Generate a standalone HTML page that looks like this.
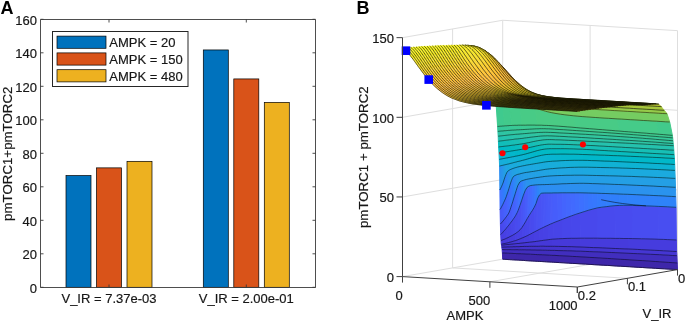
<!DOCTYPE html>
<html><head><meta charset="utf-8"><style>
html,body{margin:0;padding:0;background:#fff;}
body{width:685px;height:323px;overflow:hidden;}
svg{display:block;will-change:transform;}
.t{font-family:"Liberation Sans",sans-serif;font-size:13px;fill:#161616;stroke:#161616;stroke-width:0.18px;}
.al{font-family:"Liberation Sans",sans-serif;font-size:13.3px;fill:#161616;stroke:#161616;stroke-width:0.18px;}
.lab{font-family:"Liberation Sans",sans-serif;font-size:18px;font-weight:bold;fill:#000;}
.e{fill:none;stroke:#000;stroke-width:0.5;}
.es{fill:none;stroke:#000;stroke-width:0.6;}
</style></head><body>
<svg width="685" height="323" viewBox="0 0 685 323">
<rect width="685" height="323" fill="#fff"/>
<rect x="66.00" y="175.58" width="25" height="111.72" fill="#0072BD" stroke="#000" stroke-width="0.7"/>
<rect x="96.50" y="167.87" width="25" height="119.43" fill="#D95319" stroke="#000" stroke-width="0.7"/>
<rect x="127.00" y="161.34" width="25" height="125.96" fill="#EDB120" stroke="#000" stroke-width="0.7"/>
<rect x="203.30" y="49.95" width="25" height="237.35" fill="#0072BD" stroke="#000" stroke-width="0.7"/>
<rect x="233.80" y="78.93" width="25" height="208.37" fill="#D95319" stroke="#000" stroke-width="0.7"/>
<rect x="264.30" y="102.38" width="25" height="184.92" fill="#EDB120" stroke="#000" stroke-width="0.7"/>
<path d="M40.5,19.5H315.5V287.5H40.5Z" fill="none" stroke="#3a3a3a" stroke-width="0.9"/>
<path d="M40.5,287.30h3M315.5,287.30h-3" stroke="#3a3a3a" stroke-width="0.9"/>
<text x="37" y="292.80" class="t" text-anchor="end">0</text>
<path d="M40.5,253.80h3M315.5,253.80h-3" stroke="#3a3a3a" stroke-width="0.9"/>
<text x="37" y="259.30" class="t" text-anchor="end">20</text>
<path d="M40.5,220.30h3M315.5,220.30h-3" stroke="#3a3a3a" stroke-width="0.9"/>
<text x="37" y="225.80" class="t" text-anchor="end">40</text>
<path d="M40.5,186.80h3M315.5,186.80h-3" stroke="#3a3a3a" stroke-width="0.9"/>
<text x="37" y="192.30" class="t" text-anchor="end">60</text>
<path d="M40.5,153.30h3M315.5,153.30h-3" stroke="#3a3a3a" stroke-width="0.9"/>
<text x="37" y="158.80" class="t" text-anchor="end">80</text>
<path d="M40.5,119.80h3M315.5,119.80h-3" stroke="#3a3a3a" stroke-width="0.9"/>
<text x="37" y="125.30" class="t" text-anchor="end">100</text>
<path d="M40.5,86.30h3M315.5,86.30h-3" stroke="#3a3a3a" stroke-width="0.9"/>
<text x="37" y="91.80" class="t" text-anchor="end">120</text>
<path d="M40.5,52.80h3M315.5,52.80h-3" stroke="#3a3a3a" stroke-width="0.9"/>
<text x="37" y="58.30" class="t" text-anchor="end">140</text>
<path d="M40.5,19.30h3M315.5,19.30h-3" stroke="#3a3a3a" stroke-width="0.9"/>
<text x="37" y="24.80" class="t" text-anchor="end">160</text>
<path d="M109.00,287.5v-3M109.00,19.5v3" stroke="#3a3a3a" stroke-width="0.9"/>
<path d="M246.30,287.5v-3M246.30,19.5v3" stroke="#3a3a3a" stroke-width="0.9"/>
<text x="109" y="303" class="t" text-anchor="middle">V_IR = 7.37e-03</text>
<text x="246.3" y="303" class="t" text-anchor="middle">V_IR = 2.00e-01</text>
<text transform="translate(12.3,153.75) rotate(-90)" class="al" text-anchor="middle">pmTORC1+pmTORC2</text>
<rect x="52.5" y="31.5" width="135.5" height="55" fill="#fff" stroke="#262626" stroke-width="1"/>
<rect x="57" y="36.10" width="49" height="12.2" fill="#0072BD" stroke="#000" stroke-width="0.7"/>
<text x="109.3" y="46.90" class="t">AMPK = 20</text>
<rect x="57" y="52.90" width="49" height="12.2" fill="#D95319" stroke="#000" stroke-width="0.7"/>
<text x="109.3" y="63.70" class="t">AMPK = 150</text>
<rect x="57" y="69.70" width="49" height="12.2" fill="#EDB120" stroke="#000" stroke-width="0.7"/>
<text x="109.3" y="80.50" class="t">AMPK = 480</text>
<text x="0.5" y="14.3" class="lab">A</text>
<path d="M402.50,276.60L502.70,259.20" stroke="#dedede" stroke-width="1" fill="none"/>
<path d="M489.90,281.80L590.10,264.40" stroke="#dedede" stroke-width="1" fill="none"/>
<path d="M452.60,267.90L627.40,278.30" stroke="#dedede" stroke-width="1" fill="none"/>
<path d="M502.70,259.20L677.50,269.60" stroke="#dedede" stroke-width="1" fill="none"/>
<path d="M452.60,267.90L452.60,28.95" stroke="#dedede" stroke-width="1" fill="none"/>
<path d="M502.70,259.20L502.70,20.25" stroke="#dedede" stroke-width="1" fill="none"/>
<path d="M402.50,196.95L502.70,179.55" stroke="#dedede" stroke-width="1" fill="none"/>
<path d="M402.50,117.30L502.70,99.90" stroke="#dedede" stroke-width="1" fill="none"/>
<path d="M402.50,37.65L502.70,20.25" stroke="#dedede" stroke-width="1" fill="none"/>
<path d="M590.10,264.40L590.10,25.45" stroke="#dedede" stroke-width="1" fill="none"/>
<path d="M677.50,269.60L677.50,30.65" stroke="#dedede" stroke-width="1" fill="none"/>
<path d="M502.70,179.55L677.50,189.95" stroke="#dedede" stroke-width="1" fill="none"/>
<path d="M502.70,99.90L677.50,110.30" stroke="#dedede" stroke-width="1" fill="none"/>
<path d="M502.70,20.25L677.50,30.65" stroke="#dedede" stroke-width="1" fill="none"/>
<path d="M502.7,259.2 503.6,259.3 504.4,259.3 505.3,259.4 506.2,259.4 507.1,259.5 507.9,259.5 508.8,259.6 509.7,259.6 510.6,259.7 511.4,259.7 512.3,259.8 513.2,259.8 514.1,259.9 514.9,259.9 515.8,260 516.7,260 517.6,260.1 518.4,260.1 519.3,260.2 520.2,260.2 521.9,260.3 523.7,260.4 525.4,260.6 527.2,260.7 528.9,260.8 530.7,260.9 532.4,261 534.2,261.1 535.9,261.2 537.7,261.3 539.4,261.4 541.2,261.5 542.9,261.6 544.7,261.7 546.4,261.8 548.1,261.9 549.9,262 551.6,262.1 553.4,262.2 555.1,262.3 559.5,262.6 563.9,262.8 568.2,263.1 572.6,263.4 577,263.6 581.4,263.9 585.7,264.1 590.1,264.4 594.5,264.7 598.8,264.9 603.2,265.2 607.6,265.4 612,265.7 616.3,266 620.7,266.2 625.1,266.5 629.4,266.7 633.8,267 638.2,267.3 642.5,267.5 646.9,267.8 651.3,268 655.6,268.3 660,268.6 664.4,268.8 668.8,269.1 673.1,269.3 677.5,269.6 677.2,263 672.8,262.7 668.5,262.4 664.1,262.1 659.7,261.8 655.4,261.5 651,261.2 646.6,260.9 642.3,260.6 637.9,260.4 633.5,260.1 629.1,259.8 624.8,259.5 620.4,259.3 616,259 611.7,258.7 607.3,258.4 602.9,258.2 598.6,257.9 594.2,257.6 589.8,257.4 585.4,257.1 581.1,256.9 576.7,256.6 572.3,256.4 568,256.1 563.6,255.9 559.2,255.7 554.9,255.4 553.1,255.4 551.4,255.3 549.6,255.2 547.9,255.1 546.1,255 544.4,254.9 542.6,254.8 540.9,254.7 539.1,254.7 537.4,254.6 535.6,254.5 533.9,254.4 532.1,254.3 530.4,254.2 528.6,254.1 526.9,254.1 525.1,254 523.4,253.9 521.6,253.8 519.9,253.7 519,253.7 518.1,253.7 517.3,253.6 516.4,253.6 515.5,253.5 514.7,253.5 513.8,253.5 512.9,253.4 512,253.4 511.2,253.3 510.3,253.3 509.4,253.3 508.5,253.2 507.7,253.2 506.8,253.1 505.9,253.1 505,253.1 504.2,253 503.3,253 502.4,253Z" fill="#3e27aa" stroke="#3e27aa" stroke-width="1.0"/>
<path class="e" d="M502.7,259.2 503.6,259.3 504.4,259.3 505.3,259.4 506.2,259.4 507.1,259.5 507.9,259.5 508.8,259.6 509.7,259.6 510.6,259.7 511.4,259.7 512.3,259.8 513.2,259.8 514.1,259.9 514.9,259.9 515.8,260 516.7,260 517.6,260.1 518.4,260.1 519.3,260.2 520.2,260.2 521.9,260.3 523.7,260.4 525.4,260.6 527.2,260.7 528.9,260.8 530.7,260.9 532.4,261 534.2,261.1 535.9,261.2 537.7,261.3 539.4,261.4 541.2,261.5 542.9,261.6 544.7,261.7 546.4,261.8 548.1,261.9 549.9,262 551.6,262.1 553.4,262.2 555.1,262.3 559.5,262.6 563.9,262.8 568.2,263.1 572.6,263.4 577,263.6 581.4,263.9 585.7,264.1 590.1,264.4 594.5,264.7 598.8,264.9 603.2,265.2 607.6,265.4 612,265.7 616.3,266 620.7,266.2 625.1,266.5 629.4,266.7 633.8,267 638.2,267.3 642.5,267.5 646.9,267.8 651.3,268 655.6,268.3 660,268.6 664.4,268.8 668.8,269.1 673.1,269.3 677.5,269.6"/>
<path d="M502.4,253 503.3,253 504.2,253 505,253.1 505.9,253.1 506.8,253.1 507.7,253.2 508.5,253.2 509.4,253.3 510.3,253.3 511.2,253.3 512,253.4 512.9,253.4 513.8,253.5 514.7,253.5 515.5,253.5 516.4,253.6 517.3,253.6 518.1,253.7 519,253.7 519.9,253.7 521.6,253.8 523.4,253.9 525.1,254 526.9,254.1 528.6,254.1 530.4,254.2 532.1,254.3 533.9,254.4 535.6,254.5 537.4,254.6 539.1,254.7 540.9,254.7 542.6,254.8 544.4,254.9 546.1,255 547.9,255.1 549.6,255.2 551.4,255.3 553.1,255.4 554.9,255.4 559.2,255.7 563.6,255.9 568,256.1 572.3,256.4 576.7,256.6 581.1,256.9 585.4,257.1 589.8,257.4 594.2,257.6 598.6,257.9 602.9,258.2 607.3,258.4 611.7,258.7 616,259 620.4,259.3 624.8,259.5 629.1,259.8 633.5,260.1 637.9,260.4 642.3,260.6 646.6,260.9 651,261.2 655.4,261.5 659.7,261.8 664.1,262.1 668.5,262.4 672.8,262.7 677.2,263 676.9,255.7 672.6,255.5 668.2,255.2 663.8,255 659.5,254.7 655.1,254.5 650.7,254.3 646.3,254.1 642,253.9 637.6,253.7 633.2,253.5 628.9,253.3 624.5,253.1 620.1,252.9 615.8,252.7 611.4,252.5 607,252.3 602.6,252.1 598.3,251.9 593.9,251.8 589.5,251.6 585.2,251.4 580.8,251.2 576.4,251.1 572.1,250.9 567.7,250.8 563.3,250.7 558.9,250.6 554.6,250.4 552.8,250.4 551.1,250.4 549.3,250.3 547.6,250.3 545.8,250.2 544.1,250.2 542.3,250.2 540.6,250.1 538.8,250.1 537.1,250.1 535.3,250 533.6,250 531.8,250 530.1,249.9 528.4,249.9 526.6,249.9 524.9,249.8 523.1,249.8 521.4,249.8 519.6,249.8 518.7,249.8 517.9,249.7 517,249.7 516.1,249.7 515.2,249.7 514.4,249.7 513.5,249.7 512.6,249.7 511.7,249.7 510.9,249.7 510,249.6 509.1,249.6 508.3,249.6 507.4,249.6 506.5,249.6 505.6,249.6 504.8,249.6 503.9,249.6 503,249.6 502.1,249.5Z" fill="#412ebe" stroke="#412ebe" stroke-width="1.0"/>
<path class="e" d="M502.4,253 503.3,253 504.2,253 505,253.1 505.9,253.1 506.8,253.1 507.7,253.2 508.5,253.2 509.4,253.3 510.3,253.3 511.2,253.3 512,253.4 512.9,253.4 513.8,253.5 514.7,253.5 515.5,253.5 516.4,253.6 517.3,253.6 518.1,253.7 519,253.7 519.9,253.7 521.6,253.8 523.4,253.9 525.1,254 526.9,254.1 528.6,254.1 530.4,254.2 532.1,254.3 533.9,254.4 535.6,254.5 537.4,254.6 539.1,254.7 540.9,254.7 542.6,254.8 544.4,254.9 546.1,255 547.9,255.1 549.6,255.2 551.4,255.3 553.1,255.4 554.9,255.4 559.2,255.7 563.6,255.9 568,256.1 572.3,256.4 576.7,256.6 581.1,256.9 585.4,257.1 589.8,257.4 594.2,257.6 598.6,257.9 602.9,258.2 607.3,258.4 611.7,258.7 616,259 620.4,259.3 624.8,259.5 629.1,259.8 633.5,260.1 637.9,260.4 642.3,260.6 646.6,260.9 651,261.2 655.4,261.5 659.7,261.8 664.1,262.1 668.5,262.4 672.8,262.7 677.2,263"/>
<path d="M502.1,249.5 503,249.6 503.9,249.6 503.6,247.1 502.7,247.1 501.8,247.2Z" fill="#4331c6" stroke="#4331c6" stroke-width="1.0"/>
<path d="M503.9,249.6 504.8,249.6 505.6,249.6 506.5,249.6 507.4,249.6 508.3,249.6 509.1,249.6 510,249.6 510.9,249.7 511.7,249.7 512.6,249.7 513.5,249.7 514.4,249.7 515.2,249.7 516.1,249.7 517,249.7 517.9,249.7 518.7,249.8 519.6,249.8 521.4,249.8 523.1,249.8 522.8,246.5 521.1,246.5 519.3,246.6 518.5,246.6 517.6,246.6 516.7,246.6 515.8,246.7 515,246.7 514.1,246.7 513.2,246.7 512.3,246.8 511.5,246.8 510.6,246.8 509.7,246.9 508.8,246.9 508,246.9 507.1,246.9 506.2,247 505.3,247 504.5,247 503.6,247.1Z" fill="#4332c9" stroke="#4332c9" stroke-width="1.0"/>
<path d="M523.1,249.8 524.9,249.8 526.6,249.9 528.4,249.9 530.1,249.9 531.8,250 533.6,250 535.3,250 537.1,250.1 538.8,250.1 540.6,250.1 542.3,250.2 544.1,250.2 543.8,246.2 542.1,246.2 540.3,246.2 538.6,246.3 536.8,246.3 535.1,246.3 533.3,246.3 531.6,246.3 529.8,246.3 528.1,246.4 526.3,246.4 524.6,246.4 522.8,246.5Z" fill="#4433cc" stroke="#4433cc" stroke-width="1.0"/>
<path d="M544.1,250.2 545.8,250.2 547.6,250.3 549.3,250.3 551.1,250.4 552.8,250.4 554.6,250.4 558.9,250.6 563.3,250.7 567.7,250.8 572.1,250.9 571.8,246.7 567.4,246.6 563,246.5 558.7,246.4 554.3,246.3 552.5,246.3 550.8,246.3 549,246.3 547.3,246.3 545.5,246.3 543.8,246.2Z" fill="#4434ce" stroke="#4434ce" stroke-width="1.0"/>
<path d="M572.1,250.9 576.4,251.1 580.8,251.2 585.2,251.4 589.5,251.6 593.9,251.8 598.3,251.9 602.6,252.1 607,252.3 611.4,252.5 615.8,252.7 615.5,248.5 611.1,248.3 606.7,248.1 602.4,247.9 598,247.7 593.6,247.6 589.2,247.4 584.9,247.2 580.5,247 576.1,246.9 571.8,246.7Z" fill="#4435d1" stroke="#4435d1" stroke-width="1.0"/>
<path d="M615.8,252.7 620.1,252.9 624.5,253.1 628.9,253.3 633.2,253.5 637.6,253.7 642,253.9 646.3,254.1 650.7,254.3 655.1,254.5 659.5,254.7 663.8,255 668.2,255.2 672.6,255.5 676.9,255.7 676.6,251.5 672.3,251.3 667.9,251 663.5,250.8 659.2,250.5 654.8,250.3 650.4,250.1 646.1,249.9 641.7,249.7 637.3,249.4 632.9,249.2 628.6,249 624.2,248.9 619.8,248.7 615.5,248.5Z" fill="#4536d3" stroke="#4536d3" stroke-width="1.0"/>
<path class="e" d="M502.1,249.5 503,249.6 503.9,249.6 504.8,249.6 505.6,249.6 506.5,249.6 507.4,249.6 508.3,249.6 509.1,249.6 510,249.6 510.9,249.7 511.7,249.7 512.6,249.7 513.5,249.7 514.4,249.7 515.2,249.7 516.1,249.7 517,249.7 517.9,249.7 518.7,249.8 519.6,249.8 521.4,249.8 523.1,249.8 524.9,249.8 526.6,249.9 528.4,249.9 530.1,249.9 531.8,250 533.6,250 535.3,250 537.1,250.1 538.8,250.1 540.6,250.1 542.3,250.2 544.1,250.2 545.8,250.2 547.6,250.3 549.3,250.3 551.1,250.4 552.8,250.4 554.6,250.4 558.9,250.6 563.3,250.7 567.7,250.8 572.1,250.9 576.4,251.1 580.8,251.2 585.2,251.4 589.5,251.6 593.9,251.8 598.3,251.9 602.6,252.1 607,252.3 611.4,252.5 615.8,252.7 620.1,252.9 624.5,253.1 628.9,253.3 633.2,253.5 637.6,253.7 642,253.9 646.3,254.1 650.7,254.3 655.1,254.5 659.5,254.7 663.8,255 668.2,255.2 672.6,255.5 676.9,255.7"/>
<path d="M501.8,247.2 502.7,247.1 503.6,247.1 504.5,247 505.3,247 505.1,244.8 504.2,244.9 503.3,245 502.4,245.1 501.6,245.2Z" fill="#4434ce" stroke="#4434ce" stroke-width="1.0"/>
<path d="M505.3,247 506.2,247 507.1,246.9 508,246.9 508.8,246.9 509.7,246.9 510.6,246.8 511.5,246.8 512.3,246.8 513.2,246.7 514.1,246.7 513.8,243.9 512.9,244 512.1,244.1 511.2,244.2 510.3,244.3 509.4,244.4 508.6,244.5 507.7,244.5 506.8,244.6 505.9,244.7 505.1,244.8Z" fill="#4435d1" stroke="#4435d1" stroke-width="1.0"/>
<path d="M514.1,246.7 515,246.7 515.8,246.7 516.7,246.6 517.6,246.6 518.5,246.6 519.3,246.6 521.1,246.5 522.8,246.5 524.6,246.4 524.3,242.8 522.5,243 520.8,243.2 519,243.4 518.2,243.5 517.3,243.5 516.4,243.6 515.5,243.7 514.7,243.8 513.8,243.9Z" fill="#4536d3" stroke="#4536d3" stroke-width="1.0"/>
<path d="M524.6,246.4 526.3,246.4 528.1,246.4 529.8,246.3 531.6,246.3 533.3,246.3 535.1,246.3 536.8,246.3 536.5,241.3 534.8,241.6 533,241.8 531.3,242 529.5,242.2 527.8,242.4 526,242.6 524.3,242.8Z" fill="#4537d6" stroke="#4537d6" stroke-width="1.0"/>
<path d="M536.8,246.3 538.6,246.3 540.3,246.2 542.1,246.2 543.8,246.2 545.5,246.3 547.3,246.3 549,246.3 550.8,246.3 552.5,246.3 552.3,239.2 550.5,239.4 548.8,239.6 547,239.9 545.3,240.1 543.5,240.3 541.8,240.6 540,240.8 538.3,241.1 536.5,241.3Z" fill="#4538d8" stroke="#4538d8" stroke-width="1.0"/>
<path d="M552.5,246.3 554.3,246.3 558.7,246.4 563,246.5 567.4,246.6 571.8,246.7 576.1,246.9 580.5,247 580.2,238.2 575.9,238.3 571.5,238.3 567.1,238.4 562.7,238.6 558.4,238.8 554,239.1 552.3,239.2Z" fill="#4639da" stroke="#4639da" stroke-width="1.0"/>
<path d="M580.5,247 584.9,247.2 589.2,247.4 593.6,247.6 598,247.7 602.4,247.9 606.7,248.1 611.1,248.3 615.5,248.5 619.8,248.7 624.2,248.9 628.6,249 628.3,238.5 623.9,238.5 619.6,238.4 615.2,238.4 610.8,238.3 606.4,238.3 602.1,238.3 597.7,238.2 593.3,238.2 589,238.2 584.6,238.2 580.2,238.2Z" fill="#463bdc" stroke="#463bdc" stroke-width="1.0"/>
<path d="M628.6,249 632.9,249.2 637.3,249.4 641.7,249.7 646.1,249.9 650.4,250.1 654.8,250.3 659.2,250.5 663.5,250.8 667.9,251 672.3,251.3 676.6,251.5 676.4,240 672,239.8 667.6,239.6 663.3,239.4 658.9,239.3 654.5,239.1 650.1,239 645.8,238.9 641.4,238.8 637,238.7 632.7,238.6 628.3,238.5Z" fill="#463cde" stroke="#463cde" stroke-width="1.0"/>
<path class="e" d="M501.8,247.2 502.7,247.1 503.6,247.1 504.5,247 505.3,247 506.2,247 507.1,246.9 508,246.9 508.8,246.9 509.7,246.9 510.6,246.8 511.5,246.8 512.3,246.8 513.2,246.7 514.1,246.7 515,246.7 515.8,246.7 516.7,246.6 517.6,246.6 518.5,246.6 519.3,246.6 521.1,246.5 522.8,246.5 524.6,246.4 526.3,246.4 528.1,246.4 529.8,246.3 531.6,246.3 533.3,246.3 535.1,246.3 536.8,246.3 538.6,246.3 540.3,246.2 542.1,246.2 543.8,246.2 545.5,246.3 547.3,246.3 549,246.3 550.8,246.3 552.5,246.3 554.3,246.3 558.7,246.4 563,246.5 567.4,246.6 571.8,246.7 576.1,246.9 580.5,247 584.9,247.2 589.2,247.4 593.6,247.6 598,247.7 602.4,247.9 606.7,248.1 611.1,248.3 615.5,248.5 619.8,248.7 624.2,248.9 628.6,249 632.9,249.2 637.3,249.4 641.7,249.7 646.1,249.9 650.4,250.1 654.8,250.3 659.2,250.5 663.5,250.8 667.9,251 672.3,251.3 676.6,251.5"/>
<path d="M501.6,245.2 502.4,245.1 502.2,244 501.3,244.2Z" fill="#4536d3" stroke="#4536d3" stroke-width="1.0"/>
<path d="M502.4,245.1 503.3,245 504.2,244.9 505.1,244.8 505.9,244.7 506.8,244.6 507.7,244.5 507.4,242.9 506.5,243.1 505.7,243.3 504.8,243.5 503.9,243.7 503,243.8 502.2,244Z" fill="#4537d6" stroke="#4537d6" stroke-width="1.0"/>
<path d="M507.7,244.5 508.6,244.5 509.4,244.4 510.3,244.3 511.2,244.2 512.1,244.1 512.9,244 512.6,241.5 511.8,241.7 510.9,242 510,242.2 509.1,242.4 508.3,242.7 507.4,242.9Z" fill="#4538d8" stroke="#4538d8" stroke-width="1.0"/>
<path d="M512.9,244 513.8,243.9 514.7,243.8 515.5,243.7 516.4,243.6 517.3,243.5 518.2,243.5 517.9,239.7 517,240.1 516.1,240.4 515.3,240.7 514.4,240.9 513.5,241.2 512.6,241.5Z" fill="#4639da" stroke="#4639da" stroke-width="1.0"/>
<path d="M518.2,243.5 519,243.4 520.8,243.2 522.5,243 524.3,242.8 524,237.2 522.3,237.9 520.5,238.7 518.8,239.4 517.9,239.7Z" fill="#463bdc" stroke="#463bdc" stroke-width="1.0"/>
<path d="M524.3,242.8 526,242.6 527.8,242.4 529.5,242.2 529.2,234.7 527.5,235.6 525.8,236.4 524,237.2Z" fill="#463cde" stroke="#463cde" stroke-width="1.0"/>
<path d="M529.5,242.2 531.3,242 533,241.8 534.8,241.6 534.5,231.9 532.7,232.8 531,233.8 529.2,234.7Z" fill="#463de0" stroke="#463de0" stroke-width="1.0"/>
<path d="M534.8,241.6 536.5,241.3 538.3,241.1 540,240.8 539.7,229.2 538,230.1 536.2,231 534.5,231.9Z" fill="#473fe2" stroke="#473fe2" stroke-width="1.0"/>
<path d="M540,240.8 541.8,240.6 543.5,240.3 543.2,227.5 541.5,228.3 539.7,229.2Z" fill="#4740e4" stroke="#4740e4" stroke-width="1.0"/>
<path d="M543.5,240.3 545.3,240.1 547,239.9 548.8,239.6 548.5,225 546.7,225.8 545,226.6 543.2,227.5Z" fill="#4741e5" stroke="#4741e5" stroke-width="1.0"/>
<path d="M548.8,239.6 550.5,239.4 552.3,239.2 554,239.1 553.7,222.7 552,223.5 550.2,224.2 548.5,225Z" fill="#4743e7" stroke="#4743e7" stroke-width="1.0"/>
<path d="M554,239.1 558.4,238.8 562.7,238.6 562.5,219.3 558.1,221 553.7,222.7Z" fill="#4744e8" stroke="#4744e8" stroke-width="1.0"/>
<path d="M562.7,238.6 567.1,238.4 571.5,238.3 571.2,216 566.8,217.6 562.5,219.3Z" fill="#4746ea" stroke="#4746ea" stroke-width="1.0"/>
<path d="M571.5,238.3 575.9,238.3 580.2,238.2 579.9,213 575.6,214.4 571.2,216Z" fill="#4747eb" stroke="#4747eb" stroke-width="1.0"/>
<path d="M580.2,238.2 584.6,238.2 589,238.2 593.3,238.2 597.7,238.2 597.4,207.9 593.1,209 588.7,210.2 584.3,211.6 579.9,213Z" fill="#4848ec" stroke="#4848ec" stroke-width="1.0"/>
<path d="M597.7,238.2 602.1,238.3 606.4,238.3 610.8,238.3 615.2,238.4 614.9,205.7 610.5,206.1 606.2,206.7 601.8,207.2 597.4,207.9Z" fill="#484aee" stroke="#484aee" stroke-width="1.0"/>
<path d="M615.2,238.4 619.6,238.4 623.9,238.5 628.3,238.5 632.7,238.6 632.4,205.4 628,205.3 623.6,205.3 619.3,205.4 614.9,205.7Z" fill="#484bef" stroke="#484bef" stroke-width="1.0"/>
<path d="M632.7,238.6 637,238.7 641.4,238.8 645.8,238.9 650.1,239 654.5,239.1 658.9,239.3 658.6,206.4 654.2,206.2 649.9,206 645.5,205.9 641.1,205.7 636.8,205.6 632.4,205.4Z" fill="#484df0" stroke="#484df0" stroke-width="1.0"/>
<path d="M658.9,239.3 663.3,239.4 667.6,239.6 672,239.8 676.4,240 676.1,207.3 671.7,207.1 667.3,206.8 663,206.6 658.6,206.4Z" fill="#484ef1" stroke="#484ef1" stroke-width="1.0"/>
<path class="e" d="M501.6,245.2 502.4,245.1 503.3,245 504.2,244.9 505.1,244.8 505.9,244.7 506.8,244.6 507.7,244.5 508.6,244.5 509.4,244.4 510.3,244.3 511.2,244.2 512.1,244.1 512.9,244 513.8,243.9 514.7,243.8 515.5,243.7 516.4,243.6 517.3,243.5 518.2,243.5 519,243.4 520.8,243.2 522.5,243 524.3,242.8 526,242.6 527.8,242.4 529.5,242.2 531.3,242 533,241.8 534.8,241.6 536.5,241.3 538.3,241.1 540,240.8 541.8,240.6 543.5,240.3 545.3,240.1 547,239.9 548.8,239.6 550.5,239.4 552.3,239.2 554,239.1 558.4,238.8 562.7,238.6 567.1,238.4 571.5,238.3 575.9,238.3 580.2,238.2 584.6,238.2 589,238.2 593.3,238.2 597.7,238.2 602.1,238.3 606.4,238.3 610.8,238.3 615.2,238.4 619.6,238.4 623.9,238.5 628.3,238.5 632.7,238.6 637,238.7 641.4,238.8 645.8,238.9 650.1,239 654.5,239.1 658.9,239.3 663.3,239.4 667.6,239.6 672,239.8 676.4,240"/>
<path d="M501.3,244.2 502.2,244 503,243.8 503.9,243.7 504.8,243.5 504.5,239.2 503.6,239.5 502.7,239.9 501.9,240.2 501,240.5Z" fill="#4538d8" stroke="#4538d8" stroke-width="1.0"/>
<path d="M504.8,243.5 505.7,243.3 506.5,243.1 507.4,242.9 508.3,242.7 508,237.6 507.1,238 506.2,238.4 505.4,238.8 504.5,239.2Z" fill="#4639da" stroke="#4639da" stroke-width="1.0"/>
<path d="M508.3,242.7 509.1,242.4 510,242.2 510.9,242 510.6,236.3 509.7,236.7 508.9,237.2 508,237.6Z" fill="#463bdc" stroke="#463bdc" stroke-width="1.0"/>
<path d="M510.9,242 511.8,241.7 512.6,241.5 513.5,241.2 513.2,234.9 512.4,235.4 511.5,235.8 510.6,236.3Z" fill="#463cde" stroke="#463cde" stroke-width="1.0"/>
<path d="M513.5,241.2 514.4,240.9 515.3,240.7 515,233.8 514.1,234.4 513.2,234.9Z" fill="#463de0" stroke="#463de0" stroke-width="1.0"/>
<path d="M515.3,240.7 516.1,240.4 517,240.1 517.9,239.7 517.6,232 516.7,232.6 515.9,233.3 515,233.8Z" fill="#473fe2" stroke="#473fe2" stroke-width="1.0"/>
<path d="M517.9,239.7 518.8,239.4 520.5,238.7 520.2,229.7 518.5,231.3 517.6,232Z" fill="#4740e4" stroke="#4740e4" stroke-width="1.0"/>
<path d="M520.5,238.7 522.3,237.9 522,227.5 520.2,229.7Z" fill="#4741e5" stroke="#4741e5" stroke-width="1.0"/>
<path d="M522.3,237.9 524,237.2 523.7,224.8 522,227.5Z" fill="#4743e7" stroke="#4743e7" stroke-width="1.0"/>
<path d="M524,237.2 525.8,236.4 525.5,221.8 523.7,224.8Z" fill="#4744e8" stroke="#4744e8" stroke-width="1.0"/>
<path d="M525.8,236.4 527.5,235.6 527.2,218.7 525.5,221.8Z" fill="#4746ea" stroke="#4746ea" stroke-width="1.0"/>
<path d="M527.5,235.6 529.2,234.7 529,215.7 527.2,218.7Z" fill="#4747eb" stroke="#4747eb" stroke-width="1.0"/>
<path d="M529.2,234.7 531,233.8 530.7,213 529,215.7Z" fill="#4848ec" stroke="#4848ec" stroke-width="1.0"/>
<path d="M531,233.8 532.7,232.8 532.5,210.3 530.7,213Z" fill="#484aee" stroke="#484aee" stroke-width="1.0"/>
<path d="M532.7,232.8 534.5,231.9 534.2,207.4 532.5,210.3Z" fill="#484bef" stroke="#484bef" stroke-width="1.0"/>
<path d="M534.5,231.9 536.2,231 536,203.6 534.2,207.4Z" fill="#484ef1" stroke="#484ef1" stroke-width="1.0"/>
<path d="M536.2,231 538,230.1 537.7,198.3 536,203.6Z" fill="#484ff2" stroke="#484ff2" stroke-width="1.0"/>
<path d="M538,230.1 539.7,229.2 539.5,194.9 537.7,198.3Z" fill="#4851f3" stroke="#4851f3" stroke-width="1.0"/>
<path d="M539.7,229.2 541.5,228.3 541.2,193.3 539.5,194.9Z" fill="#4852f4" stroke="#4852f4" stroke-width="1.0"/>
<path d="M541.5,228.3 543.2,227.5 542.9,193.1 541.2,193.3Z" fill="#4854f5" stroke="#4854f5" stroke-width="1.0"/>
<path d="M543.2,227.5 545,226.6 544.7,193 542.9,193.1Z" fill="#4755f6" stroke="#4755f6" stroke-width="1.0"/>
<path d="M545,226.6 546.7,225.8 546.4,193 544.7,193Z" fill="#4756f7" stroke="#4756f7" stroke-width="1.0"/>
<path d="M546.7,225.8 548.5,225 548.2,193 546.4,193Z" fill="#4758f8" stroke="#4758f8" stroke-width="1.0"/>
<path d="M548.5,225 550.2,224.2 549.9,193 548.2,193Z" fill="#4759f8" stroke="#4759f8" stroke-width="1.0"/>
<path d="M550.2,224.2 552,223.5 551.7,193 549.9,193Z" fill="#475af9" stroke="#475af9" stroke-width="1.0"/>
<path d="M552,223.5 553.7,222.7 553.4,192.9 551.7,193Z" fill="#475cfa" stroke="#475cfa" stroke-width="1.0"/>
<path d="M553.7,222.7 558.1,221 557.8,192.9 553.4,192.9Z" fill="#465dfb" stroke="#465dfb" stroke-width="1.0"/>
<path d="M558.1,221 562.5,219.3 562.2,192.8 557.8,192.9Z" fill="#4660fc" stroke="#4660fc" stroke-width="1.0"/>
<path d="M562.5,219.3 566.8,217.6 566.5,192.8 562.2,192.8Z" fill="#4464fd" stroke="#4464fd" stroke-width="1.0"/>
<path d="M566.8,217.6 571.2,216 570.9,192.8 566.5,192.8Z" fill="#4367fd" stroke="#4367fd" stroke-width="1.0"/>
<path d="M571.2,216 575.6,214.4 575.3,192.8 570.9,192.8Z" fill="#426afe" stroke="#426afe" stroke-width="1.0"/>
<path d="M575.6,214.4 579.9,213 579.7,192.8 575.3,192.8Z" fill="#406dfe" stroke="#406dfe" stroke-width="1.0"/>
<path d="M579.9,213 584.3,211.6 584,192.9 579.7,192.8Z" fill="#3d70ff" stroke="#3d70ff" stroke-width="1.0"/>
<path d="M584.3,211.6 588.7,210.2 588.4,193 584,192.9Z" fill="#3a73fe" stroke="#3a73fe" stroke-width="1.0"/>
<path d="M588.7,210.2 593.1,209 592.8,193.1 588.4,193Z" fill="#3776fe" stroke="#3776fe" stroke-width="1.0"/>
<path d="M593.1,209 597.4,207.9 597.1,193.2 592.8,193.1Z" fill="#3678fe" stroke="#3678fe" stroke-width="1.0"/>
<path d="M597.4,207.9 601.8,207.2 601.5,193.4 597.1,193.2Z" fill="#337bfd" stroke="#337bfd" stroke-width="1.0"/>
<path d="M601.8,207.2 606.2,206.7 605.9,193.5 601.5,193.4Z" fill="#327cfc" stroke="#327cfc" stroke-width="1.0"/>
<path d="M606.2,206.7 610.5,206.1 610.2,193.7 605.9,193.5Z" fill="#317efb" stroke="#317efb" stroke-width="1.0"/>
<path d="M610.5,206.1 614.9,205.7 619.3,205.4 619,194 614.6,193.8 610.2,193.7Z" fill="#307ffb" stroke="#307ffb" stroke-width="1.0"/>
<path d="M619.3,205.4 623.6,205.3 628,205.3 627.7,194.3 623.4,194.2 619,194Z" fill="#2f81fa" stroke="#2f81fa" stroke-width="1.0"/>
<path d="M628,205.3 632.4,205.4 636.8,205.6 641.1,205.7 645.5,205.9 649.9,206 654.2,206.2 658.6,206.4 658.3,195.7 653.9,195.5 649.6,195.3 645.2,195.1 640.8,194.9 636.5,194.7 632.1,194.5 627.7,194.3Z" fill="#2f82fa" stroke="#2f82fa" stroke-width="1.0"/>
<path d="M658.6,206.4 663,206.6 667.3,206.8 671.7,207.1 676.1,207.3 675.8,196.7 671.4,196.4 667.1,196.2 662.7,195.9 658.3,195.7Z" fill="#2e83f9" stroke="#2e83f9" stroke-width="1.0"/>
<path class="e" d="M501.3,244.2 502.2,244 503,243.8 503.9,243.7 504.8,243.5 505.7,243.3 506.5,243.1 507.4,242.9 508.3,242.7 509.1,242.4 510,242.2 510.9,242 511.8,241.7 512.6,241.5 513.5,241.2 514.4,240.9 515.3,240.7 516.1,240.4 517,240.1 517.9,239.7 518.8,239.4 520.5,238.7 522.3,237.9 524,237.2 525.8,236.4 527.5,235.6 529.2,234.7 531,233.8 532.7,232.8 534.5,231.9 536.2,231 538,230.1 539.7,229.2 541.5,228.3 543.2,227.5 545,226.6 546.7,225.8 548.5,225 550.2,224.2 552,223.5 553.7,222.7 558.1,221 562.5,219.3 566.8,217.6 571.2,216 575.6,214.4 579.9,213 584.3,211.6 588.7,210.2 593.1,209 597.4,207.9 601.8,207.2 606.2,206.7 610.5,206.1 614.9,205.7 619.3,205.4 623.6,205.3 628,205.3 632.4,205.4 636.8,205.6 641.1,205.7 645.5,205.9 649.9,206 654.2,206.2 658.6,206.4 663,206.6 667.3,206.8 671.7,207.1 676.1,207.3"/>
<path d="M501,240.5 501.9,240.2 502.7,239.9 502.5,232.7 501.6,233.6 500.7,234.5Z" fill="#463de0" stroke="#463de0" stroke-width="1.0"/>
<path d="M502.7,239.9 503.6,239.5 504.5,239.2 504.2,230.7 503.3,231.7 502.5,232.7Z" fill="#473fe2" stroke="#473fe2" stroke-width="1.0"/>
<path d="M504.5,239.2 505.4,238.8 506.2,238.4 506,228.7 505.1,229.7 504.2,230.7Z" fill="#4740e4" stroke="#4740e4" stroke-width="1.0"/>
<path d="M506.2,238.4 507.1,238 508,237.6 507.7,226.5 506.8,227.6 506,228.7Z" fill="#4741e5" stroke="#4741e5" stroke-width="1.0"/>
<path d="M508,237.6 508.9,237.2 509.7,236.7 509.5,224.3 508.6,225.4 507.7,226.5Z" fill="#4743e7" stroke="#4743e7" stroke-width="1.0"/>
<path d="M509.7,236.7 510.6,236.3 511.5,235.8 511.2,222 510.3,223.2 509.5,224.3Z" fill="#4744e8" stroke="#4744e8" stroke-width="1.0"/>
<path d="M511.5,235.8 512.4,235.4 513.2,234.9 512.9,219.7 512.1,220.9 511.2,222Z" fill="#4746ea" stroke="#4746ea" stroke-width="1.0"/>
<path d="M513.2,234.9 514.1,234.4 513.8,218.4 512.9,219.7Z" fill="#4747eb" stroke="#4747eb" stroke-width="1.0"/>
<path d="M514.1,234.4 515,233.8 515.9,233.3 515.6,215.6 514.7,217.1 513.8,218.4Z" fill="#4848ec" stroke="#4848ec" stroke-width="1.0"/>
<path d="M515.9,233.3 516.7,232.6 516.4,214.1 515.6,215.6Z" fill="#484aee" stroke="#484aee" stroke-width="1.0"/>
<path d="M516.7,232.6 517.6,232 518.5,231.3 518.2,210.3 517.3,212.4 516.4,214.1Z" fill="#484bef" stroke="#484bef" stroke-width="1.0"/>
<path d="M518.5,231.3 520.2,229.7 519.9,205.6 518.2,210.3Z" fill="#484df0" stroke="#484df0" stroke-width="1.0"/>
<path d="M520.2,229.7 522,227.5 521.7,200.4 519.9,205.6Z" fill="#484ff2" stroke="#484ff2" stroke-width="1.0"/>
<path d="M522,227.5 523.7,224.8 523.4,195.2 521.7,200.4Z" fill="#4854f5" stroke="#4854f5" stroke-width="1.0"/>
<path d="M523.7,224.8 525.5,221.8 525.2,190.6 523.4,195.2Z" fill="#4758f8" stroke="#4758f8" stroke-width="1.0"/>
<path d="M525.5,221.8 527.2,218.7 526.9,187.6 525.2,190.6Z" fill="#475cfa" stroke="#475cfa" stroke-width="1.0"/>
<path d="M527.2,218.7 529,215.7 528.7,186.3 526.9,187.6Z" fill="#4561fc" stroke="#4561fc" stroke-width="1.0"/>
<path d="M529,215.7 530.7,213 530.4,185.6 528.7,186.3Z" fill="#4367fd" stroke="#4367fd" stroke-width="1.0"/>
<path d="M530.7,213 532.5,210.3 532.2,185.3 530.4,185.6Z" fill="#416cfe" stroke="#416cfe" stroke-width="1.0"/>
<path d="M532.5,210.3 534.2,207.4 533.9,185.1 532.2,185.3Z" fill="#3d70ff" stroke="#3d70ff" stroke-width="1.0"/>
<path d="M534.2,207.4 536,203.6 535.7,184.9 533.9,185.1Z" fill="#3975fe" stroke="#3975fe" stroke-width="1.0"/>
<path d="M536,203.6 537.7,198.3 537.4,184.8 535.7,184.9Z" fill="#327cfc" stroke="#327cfc" stroke-width="1.0"/>
<path d="M537.7,198.3 539.5,194.9 539.2,184.7 537.4,184.8Z" fill="#2e85f8" stroke="#2e85f8" stroke-width="1.0"/>
<path d="M539.5,194.9 541.2,193.3 540.9,184.7 539.2,184.7Z" fill="#2d8af4" stroke="#2d8af4" stroke-width="1.0"/>
<path d="M541.2,193.3 542.9,193.1 544.7,193 546.4,193 548.2,193 549.9,193 551.7,193 551.4,184.3 549.7,184.4 547.9,184.5 546.2,184.5 544.4,184.6 542.7,184.6 540.9,184.7Z" fill="#2d8df2" stroke="#2d8df2" stroke-width="1.0"/>
<path d="M551.7,193 553.4,192.9 557.8,192.9 562.2,192.8 566.5,192.8 566.3,183.7 561.9,183.8 557.5,184.1 553.2,184.3 551.4,184.3Z" fill="#2c8ef1" stroke="#2c8ef1" stroke-width="1.0"/>
<path d="M566.5,192.8 570.9,192.8 575.3,192.8 579.7,192.8 579.4,183.3 575,183.4 570.6,183.5 566.3,183.7Z" fill="#2c8ff0" stroke="#2c8ff0" stroke-width="1.0"/>
<path d="M579.7,192.8 584,192.9 588.4,193 592.8,193.1 597.1,193.2 601.5,193.4 605.9,193.5 605.6,184 601.2,183.9 596.9,183.7 592.5,183.6 588.1,183.4 583.7,183.3 579.4,183.3Z" fill="#2b90ef" stroke="#2b90ef" stroke-width="1.0"/>
<path d="M605.9,193.5 610.2,193.7 614.6,193.8 619,194 623.4,194.2 627.7,194.3 632.1,194.5 636.5,194.7 640.8,194.9 645.2,195.1 649.6,195.3 653.9,195.5 653.7,186.1 649.3,185.9 644.9,185.7 640.6,185.5 636.2,185.3 631.8,185.1 627.4,184.9 623.1,184.7 618.7,184.5 614.3,184.4 610,184.2 605.6,184Z" fill="#2b92ee" stroke="#2b92ee" stroke-width="1.0"/>
<path d="M653.9,195.5 658.3,195.7 662.7,195.9 667.1,196.2 671.4,196.4 675.8,196.7 675.5,187.3 671.1,187.1 666.8,186.8 662.4,186.6 658,186.4 653.7,186.1Z" fill="#2a93ee" stroke="#2a93ee" stroke-width="1.0"/>
<path class="e" d="M501,240.5 501.9,240.2 502.7,239.9 503.6,239.5 504.5,239.2 505.4,238.8 506.2,238.4 507.1,238 508,237.6 508.9,237.2 509.7,236.7 510.6,236.3 511.5,235.8 512.4,235.4 513.2,234.9 514.1,234.4 515,233.8 515.9,233.3 516.7,232.6 517.6,232 518.5,231.3 520.2,229.7 522,227.5 523.7,224.8 525.5,221.8 527.2,218.7 529,215.7 530.7,213 532.5,210.3 534.2,207.4 536,203.6 537.7,198.3 539.5,194.9 541.2,193.3 542.9,193.1 544.7,193 546.4,193 548.2,193 549.9,193 551.7,193 553.4,192.9 557.8,192.9 562.2,192.8 566.5,192.8 570.9,192.8 575.3,192.8 579.7,192.8 584,192.9 588.4,193 592.8,193.1 597.1,193.2 601.5,193.4 605.9,193.5 610.2,193.7 614.6,193.8 619,194 623.4,194.2 627.7,194.3 632.1,194.5 636.5,194.7 640.8,194.9 645.2,195.1 649.6,195.3 653.9,195.5 658.3,195.7 662.7,195.9 667.1,196.2 671.4,196.4 675.8,196.7"/>
<path d="M500.7,234.5 501.6,233.6 501.3,223 500.4,224Z" fill="#4747eb" stroke="#4747eb" stroke-width="1.0"/>
<path d="M501.6,233.6 502.5,232.7 502.2,222 501.3,223Z" fill="#4848ec" stroke="#4848ec" stroke-width="1.0"/>
<path d="M502.5,232.7 503.3,231.7 503.1,221 502.2,222Z" fill="#484aee" stroke="#484aee" stroke-width="1.0"/>
<path d="M503.3,231.7 504.2,230.7 503.9,219.9 503.1,221Z" fill="#484bef" stroke="#484bef" stroke-width="1.0"/>
<path d="M504.2,230.7 505.1,229.7 504.8,218.8 503.9,219.9Z" fill="#484df0" stroke="#484df0" stroke-width="1.0"/>
<path d="M505.1,229.7 506,228.7 505.7,217.6 504.8,218.8Z" fill="#484ef1" stroke="#484ef1" stroke-width="1.0"/>
<path d="M506,228.7 506.8,227.6 506.5,216.5 505.7,217.6Z" fill="#484ff2" stroke="#484ff2" stroke-width="1.0"/>
<path d="M506.8,227.6 507.7,226.5 507.4,215.3 506.5,216.5Z" fill="#4852f4" stroke="#4852f4" stroke-width="1.0"/>
<path d="M507.7,226.5 508.6,225.4 508.3,213.9 507.4,215.3Z" fill="#4854f5" stroke="#4854f5" stroke-width="1.0"/>
<path d="M508.6,225.4 509.5,224.3 509.2,212.2 508.3,213.9Z" fill="#4755f6" stroke="#4755f6" stroke-width="1.0"/>
<path d="M509.5,224.3 510.3,223.2 510,210 509.2,212.2Z" fill="#4758f8" stroke="#4758f8" stroke-width="1.0"/>
<path d="M510.3,223.2 511.2,222 510.9,207.3 510,210Z" fill="#4759f8" stroke="#4759f8" stroke-width="1.0"/>
<path d="M511.2,222 512.1,220.9 511.8,204.6 510.9,207.3Z" fill="#475af9" stroke="#475af9" stroke-width="1.0"/>
<path d="M512.1,220.9 512.9,219.7 512.7,201.9 511.8,204.6Z" fill="#465dfb" stroke="#465dfb" stroke-width="1.0"/>
<path d="M512.9,219.7 513.8,218.4 513.5,199.1 512.7,201.9Z" fill="#465ffb" stroke="#465ffb" stroke-width="1.0"/>
<path d="M513.8,218.4 514.7,217.1 514.4,196.3 513.5,199.1Z" fill="#4561fc" stroke="#4561fc" stroke-width="1.0"/>
<path d="M514.7,217.1 515.6,215.6 515.3,193.4 514.4,196.3Z" fill="#4563fc" stroke="#4563fc" stroke-width="1.0"/>
<path d="M515.6,215.6 516.4,214.1 516.2,190.5 515.3,193.4Z" fill="#4466fd" stroke="#4466fd" stroke-width="1.0"/>
<path d="M516.4,214.1 517.3,212.4 517,187.9 516.2,190.5Z" fill="#4369fe" stroke="#4369fe" stroke-width="1.0"/>
<path d="M517.3,212.4 518.2,210.3 517.9,185.4 517,187.9Z" fill="#416cfe" stroke="#416cfe" stroke-width="1.0"/>
<path d="M518.2,210.3 519.9,205.6 519.7,182.2 517.9,185.4Z" fill="#3f6fff" stroke="#3f6fff" stroke-width="1.0"/>
<path d="M519.9,205.6 521.7,200.4 521.4,181 519.7,182.2Z" fill="#3776fe" stroke="#3776fe" stroke-width="1.0"/>
<path d="M521.7,200.4 523.4,195.2 523.2,180.4 521.4,181Z" fill="#307ffb" stroke="#307ffb" stroke-width="1.0"/>
<path d="M523.4,195.2 525.2,190.6 524.9,179.8 523.2,180.4Z" fill="#2d87f7" stroke="#2d87f7" stroke-width="1.0"/>
<path d="M525.2,190.6 526.9,187.6 526.6,179.4 524.9,179.8Z" fill="#2c8ef1" stroke="#2c8ef1" stroke-width="1.0"/>
<path d="M526.9,187.6 528.7,186.3 528.4,179 526.6,179.4Z" fill="#2a93ee" stroke="#2a93ee" stroke-width="1.0"/>
<path d="M528.7,186.3 530.4,185.6 532.2,185.3 531.9,178.4 530.1,178.7 528.4,179Z" fill="#2895ec" stroke="#2895ec" stroke-width="1.0"/>
<path d="M532.2,185.3 533.9,185.1 535.7,184.9 535.4,177.8 533.6,178.1 531.9,178.4Z" fill="#2797eb" stroke="#2797eb" stroke-width="1.0"/>
<path d="M535.7,184.9 537.4,184.8 539.2,184.7 540.9,184.7 542.7,184.6 544.4,184.6 544.1,176.5 542.4,176.8 540.6,177 538.9,177.3 537.1,177.5 535.4,177.8Z" fill="#2798ea" stroke="#2798ea" stroke-width="1.0"/>
<path d="M544.4,184.6 546.2,184.5 547.9,184.5 549.7,184.4 551.4,184.3 553.2,184.3 557.5,184.1 557.2,175.6 552.9,175.8 551.1,175.9 549.4,176 547.6,176.2 545.9,176.3 544.1,176.5Z" fill="#2699e9" stroke="#2699e9" stroke-width="1.0"/>
<path d="M557.5,184.1 561.9,183.8 561.6,175.5 557.2,175.6Z" fill="#269ae8" stroke="#269ae8" stroke-width="1.0"/>
<path d="M561.9,183.8 566.3,183.7 570.6,183.5 570.3,175.3 566,175.3 561.6,175.5Z" fill="#259be7" stroke="#259be7" stroke-width="1.0"/>
<path d="M570.6,183.5 575,183.4 579.4,183.3 583.7,183.3 583.5,175.2 579.1,175.2 574.7,175.2 570.3,175.3Z" fill="#259de7" stroke="#259de7" stroke-width="1.0"/>
<path d="M583.7,183.3 588.1,183.4 592.5,183.6 596.9,183.7 601.2,183.9 605.6,184 610,184.2 614.3,184.4 618.7,184.5 618.4,176 614,175.9 609.7,175.8 605.3,175.7 600.9,175.6 596.6,175.5 592.2,175.4 587.8,175.3 583.5,175.2Z" fill="#249ee6" stroke="#249ee6" stroke-width="1.0"/>
<path d="M618.7,184.5 623.1,184.7 627.4,184.9 631.8,185.1 636.2,185.3 640.6,185.5 644.9,185.7 649.3,185.9 653.7,186.1 658,186.4 662.4,186.6 666.8,186.8 671.1,187.1 675.5,187.3 675.2,178.4 670.9,178.2 666.5,177.9 662.1,177.7 657.7,177.5 653.4,177.3 649,177.1 644.6,176.9 640.3,176.8 635.9,176.6 631.5,176.4 627.2,176.3 622.8,176.2 618.4,176Z" fill="#249fe5" stroke="#249fe5" stroke-width="1.0"/>
<path class="e" d="M500.7,234.5 501.6,233.6 502.5,232.7 503.3,231.7 504.2,230.7 505.1,229.7 506,228.7 506.8,227.6 507.7,226.5 508.6,225.4 509.5,224.3 510.3,223.2 511.2,222 512.1,220.9 512.9,219.7 513.8,218.4 514.7,217.1 515.6,215.6 516.4,214.1 517.3,212.4 518.2,210.3 519.9,205.6 521.7,200.4 523.4,195.2 525.2,190.6 526.9,187.6 528.7,186.3 530.4,185.6 532.2,185.3 533.9,185.1 535.7,184.9 537.4,184.8 539.2,184.7 540.9,184.7 542.7,184.6 544.4,184.6 546.2,184.5 547.9,184.5 549.7,184.4 551.4,184.3 553.2,184.3 557.5,184.1 561.9,183.8 566.3,183.7 570.6,183.5 575,183.4 579.4,183.3 583.7,183.3 588.1,183.4 592.5,183.6 596.9,183.7 601.2,183.9 605.6,184 610,184.2 614.3,184.4 618.7,184.5 623.1,184.7 627.4,184.9 631.8,185.1 636.2,185.3 640.6,185.5 644.9,185.7 649.3,185.9 653.7,186.1 658,186.4 662.4,186.6 666.8,186.8 671.1,187.1 675.5,187.3"/>
<path d="M500.4,224 501.3,223 501,207.9 500.1,209.5Z" fill="#4756f7" stroke="#4756f7" stroke-width="1.0"/>
<path d="M501.3,223 502.2,222 501.9,206.2 501,207.9Z" fill="#4759f8" stroke="#4759f8" stroke-width="1.0"/>
<path d="M502.2,222 503.1,221 502.8,204.5 501.9,206.2Z" fill="#475af9" stroke="#475af9" stroke-width="1.0"/>
<path d="M503.1,221 503.9,219.9 503.6,202.7 502.8,204.5Z" fill="#475cfa" stroke="#475cfa" stroke-width="1.0"/>
<path d="M503.9,219.9 504.8,218.8 504.5,200.8 503.6,202.7Z" fill="#465dfb" stroke="#465dfb" stroke-width="1.0"/>
<path d="M504.8,218.8 505.7,217.6 505.4,198.8 504.5,200.8Z" fill="#4660fc" stroke="#4660fc" stroke-width="1.0"/>
<path d="M505.7,217.6 506.5,216.5 506.3,196.6 505.4,198.8Z" fill="#4561fc" stroke="#4561fc" stroke-width="1.0"/>
<path d="M506.5,216.5 507.4,215.3 507.1,194.1 506.3,196.6Z" fill="#4563fc" stroke="#4563fc" stroke-width="1.0"/>
<path d="M507.4,215.3 508.3,213.9 508,191.5 507.1,194.1Z" fill="#4466fd" stroke="#4466fd" stroke-width="1.0"/>
<path d="M508.3,213.9 509.2,212.2 508.9,188.7 508,191.5Z" fill="#4367fd" stroke="#4367fd" stroke-width="1.0"/>
<path d="M509.2,212.2 510,210 509.8,185.7 508.9,188.7Z" fill="#426afe" stroke="#426afe" stroke-width="1.0"/>
<path d="M510,210 510.9,207.3 510.6,183 509.8,185.7Z" fill="#3f6fff" stroke="#3f6fff" stroke-width="1.0"/>
<path d="M510.9,207.3 511.8,204.6 511.5,180.5 510.6,183Z" fill="#3a73fe" stroke="#3a73fe" stroke-width="1.0"/>
<path d="M511.8,204.6 512.7,201.9 512.4,178.3 511.5,180.5Z" fill="#3678fe" stroke="#3678fe" stroke-width="1.0"/>
<path d="M512.7,201.9 513.5,199.1 513.3,176.7 512.4,178.3Z" fill="#327cfc" stroke="#327cfc" stroke-width="1.0"/>
<path d="M513.5,199.1 514.4,196.3 514.1,176 513.3,176.7Z" fill="#2f81fa" stroke="#2f81fa" stroke-width="1.0"/>
<path d="M514.4,196.3 515.3,193.4 515,175.5 514.1,176Z" fill="#2e85f8" stroke="#2e85f8" stroke-width="1.0"/>
<path d="M515.3,193.4 516.2,190.5 515.9,175.1 515,175.5Z" fill="#2d8af4" stroke="#2d8af4" stroke-width="1.0"/>
<path d="M516.2,190.5 517,187.9 516.8,174.7 515.9,175.1Z" fill="#2c8ef1" stroke="#2c8ef1" stroke-width="1.0"/>
<path d="M517,187.9 517.9,185.4 517.6,174.4 516.8,174.7Z" fill="#2b92ee" stroke="#2b92ee" stroke-width="1.0"/>
<path d="M517.9,185.4 519.7,182.2 519.4,174 517.6,174.4Z" fill="#2895ec" stroke="#2895ec" stroke-width="1.0"/>
<path d="M519.7,182.2 521.4,181 521.1,173.5 519.4,174Z" fill="#269ae8" stroke="#269ae8" stroke-width="1.0"/>
<path d="M521.4,181 523.2,180.4 522.9,173.1 521.1,173.5Z" fill="#259be7" stroke="#259be7" stroke-width="1.0"/>
<path d="M523.2,180.4 524.9,179.8 524.6,172.7 522.9,173.1Z" fill="#259de7" stroke="#259de7" stroke-width="1.0"/>
<path d="M524.9,179.8 526.6,179.4 528.4,179 528.1,172.2 526.4,172.4 524.6,172.7Z" fill="#249ee6" stroke="#249ee6" stroke-width="1.0"/>
<path d="M528.4,179 530.1,178.7 531.9,178.4 531.6,171.6 529.9,171.9 528.1,172.2Z" fill="#249fe5" stroke="#249fe5" stroke-width="1.0"/>
<path d="M531.9,178.4 533.6,178.1 535.4,177.8 535.1,171.1 533.4,171.4 531.6,171.6Z" fill="#23a0e5" stroke="#23a0e5" stroke-width="1.0"/>
<path d="M535.4,177.8 537.1,177.5 538.9,177.3 540.6,177 540.3,170.2 538.6,170.5 536.9,170.8 535.1,171.1Z" fill="#22a1e4" stroke="#22a1e4" stroke-width="1.0"/>
<path d="M540.6,177 542.4,176.8 544.1,176.5 543.8,169.6 542.1,169.9 540.3,170.2Z" fill="#22a2e4" stroke="#22a2e4" stroke-width="1.0"/>
<path d="M544.1,176.5 545.9,176.3 547.6,176.2 549.4,176 549.1,168.9 547.3,169.1 545.6,169.3 543.8,169.6Z" fill="#21a4e3" stroke="#21a4e3" stroke-width="1.0"/>
<path d="M549.4,176 551.1,175.9 552.9,175.8 557.2,175.6 557,168.2 552.6,168.6 550.8,168.7 549.1,168.9Z" fill="#20a5e3" stroke="#20a5e3" stroke-width="1.0"/>
<path d="M557.2,175.6 561.6,175.5 566,175.3 570.3,175.3 570.1,167.4 565.7,167.7 561.3,167.9 557,168.2Z" fill="#1fa6e2" stroke="#1fa6e2" stroke-width="1.0"/>
<path d="M570.3,175.3 574.7,175.2 579.1,175.2 583.5,175.2 583.2,167.2 578.8,167.2 574.4,167.3 570.1,167.4Z" fill="#1ea7e1" stroke="#1ea7e1" stroke-width="1.0"/>
<path d="M583.5,175.2 587.8,175.3 592.2,175.4 596.6,175.5 600.9,175.6 605.3,175.7 605,167.6 600.7,167.5 596.3,167.4 591.9,167.3 587.5,167.2 583.2,167.2Z" fill="#1da8e0" stroke="#1da8e0" stroke-width="1.0"/>
<path d="M605.3,175.7 609.7,175.8 614,175.9 618.4,176 622.8,176.2 627.2,176.3 631.5,176.4 631.2,168.4 626.9,168.2 622.5,168.1 618.1,167.9 613.8,167.8 609.4,167.7 605,167.6Z" fill="#1ca9e0" stroke="#1ca9e0" stroke-width="1.0"/>
<path d="M631.5,176.4 635.9,176.6 640.3,176.8 644.6,176.9 649,177.1 653.4,177.3 657.7,177.5 662.1,177.7 666.5,177.9 670.9,178.2 675.2,178.4 674.9,170.4 670.6,170.2 666.2,169.9 661.8,169.7 657.5,169.5 653.1,169.3 648.7,169.1 644.4,168.9 640,168.7 635.6,168.5 631.2,168.4Z" fill="#1baadf" stroke="#1baadf" stroke-width="1.0"/>
<path class="e" d="M500.4,224 501.3,223 502.2,222 503.1,221 503.9,219.9 504.8,218.8 505.7,217.6 506.5,216.5 507.4,215.3 508.3,213.9 509.2,212.2 510,210 510.9,207.3 511.8,204.6 512.7,201.9 513.5,199.1 514.4,196.3 515.3,193.4 516.2,190.5 517,187.9 517.9,185.4 519.7,182.2 521.4,181 523.2,180.4 524.9,179.8 526.6,179.4 528.4,179 530.1,178.7 531.9,178.4 533.6,178.1 535.4,177.8 537.1,177.5 538.9,177.3 540.6,177 542.4,176.8 544.1,176.5 545.9,176.3 547.6,176.2 549.4,176 551.1,175.9 552.9,175.8 557.2,175.6 561.6,175.5 566,175.3 570.3,175.3 574.7,175.2 579.1,175.2 583.5,175.2 587.8,175.3 592.2,175.4 596.6,175.5 600.9,175.6 605.3,175.7 609.7,175.8 614,175.9 618.4,176 622.8,176.2 627.2,176.3 631.5,176.4 635.9,176.6 640.3,176.8 644.6,176.9 649,177.1 653.4,177.3 657.7,177.5 662.1,177.7 666.5,177.9 670.9,178.2 675.2,178.4"/>
<path d="M500.1,209.5 501,207.9 500.7,188.3 499.9,190Z" fill="#3f6fff" stroke="#3f6fff" stroke-width="1.0"/>
<path d="M501,207.9 501.9,206.2 501.6,186.4 500.7,188.3Z" fill="#3c72ff" stroke="#3c72ff" stroke-width="1.0"/>
<path d="M501.9,206.2 502.8,204.5 502.5,184.3 501.6,186.4Z" fill="#3975fe" stroke="#3975fe" stroke-width="1.0"/>
<path d="M502.8,204.5 503.6,202.7 503.4,182 502.5,184.3Z" fill="#3678fe" stroke="#3678fe" stroke-width="1.0"/>
<path d="M503.6,202.7 504.5,200.8 504.2,179.3 503.4,182Z" fill="#337bfd" stroke="#337bfd" stroke-width="1.0"/>
<path d="M504.5,200.8 505.4,198.8 505.1,176.7 504.2,179.3Z" fill="#317efb" stroke="#317efb" stroke-width="1.0"/>
<path d="M505.4,198.8 506.3,196.6 506,174.4 505.1,176.7Z" fill="#2f81fa" stroke="#2f81fa" stroke-width="1.0"/>
<path d="M506.3,196.6 507.1,194.1 506.9,172.4 506,174.4Z" fill="#2e85f8" stroke="#2e85f8" stroke-width="1.0"/>
<path d="M507.1,194.1 508,191.5 507.7,171.3 506.9,172.4Z" fill="#2d87f7" stroke="#2d87f7" stroke-width="1.0"/>
<path d="M508,191.5 508.9,188.7 508.6,170.6 507.7,171.3Z" fill="#2d8bf3" stroke="#2d8bf3" stroke-width="1.0"/>
<path d="M508.9,188.7 509.8,185.7 509.5,170 508.6,170.6Z" fill="#2b90ef" stroke="#2b90ef" stroke-width="1.0"/>
<path d="M509.8,185.7 510.6,183 510.3,169.6 509.5,170Z" fill="#2994ed" stroke="#2994ed" stroke-width="1.0"/>
<path d="M510.6,183 511.5,180.5 511.2,169.2 510.3,169.6Z" fill="#2798ea" stroke="#2798ea" stroke-width="1.0"/>
<path d="M511.5,180.5 512.4,178.3 512.1,168.8 511.2,169.2Z" fill="#259be7" stroke="#259be7" stroke-width="1.0"/>
<path d="M512.4,178.3 513.3,176.7 513,168.5 512.1,168.8Z" fill="#249fe5" stroke="#249fe5" stroke-width="1.0"/>
<path d="M513.3,176.7 514.1,176 513.8,168.2 513,168.5Z" fill="#23a0e5" stroke="#23a0e5" stroke-width="1.0"/>
<path d="M514.1,176 515,175.5 514.7,167.9 513.8,168.2Z" fill="#22a1e4" stroke="#22a1e4" stroke-width="1.0"/>
<path d="M515,175.5 515.9,175.1 516.8,174.7 516.5,167.4 515.6,167.6 514.7,167.9Z" fill="#22a2e4" stroke="#22a2e4" stroke-width="1.0"/>
<path d="M516.8,174.7 517.6,174.4 519.4,174 519.1,166.7 517.3,167.1 516.5,167.4Z" fill="#21a4e3" stroke="#21a4e3" stroke-width="1.0"/>
<path d="M519.4,174 521.1,173.5 520.8,166.3 519.1,166.7Z" fill="#20a5e3" stroke="#20a5e3" stroke-width="1.0"/>
<path d="M521.1,173.5 522.9,173.1 524.6,172.7 524.3,165.6 522.6,165.9 520.8,166.3Z" fill="#1fa6e2" stroke="#1fa6e2" stroke-width="1.0"/>
<path d="M524.6,172.7 526.4,172.4 528.1,172.2 527.8,164.9 526.1,165.2 524.3,165.6Z" fill="#1ea7e1" stroke="#1ea7e1" stroke-width="1.0"/>
<path d="M528.1,172.2 529.9,171.9 531.6,171.6 533.4,171.4 533.1,164 531.3,164.3 529.6,164.6 527.8,164.9Z" fill="#1da8e0" stroke="#1da8e0" stroke-width="1.0"/>
<path d="M533.4,171.4 535.1,171.1 536.9,170.8 536.6,163.4 534.8,163.7 533.1,164Z" fill="#1ca9e0" stroke="#1ca9e0" stroke-width="1.0"/>
<path d="M536.9,170.8 538.6,170.5 540.3,170.2 540.1,162.8 538.3,163.1 536.6,163.4Z" fill="#1baadf" stroke="#1baadf" stroke-width="1.0"/>
<path d="M540.3,170.2 542.1,169.9 543.8,169.6 545.6,169.3 545.3,161.9 543.6,162.2 541.8,162.5 540.1,162.8Z" fill="#1aabdd" stroke="#1aabdd" stroke-width="1.0"/>
<path d="M545.6,169.3 547.3,169.1 549.1,168.9 548.8,161.5 547.1,161.7 545.3,161.9Z" fill="#19acdc" stroke="#19acdc" stroke-width="1.0"/>
<path d="M549.1,168.9 550.8,168.7 552.6,168.6 557,168.2 556.7,161 552.3,161.2 550.6,161.4 548.8,161.5Z" fill="#18addb" stroke="#18addb" stroke-width="1.0"/>
<path d="M557,168.2 561.3,167.9 561,160.7 556.7,161Z" fill="#17aeda" stroke="#17aeda" stroke-width="1.0"/>
<path d="M561.3,167.9 565.7,167.7 570.1,167.4 569.8,160.4 565.4,160.5 561,160.7Z" fill="#15afd9" stroke="#15afd9" stroke-width="1.0"/>
<path d="M570.1,167.4 574.4,167.3 578.8,167.2 578.5,160.3 574.2,160.3 569.8,160.4Z" fill="#14b0d8" stroke="#14b0d8" stroke-width="1.0"/>
<path d="M578.8,167.2 583.2,167.2 587.5,167.2 591.9,167.3 596.3,167.4 600.7,167.5 600.4,160.9 596,160.7 591.6,160.6 587.3,160.4 582.9,160.3 578.5,160.3Z" fill="#12b1d6" stroke="#12b1d6" stroke-width="1.0"/>
<path d="M600.7,167.5 605,167.6 609.4,167.7 613.8,167.8 618.1,167.9 622.5,168.1 626.9,168.2 626.6,162 622.2,161.8 617.9,161.6 613.5,161.4 609.1,161.2 604.7,161.1 600.4,160.9Z" fill="#10b2d5" stroke="#10b2d5" stroke-width="1.0"/>
<path d="M626.9,168.2 631.2,168.4 635.6,168.5 640,168.7 644.4,168.9 648.7,169.1 653.1,169.3 657.5,169.5 661.8,169.7 666.2,169.9 670.6,170.2 674.9,170.4 674.7,164.5 670.3,164.2 665.9,164 661.6,163.7 657.2,163.5 652.8,163.3 648.4,163 644.1,162.8 639.7,162.6 635.3,162.4 631,162.2 626.6,162Z" fill="#0db3d3" stroke="#0db3d3" stroke-width="1.0"/>
<path class="e" d="M500.1,209.5 501,207.9 501.9,206.2 502.8,204.5 503.6,202.7 504.5,200.8 505.4,198.8 506.3,196.6 507.1,194.1 508,191.5 508.9,188.7 509.8,185.7 510.6,183 511.5,180.5 512.4,178.3 513.3,176.7 514.1,176 515,175.5 515.9,175.1 516.8,174.7 517.6,174.4 519.4,174 521.1,173.5 522.9,173.1 524.6,172.7 526.4,172.4 528.1,172.2 529.9,171.9 531.6,171.6 533.4,171.4 535.1,171.1 536.9,170.8 538.6,170.5 540.3,170.2 542.1,169.9 543.8,169.6 545.6,169.3 547.3,169.1 549.1,168.9 550.8,168.7 552.6,168.6 557,168.2 561.3,167.9 565.7,167.7 570.1,167.4 574.4,167.3 578.8,167.2 583.2,167.2 587.5,167.2 591.9,167.3 596.3,167.4 600.7,167.5 605,167.6 609.4,167.7 613.8,167.8 618.1,167.9 622.5,168.1 626.9,168.2 631.2,168.4 635.6,168.5 640,168.7 644.4,168.9 648.7,169.1 653.1,169.3 657.5,169.5 661.8,169.7 666.2,169.9 670.6,170.2 674.9,170.4"/>
<path d="M499.9,190 500.7,188.3 500.5,165.8 499.6,166Z" fill="#2c8ef1" stroke="#2c8ef1" stroke-width="1.0"/>
<path d="M500.7,188.3 501.6,186.4 501.3,165.6 500.5,165.8Z" fill="#2b90ef" stroke="#2b90ef" stroke-width="1.0"/>
<path d="M501.6,186.4 502.5,184.3 502.2,165.4 501.3,165.6Z" fill="#2a93ee" stroke="#2a93ee" stroke-width="1.0"/>
<path d="M502.5,184.3 503.4,182 503.1,165.2 502.2,165.4Z" fill="#2895ec" stroke="#2895ec" stroke-width="1.0"/>
<path d="M503.4,182 504.2,179.3 503.9,165 503.1,165.2Z" fill="#2699e9" stroke="#2699e9" stroke-width="1.0"/>
<path d="M504.2,179.3 505.1,176.7 504.8,164.8 503.9,165Z" fill="#259de7" stroke="#259de7" stroke-width="1.0"/>
<path d="M505.1,176.7 506,174.4 505.7,164.6 504.8,164.8Z" fill="#23a0e5" stroke="#23a0e5" stroke-width="1.0"/>
<path d="M506,174.4 506.9,172.4 506.6,164.4 505.7,164.6Z" fill="#21a4e3" stroke="#21a4e3" stroke-width="1.0"/>
<path d="M506.9,172.4 507.7,171.3 507.4,164.2 506.6,164.4Z" fill="#1fa6e2" stroke="#1fa6e2" stroke-width="1.0"/>
<path d="M507.7,171.3 508.6,170.6 508.3,164 507.4,164.2Z" fill="#1ea7e1" stroke="#1ea7e1" stroke-width="1.0"/>
<path d="M508.6,170.6 509.5,170 509.2,163.8 508.3,164Z" fill="#1da8e0" stroke="#1da8e0" stroke-width="1.0"/>
<path d="M509.5,170 510.3,169.6 511.2,169.2 510.9,163.3 510.1,163.5 509.2,163.8Z" fill="#1ca9e0" stroke="#1ca9e0" stroke-width="1.0"/>
<path d="M511.2,169.2 512.1,168.8 513,168.5 512.7,162.9 511.8,163.1 510.9,163.3Z" fill="#1baadf" stroke="#1baadf" stroke-width="1.0"/>
<path d="M513,168.5 513.8,168.2 514.7,167.9 514.4,162.4 513.6,162.6 512.7,162.9Z" fill="#1aabdd" stroke="#1aabdd" stroke-width="1.0"/>
<path d="M514.7,167.9 515.6,167.6 516.5,167.4 517.3,167.1 517.1,161.7 516.2,162 515.3,162.2 514.4,162.4Z" fill="#19acdc" stroke="#19acdc" stroke-width="1.0"/>
<path d="M517.3,167.1 519.1,166.7 520.8,166.3 520.6,160.9 518.8,161.3 517.1,161.7Z" fill="#18addb" stroke="#18addb" stroke-width="1.0"/>
<path d="M520.8,166.3 522.6,165.9 524.3,165.6 524,160 522.3,160.4 520.6,160.9Z" fill="#17aeda" stroke="#17aeda" stroke-width="1.0"/>
<path d="M524.3,165.6 526.1,165.2 527.8,164.9 527.5,159 525.8,159.5 524,160Z" fill="#15afd9" stroke="#15afd9" stroke-width="1.0"/>
<path d="M527.8,164.9 529.6,164.6 531.3,164.3 531,158 529.3,158.5 527.5,159Z" fill="#14b0d8" stroke="#14b0d8" stroke-width="1.0"/>
<path d="M531.3,164.3 533.1,164 534.8,163.7 534.5,157 532.8,157.5 531,158Z" fill="#12b1d6" stroke="#12b1d6" stroke-width="1.0"/>
<path d="M534.8,163.7 536.6,163.4 538.3,163.1 540.1,162.8 539.8,155.7 538,156.1 536.3,156.5 534.5,157Z" fill="#10b2d5" stroke="#10b2d5" stroke-width="1.0"/>
<path d="M540.1,162.8 541.8,162.5 543.6,162.2 543.3,155 541.5,155.3 539.8,155.7Z" fill="#0db3d3" stroke="#0db3d3" stroke-width="1.0"/>
<path d="M543.6,162.2 545.3,161.9 547.1,161.7 546.8,154.5 545,154.7 543.3,155Z" fill="#0bb4d2" stroke="#0bb4d2" stroke-width="1.0"/>
<path d="M547.1,161.7 548.8,161.5 550.6,161.4 552.3,161.2 556.7,161 556.4,154.2 552,154.2 550.3,154.3 548.5,154.4 546.8,154.5Z" fill="#08b4d1" stroke="#08b4d1" stroke-width="1.0"/>
<path d="M556.7,161 561,160.7 560.8,154.1 556.4,154.2Z" fill="#06b5cf" stroke="#06b5cf" stroke-width="1.0"/>
<path d="M561,160.7 565.4,160.5 569.8,160.4 569.5,154.2 565.1,154.1 560.8,154.1Z" fill="#05b6cd" stroke="#05b6cd" stroke-width="1.0"/>
<path d="M569.8,160.4 574.2,160.3 578.5,160.3 582.9,160.3 582.6,154.5 578.2,154.3 573.9,154.2 569.5,154.2Z" fill="#03b7cc" stroke="#03b7cc" stroke-width="1.0"/>
<path d="M582.9,160.3 587.3,160.4 591.6,160.6 596,160.7 600.4,160.9 604.7,161.1 609.1,161.2 613.5,161.4 617.9,161.6 622.2,161.8 621.9,155.9 617.6,155.7 613.2,155.6 608.8,155.4 604.5,155.2 600.1,155.1 595.7,154.9 591.3,154.8 587,154.6 582.6,154.5Z" fill="#01b7ca" stroke="#01b7ca" stroke-width="1.0"/>
<path d="M622.2,161.8 626.6,162 631,162.2 635.3,162.4 639.7,162.6 644.1,162.8 648.4,163 652.8,163.3 657.2,163.5 661.6,163.7 665.9,164 670.3,164.2 674.7,164.5 674.4,158.5 670,158.2 665.6,158 661.3,157.7 656.9,157.5 652.5,157.3 648.2,157.1 643.8,156.9 639.4,156.7 635,156.5 630.7,156.3 626.3,156.1 621.9,155.9Z" fill="#01b8c9" stroke="#01b8c9" stroke-width="1.0"/>
<path class="e" d="M499.9,190 500.7,188.3 501.6,186.4 502.5,184.3 503.4,182 504.2,179.3 505.1,176.7 506,174.4 506.9,172.4 507.7,171.3 508.6,170.6 509.5,170 510.3,169.6 511.2,169.2 512.1,168.8 513,168.5 513.8,168.2 514.7,167.9 515.6,167.6 516.5,167.4 517.3,167.1 519.1,166.7 520.8,166.3 522.6,165.9 524.3,165.6 526.1,165.2 527.8,164.9 529.6,164.6 531.3,164.3 533.1,164 534.8,163.7 536.6,163.4 538.3,163.1 540.1,162.8 541.8,162.5 543.6,162.2 545.3,161.9 547.1,161.7 548.8,161.5 550.6,161.4 552.3,161.2 556.7,161 561,160.7 565.4,160.5 569.8,160.4 574.2,160.3 578.5,160.3 582.9,160.3 587.3,160.4 591.6,160.6 596,160.7 600.4,160.9 604.7,161.1 609.1,161.2 613.5,161.4 617.9,161.6 622.2,161.8 626.6,162 631,162.2 635.3,162.4 639.7,162.6 644.1,162.8 648.4,163 652.8,163.3 657.2,163.5 661.6,163.7 665.9,164 670.3,164.2 674.7,164.5"/>
<path d="M499.6,166 500.5,165.8 501.3,165.6 502.2,165.4 501.9,158.9 501,159 500.2,159.2 499.3,159.4Z" fill="#18addb" stroke="#18addb" stroke-width="1.0"/>
<path d="M502.2,165.4 503.1,165.2 503.9,165 504.8,164.8 505.7,164.6 505.4,158.2 504.5,158.4 503.7,158.5 502.8,158.7 501.9,158.9Z" fill="#17aeda" stroke="#17aeda" stroke-width="1.0"/>
<path d="M505.7,164.6 506.6,164.4 507.4,164.2 508.3,164 508,157.7 507.2,157.9 506.3,158 505.4,158.2Z" fill="#15afd9" stroke="#15afd9" stroke-width="1.0"/>
<path d="M508.3,164 509.2,163.8 510.1,163.5 510.9,163.3 511.8,163.1 511.5,157 510.7,157.2 509.8,157.4 508.9,157.5 508,157.7Z" fill="#14b0d8" stroke="#14b0d8" stroke-width="1.0"/>
<path d="M511.8,163.1 512.7,162.9 513.6,162.6 514.4,162.4 514.2,156.5 513.3,156.7 512.4,156.8 511.5,157Z" fill="#12b1d6" stroke="#12b1d6" stroke-width="1.0"/>
<path d="M514.4,162.4 515.3,162.2 516.2,162 517.1,161.7 516.8,156 515.9,156.1 515,156.3 514.2,156.5Z" fill="#10b2d5" stroke="#10b2d5" stroke-width="1.0"/>
<path d="M517.1,161.7 518.8,161.3 520.6,160.9 520.3,155.2 518.5,155.6 516.8,156Z" fill="#0db3d3" stroke="#0db3d3" stroke-width="1.0"/>
<path d="M520.6,160.9 522.3,160.4 524,160 523.8,154.4 522,154.9 520.3,155.2Z" fill="#0bb4d2" stroke="#0bb4d2" stroke-width="1.0"/>
<path d="M524,160 525.8,159.5 525.5,154 523.8,154.4Z" fill="#08b4d1" stroke="#08b4d1" stroke-width="1.0"/>
<path d="M525.8,159.5 527.5,159 529.3,158.5 529,153 527.3,153.5 525.5,154Z" fill="#06b5cf" stroke="#06b5cf" stroke-width="1.0"/>
<path d="M529.3,158.5 531,158 530.8,152.5 529,153Z" fill="#05b6cd" stroke="#05b6cd" stroke-width="1.0"/>
<path d="M531,158 532.8,157.5 534.5,157 534.3,151.5 532.5,152 530.8,152.5Z" fill="#03b7cc" stroke="#03b7cc" stroke-width="1.0"/>
<path d="M534.5,157 536.3,156.5 536,151 534.3,151.5Z" fill="#01b7ca" stroke="#01b7ca" stroke-width="1.0"/>
<path d="M536.3,156.5 538,156.1 539.8,155.7 539.5,150.1 537.7,150.5 536,151Z" fill="#01b8c9" stroke="#01b8c9" stroke-width="1.0"/>
<path d="M539.8,155.7 541.5,155.3 543.3,155 543,149.4 541.2,149.7 539.5,150.1Z" fill="#01b9c7" stroke="#01b9c7" stroke-width="1.0"/>
<path d="M543.3,155 545,154.7 546.8,154.5 546.5,148.9 544.7,149.1 543,149.4Z" fill="#01b9c6" stroke="#01b9c6" stroke-width="1.0"/>
<path d="M546.8,154.5 548.5,154.4 550.3,154.3 552,154.2 556.4,154.2 556.1,148.7 551.7,148.7 550,148.7 548.2,148.8 546.5,148.9Z" fill="#02bac4" stroke="#02bac4" stroke-width="1.0"/>
<path d="M556.4,154.2 560.8,154.1 565.1,154.1 569.5,154.2 569.2,148.8 564.8,148.7 560.5,148.7 556.1,148.7Z" fill="#03bbc2" stroke="#03bbc2" stroke-width="1.0"/>
<path d="M569.5,154.2 573.9,154.2 578.2,154.3 582.6,154.5 587,154.6 591.3,154.8 595.7,154.9 595.4,150 591.1,149.7 586.7,149.5 582.3,149.2 578,149.1 573.6,148.9 569.2,148.8Z" fill="#05bbc1" stroke="#05bbc1" stroke-width="1.0"/>
<path d="M595.7,154.9 600.1,155.1 604.5,155.2 608.8,155.4 613.2,155.6 617.6,155.7 621.9,155.9 626.3,156.1 630.7,156.3 635,156.5 639.4,156.7 639.1,152.6 634.8,152.3 630.4,152.1 626,151.8 621.7,151.6 617.3,151.3 612.9,151 608.5,150.8 604.2,150.5 599.8,150.3 595.4,150Z" fill="#08bcbf" stroke="#08bcbf" stroke-width="1.0"/>
<path d="M639.4,156.7 643.8,156.9 648.2,157.1 652.5,157.3 656.9,157.5 661.3,157.7 665.6,158 670,158.2 674.4,158.5 674.1,154.7 669.7,154.4 665.4,154.1 661,153.9 656.6,153.6 652.2,153.4 647.9,153.1 643.5,152.8 639.1,152.6Z" fill="#0abdbd" stroke="#0abdbd" stroke-width="1.0"/>
<path class="e" d="M499.6,166 500.5,165.8 501.3,165.6 502.2,165.4 503.1,165.2 503.9,165 504.8,164.8 505.7,164.6 506.6,164.4 507.4,164.2 508.3,164 509.2,163.8 510.1,163.5 510.9,163.3 511.8,163.1 512.7,162.9 513.6,162.6 514.4,162.4 515.3,162.2 516.2,162 517.1,161.7 518.8,161.3 520.6,160.9 522.3,160.4 524,160 525.8,159.5 527.5,159 529.3,158.5 531,158 532.8,157.5 534.5,157 536.3,156.5 538,156.1 539.8,155.7 541.5,155.3 543.3,155 545,154.7 546.8,154.5 548.5,154.4 550.3,154.3 552,154.2 556.4,154.2 560.8,154.1 565.1,154.1 569.5,154.2 573.9,154.2 578.2,154.3 582.6,154.5 587,154.6 591.3,154.8 595.7,154.9 600.1,155.1 604.5,155.2 608.8,155.4 613.2,155.6 617.6,155.7 621.9,155.9 626.3,156.1 630.7,156.3 635,156.5 639.4,156.7 643.8,156.9 648.2,157.1 652.5,157.3 656.9,157.5 661.3,157.7 665.6,158 670,158.2 674.4,158.5"/>
<path d="M499.3,159.4 500.2,159.2 501,159 500.8,152.7 499.9,152.8 499,153Z" fill="#0bb4d2" stroke="#0bb4d2" stroke-width="1.0"/>
<path d="M501,159 501.9,158.9 502.8,158.7 503.7,158.5 504.5,158.4 504.3,152.1 503.4,152.3 502.5,152.4 501.6,152.6 500.8,152.7Z" fill="#08b4d1" stroke="#08b4d1" stroke-width="1.0"/>
<path d="M504.5,158.4 505.4,158.2 506.3,158 507.2,157.9 508,157.7 507.7,151.6 506.9,151.7 506,151.9 505.1,152 504.3,152.1Z" fill="#06b5cf" stroke="#06b5cf" stroke-width="1.0"/>
<path d="M508,157.7 508.9,157.5 509.8,157.4 510.7,157.2 511.5,157 511.2,151 510.4,151.2 509.5,151.3 508.6,151.5 507.7,151.6Z" fill="#05b6cd" stroke="#05b6cd" stroke-width="1.0"/>
<path d="M511.5,157 512.4,156.8 513.3,156.7 514.2,156.5 515,156.3 514.7,150.5 513.9,150.6 513,150.8 512.1,150.9 511.2,151Z" fill="#03b7cc" stroke="#03b7cc" stroke-width="1.0"/>
<path d="M515,156.3 515.9,156.1 516.8,156 518.5,155.6 518.2,149.9 516.5,150.2 515.6,150.3 514.7,150.5Z" fill="#01b7ca" stroke="#01b7ca" stroke-width="1.0"/>
<path d="M518.5,155.6 520.3,155.2 522,154.9 521.7,149.3 520,149.6 518.2,149.9Z" fill="#01b8c9" stroke="#01b8c9" stroke-width="1.0"/>
<path d="M522,154.9 523.8,154.4 525.5,154 525.2,148.6 523.5,148.9 521.7,149.3Z" fill="#01b9c7" stroke="#01b9c7" stroke-width="1.0"/>
<path d="M525.5,154 527.3,153.5 527,148.2 525.2,148.6Z" fill="#01b9c6" stroke="#01b9c6" stroke-width="1.0"/>
<path d="M527.3,153.5 529,153 530.8,152.5 530.5,147.3 528.7,147.7 527,148.2Z" fill="#02bac4" stroke="#02bac4" stroke-width="1.0"/>
<path d="M530.8,152.5 532.5,152 532.2,146.9 530.5,147.3Z" fill="#03bbc2" stroke="#03bbc2" stroke-width="1.0"/>
<path d="M532.5,152 534.3,151.5 536,151 535.7,146.1 534,146.5 532.2,146.9Z" fill="#05bbc1" stroke="#05bbc1" stroke-width="1.0"/>
<path d="M536,151 537.7,150.5 537.5,145.7 535.7,146.1Z" fill="#08bcbf" stroke="#08bcbf" stroke-width="1.0"/>
<path d="M537.7,150.5 539.5,150.1 541.2,149.7 541,145 539.2,145.4 537.5,145.7Z" fill="#0abdbd" stroke="#0abdbd" stroke-width="1.0"/>
<path d="M541.2,149.7 543,149.4 544.7,149.1 544.5,144.5 542.7,144.8 541,145Z" fill="#0dbdbc" stroke="#0dbdbc" stroke-width="1.0"/>
<path d="M544.7,149.1 546.5,148.9 548.2,148.8 550,148.7 549.7,144.2 548,144.2 546.2,144.4 544.5,144.5Z" fill="#10beba" stroke="#10beba" stroke-width="1.0"/>
<path d="M550,148.7 551.7,148.7 556.1,148.7 560.5,148.7 564.8,148.7 564.6,144.4 560.2,144.3 555.8,144.3 551.4,144.2 549.7,144.2Z" fill="#13beb8" stroke="#13beb8" stroke-width="1.0"/>
<path d="M564.8,148.7 569.2,148.8 573.6,148.9 578,149.1 582.3,149.2 586.7,149.5 591.1,149.7 595.4,150 599.8,150.3 604.2,150.5 608.5,150.8 612.9,151 617.3,151.3 621.7,151.6 626,151.8 630.4,152.1 634.8,152.3 639.1,152.6 643.5,152.8 647.9,153.1 652.2,153.4 656.6,153.6 661,153.9 665.4,154.1 669.7,154.4 674.1,154.7 673.8,150.2 669.4,150 665.1,149.7 660.7,149.5 656.3,149.2 652,149 647.6,148.7 643.2,148.5 638.8,148.2 634.5,148 630.1,147.7 625.7,147.5 621.4,147.2 617,147 612.6,146.7 608.3,146.5 603.9,146.2 599.5,146 595.1,145.7 590.8,145.5 586.4,145.3 582,145 577.7,144.9 573.3,144.7 568.9,144.5 564.6,144.4Z" fill="#17bfb6" stroke="#17bfb6" stroke-width="1.0"/>
<path class="e" d="M499.3,159.4 500.2,159.2 501,159 501.9,158.9 502.8,158.7 503.7,158.5 504.5,158.4 505.4,158.2 506.3,158 507.2,157.9 508,157.7 508.9,157.5 509.8,157.4 510.7,157.2 511.5,157 512.4,156.8 513.3,156.7 514.2,156.5 515,156.3 515.9,156.1 516.8,156 518.5,155.6 520.3,155.2 522,154.9 523.8,154.4 525.5,154 527.3,153.5 529,153 530.8,152.5 532.5,152 534.3,151.5 536,151 537.7,150.5 539.5,150.1 541.2,149.7 543,149.4 544.7,149.1 546.5,148.9 548.2,148.8 550,148.7 551.7,148.7 556.1,148.7 560.5,148.7 564.8,148.7 569.2,148.8 573.6,148.9 578,149.1 582.3,149.2 586.7,149.5 591.1,149.7 595.4,150 599.8,150.3 604.2,150.5 608.5,150.8 612.9,151 617.3,151.3 621.7,151.6 626,151.8 630.4,152.1 634.8,152.3 639.1,152.6 643.5,152.8 647.9,153.1 652.2,153.4 656.6,153.6 661,153.9 665.4,154.1 669.7,154.4 674.1,154.7"/>
<path d="M499,153 499.9,152.8 499.6,146.8 498.7,147Z" fill="#01b9c7" stroke="#01b9c7" stroke-width="1.0"/>
<path d="M499.9,152.8 500.8,152.7 501.6,152.6 502.5,152.4 503.4,152.3 504.3,152.1 504,146.3 503.1,146.4 502.2,146.5 501.3,146.6 500.5,146.7 499.6,146.8Z" fill="#01b9c6" stroke="#01b9c6" stroke-width="1.0"/>
<path d="M504.3,152.1 505.1,152 506,151.9 506.9,151.7 507.7,151.6 507.5,145.9 506.6,146 505.7,146.1 504.8,146.2 504,146.3Z" fill="#02bac4" stroke="#02bac4" stroke-width="1.0"/>
<path d="M507.7,151.6 508.6,151.5 509.5,151.3 510.4,151.2 511.2,151 512.1,150.9 511.8,145.3 511,145.4 510.1,145.5 509.2,145.7 508.3,145.8 507.5,145.9Z" fill="#03bbc2" stroke="#03bbc2" stroke-width="1.0"/>
<path d="M512.1,150.9 513,150.8 513.9,150.6 514.7,150.5 515.6,150.3 515.3,144.8 514.5,145 513.6,145.1 512.7,145.2 511.8,145.3Z" fill="#05bbc1" stroke="#05bbc1" stroke-width="1.0"/>
<path d="M515.6,150.3 516.5,150.2 518.2,149.9 520,149.6 519.7,144.2 518,144.5 516.2,144.7 515.3,144.8Z" fill="#08bcbf" stroke="#08bcbf" stroke-width="1.0"/>
<path d="M520,149.6 521.7,149.3 523.5,148.9 523.2,143.7 521.4,144 519.7,144.2Z" fill="#0abdbd" stroke="#0abdbd" stroke-width="1.0"/>
<path d="M523.5,148.9 525.2,148.6 527,148.2 526.7,143 524.9,143.4 523.2,143.7Z" fill="#0dbdbc" stroke="#0dbdbc" stroke-width="1.0"/>
<path d="M527,148.2 528.7,147.7 530.5,147.3 530.2,142.3 528.4,142.7 526.7,143Z" fill="#10beba" stroke="#10beba" stroke-width="1.0"/>
<path d="M530.5,147.3 532.2,146.9 534,146.5 533.7,141.5 531.9,141.9 530.2,142.3Z" fill="#13beb8" stroke="#13beb8" stroke-width="1.0"/>
<path d="M534,146.5 535.7,146.1 535.4,141.2 533.7,141.5Z" fill="#17bfb6" stroke="#17bfb6" stroke-width="1.0"/>
<path d="M535.7,146.1 537.5,145.7 539.2,145.4 538.9,140.5 537.2,140.8 535.4,141.2Z" fill="#1abfb5" stroke="#1abfb5" stroke-width="1.0"/>
<path d="M539.2,145.4 541,145 542.7,144.8 542.4,140 540.7,140.3 538.9,140.5Z" fill="#1dc0b3" stroke="#1dc0b3" stroke-width="1.0"/>
<path d="M542.7,144.8 544.5,144.5 546.2,144.4 548,144.2 549.7,144.2 549.4,139.6 547.7,139.6 545.9,139.7 544.2,139.8 542.4,140Z" fill="#1fc1b1" stroke="#1fc1b1" stroke-width="1.0"/>
<path d="M549.7,144.2 551.4,144.2 555.8,144.3 560.2,144.3 564.6,144.4 568.9,144.5 568.6,140.3 564.3,140.1 559.9,139.9 555.5,139.8 551.2,139.6 549.4,139.6Z" fill="#22c1b0" stroke="#22c1b0" stroke-width="1.0"/>
<path d="M568.9,144.5 573.3,144.7 577.7,144.9 582,145 586.4,145.3 590.8,145.5 595.1,145.7 599.5,146 603.9,146.2 608.3,146.5 612.6,146.7 617,147 621.4,147.2 625.7,147.5 630.1,147.7 634.5,148 638.8,148.2 643.2,148.5 647.6,148.7 652,149 656.3,149.2 660.7,149.5 665.1,149.7 669.4,150 673.8,150.2 673.5,145.7 669.2,145.5 664.8,145.2 660.4,145 656,144.7 651.7,144.5 647.3,144.3 642.9,144 638.6,143.8 634.2,143.6 629.8,143.3 625.5,143.1 621.1,142.9 616.7,142.7 612.3,142.5 608,142.2 603.6,142 599.2,141.8 594.9,141.6 590.5,141.4 586.1,141.2 581.8,140.9 577.4,140.7 573,140.5 568.6,140.3Z" fill="#25c2ae" stroke="#25c2ae" stroke-width="1.0"/>
<path class="e" d="M499,153 499.9,152.8 500.8,152.7 501.6,152.6 502.5,152.4 503.4,152.3 504.3,152.1 505.1,152 506,151.9 506.9,151.7 507.7,151.6 508.6,151.5 509.5,151.3 510.4,151.2 511.2,151 512.1,150.9 513,150.8 513.9,150.6 514.7,150.5 515.6,150.3 516.5,150.2 518.2,149.9 520,149.6 521.7,149.3 523.5,148.9 525.2,148.6 527,148.2 528.7,147.7 530.5,147.3 532.2,146.9 534,146.5 535.7,146.1 537.5,145.7 539.2,145.4 541,145 542.7,144.8 544.5,144.5 546.2,144.4 548,144.2 549.7,144.2 551.4,144.2 555.8,144.3 560.2,144.3 564.6,144.4 568.9,144.5 573.3,144.7 577.7,144.9 582,145 586.4,145.3 590.8,145.5 595.1,145.7 599.5,146 603.9,146.2 608.3,146.5 612.6,146.7 617,147 621.4,147.2 625.7,147.5 630.1,147.7 634.5,148 638.8,148.2 643.2,148.5 647.6,148.7 652,149 656.3,149.2 660.7,149.5 665.1,149.7 669.4,150 673.8,150.2"/>
<path d="M498.7,147 499.6,146.8 500.5,146.7 500.2,141 499.3,141.1 498.4,141.3Z" fill="#0dbdbc" stroke="#0dbdbc" stroke-width="1.0"/>
<path d="M500.5,146.7 501.3,146.6 502.2,146.5 503.1,146.4 504,146.3 504.8,146.2 505.7,146.1 505.4,140.3 504.6,140.4 503.7,140.6 502.8,140.7 501.9,140.8 501.1,140.9 500.2,141Z" fill="#10beba" stroke="#10beba" stroke-width="1.0"/>
<path d="M505.7,146.1 506.6,146 507.5,145.9 508.3,145.8 509.2,145.7 510.1,145.5 509.8,139.8 508.9,139.9 508.1,140 507.2,140.1 506.3,140.2 505.4,140.3Z" fill="#13beb8" stroke="#13beb8" stroke-width="1.0"/>
<path d="M510.1,145.5 511,145.4 511.8,145.3 512.7,145.2 513.6,145.1 514.5,145 514.2,139.2 513.3,139.4 512.4,139.5 511.6,139.6 510.7,139.7 509.8,139.8Z" fill="#17bfb6" stroke="#17bfb6" stroke-width="1.0"/>
<path d="M514.5,145 515.3,144.8 516.2,144.7 518,144.5 519.7,144.2 519.4,138.7 517.7,138.9 515.9,139 515,139.1 514.2,139.2Z" fill="#1abfb5" stroke="#1abfb5" stroke-width="1.0"/>
<path d="M519.7,144.2 521.4,144 523.2,143.7 522.9,138.3 521.2,138.5 519.4,138.7Z" fill="#1dc0b3" stroke="#1dc0b3" stroke-width="1.0"/>
<path d="M523.2,143.7 524.9,143.4 526.7,143 526.4,137.8 524.7,138 522.9,138.3Z" fill="#1fc1b1" stroke="#1fc1b1" stroke-width="1.0"/>
<path d="M526.7,143 528.4,142.7 530.2,142.3 529.9,137.3 528.2,137.6 526.4,137.8Z" fill="#22c1b0" stroke="#22c1b0" stroke-width="1.0"/>
<path d="M530.2,142.3 531.9,141.9 533.7,141.5 533.4,136.9 531.7,137.1 529.9,137.3Z" fill="#25c2ae" stroke="#25c2ae" stroke-width="1.0"/>
<path d="M533.7,141.5 535.4,141.2 537.2,140.8 536.9,136.5 535.1,136.7 533.4,136.9Z" fill="#27c2ac" stroke="#27c2ac" stroke-width="1.0"/>
<path d="M537.2,140.8 538.9,140.5 540.7,140.3 540.4,136.1 538.6,136.3 536.9,136.5Z" fill="#29c3aa" stroke="#29c3aa" stroke-width="1.0"/>
<path d="M540.7,140.3 542.4,140 544.2,139.8 545.9,139.7 545.6,135.9 543.9,135.9 542.1,136 540.4,136.1Z" fill="#2bc3a8" stroke="#2bc3a8" stroke-width="1.0"/>
<path d="M545.9,139.7 547.7,139.6 549.4,139.6 551.2,139.6 555.5,139.8 559.9,139.9 564.3,140.1 568.6,140.3 573,140.5 577.4,140.7 581.8,140.9 581.5,137.5 577.1,137.2 572.7,137 568.4,136.8 564,136.5 559.6,136.3 555.3,136.1 550.9,135.9 549.1,135.9 547.4,135.8 545.6,135.9Z" fill="#2cc4a6" stroke="#2cc4a6" stroke-width="1.0"/>
<path d="M581.8,140.9 586.1,141.2 590.5,141.4 594.9,141.6 599.2,141.8 603.6,142 608,142.2 612.3,142.5 616.7,142.7 621.1,142.9 625.5,143.1 629.8,143.3 634.2,143.6 638.6,143.8 642.9,144 647.3,144.3 651.7,144.5 656,144.7 660.4,145 664.8,145.2 669.2,145.5 673.5,145.7 673.2,143.5 668.9,143.2 664.5,142.9 660.1,142.5 655.8,142.2 651.4,141.9 647,141.6 642.7,141.3 638.3,141 633.9,140.7 629.5,140.4 625.2,140.2 620.8,139.9 616.4,139.6 612.1,139.3 607.7,139.1 603.3,138.8 599,138.5 594.6,138.3 590.2,138 585.8,137.7 581.5,137.5Z" fill="#2ec4a5" stroke="#2ec4a5" stroke-width="1.0"/>
<path class="e" d="M498.7,147 499.6,146.8 500.5,146.7 501.3,146.6 502.2,146.5 503.1,146.4 504,146.3 504.8,146.2 505.7,146.1 506.6,146 507.5,145.9 508.3,145.8 509.2,145.7 510.1,145.5 511,145.4 511.8,145.3 512.7,145.2 513.6,145.1 514.5,145 515.3,144.8 516.2,144.7 518,144.5 519.7,144.2 521.4,144 523.2,143.7 524.9,143.4 526.7,143 528.4,142.7 530.2,142.3 531.9,141.9 533.7,141.5 535.4,141.2 537.2,140.8 538.9,140.5 540.7,140.3 542.4,140 544.2,139.8 545.9,139.7 547.7,139.6 549.4,139.6 551.2,139.6 555.5,139.8 559.9,139.9 564.3,140.1 568.6,140.3 573,140.5 577.4,140.7 581.8,140.9 586.1,141.2 590.5,141.4 594.9,141.6 599.2,141.8 603.6,142 608,142.2 612.3,142.5 616.7,142.7 621.1,142.9 625.5,143.1 629.8,143.3 634.2,143.6 638.6,143.8 642.9,144 647.3,144.3 651.7,144.5 656,144.7 660.4,145 664.8,145.2 669.2,145.5 673.5,145.7"/>
<path d="M498.4,141.3 499.3,141.1 500.2,141 501.1,140.9 501.9,140.8 502.8,140.7 502.5,135.7 501.7,135.8 500.8,135.9 499.9,136 499,136.1 498.2,136.2Z" fill="#22c1b0" stroke="#22c1b0" stroke-width="1.0"/>
<path d="M502.8,140.7 503.7,140.6 504.6,140.4 505.4,140.3 506.3,140.2 507.2,140.1 506.9,135.2 506,135.3 505.1,135.4 504.3,135.5 503.4,135.6 502.5,135.7Z" fill="#25c2ae" stroke="#25c2ae" stroke-width="1.0"/>
<path d="M507.2,140.1 508.1,140 508.9,139.9 509.8,139.8 510.7,139.7 511.6,139.6 512.4,139.5 512.1,134.7 511.3,134.7 510.4,134.8 509.5,134.9 508.6,135 507.8,135.1 506.9,135.2Z" fill="#27c2ac" stroke="#27c2ac" stroke-width="1.0"/>
<path d="M512.4,139.5 513.3,139.4 514.2,139.2 515,139.1 515.9,139 517.7,138.9 517.4,134.2 515.6,134.3 514.8,134.4 513.9,134.5 513,134.6 512.1,134.7Z" fill="#29c3aa" stroke="#29c3aa" stroke-width="1.0"/>
<path d="M517.7,138.9 519.4,138.7 521.2,138.5 522.9,138.3 522.6,133.8 520.9,133.9 519.1,134.1 517.4,134.2Z" fill="#2bc3a8" stroke="#2bc3a8" stroke-width="1.0"/>
<path d="M522.9,138.3 524.7,138 526.4,137.8 528.2,137.6 527.9,133.3 526.1,133.5 524.4,133.6 522.6,133.8Z" fill="#2cc4a6" stroke="#2cc4a6" stroke-width="1.0"/>
<path d="M528.2,137.6 529.9,137.3 531.7,137.1 531.4,133 529.6,133.2 527.9,133.3Z" fill="#2ec4a5" stroke="#2ec4a5" stroke-width="1.0"/>
<path d="M531.7,137.1 533.4,136.9 535.1,136.7 536.9,136.5 536.6,132.6 534.9,132.8 533.1,132.9 531.4,133Z" fill="#2fc5a3" stroke="#2fc5a3" stroke-width="1.0"/>
<path d="M536.9,136.5 538.6,136.3 540.4,136.1 542.1,136 543.9,135.9 543.6,132.3 541.9,132.4 540.1,132.4 538.4,132.5 536.6,132.6Z" fill="#30c5a1" stroke="#30c5a1" stroke-width="1.0"/>
<path d="M543.9,135.9 545.6,135.9 547.4,135.8 549.1,135.9 550.9,135.9 555.3,136.1 559.6,136.3 564,136.5 568.4,136.8 572.7,137 577.1,137.2 581.5,137.5 585.8,137.7 590.2,138 594.6,138.3 599,138.5 603.3,138.8 607.7,139.1 612.1,139.3 616.4,139.6 620.8,139.9 625.2,140.2 629.5,140.4 633.9,140.7 638.3,141 642.7,141.3 647,141.6 651.4,141.9 655.8,142.2 660.1,142.5 664.5,142.9 668.9,143.2 673.2,143.5 673,140.8 668.6,140.4 664.2,140 659.8,139.7 655.5,139.3 651.1,138.9 646.7,138.6 642.4,138.2 638,137.9 633.6,137.6 629.3,137.2 624.9,136.9 620.5,136.6 616.1,136.3 611.8,136 607.4,135.7 603,135.4 598.7,135.1 594.3,134.8 589.9,134.6 585.6,134.3 581.2,134.1 576.8,133.8 572.4,133.6 568.1,133.3 563.7,133.1 559.3,132.9 555,132.6 550.6,132.4 548.8,132.4 547.1,132.3 545.4,132.3 543.6,132.3Z" fill="#32c69f" stroke="#32c69f" stroke-width="1.0"/>
<path class="e" d="M498.4,141.3 499.3,141.1 500.2,141 501.1,140.9 501.9,140.8 502.8,140.7 503.7,140.6 504.6,140.4 505.4,140.3 506.3,140.2 507.2,140.1 508.1,140 508.9,139.9 509.8,139.8 510.7,139.7 511.6,139.6 512.4,139.5 513.3,139.4 514.2,139.2 515,139.1 515.9,139 517.7,138.9 519.4,138.7 521.2,138.5 522.9,138.3 524.7,138 526.4,137.8 528.2,137.6 529.9,137.3 531.7,137.1 533.4,136.9 535.1,136.7 536.9,136.5 538.6,136.3 540.4,136.1 542.1,136 543.9,135.9 545.6,135.9 547.4,135.8 549.1,135.9 550.9,135.9 555.3,136.1 559.6,136.3 564,136.5 568.4,136.8 572.7,137 577.1,137.2 581.5,137.5 585.8,137.7 590.2,138 594.6,138.3 599,138.5 603.3,138.8 607.7,139.1 612.1,139.3 616.4,139.6 620.8,139.9 625.2,140.2 629.5,140.4 633.9,140.7 638.3,141 642.7,141.3 647,141.6 651.4,141.9 655.8,142.2 660.1,142.5 664.5,142.9 668.9,143.2 673.2,143.5"/>
<path d="M498.2,136.2 499,136.1 498.7,131.3 497.9,131.4Z" fill="#2cc4a6" stroke="#2cc4a6" stroke-width="1.0"/>
<path d="M499,136.1 499.9,136 500.8,135.9 501.7,135.8 502.5,135.7 503.4,135.6 504.3,135.5 504,130.8 503.1,130.9 502.2,131 501.4,131 500.5,131.1 499.6,131.2 498.7,131.3Z" fill="#2ec4a5" stroke="#2ec4a5" stroke-width="1.0"/>
<path d="M504.3,135.5 505.1,135.4 506,135.3 506.9,135.2 507.8,135.1 508.6,135 509.5,134.9 509.2,130.4 508.4,130.4 507.5,130.5 506.6,130.6 505.7,130.7 504.9,130.7 504,130.8Z" fill="#2fc5a3" stroke="#2fc5a3" stroke-width="1.0"/>
<path d="M509.5,134.9 510.4,134.8 511.3,134.7 512.1,134.7 513,134.6 513.9,134.5 514.8,134.4 514.5,130 513.6,130.1 512.7,130.1 511.9,130.2 511,130.2 510.1,130.3 509.2,130.4Z" fill="#30c5a1" stroke="#30c5a1" stroke-width="1.0"/>
<path d="M514.8,134.4 515.6,134.3 517.4,134.2 519.1,134.1 520.9,133.9 522.6,133.8 522.3,129.6 520.6,129.7 518.8,129.8 517.1,129.8 515.4,130 514.5,130Z" fill="#32c69f" stroke="#32c69f" stroke-width="1.0"/>
<path d="M522.6,133.8 524.4,133.6 526.1,133.5 527.9,133.3 527.6,129.3 525.8,129.4 524.1,129.5 522.3,129.6Z" fill="#33c79d" stroke="#33c79d" stroke-width="1.0"/>
<path d="M527.9,133.3 529.6,133.2 531.4,133 533.1,132.9 534.9,132.8 534.6,128.9 532.8,129 531.1,129.1 529.3,129.2 527.6,129.3Z" fill="#35c79b" stroke="#35c79b" stroke-width="1.0"/>
<path d="M534.9,132.8 536.6,132.6 538.4,132.5 540.1,132.4 541.9,132.4 541.6,128.7 539.8,128.7 538.1,128.8 536.3,128.8 534.6,128.9Z" fill="#36c899" stroke="#36c899" stroke-width="1.0"/>
<path d="M541.9,132.4 543.6,132.3 545.4,132.3 547.1,132.3 548.8,132.4 550.6,132.4 555,132.6 559.3,132.9 563.7,133.1 568.1,133.3 572.4,133.6 576.8,133.8 581.2,134.1 585.6,134.3 589.9,134.6 594.3,134.8 598.7,135.1 603,135.4 607.4,135.7 611.8,136 616.1,136.3 620.5,136.6 624.9,136.9 629.3,137.2 633.6,137.6 638,137.9 642.4,138.2 646.7,138.6 651.1,138.9 655.5,139.3 655.2,136.4 650.8,136.1 646.5,135.7 642.1,135.4 637.7,135 633.3,134.7 629,134.3 624.6,134 620.2,133.7 615.9,133.3 611.5,133 607.1,132.7 602.8,132.4 598.4,132.1 594,131.8 589.6,131.5 585.3,131.2 580.9,130.9 576.5,130.6 572.2,130.3 567.8,130 563.4,129.7 559.1,129.5 554.7,129.2 550.3,128.9 548.6,128.8 546.8,128.8 545.1,128.7 543.3,128.7 541.6,128.7Z" fill="#38c897" stroke="#38c897" stroke-width="1.0"/>
<path d="M655.5,139.3 659.8,139.7 664.2,140 668.6,140.4 673,140.8 672.7,137.9 668.3,137.5 663.9,137.1 659.6,136.8 655.2,136.4Z" fill="#36c899" stroke="#36c899" stroke-width="1.0"/>
<path class="e" d="M498.2,136.2 499,136.1 499.9,136 500.8,135.9 501.7,135.8 502.5,135.7 503.4,135.6 504.3,135.5 505.1,135.4 506,135.3 506.9,135.2 507.8,135.1 508.6,135 509.5,134.9 510.4,134.8 511.3,134.7 512.1,134.7 513,134.6 513.9,134.5 514.8,134.4 515.6,134.3 517.4,134.2 519.1,134.1 520.9,133.9 522.6,133.8 524.4,133.6 526.1,133.5 527.9,133.3 529.6,133.2 531.4,133 533.1,132.9 534.9,132.8 536.6,132.6 538.4,132.5 540.1,132.4 541.9,132.4 543.6,132.3 545.4,132.3 547.1,132.3 548.8,132.4 550.6,132.4 555,132.6 559.3,132.9 563.7,133.1 568.1,133.3 572.4,133.6 576.8,133.8 581.2,134.1 585.6,134.3 589.9,134.6 594.3,134.8 598.7,135.1 603,135.4 607.4,135.7 611.8,136 616.1,136.3 620.5,136.6 624.9,136.9 629.3,137.2 633.6,137.6 638,137.9 642.4,138.2 646.7,138.6 651.1,138.9 655.5,139.3 659.8,139.7 664.2,140 668.6,140.4 673,140.8"/>
<path d="M497.9,131.4 498.7,131.3 499.6,131.2 500.5,131.1 501.4,131 501.1,126.2 500.2,126.2 499.3,126.3 498.5,126.4 497.6,126.5Z" fill="#35c79b" stroke="#35c79b" stroke-width="1.0"/>
<path d="M501.4,131 502.2,131 503.1,130.9 504,130.8 504.9,130.7 505.7,130.7 506.6,130.6 507.5,130.5 507.2,125.7 506.3,125.8 505.5,125.8 504.6,125.9 503.7,126 502.8,126 502,126.1 501.1,126.2Z" fill="#36c899" stroke="#36c899" stroke-width="1.0"/>
<path d="M507.5,130.5 508.4,130.4 509.2,130.4 510.1,130.3 511,130.2 511.9,130.2 512.7,130.1 513.6,130.1 514.5,130 514.2,125.3 513.3,125.4 512.4,125.4 511.6,125.5 510.7,125.5 509.8,125.5 509,125.6 508.1,125.7 507.2,125.7Z" fill="#38c897" stroke="#38c897" stroke-width="1.0"/>
<path d="M514.5,130 515.4,130 517.1,129.8 518.8,129.8 520.6,129.7 522.3,129.6 522.1,125.2 520.3,125.2 518.6,125.2 516.8,125.3 515.1,125.3 514.2,125.3Z" fill="#39c994" stroke="#39c994" stroke-width="1.0"/>
<path d="M522.3,129.6 524.1,129.5 525.8,129.4 527.6,129.3 529.3,129.2 531.1,129.1 530.8,125.1 529.1,125.1 527.3,125.1 525.6,125.2 523.8,125.2 522.1,125.2Z" fill="#3bc992" stroke="#3bc992" stroke-width="1.0"/>
<path d="M531.1,129.1 532.8,129 534.6,128.9 536.3,128.8 538.1,128.8 539.8,128.7 539.5,125.2 537.8,125.2 536,125.2 534.3,125.1 532.5,125.1 530.8,125.1Z" fill="#3dca90" stroke="#3dca90" stroke-width="1.0"/>
<path d="M539.8,128.7 541.6,128.7 543.3,128.7 545.1,128.7 546.8,128.8 548.6,128.8 550.3,128.9 554.7,129.2 559.1,129.5 563.4,129.7 567.8,130 572.2,130.3 576.5,130.6 580.9,130.9 585.3,131.2 589.6,131.5 594,131.8 598.4,132.1 602.8,132.4 607.1,132.7 611.5,133 615.9,133.3 620.2,133.7 619.9,131.1 615.6,130.8 611.2,130.4 606.8,130.1 602.5,129.7 598.1,129.4 593.7,129 589.4,128.7 585,128.3 580.6,128 576.2,127.6 571.9,127.2 567.5,126.9 563.1,126.5 558.8,126.2 554.4,125.9 550,125.6 548.3,125.5 546.5,125.4 544.8,125.4 543,125.3 541.3,125.2 539.5,125.2Z" fill="#3fca8e" stroke="#3fca8e" stroke-width="1.0"/>
<path d="M620.2,133.7 624.6,134 629,134.3 633.3,134.7 637.7,135 642.1,135.4 646.5,135.7 650.8,136.1 655.2,136.4 659.6,136.8 663.9,137.1 668.3,137.5 668,135 663.6,134.6 659.3,134.3 654.9,133.9 650.5,133.6 646.2,133.2 641.8,132.9 637.4,132.5 633.1,132.2 628.7,131.8 624.3,131.5 619.9,131.1Z" fill="#3dca90" stroke="#3dca90" stroke-width="1.0"/>
<path d="M668.3,137.5 672.7,137.9 672.4,135.4 668,135Z" fill="#3bc992" stroke="#3bc992" stroke-width="1.0"/>
<path class="e" d="M497.9,131.4 498.7,131.3 499.6,131.2 500.5,131.1 501.4,131 502.2,131 503.1,130.9 504,130.8 504.9,130.7 505.7,130.7 506.6,130.6 507.5,130.5 508.4,130.4 509.2,130.4 510.1,130.3 511,130.2 511.9,130.2 512.7,130.1 513.6,130.1 514.5,130 515.4,130 517.1,129.8 518.8,129.8 520.6,129.7 522.3,129.6 524.1,129.5 525.8,129.4 527.6,129.3 529.3,129.2 531.1,129.1 532.8,129 534.6,128.9 536.3,128.8 538.1,128.8 539.8,128.7 541.6,128.7 543.3,128.7 545.1,128.7 546.8,128.8 548.6,128.8 550.3,128.9 554.7,129.2 559.1,129.5 563.4,129.7 567.8,130 572.2,130.3 576.5,130.6 580.9,130.9 585.3,131.2 589.6,131.5 594,131.8 598.4,132.1 602.8,132.4 607.1,132.7 611.5,133 615.9,133.3 620.2,133.7 624.6,134 629,134.3 633.3,134.7 637.7,135 642.1,135.4 646.5,135.7 650.8,136.1 655.2,136.4 659.6,136.8 663.9,137.1 668.3,137.5 672.7,137.9"/>
<path d="M497.6,126.5 498.5,126.4 495.7,85.5 494.9,85.3Z" fill="#3dca90" stroke="#3dca90" stroke-width="1.0"/>
<path d="M498.5,126.4 499.3,126.3 500.2,126.2 501.1,126.2 502,126.1 502.8,126 503.7,126 504.6,125.9 501.9,88.4 501,87.9 500.1,87.4 499.2,86.9 498.4,86.5 497.5,86.1 496.6,85.8 495.7,85.5Z" fill="#3fca8e" stroke="#3fca8e" stroke-width="1.0"/>
<path d="M504.6,125.9 505.5,125.8 506.3,125.8 507.2,125.7 508.1,125.7 509,125.6 509.8,125.5 510.7,125.5 511.6,125.5 508.9,92.9 508,92.3 507.1,91.7 506.2,91.1 505.4,90.6 504.5,90 503.6,89.4 502.7,88.9 501.9,88.4Z" fill="#42ca8b" stroke="#42ca8b" stroke-width="1.0"/>
<path d="M511.6,125.5 512.4,125.4 513.3,125.4 514.2,125.3 515.1,125.3 516.8,125.3 518.6,125.2 520.3,125.2 522.1,125.2 519.3,99.8 517.6,98.7 515.8,97.6 514.1,96.5 512.4,95.3 511.5,94.7 510.6,94.1 509.7,93.5 508.9,92.9Z" fill="#45cb89" stroke="#45cb89" stroke-width="1.0"/>
<path d="M522.1,125.2 523.8,125.2 525.6,125.2 527.3,125.1 529.1,125.1 530.8,125.1 532.5,125.1 534.3,125.1 536,125.2 537.8,125.2 535.1,107.8 533.3,107.1 531.6,106.3 529.8,105.5 528.1,104.7 526.3,103.8 524.6,102.9 522.8,101.9 521.1,100.9 519.3,99.8Z" fill="#48cb86" stroke="#48cb86" stroke-width="1.0"/>
<path d="M537.8,125.2 539.5,125.2 541.3,125.2 543,125.3 544.8,125.4 546.5,125.4 548.3,125.5 550,125.6 554.4,125.9 558.8,126.2 563.1,126.5 567.5,126.9 571.9,127.2 576.2,127.6 573.5,115.8 569.2,115.3 564.8,114.8 560.4,114.2 556.1,113.5 551.7,112.7 547.3,111.7 545.6,111.2 543.8,110.7 542.1,110.2 540.3,109.7 538.6,109.1 536.8,108.5 535.1,107.8Z" fill="#4acb84" stroke="#4acb84" stroke-width="1.0"/>
<path d="M576.2,127.6 580.6,128 585,128.3 589.4,128.7 593.7,129 598.1,129.4 602.5,129.7 606.8,130.1 611.2,130.4 615.6,130.8 619.9,131.1 617.2,118.9 612.9,118.6 608.5,118.3 604.1,118.1 599.8,117.8 595.4,117.5 591,117.2 586.6,116.9 582.3,116.6 577.9,116.2 573.5,115.8Z" fill="#48cb86" stroke="#48cb86" stroke-width="1.0"/>
<path d="M619.9,131.1 624.3,131.5 628.7,131.8 633.1,132.2 637.4,132.5 641.8,132.9 646.2,133.2 650.5,133.6 654.9,133.9 659.3,134.3 656.6,121.2 652.2,121 647.8,120.7 643.5,120.5 639.1,120.2 634.7,119.9 630.3,119.7 626,119.4 621.6,119.1 617.2,118.9Z" fill="#45cb89" stroke="#45cb89" stroke-width="1.0"/>
<path d="M659.3,134.3 663.6,134.6 668,135 672.4,135.4 669.7,122 665.3,121.8 660.9,121.5 656.6,121.2Z" fill="#42ca8b" stroke="#42ca8b" stroke-width="1.0"/>
<path class="e" d="M497.6,126.5 498.5,126.4 499.3,126.3 500.2,126.2 501.1,126.2 502,126.1 502.8,126 503.7,126 504.6,125.9 505.5,125.8 506.3,125.8 507.2,125.7 508.1,125.7 509,125.6 509.8,125.5 510.7,125.5 511.6,125.5 512.4,125.4 513.3,125.4 514.2,125.3 515.1,125.3 516.8,125.3 518.6,125.2 520.3,125.2 522.1,125.2 523.8,125.2 525.6,125.2 527.3,125.1 529.1,125.1 530.8,125.1 532.5,125.1 534.3,125.1 536,125.2 537.8,125.2 539.5,125.2 541.3,125.2 543,125.3 544.8,125.4 546.5,125.4 548.3,125.5 550,125.6 554.4,125.9 558.8,126.2 563.1,126.5 567.5,126.9 571.9,127.2 576.2,127.6 580.6,128 585,128.3 589.4,128.7 593.7,129 598.1,129.4 602.5,129.7 606.8,130.1 611.2,130.4 615.6,130.8 619.9,131.1 624.3,131.5 628.7,131.8 633.1,132.2 637.4,132.5 641.8,132.9 646.2,133.2 650.5,133.6 654.9,133.9 659.3,134.3 663.6,134.6 668,135 672.4,135.4"/>
<path d="M494.9,85.3 495.7,85.5 496.6,85.8 497.5,86.1 494.8,69.6 493.9,69 493,68.6 492.2,68.3Z" fill="#d5be28" stroke="#d5be28" stroke-width="1.0"/>
<path d="M497.5,86.1 498.4,86.5 499.2,86.9 500.1,87.4 497.4,71.5 496.5,70.9 495.7,70.2 494.8,69.6Z" fill="#d2bf27" stroke="#d2bf27" stroke-width="1.0"/>
<path d="M500.1,87.4 501,87.9 501.9,88.4 499.1,73 498.3,72.3 497.4,71.5Z" fill="#d0c028" stroke="#d0c028" stroke-width="1.0"/>
<path d="M501.9,88.4 502.7,88.9 503.6,89.4 500.9,74.6 500,73.8 499.1,73Z" fill="#cdc028" stroke="#cdc028" stroke-width="1.0"/>
<path d="M503.6,89.4 504.5,90 505.4,90.6 502.6,76.2 501.8,75.4 500.9,74.6Z" fill="#cac129" stroke="#cac129" stroke-width="1.0"/>
<path d="M505.4,90.6 506.2,91.1 503.5,77 502.6,76.2Z" fill="#c7c12a" stroke="#c7c12a" stroke-width="1.0"/>
<path d="M506.2,91.1 507.1,91.7 508,92.3 505.3,78.6 504.4,77.8 503.5,77Z" fill="#c4c22b" stroke="#c4c22b" stroke-width="1.0"/>
<path d="M508,92.3 508.9,92.9 509.7,93.5 507,80.2 506.1,79.4 505.3,78.6Z" fill="#c1c32c" stroke="#c1c32c" stroke-width="1.0"/>
<path d="M509.7,93.5 510.6,94.1 507.9,81 507,80.2Z" fill="#bec32e" stroke="#bec32e" stroke-width="1.0"/>
<path d="M510.6,94.1 511.5,94.7 512.4,95.3 509.6,82.6 508.8,81.8 507.9,81Z" fill="#bac430" stroke="#bac430" stroke-width="1.0"/>
<path d="M512.4,95.3 514.1,96.5 511.4,84.1 509.6,82.6Z" fill="#b7c532" stroke="#b7c532" stroke-width="1.0"/>
<path d="M514.1,96.5 515.8,97.6 513.1,85.6 511.4,84.1Z" fill="#b4c534" stroke="#b4c534" stroke-width="1.0"/>
<path d="M515.8,97.6 517.6,98.7 514.9,87 513.1,85.6Z" fill="#b1c636" stroke="#b1c636" stroke-width="1.0"/>
<path d="M517.6,98.7 519.3,99.8 516.6,88.4 514.9,87Z" fill="#adc638" stroke="#adc638" stroke-width="1.0"/>
<path d="M519.3,99.8 521.1,100.9 518.4,89.7 516.6,88.4Z" fill="#aac73a" stroke="#aac73a" stroke-width="1.0"/>
<path d="M521.1,100.9 522.8,101.9 520.1,91 518.4,89.7Z" fill="#a3c83e" stroke="#a3c83e" stroke-width="1.0"/>
<path d="M522.8,101.9 524.6,102.9 521.9,92.2 520.1,91Z" fill="#a0c841" stroke="#a0c841" stroke-width="1.0"/>
<path d="M524.6,102.9 526.3,103.8 528.1,104.7 525.4,94.4 523.6,93.3 521.9,92.2Z" fill="#9cc943" stroke="#9cc943" stroke-width="1.0"/>
<path d="M528.1,104.7 529.8,105.5 527.1,95.4 525.4,94.4Z" fill="#99c946" stroke="#99c946" stroke-width="1.0"/>
<path d="M529.8,105.5 531.6,106.3 528.9,96.4 527.1,95.4Z" fill="#95ca49" stroke="#95ca49" stroke-width="1.0"/>
<path d="M531.6,106.3 533.3,107.1 530.6,97.3 528.9,96.4Z" fill="#92ca4c" stroke="#92ca4c" stroke-width="1.0"/>
<path d="M533.3,107.1 535.1,107.8 536.8,108.5 534.1,98.9 532.4,98.1 530.6,97.3Z" fill="#8ecb4e" stroke="#8ecb4e" stroke-width="1.0"/>
<path d="M536.8,108.5 538.6,109.1 535.9,99.6 534.1,98.9Z" fill="#8bcb51" stroke="#8bcb51" stroke-width="1.0"/>
<path d="M538.6,109.1 540.3,109.7 542.1,110.2 539.4,100.9 537.6,100.3 535.9,99.6Z" fill="#87cb54" stroke="#87cb54" stroke-width="1.0"/>
<path d="M542.1,110.2 543.8,110.7 545.6,111.2 542.8,102.1 541.1,101.5 539.4,100.9Z" fill="#84cc56" stroke="#84cc56" stroke-width="1.0"/>
<path d="M545.6,111.2 547.3,111.7 551.7,112.7 549,103.8 544.6,102.6 542.8,102.1Z" fill="#80cc59" stroke="#80cc59" stroke-width="1.0"/>
<path d="M551.7,112.7 556.1,113.5 560.4,114.2 557.7,105.5 553.3,104.7 549,103.8Z" fill="#7ccc5c" stroke="#7ccc5c" stroke-width="1.0"/>
<path d="M560.4,114.2 564.8,114.8 569.2,115.3 566.4,106.8 562.1,106.2 557.7,105.5Z" fill="#79cc5f" stroke="#79cc5f" stroke-width="1.0"/>
<path d="M569.2,115.3 573.5,115.8 577.9,116.2 582.3,116.6 586.6,116.9 591,117.2 595.4,117.5 599.8,117.8 604.1,118.1 608.5,118.3 612.9,118.6 617.2,118.9 621.6,119.1 626,119.4 630.3,119.7 634.7,119.9 639.1,120.2 643.5,120.5 647.8,120.7 652.2,121 656.6,121.2 660.9,121.5 665.3,121.8 669.7,122 667,113.7 662.6,113.5 658.2,113.2 653.8,112.9 649.5,112.7 645.1,112.4 640.7,112.2 636.4,111.9 632,111.6 627.6,111.4 623.3,111.1 618.9,110.8 614.5,110.6 610.1,110.3 605.8,110 601.4,109.8 597,109.5 592.7,109.2 588.3,108.8 583.9,108.5 579.6,108.1 575.2,107.7 570.8,107.3 566.4,106.8Z" fill="#75cc61" stroke="#75cc61" stroke-width="1.0"/>
<path class="e" d="M494.9,85.3 495.7,85.5 496.6,85.8 497.5,86.1 498.4,86.5 499.2,86.9 500.1,87.4 501,87.9 501.9,88.4 502.7,88.9 503.6,89.4 504.5,90 505.4,90.6 506.2,91.1 507.1,91.7 508,92.3 508.9,92.9 509.7,93.5 510.6,94.1 511.5,94.7 512.4,95.3 514.1,96.5 515.8,97.6 517.6,98.7 519.3,99.8 521.1,100.9 522.8,101.9 524.6,102.9 526.3,103.8 528.1,104.7 529.8,105.5 531.6,106.3 533.3,107.1 535.1,107.8 536.8,108.5 538.6,109.1 540.3,109.7 542.1,110.2 543.8,110.7 545.6,111.2 547.3,111.7 551.7,112.7 556.1,113.5 560.4,114.2 564.8,114.8 569.2,115.3 573.5,115.8 577.9,116.2 582.3,116.6 586.6,116.9 591,117.2 595.4,117.5 599.8,117.8 604.1,118.1 608.5,118.3 612.9,118.6 617.2,118.9 621.6,119.1 626,119.4 630.3,119.7 634.7,119.9 639.1,120.2 643.5,120.5 647.8,120.7 652.2,121 656.6,121.2 660.9,121.5 665.3,121.8 669.7,122"/>
<path d="M492.2,68.3 493,68.6 493.9,69 491.2,69.7 490.3,69.6 489.4,69.5Z" fill="#febf3b" stroke="#febf3b" stroke-width="1.0"/>
<path d="M493.9,69 494.8,69.6 495.7,70.2 492.9,70.1 492.1,69.9 491.2,69.7Z" fill="#febe3c" stroke="#febe3c" stroke-width="1.0"/>
<path d="M495.7,70.2 496.5,70.9 493.8,70.4 492.9,70.1Z" fill="#fdbd3d" stroke="#fdbd3d" stroke-width="1.0"/>
<path d="M496.5,70.9 497.4,71.5 494.7,70.7 493.8,70.4Z" fill="#fbbc3d" stroke="#fbbc3d" stroke-width="1.0"/>
<path d="M497.4,71.5 498.3,72.3 499.1,73 496.4,71.5 495.6,71.1 494.7,70.7Z" fill="#fabb3d" stroke="#fabb3d" stroke-width="1.0"/>
<path d="M499.1,73 500,73.8 497.3,71.9 496.4,71.5Z" fill="#f8ba3d" stroke="#f8ba3d" stroke-width="1.0"/>
<path d="M500,73.8 500.9,74.6 498.2,72.4 497.3,71.9Z" fill="#f6ba3c" stroke="#f6ba3c" stroke-width="1.0"/>
<path d="M500.9,74.6 501.8,75.4 499.1,72.9 498.2,72.4Z" fill="#f4ba3a" stroke="#f4ba3a" stroke-width="1.0"/>
<path d="M501.8,75.4 502.6,76.2 503.5,77 500.8,74 499.9,73.4 499.1,72.9Z" fill="#f2ba38" stroke="#f2ba38" stroke-width="1.0"/>
<path d="M503.5,77 504.4,77.8 501.7,74.6 500.8,74Z" fill="#f0ba36" stroke="#f0ba36" stroke-width="1.0"/>
<path d="M504.4,77.8 505.3,78.6 502.5,75.2 501.7,74.6Z" fill="#eeba34" stroke="#eeba34" stroke-width="1.0"/>
<path d="M505.3,78.6 506.1,79.4 503.4,75.9 502.5,75.2Z" fill="#ecba32" stroke="#ecba32" stroke-width="1.0"/>
<path d="M506.1,79.4 507,80.2 504.3,76.6 503.4,75.9Z" fill="#e9bb30" stroke="#e9bb30" stroke-width="1.0"/>
<path d="M507,80.2 507.9,81 508.8,81.8 506,77.9 505.2,77.2 504.3,76.6Z" fill="#e7bb2e" stroke="#e7bb2e" stroke-width="1.0"/>
<path d="M508.8,81.8 509.6,82.6 506.9,78.7 506,77.9Z" fill="#e5bb2c" stroke="#e5bb2c" stroke-width="1.0"/>
<path d="M509.6,82.6 511.4,84.1 508.7,80.1 506.9,78.7Z" fill="#e2bc2b" stroke="#e2bc2b" stroke-width="1.0"/>
<path d="M511.4,84.1 513.1,85.6 510.4,81.6 508.7,80.1Z" fill="#ddbd29" stroke="#ddbd29" stroke-width="1.0"/>
<path d="M513.1,85.6 514.9,87 512.2,83.1 510.4,81.6Z" fill="#dbbd28" stroke="#dbbd28" stroke-width="1.0"/>
<path d="M514.9,87 516.6,88.4 513.9,84.6 512.2,83.1Z" fill="#d5be28" stroke="#d5be28" stroke-width="1.0"/>
<path d="M516.6,88.4 518.4,89.7 515.7,86.1 513.9,84.6Z" fill="#d2bf27" stroke="#d2bf27" stroke-width="1.0"/>
<path d="M518.4,89.7 520.1,91 517.4,87.6 515.7,86.1Z" fill="#cdc028" stroke="#cdc028" stroke-width="1.0"/>
<path d="M520.1,91 521.9,92.2 519.2,89 517.4,87.6Z" fill="#cac129" stroke="#cac129" stroke-width="1.0"/>
<path d="M521.9,92.2 523.6,93.3 520.9,90.3 519.2,89Z" fill="#c7c12a" stroke="#c7c12a" stroke-width="1.0"/>
<path d="M523.6,93.3 525.4,94.4 522.7,91.6 520.9,90.3Z" fill="#c4c22b" stroke="#c4c22b" stroke-width="1.0"/>
<path d="M525.4,94.4 527.1,95.4 524.4,92.8 522.7,91.6Z" fill="#c1c32c" stroke="#c1c32c" stroke-width="1.0"/>
<path d="M527.1,95.4 528.9,96.4 526.1,93.9 524.4,92.8Z" fill="#bec32e" stroke="#bec32e" stroke-width="1.0"/>
<path d="M528.9,96.4 530.6,97.3 527.9,95 526.1,93.9Z" fill="#bac430" stroke="#bac430" stroke-width="1.0"/>
<path d="M530.6,97.3 532.4,98.1 529.6,96 527.9,95Z" fill="#b7c532" stroke="#b7c532" stroke-width="1.0"/>
<path d="M532.4,98.1 534.1,98.9 531.4,96.9 529.6,96Z" fill="#b4c534" stroke="#b4c534" stroke-width="1.0"/>
<path d="M534.1,98.9 535.9,99.6 537.6,100.3 534.9,98.5 533.1,97.7 531.4,96.9Z" fill="#b1c636" stroke="#b1c636" stroke-width="1.0"/>
<path d="M537.6,100.3 539.4,100.9 536.6,99.2 534.9,98.5Z" fill="#adc638" stroke="#adc638" stroke-width="1.0"/>
<path d="M539.4,100.9 541.1,101.5 542.8,102.1 540.1,100.4 538.4,99.8 536.6,99.2Z" fill="#aac73a" stroke="#aac73a" stroke-width="1.0"/>
<path d="M542.8,102.1 544.6,102.6 549,103.8 546.2,101.9 541.9,100.9 540.1,100.4Z" fill="#a7c73c" stroke="#a7c73c" stroke-width="1.0"/>
<path d="M549,103.8 553.3,104.7 550.6,102.7 546.2,101.9Z" fill="#a3c83e" stroke="#a3c83e" stroke-width="1.0"/>
<path d="M553.3,104.7 557.7,105.5 555,103.3 550.6,102.7Z" fill="#a0c841" stroke="#a0c841" stroke-width="1.0"/>
<path d="M557.7,105.5 562.1,106.2 566.4,106.8 570.8,107.3 568.1,104.5 563.7,104.2 559.4,103.8 555,103.3Z" fill="#9cc943" stroke="#9cc943" stroke-width="1.0"/>
<path d="M570.8,107.3 575.2,107.7 579.6,108.1 583.9,108.5 588.3,108.8 592.7,109.2 597,109.5 601.4,109.8 605.8,110 610.1,110.3 614.5,110.6 618.9,110.8 623.3,111.1 620.5,107.7 616.2,107.5 611.8,107.2 607.4,106.9 603.1,106.7 598.7,106.4 594.3,106.2 589.9,105.9 585.6,105.6 581.2,105.4 576.8,105.1 572.5,104.8 568.1,104.5Z" fill="#99c946" stroke="#99c946" stroke-width="1.0"/>
<path d="M623.3,111.1 627.6,111.4 632,111.6 636.4,111.9 640.7,112.2 645.1,112.4 649.5,112.7 653.8,112.9 658.2,113.2 662.6,113.5 667,113.7 664.2,110.3 659.9,110.1 655.5,109.8 651.1,109.5 646.8,109.3 642.4,109 638,108.8 633.6,108.5 629.3,108.2 624.9,108 620.5,107.7Z" fill="#95ca49" stroke="#95ca49" stroke-width="1.0"/>
<path class="e" d="M492.2,68.3 493,68.6 493.9,69 494.8,69.6 495.7,70.2 496.5,70.9 497.4,71.5 498.3,72.3 499.1,73 500,73.8 500.9,74.6 501.8,75.4 502.6,76.2 503.5,77 504.4,77.8 505.3,78.6 506.1,79.4 507,80.2 507.9,81 508.8,81.8 509.6,82.6 511.4,84.1 513.1,85.6 514.9,87 516.6,88.4 518.4,89.7 520.1,91 521.9,92.2 523.6,93.3 525.4,94.4 527.1,95.4 528.9,96.4 530.6,97.3 532.4,98.1 534.1,98.9 535.9,99.6 537.6,100.3 539.4,100.9 541.1,101.5 542.8,102.1 544.6,102.6 549,103.8 553.3,104.7 557.7,105.5 562.1,106.2 566.4,106.8 570.8,107.3 575.2,107.7 579.6,108.1 583.9,108.5 588.3,108.8 592.7,109.2 597,109.5 601.4,109.8 605.8,110 610.1,110.3 614.5,110.6 618.9,110.8 623.3,111.1 627.6,111.4 632,111.6 636.4,111.9 640.7,112.2 645.1,112.4 649.5,112.7 653.8,112.9 658.2,113.2 662.6,113.5 667,113.7"/>
<path d="M489.4,69.5 490.3,69.6 491.2,69.7 492.1,69.9 492.9,70.1 490.2,61.2 489.3,61 488.5,60.8 487.6,60.6 486.7,60.6Z" fill="#febe3c" stroke="#febe3c" stroke-width="0.35"/>
<path d="M492.9,70.1 493.8,70.4 494.7,70.7 495.6,71.1 496.4,71.5 493.7,62.8 492.8,62.3 492,61.9 491.1,61.6 490.2,61.2Z" fill="#fdbd3d" stroke="#fdbd3d" stroke-width="0.35"/>
<path d="M496.4,71.5 497.3,71.9 498.2,72.4 495.5,63.8 494.6,63.3 493.7,62.8Z" fill="#fbbc3d" stroke="#fbbc3d" stroke-width="0.35"/>
<path d="M498.2,72.4 499.1,72.9 499.9,73.4 497.2,65 496.3,64.4 495.5,63.8Z" fill="#fabb3d" stroke="#fabb3d" stroke-width="0.35"/>
<path d="M499.9,73.4 500.8,74 501.7,74.6 499,66.4 498.1,65.7 497.2,65Z" fill="#f8ba3d" stroke="#f8ba3d" stroke-width="0.35"/>
<path d="M501.7,74.6 502.5,75.2 499.8,67.1 499,66.4Z" fill="#f6ba3c" stroke="#f6ba3c" stroke-width="0.35"/>
<path d="M502.5,75.2 503.4,75.9 504.3,76.6 501.6,68.7 500.7,67.9 499.8,67.1Z" fill="#f4ba3a" stroke="#f4ba3a" stroke-width="0.35"/>
<path d="M504.3,76.6 505.2,77.2 502.5,69.4 501.6,68.7Z" fill="#f2ba38" stroke="#f2ba38" stroke-width="0.35"/>
<path d="M505.2,77.2 506,77.9 506.9,78.7 504.2,71.1 503.3,70.3 502.5,69.4Z" fill="#f0ba36" stroke="#f0ba36" stroke-width="0.35"/>
<path d="M506.9,78.7 508.7,80.1 506,72.8 504.2,71.1Z" fill="#eeba34" stroke="#eeba34" stroke-width="0.35"/>
<path d="M508.7,80.1 510.4,81.6 507.7,74.6 506,72.8Z" fill="#e9bb30" stroke="#e9bb30" stroke-width="0.35"/>
<path d="M510.4,81.6 512.2,83.1 509.4,76.3 507.7,74.6Z" fill="#e7bb2e" stroke="#e7bb2e" stroke-width="0.35"/>
<path d="M512.2,83.1 513.9,84.6 511.2,78 509.4,76.3Z" fill="#e2bc2b" stroke="#e2bc2b" stroke-width="0.35"/>
<path d="M513.9,84.6 515.7,86.1 512.9,79.8 511.2,78Z" fill="#e0bc2a" stroke="#e0bc2a" stroke-width="0.35"/>
<path d="M515.7,86.1 517.4,87.6 514.7,81.4 512.9,79.8Z" fill="#dbbd28" stroke="#dbbd28" stroke-width="0.35"/>
<path d="M517.4,87.6 519.2,89 516.4,83.1 514.7,81.4Z" fill="#d8be28" stroke="#d8be28" stroke-width="0.35"/>
<path d="M519.2,89 520.9,90.3 518.2,84.6 516.4,83.1Z" fill="#d2bf27" stroke="#d2bf27" stroke-width="0.35"/>
<path d="M520.9,90.3 522.7,91.6 519.9,86.1 518.2,84.6Z" fill="#d0c028" stroke="#d0c028" stroke-width="0.35"/>
<path d="M522.7,91.6 524.4,92.8 521.7,87.5 519.9,86.1Z" fill="#cac129" stroke="#cac129" stroke-width="0.35"/>
<path d="M524.4,92.8 526.1,93.9 523.4,88.8 521.7,87.5Z" fill="#c7c12a" stroke="#c7c12a" stroke-width="0.35"/>
<path d="M526.1,93.9 527.9,95 525.2,90.1 523.4,88.8Z" fill="#c4c22b" stroke="#c4c22b" stroke-width="0.35"/>
<path d="M527.9,95 529.6,96 526.9,91.2 525.2,90.1Z" fill="#c1c32c" stroke="#c1c32c" stroke-width="0.35"/>
<path d="M529.6,96 531.4,96.9 528.7,92.2 526.9,91.2Z" fill="#bec32e" stroke="#bec32e" stroke-width="0.35"/>
<path d="M531.4,96.9 533.1,97.7 530.4,93.2 528.7,92.2Z" fill="#bac430" stroke="#bac430" stroke-width="0.35"/>
<path d="M533.1,97.7 534.9,98.5 532.2,94.1 530.4,93.2Z" fill="#b7c532" stroke="#b7c532" stroke-width="0.35"/>
<path d="M534.9,98.5 536.6,99.2 538.4,99.8 535.7,95.6 533.9,94.9 532.2,94.1Z" fill="#b4c534" stroke="#b4c534" stroke-width="0.35"/>
<path d="M538.4,99.8 540.1,100.4 541.9,100.9 539.2,96.8 537.4,96.2 535.7,95.6Z" fill="#b1c636" stroke="#b1c636" stroke-width="0.35"/>
<path d="M541.9,100.9 546.2,101.9 543.5,98 539.2,96.8Z" fill="#adc638" stroke="#adc638" stroke-width="0.35"/>
<path d="M546.2,101.9 550.6,102.7 555,103.3 552.3,99.5 547.9,98.9 543.5,98Z" fill="#aac73a" stroke="#aac73a" stroke-width="0.35"/>
<path d="M555,103.3 559.4,103.8 563.7,104.2 568.1,104.5 572.5,104.8 576.8,105.1 581.2,105.4 585.6,105.6 589.9,105.9 594.3,106.2 598.7,106.4 603.1,106.7 607.4,106.9 611.8,107.2 616.2,107.5 620.5,107.7 624.9,108 629.3,108.2 633.6,108.5 638,108.8 642.4,109 646.8,109.3 651.1,109.5 655.5,109.8 659.9,110.1 664.2,110.3 661.5,106.6 657.2,106.4 652.8,106.1 648.4,105.9 644,105.6 639.7,105.3 635.3,105.1 630.9,104.8 626.6,104.6 622.2,104.3 617.8,104 613.5,103.8 609.1,103.5 604.7,103.3 600.3,103 596,102.7 591.6,102.5 587.2,102.2 582.9,101.9 578.5,101.7 574.1,101.4 569.8,101.1 565.4,100.8 561,100.5 556.6,100 552.3,99.5Z" fill="#a7c73c" stroke="#a7c73c" stroke-width="0.35"/>
<path class="es" d="M489.4,69.5 490.3,69.6 491.2,69.7 492.1,69.9 492.9,70.1 493.8,70.4 494.7,70.7 495.6,71.1 496.4,71.5 497.3,71.9 498.2,72.4 499.1,72.9 499.9,73.4 500.8,74 501.7,74.6 502.5,75.2 503.4,75.9 504.3,76.6 505.2,77.2 506,77.9 506.9,78.7 508.7,80.1 510.4,81.6 512.2,83.1 513.9,84.6 515.7,86.1 517.4,87.6 519.2,89 520.9,90.3 522.7,91.6 524.4,92.8 526.1,93.9 527.9,95 529.6,96 531.4,96.9 533.1,97.7 534.9,98.5 536.6,99.2 538.4,99.8 540.1,100.4 541.9,100.9 546.2,101.9 550.6,102.7 555,103.3 559.4,103.8 563.7,104.2 568.1,104.5 572.5,104.8 576.8,105.1 581.2,105.4 585.6,105.6 589.9,105.9 594.3,106.2 598.7,106.4 603.1,106.7 607.4,106.9 611.8,107.2 616.2,107.5 620.5,107.7 624.9,108 629.3,108.2 633.6,108.5 638,108.8 642.4,109 646.8,109.3 651.1,109.5 655.5,109.8 659.9,110.1 664.2,110.3"/>
<path d="M486.7,60.6 487.6,60.6 488.5,60.8 485.8,54 484.9,53.8 484,53.7Z" fill="#fdce31" stroke="#fdce31" stroke-width="0.35"/>
<path d="M488.5,60.8 489.3,61 490.2,61.2 491.1,61.6 492,61.9 489.2,55.2 488.4,54.8 487.5,54.5 486.6,54.2 485.8,54Z" fill="#fdcc32" stroke="#fdcc32" stroke-width="0.35"/>
<path d="M492,61.9 492.8,62.3 493.7,62.8 494.6,63.3 491.9,56.7 491,56.2 490.1,55.7 489.2,55.2Z" fill="#fdcb33" stroke="#fdcb33" stroke-width="0.35"/>
<path d="M494.6,63.3 495.5,63.8 492.7,57.3 491.9,56.7Z" fill="#fec934" stroke="#fec934" stroke-width="0.35"/>
<path d="M495.5,63.8 496.3,64.4 497.2,65 494.5,58.7 493.6,58 492.7,57.3Z" fill="#fec835" stroke="#fec835" stroke-width="0.35"/>
<path d="M497.2,65 498.1,65.7 499,66.4 496.2,60.2 495.4,59.4 494.5,58.7Z" fill="#fec636" stroke="#fec636" stroke-width="0.35"/>
<path d="M499,66.4 499.8,67.1 497.1,61 496.2,60.2Z" fill="#fec537" stroke="#fec537" stroke-width="0.35"/>
<path d="M499.8,67.1 500.7,67.9 498,61.8 497.1,61Z" fill="#fec338" stroke="#fec338" stroke-width="0.35"/>
<path d="M500.7,67.9 501.6,68.7 498.9,62.7 498,61.8Z" fill="#fec239" stroke="#fec239" stroke-width="0.35"/>
<path d="M501.6,68.7 502.5,69.4 503.3,70.3 500.6,64.5 499.7,63.6 498.9,62.7Z" fill="#fec13a" stroke="#fec13a" stroke-width="0.35"/>
<path d="M503.3,70.3 504.2,71.1 501.5,65.4 500.6,64.5Z" fill="#febf3b" stroke="#febf3b" stroke-width="0.35"/>
<path d="M504.2,71.1 506,72.8 503.2,67.3 501.5,65.4Z" fill="#febe3c" stroke="#febe3c" stroke-width="0.35"/>
<path d="M506,72.8 507.7,74.6 505,69.3 503.2,67.3Z" fill="#fbbc3d" stroke="#fbbc3d" stroke-width="0.35"/>
<path d="M507.7,74.6 509.4,76.3 506.7,71.2 505,69.3Z" fill="#f8ba3d" stroke="#f8ba3d" stroke-width="0.35"/>
<path d="M509.4,76.3 511.2,78 508.5,73.2 506.7,71.2Z" fill="#f4ba3a" stroke="#f4ba3a" stroke-width="0.35"/>
<path d="M511.2,78 512.9,79.8 510.2,75.1 508.5,73.2Z" fill="#f2ba38" stroke="#f2ba38" stroke-width="0.35"/>
<path d="M512.9,79.8 514.7,81.4 512,76.9 510.2,75.1Z" fill="#eeba34" stroke="#eeba34" stroke-width="0.35"/>
<path d="M514.7,81.4 516.4,83.1 513.7,78.8 512,76.9Z" fill="#e9bb30" stroke="#e9bb30" stroke-width="0.35"/>
<path d="M516.4,83.1 518.2,84.6 515.5,80.5 513.7,78.8Z" fill="#e5bb2c" stroke="#e5bb2c" stroke-width="0.35"/>
<path d="M518.2,84.6 519.9,86.1 517.2,82.1 515.5,80.5Z" fill="#e2bc2b" stroke="#e2bc2b" stroke-width="0.35"/>
<path d="M519.9,86.1 521.7,87.5 519,83.7 517.2,82.1Z" fill="#ddbd29" stroke="#ddbd29" stroke-width="0.35"/>
<path d="M521.7,87.5 523.4,88.8 520.7,85.2 519,83.7Z" fill="#dbbd28" stroke="#dbbd28" stroke-width="0.35"/>
<path d="M523.4,88.8 525.2,90.1 522.5,86.5 520.7,85.2Z" fill="#d5be28" stroke="#d5be28" stroke-width="0.35"/>
<path d="M525.2,90.1 526.9,91.2 524.2,87.8 522.5,86.5Z" fill="#d2bf27" stroke="#d2bf27" stroke-width="0.35"/>
<path d="M526.9,91.2 528.7,92.2 526,89 524.2,87.8Z" fill="#d0c028" stroke="#d0c028" stroke-width="0.35"/>
<path d="M528.7,92.2 530.4,93.2 527.7,90 526,89Z" fill="#cdc028" stroke="#cdc028" stroke-width="0.35"/>
<path d="M530.4,93.2 532.2,94.1 529.5,91 527.7,90Z" fill="#cac129" stroke="#cac129" stroke-width="0.35"/>
<path d="M532.2,94.1 533.9,94.9 531.2,91.9 529.5,91Z" fill="#c7c12a" stroke="#c7c12a" stroke-width="0.35"/>
<path d="M533.9,94.9 535.7,95.6 537.4,96.2 534.7,93.3 532.9,92.6 531.2,91.9Z" fill="#c4c22b" stroke="#c4c22b" stroke-width="0.35"/>
<path d="M537.4,96.2 539.2,96.8 536.4,94 534.7,93.3Z" fill="#c1c32c" stroke="#c1c32c" stroke-width="0.35"/>
<path d="M539.2,96.8 543.5,98 540.8,95.3 536.4,94Z" fill="#bec32e" stroke="#bec32e" stroke-width="0.35"/>
<path d="M543.5,98 547.9,98.9 552.3,99.5 549.6,96.9 545.2,96.2 540.8,95.3Z" fill="#bac430" stroke="#bac430" stroke-width="0.35"/>
<path d="M552.3,99.5 556.6,100 561,100.5 565.4,100.8 569.8,101.1 574.1,101.4 578.5,101.7 582.9,101.9 587.2,102.2 591.6,102.5 596,102.7 600.3,103 604.7,103.3 609.1,103.5 613.5,103.8 617.8,104 622.2,104.3 626.6,104.6 630.9,104.8 635.3,105.1 639.7,105.3 644,105.6 648.4,105.9 652.8,106.1 657.2,106.4 661.5,106.6 658.8,104.1 654.4,103.9 650.1,103.6 645.7,103.3 641.3,103.1 637,102.8 632.6,102.6 628.2,102.3 623.8,102 619.5,101.8 615.1,101.5 610.7,101.3 606.4,101 602,100.7 597.6,100.5 593.3,100.2 588.9,100 584.5,99.7 580.1,99.4 575.8,99.2 571.4,98.9 567,98.6 562.7,98.3 558.3,97.9 553.9,97.5 549.6,96.9Z" fill="#b7c532" stroke="#b7c532" stroke-width="0.35"/>
<path class="es" d="M486.7,60.6 487.6,60.6 488.5,60.8 489.3,61 490.2,61.2 491.1,61.6 492,61.9 492.8,62.3 493.7,62.8 494.6,63.3 495.5,63.8 496.3,64.4 497.2,65 498.1,65.7 499,66.4 499.8,67.1 500.7,67.9 501.6,68.7 502.5,69.4 503.3,70.3 504.2,71.1 506,72.8 507.7,74.6 509.4,76.3 511.2,78 512.9,79.8 514.7,81.4 516.4,83.1 518.2,84.6 519.9,86.1 521.7,87.5 523.4,88.8 525.2,90.1 526.9,91.2 528.7,92.2 530.4,93.2 532.2,94.1 533.9,94.9 535.7,95.6 537.4,96.2 539.2,96.8 543.5,98 547.9,98.9 552.3,99.5 556.6,100 561,100.5 565.4,100.8 569.8,101.1 574.1,101.4 578.5,101.7 582.9,101.9 587.2,102.2 591.6,102.5 596,102.7 600.3,103 604.7,103.3 609.1,103.5 613.5,103.8 617.8,104 622.2,104.3 626.6,104.6 630.9,104.8 635.3,105.1 639.7,105.3 644,105.6 648.4,105.9 652.8,106.1 657.2,106.4 661.5,106.6"/>
<path d="M484,53.7 484.9,53.8 485.8,54 486.6,54.2 483.9,50.8 483,50.6 482.2,50.4 481.3,50.4Z" fill="#f8da2b" stroke="#f8da2b" stroke-width="0.35"/>
<path d="M486.6,54.2 487.5,54.5 488.4,54.8 489.2,55.2 486.5,51.9 485.7,51.5 484.8,51.1 483.9,50.8Z" fill="#f8d92c" stroke="#f8d92c" stroke-width="0.35"/>
<path d="M489.2,55.2 490.1,55.7 491,56.2 488.3,53 487.4,52.4 486.5,51.9Z" fill="#f9d72c" stroke="#f9d72c" stroke-width="0.35"/>
<path d="M491,56.2 491.9,56.7 492.7,57.3 490,54.2 489.2,53.5 488.3,53Z" fill="#fad62d" stroke="#fad62d" stroke-width="0.35"/>
<path d="M492.7,57.3 493.6,58 490.9,54.9 490,54.2Z" fill="#c9aa25" stroke="#c9aa25" stroke-width="0.35"/>
<path d="M493.6,58 494.5,58.7 491.8,55.6 490.9,54.9Z" fill="#a88f1f" stroke="#a88f1f" stroke-width="0.35"/>
<path d="M494.5,58.7 495.4,59.4 492.7,56.4 491.8,55.6Z" fill="#786516" stroke="#786516" stroke-width="0.35"/>
<path d="M495.4,59.4 496.2,60.2 493.5,57.3 492.7,56.4Z" fill="#584910" stroke="#584910" stroke-width="0.35"/>
<path d="M496.2,60.2 497.1,61 494.4,58.1 493.5,57.3Z" fill="#584810" stroke="#584810" stroke-width="0.35"/>
<path d="M497.1,61 498,61.8 498.9,62.7 496.1,59.9 495.3,59 494.4,58.1Z" fill="#584811" stroke="#584811" stroke-width="0.35"/>
<path d="M498.9,62.7 499.7,63.6 500.6,64.5 497.9,61.9 497,60.9 496.1,59.9Z" fill="#584711" stroke="#584711" stroke-width="0.35"/>
<path d="M500.6,64.5 501.5,65.4 503.2,67.3 500.5,64.9 498.8,62.9 497.9,61.9Z" fill="#584612" stroke="#584612" stroke-width="0.35"/>
<path d="M503.2,67.3 505,69.3 502.3,67 500.5,64.9Z" fill="#584413" stroke="#584413" stroke-width="0.35"/>
<path d="M505,69.3 506.7,71.2 504,69.1 502.3,67Z" fill="#695017" stroke="#695017" stroke-width="0.35"/>
<path d="M506.7,71.2 508.5,73.2 505.8,71.2 504,69.1Z" fill="#795b1c" stroke="#795b1c" stroke-width="0.35"/>
<path d="M508.5,73.2 510.2,75.1 507.5,73.2 505.8,71.2Z" fill="#9a7325" stroke="#9a7325" stroke-width="0.35"/>
<path d="M510.2,75.1 512,76.9 509.3,75.2 507.5,73.2Z" fill="#987225" stroke="#987225" stroke-width="0.35"/>
<path d="M512,76.9 513.7,78.8 511,77.2 509.3,75.2Z" fill="#a67d28" stroke="#a67d28" stroke-width="0.35"/>
<path d="M513.7,78.8 515.5,80.5 512.8,79 511,77.2Z" fill="#b38929" stroke="#b38929" stroke-width="0.35"/>
<path d="M515.5,80.5 517.2,82.1 514.5,80.8 512.8,79Z" fill="#b08926" stroke="#b08926" stroke-width="0.35"/>
<path d="M517.2,82.1 519,83.7 516.2,82.5 514.5,80.8Z" fill="#ac8a23" stroke="#ac8a23" stroke-width="0.35"/>
<path d="M519,83.7 520.7,85.2 518,84 516.2,82.5Z" fill="#a98a20" stroke="#a98a20" stroke-width="0.35"/>
<path d="M520.7,85.2 522.5,86.5 519.7,85.5 518,84Z" fill="#987e1d" stroke="#987e1d" stroke-width="0.35"/>
<path d="M522.5,86.5 524.2,87.8 521.5,86.9 519.7,85.5Z" fill="#957f1b" stroke="#957f1b" stroke-width="0.35"/>
<path d="M524.2,87.8 526,89 523.2,88.1 521.5,86.9Z" fill="#857318" stroke="#857318" stroke-width="0.35"/>
<path d="M526,89 527.7,90 525,89.2 523.2,88.1Z" fill="#837318" stroke="#837318" stroke-width="0.35"/>
<path d="M527.7,90 529.5,91 526.7,90.3 525,89.2Z" fill="#746715" stroke="#746715" stroke-width="0.35"/>
<path d="M529.5,91 531.2,91.9 528.5,91.2 526.7,90.3Z" fill="#645b12" stroke="#645b12" stroke-width="0.35"/>
<path d="M531.2,91.9 532.9,92.6 530.2,92 528.5,91.2Z" fill="#564f10" stroke="#564f10" stroke-width="0.35"/>
<path d="M532.9,92.6 534.7,93.3 536.4,94 533.7,93.4 532,92.8 530.2,92Z" fill="#47430e" stroke="#47430e" stroke-width="0.35"/>
<path d="M536.4,94 540.8,95.3 538.1,94.8 533.7,93.4Z" fill="#46430e" stroke="#46430e" stroke-width="0.35"/>
<path d="M540.8,95.3 545.2,96.2 542.5,95.8 538.1,94.8Z" fill="#45430e" stroke="#45430e" stroke-width="0.35"/>
<path d="M545.2,96.2 549.6,96.9 553.9,97.5 551.2,97.1 546.8,96.6 542.5,95.8Z" fill="#44430f" stroke="#44430f" stroke-width="0.35"/>
<path d="M553.9,97.5 558.3,97.9 562.7,98.3 567,98.6 571.4,98.9 575.8,99.2 580.1,99.4 584.5,99.7 588.9,100 593.3,100.2 597.6,100.5 602,100.7 606.4,101 610.7,101.3 615.1,101.5 619.5,101.8 623.8,102 628.2,102.3 632.6,102.6 637,102.8 641.3,103.1 645.7,103.3 650.1,103.6 654.4,103.9 658.8,104.1 656.1,103.8 651.7,103.6 647.3,103.3 643,103 638.6,102.8 634.2,102.5 629.9,102.3 625.5,102 621.1,101.7 616.8,101.5 612.4,101.2 608,101 603.6,100.7 599.3,100.4 594.9,100.2 590.5,99.9 586.2,99.7 581.8,99.4 577.4,99.1 573.1,98.9 568.7,98.6 564.3,98.3 559.9,98 555.6,97.6 551.2,97.1Z" fill="#43440f" stroke="#43440f" stroke-width="0.35"/>
<path class="es" d="M484,53.7 484.9,53.8 485.8,54 486.6,54.2 487.5,54.5 488.4,54.8 489.2,55.2 490.1,55.7 491,56.2 491.9,56.7 492.7,57.3 493.6,58 494.5,58.7 495.4,59.4 496.2,60.2 497.1,61 498,61.8 498.9,62.7 499.7,63.6 500.6,64.5 501.5,65.4 503.2,67.3 505,69.3 506.7,71.2 508.5,73.2 510.2,75.1 512,76.9 513.7,78.8 515.5,80.5 517.2,82.1 519,83.7 520.7,85.2 522.5,86.5 524.2,87.8 526,89 527.7,90 529.5,91 531.2,91.9 532.9,92.6 534.7,93.3 536.4,94 540.8,95.3 545.2,96.2 549.6,96.9 553.9,97.5 558.3,97.9 562.7,98.3 567,98.6 571.4,98.9 575.8,99.2 580.1,99.4 584.5,99.7 588.9,100 593.3,100.2 597.6,100.5 602,100.7 606.4,101 610.7,101.3 615.1,101.5 619.5,101.8 623.8,102 628.2,102.3 632.6,102.6 637,102.8 641.3,103.1 645.7,103.3 650.1,103.6 654.4,103.9 658.8,104.1"/>
<path d="M481.3,50.4 482.2,50.4 483,50.6 483.9,50.8 484.8,51.1 482.1,49 481.2,48.7 480.3,48.5 479.4,48.3 478.6,48.2Z" fill="#f6e128" stroke="#f6e128" stroke-width="0.35"/>
<path d="M484.8,51.1 485.7,51.5 482.9,49.4 482.1,49Z" fill="#c6b321" stroke="#c6b321" stroke-width="0.35"/>
<path d="M485.7,51.5 486.5,51.9 483.8,49.9 482.9,49.4Z" fill="#968819" stroke="#968819" stroke-width="0.35"/>
<path d="M486.5,51.9 487.4,52.4 484.7,50.4 483.8,49.9Z" fill="#564e0e" stroke="#564e0e" stroke-width="0.35"/>
<path d="M487.4,52.4 488.3,53 489.2,53.5 490,54.2 487.3,52.3 486.4,51.6 485.6,50.9 484.7,50.4Z" fill="#564d0e" stroke="#564d0e" stroke-width="0.35"/>
<path d="M490,54.2 490.9,54.9 491.8,55.6 489.1,53.8 488.2,53 487.3,52.3Z" fill="#564c0f" stroke="#564c0f" stroke-width="0.35"/>
<path d="M491.8,55.6 492.7,56.4 489.9,54.6 489.1,53.8Z" fill="#564b0f" stroke="#564b0f" stroke-width="0.35"/>
<path d="M492.7,56.4 493.5,57.3 490.8,55.5 489.9,54.6Z" fill="#776715" stroke="#776715" stroke-width="0.35"/>
<path d="M493.5,57.3 494.4,58.1 491.7,56.4 490.8,55.5Z" fill="#887418" stroke="#887418" stroke-width="0.35"/>
<path d="M494.4,58.1 495.3,59 492.6,57.3 491.7,56.4Z" fill="#a88f1f" stroke="#a88f1f" stroke-width="0.35"/>
<path d="M495.3,59 496.1,59.9 493.4,58.3 492.6,57.3Z" fill="#b99c22" stroke="#b99c22" stroke-width="0.35"/>
<path d="M496.1,59.9 497,60.9 494.3,59.3 493.4,58.3Z" fill="#caa825" stroke="#caa825" stroke-width="0.35"/>
<path d="M497,60.9 497.9,61.9 495.2,60.3 494.3,59.3Z" fill="#ebc12c" stroke="#ebc12c" stroke-width="0.35"/>
<path d="M497.9,61.9 498.8,62.9 496.1,61.4 495.2,60.3Z" fill="#fdce31" stroke="#fdce31" stroke-width="0.35"/>
<path d="M498.8,62.9 500.5,64.9 497.8,63.5 496.1,61.4Z" fill="#fdcc32" stroke="#fdcc32" stroke-width="0.35"/>
<path d="M500.5,64.9 502.3,67 499.5,65.7 497.8,63.5Z" fill="#fec934" stroke="#fec934" stroke-width="0.35"/>
<path d="M502.3,67 504,69.1 501.3,67.9 499.5,65.7Z" fill="#fec636" stroke="#fec636" stroke-width="0.35"/>
<path d="M504,69.1 505.8,71.2 503,70.1 501.3,67.9Z" fill="#fec338" stroke="#fec338" stroke-width="0.35"/>
<path d="M505.8,71.2 507.5,73.2 504.8,72.3 503,70.1Z" fill="#febf3b" stroke="#febf3b" stroke-width="0.35"/>
<path d="M507.5,73.2 509.3,75.2 506.5,74.4 504.8,72.3Z" fill="#fdbd3d" stroke="#fdbd3d" stroke-width="0.35"/>
<path d="M509.3,75.2 511,77.2 508.3,76.4 506.5,74.4Z" fill="#fabb3d" stroke="#fabb3d" stroke-width="0.35"/>
<path d="M511,77.2 512.8,79 510,78.4 508.3,76.4Z" fill="#f6ba3c" stroke="#f6ba3c" stroke-width="0.35"/>
<path d="M512.8,79 514.5,80.8 511.8,80.2 510,78.4Z" fill="#f2ba38" stroke="#f2ba38" stroke-width="0.35"/>
<path d="M514.5,80.8 516.2,82.5 513.5,82 511.8,80.2Z" fill="#eeba34" stroke="#eeba34" stroke-width="0.35"/>
<path d="M516.2,82.5 518,84 515.3,83.6 513.5,82Z" fill="#e9bb30" stroke="#e9bb30" stroke-width="0.35"/>
<path d="M518,84 519.7,85.5 517,85.2 515.3,83.6Z" fill="#e7bb2e" stroke="#e7bb2e" stroke-width="0.35"/>
<path d="M519.7,85.5 521.5,86.9 518.8,86.6 517,85.2Z" fill="#e2bc2b" stroke="#e2bc2b" stroke-width="0.35"/>
<path d="M521.5,86.9 523.2,88.1 520.5,87.9 518.8,86.6Z" fill="#e0bc2a" stroke="#e0bc2a" stroke-width="0.35"/>
<path d="M523.2,88.1 525,89.2 522.3,89.1 520.5,87.9Z" fill="#dbbd28" stroke="#dbbd28" stroke-width="0.35"/>
<path d="M525,89.2 526.7,90.3 524,90.2 522.3,89.1Z" fill="#d8be28" stroke="#d8be28" stroke-width="0.35"/>
<path d="M526.7,90.3 528.5,91.2 525.8,91.1 524,90.2Z" fill="#d5be28" stroke="#d5be28" stroke-width="0.35"/>
<path d="M528.5,91.2 530.2,92 532,92.8 529.3,92.8 527.5,92 525.8,91.1Z" fill="#d2bf27" stroke="#d2bf27" stroke-width="0.35"/>
<path d="M532,92.8 533.7,93.4 531,93.5 529.3,92.8Z" fill="#c2b325" stroke="#c2b325" stroke-width="0.35"/>
<path d="M533.7,93.4 538.1,94.8 535.4,94.9 531,93.5Z" fill="#a59a20" stroke="#a59a20" stroke-width="0.35"/>
<path d="M538.1,94.8 542.5,95.8 539.8,96 535.4,94.9Z" fill="#88821b" stroke="#88821b" stroke-width="0.35"/>
<path d="M542.5,95.8 546.8,96.6 544.1,96.8 539.8,96Z" fill="#6c6916" stroke="#6c6916" stroke-width="0.35"/>
<path d="M546.8,96.6 551.2,97.1 548.5,97.4 544.1,96.8Z" fill="#5f5c14" stroke="#5f5c14" stroke-width="0.35"/>
<path d="M551.2,97.1 555.6,97.6 552.9,97.8 548.5,97.4Z" fill="#515011" stroke="#515011" stroke-width="0.35"/>
<path d="M555.6,97.6 559.9,98 564.3,98.3 568.7,98.6 573.1,98.9 577.4,99.1 581.8,99.4 586.2,99.7 590.5,99.9 594.9,100.2 599.3,100.4 603.6,100.7 608,101 612.4,101.2 616.8,101.5 621.1,101.7 625.5,102 629.9,102.3 634.2,102.5 638.6,102.8 643,103 647.3,103.3 651.7,103.6 656.1,103.8 653.4,104 649,103.8 644.6,103.5 640.3,103.3 635.9,103 631.5,102.7 627.2,102.5 622.8,102.2 618.4,102 614,101.7 609.7,101.4 605.3,101.2 600.9,100.9 596.6,100.7 592.2,100.4 587.8,100.1 583.5,99.9 579.1,99.6 574.7,99.4 570.3,99.1 566,98.8 561.6,98.5 557.2,98.2 552.9,97.8Z" fill="#44430f" stroke="#44430f" stroke-width="0.35"/>
<path class="es" d="M481.3,50.4 482.2,50.4 483,50.6 483.9,50.8 484.8,51.1 485.7,51.5 486.5,51.9 487.4,52.4 488.3,53 489.2,53.5 490,54.2 490.9,54.9 491.8,55.6 492.7,56.4 493.5,57.3 494.4,58.1 495.3,59 496.1,59.9 497,60.9 497.9,61.9 498.8,62.9 500.5,64.9 502.3,67 504,69.1 505.8,71.2 507.5,73.2 509.3,75.2 511,77.2 512.8,79 514.5,80.8 516.2,82.5 518,84 519.7,85.5 521.5,86.9 523.2,88.1 525,89.2 526.7,90.3 528.5,91.2 530.2,92 532,92.8 533.7,93.4 538.1,94.8 542.5,95.8 546.8,96.6 551.2,97.1 555.6,97.6 559.9,98 564.3,98.3 568.7,98.6 573.1,98.9 577.4,99.1 581.8,99.4 586.2,99.7 590.5,99.9 594.9,100.2 599.3,100.4 603.6,100.7 608,101 612.4,101.2 616.8,101.5 621.1,101.7 625.5,102 629.9,102.3 634.2,102.5 638.6,102.8 643,103 647.3,103.3 651.7,103.6 656.1,103.8"/>
<path d="M478.6,48.2 479.4,48.3 476.7,46.9 475.9,46.8Z" fill="#f5e526" stroke="#f5e526" stroke-width="0.35"/>
<path d="M479.4,48.3 480.3,48.5 477.6,47.1 476.7,46.9Z" fill="#c5b81e" stroke="#c5b81e" stroke-width="0.35"/>
<path d="M480.3,48.5 481.2,48.7 478.5,47.3 477.6,47.1Z" fill="#857c14" stroke="#857c14" stroke-width="0.35"/>
<path d="M481.2,48.7 482.1,49 479.4,47.6 478.5,47.3Z" fill="#55500d" stroke="#55500d" stroke-width="0.35"/>
<path d="M482.1,49 482.9,49.4 483.8,49.9 484.7,50.4 485.6,50.9 482.8,49.6 482,49 481.1,48.5 480.2,48 479.4,47.6Z" fill="#554f0d" stroke="#554f0d" stroke-width="0.35"/>
<path d="M485.6,50.9 486.4,51.6 483.7,50.2 482.8,49.6Z" fill="#665d10" stroke="#665d10" stroke-width="0.35"/>
<path d="M486.4,51.6 487.3,52.3 484.6,51 483.7,50.2Z" fill="#867a15" stroke="#867a15" stroke-width="0.35"/>
<path d="M487.3,52.3 488.2,53 485.5,51.7 484.6,51Z" fill="#a6961b" stroke="#a6961b" stroke-width="0.35"/>
<path d="M488.2,53 489.1,53.8 486.3,52.5 485.5,51.7Z" fill="#c6b221" stroke="#c6b221" stroke-width="0.35"/>
<path d="M489.1,53.8 489.9,54.6 487.2,53.4 486.3,52.5Z" fill="#e6cd27" stroke="#e6cd27" stroke-width="0.35"/>
<path d="M489.9,54.6 490.8,55.5 488.1,54.3 487.2,53.4Z" fill="#f7dc2a" stroke="#f7dc2a" stroke-width="0.35"/>
<path d="M490.8,55.5 491.7,56.4 489,55.2 488.1,54.3Z" fill="#f8da2b" stroke="#f8da2b" stroke-width="0.35"/>
<path d="M491.7,56.4 492.6,57.3 489.8,56.2 489,55.2Z" fill="#f8d92c" stroke="#f8d92c" stroke-width="0.35"/>
<path d="M492.6,57.3 493.4,58.3 490.7,57.2 489.8,56.2Z" fill="#f9d72c" stroke="#f9d72c" stroke-width="0.35"/>
<path d="M493.4,58.3 494.3,59.3 491.6,58.3 490.7,57.2Z" fill="#fad62d" stroke="#fad62d" stroke-width="0.35"/>
<path d="M494.3,59.3 495.2,60.3 492.5,59.3 491.6,58.3Z" fill="#fad42e" stroke="#fad42e" stroke-width="0.35"/>
<path d="M495.2,60.3 496.1,61.4 493.3,60.4 492.5,59.3Z" fill="#fcd12f" stroke="#fcd12f" stroke-width="0.35"/>
<path d="M496.1,61.4 497.8,63.5 495.1,62.6 493.3,60.4Z" fill="#fccf30" stroke="#fccf30" stroke-width="0.35"/>
<path d="M497.8,63.5 499.5,65.7 496.8,64.9 495.1,62.6Z" fill="#fdcc32" stroke="#fdcc32" stroke-width="0.35"/>
<path d="M499.5,65.7 501.3,67.9 498.6,67.2 496.8,64.9Z" fill="#fec934" stroke="#fec934" stroke-width="0.35"/>
<path d="M501.3,67.9 503,70.1 500.3,69.5 498.6,67.2Z" fill="#fec537" stroke="#fec537" stroke-width="0.35"/>
<path d="M503,70.1 504.8,72.3 502.1,71.7 500.3,69.5Z" fill="#fec239" stroke="#fec239" stroke-width="0.35"/>
<path d="M504.8,72.3 506.5,74.4 503.8,73.9 502.1,71.7Z" fill="#febf3b" stroke="#febf3b" stroke-width="0.35"/>
<path d="M506.5,74.4 508.3,76.4 505.6,76 503.8,73.9Z" fill="#fbbc3d" stroke="#fbbc3d" stroke-width="0.35"/>
<path d="M508.3,76.4 510,78.4 507.3,78 505.6,76Z" fill="#f8ba3d" stroke="#f8ba3d" stroke-width="0.35"/>
<path d="M510,78.4 511.8,80.2 509.1,80 507.3,78Z" fill="#f4ba3a" stroke="#f4ba3a" stroke-width="0.35"/>
<path d="M511.8,80.2 513.5,82 510.8,81.8 509.1,80Z" fill="#f0ba36" stroke="#f0ba36" stroke-width="0.35"/>
<path d="M513.5,82 515.3,83.6 512.6,83.5 510.8,81.8Z" fill="#ecba32" stroke="#ecba32" stroke-width="0.35"/>
<path d="M515.3,83.6 517,85.2 514.3,85.1 512.6,83.5Z" fill="#e9bb30" stroke="#e9bb30" stroke-width="0.35"/>
<path d="M517,85.2 518.8,86.6 516.1,86.5 514.3,85.1Z" fill="#e5bb2c" stroke="#e5bb2c" stroke-width="0.35"/>
<path d="M518.8,86.6 520.5,87.9 517.8,87.9 516.1,86.5Z" fill="#e2bc2b" stroke="#e2bc2b" stroke-width="0.35"/>
<path d="M520.5,87.9 522.3,89.1 519.6,89.1 517.8,87.9Z" fill="#ddbd29" stroke="#ddbd29" stroke-width="0.35"/>
<path d="M522.3,89.1 524,90.2 521.3,90.3 519.6,89.1Z" fill="#dbbd28" stroke="#dbbd28" stroke-width="0.35"/>
<path d="M524,90.2 525.8,91.1 523.1,91.3 521.3,90.3Z" fill="#d8be28" stroke="#d8be28" stroke-width="0.35"/>
<path d="M525.8,91.1 527.5,92 524.8,92.2 523.1,91.3Z" fill="#d5be28" stroke="#d5be28" stroke-width="0.35"/>
<path d="M527.5,92 529.3,92.8 526.5,93 524.8,92.2Z" fill="#d2bf27" stroke="#d2bf27" stroke-width="0.35"/>
<path d="M529.3,92.8 531,93.5 535.4,94.9 532.7,95.2 528.3,93.7 526.5,93Z" fill="#d0c028" stroke="#d0c028" stroke-width="0.35"/>
<path d="M535.4,94.9 539.8,96 537,96.3 532.7,95.2Z" fill="#a29b21" stroke="#a29b21" stroke-width="0.35"/>
<path d="M539.8,96 544.1,96.8 541.4,97.1 537,96.3Z" fill="#86821c" stroke="#86821c" stroke-width="0.35"/>
<path d="M544.1,96.8 548.5,97.4 545.8,97.7 541.4,97.1Z" fill="#6c6916" stroke="#6c6916" stroke-width="0.35"/>
<path d="M548.5,97.4 552.9,97.8 557.2,98.2 554.5,98.5 550.1,98.1 545.8,97.7Z" fill="#5e5d14" stroke="#5e5d14" stroke-width="0.35"/>
<path d="M557.2,98.2 561.6,98.5 566,98.8 570.3,99.1 574.7,99.4 579.1,99.6 583.5,99.9 587.8,100.1 592.2,100.4 596.6,100.7 600.9,100.9 605.3,101.2 609.7,101.4 614,101.7 618.4,102 622.8,102.2 627.2,102.5 631.5,102.7 635.9,103 640.3,103.3 644.6,103.5 649,103.8 653.4,104 650.7,104.4 646.3,104.1 641.9,103.8 637.5,103.6 633.2,103.3 628.8,103.1 624.4,102.8 620.1,102.5 615.7,102.3 611.3,102 607,101.8 602.6,101.5 598.2,101.2 593.8,101 589.5,100.7 585.1,100.5 580.7,100.2 576.4,99.9 572,99.7 567.6,99.4 563.3,99.1 558.9,98.8 554.5,98.5Z" fill="#515011" stroke="#515011" stroke-width="0.35"/>
<path class="es" d="M478.6,48.2 479.4,48.3 480.3,48.5 481.2,48.7 482.1,49 482.9,49.4 483.8,49.9 484.7,50.4 485.6,50.9 486.4,51.6 487.3,52.3 488.2,53 489.1,53.8 489.9,54.6 490.8,55.5 491.7,56.4 492.6,57.3 493.4,58.3 494.3,59.3 495.2,60.3 496.1,61.4 497.8,63.5 499.5,65.7 501.3,67.9 503,70.1 504.8,72.3 506.5,74.4 508.3,76.4 510,78.4 511.8,80.2 513.5,82 515.3,83.6 517,85.2 518.8,86.6 520.5,87.9 522.3,89.1 524,90.2 525.8,91.1 527.5,92 529.3,92.8 531,93.5 535.4,94.9 539.8,96 544.1,96.8 548.5,97.4 552.9,97.8 557.2,98.2 561.6,98.5 566,98.8 570.3,99.1 574.7,99.4 579.1,99.6 583.5,99.9 587.8,100.1 592.2,100.4 596.6,100.7 600.9,100.9 605.3,101.2 609.7,101.4 614,101.7 618.4,102 622.8,102.2 627.2,102.5 631.5,102.7 635.9,103 640.3,103.3 644.6,103.5 649,103.8 653.4,104"/>
<path d="M475.9,46.8 476.7,46.9 474,46.1 473.1,46Z" fill="#756f11" stroke="#756f11" stroke-width="0.35"/>
<path d="M476.7,46.9 477.6,47.1 478.5,47.3 479.4,47.6 476.6,46.8 475.8,46.5 474.9,46.2 474,46.1Z" fill="#55510c" stroke="#55510c" stroke-width="0.35"/>
<path d="M479.4,47.6 480.2,48 477.5,47.2 476.6,46.8Z" fill="#55500c" stroke="#55500c" stroke-width="0.35"/>
<path d="M480.2,48 481.1,48.5 478.4,47.7 477.5,47.2Z" fill="#756e11" stroke="#756e11" stroke-width="0.35"/>
<path d="M481.1,48.5 482,49 479.3,48.2 478.4,47.7Z" fill="#958c16" stroke="#958c16" stroke-width="0.35"/>
<path d="M482,49 482.8,49.6 480.1,48.8 479.3,48.2Z" fill="#c5b81e" stroke="#c5b81e" stroke-width="0.35"/>
<path d="M482.8,49.6 483.7,50.2 481,49.5 480.1,48.8Z" fill="#e5d524" stroke="#e5d524" stroke-width="0.35"/>
<path d="M483.7,50.2 484.6,51 481.9,50.2 481,49.5Z" fill="#f5e427" stroke="#f5e427" stroke-width="0.35"/>
<path d="M484.6,51 485.5,51.7 482.8,51 481.9,50.2Z" fill="#f5e227" stroke="#f5e227" stroke-width="0.35"/>
<path d="M485.5,51.7 486.3,52.5 483.6,51.8 482.8,51Z" fill="#f6e128" stroke="#f6e128" stroke-width="0.35"/>
<path d="M486.3,52.5 487.2,53.4 484.5,52.7 483.6,51.8Z" fill="#f6df29" stroke="#f6df29" stroke-width="0.35"/>
<path d="M487.2,53.4 488.1,54.3 489,55.2 486.2,54.6 485.4,53.6 484.5,52.7Z" fill="#f6de29" stroke="#f6de29" stroke-width="0.35"/>
<path d="M489,55.2 489.8,56.2 487.1,55.6 486.2,54.6Z" fill="#f7dc2a" stroke="#f7dc2a" stroke-width="0.35"/>
<path d="M489.8,56.2 490.7,57.2 488,56.6 487.1,55.6Z" fill="#f8d92c" stroke="#f8d92c" stroke-width="0.35"/>
<path d="M490.7,57.2 491.6,58.3 488.9,57.7 488,56.6Z" fill="#f9d72c" stroke="#f9d72c" stroke-width="0.35"/>
<path d="M491.6,58.3 492.5,59.3 489.7,58.8 488.9,57.7Z" fill="#fad62d" stroke="#fad62d" stroke-width="0.35"/>
<path d="M492.5,59.3 493.3,60.4 490.6,59.9 489.7,58.8Z" fill="#fad42e" stroke="#fad42e" stroke-width="0.35"/>
<path d="M493.3,60.4 495.1,62.6 492.4,62.1 490.6,59.9Z" fill="#fbd32f" stroke="#fbd32f" stroke-width="0.35"/>
<path d="M495.1,62.6 496.8,64.9 494.1,64.5 492.4,62.1Z" fill="#fccf30" stroke="#fccf30" stroke-width="0.35"/>
<path d="M496.8,64.9 498.6,67.2 495.9,66.8 494.1,64.5Z" fill="#fdcb33" stroke="#fdcb33" stroke-width="0.35"/>
<path d="M498.6,67.2 500.3,69.5 497.6,69.1 495.9,66.8Z" fill="#fec835" stroke="#fec835" stroke-width="0.35"/>
<path d="M500.3,69.5 502.1,71.7 499.4,71.4 497.6,69.1Z" fill="#fec338" stroke="#fec338" stroke-width="0.35"/>
<path d="M502.1,71.7 503.8,73.9 501.1,73.6 499.4,71.4Z" fill="#fec13a" stroke="#fec13a" stroke-width="0.35"/>
<path d="M503.8,73.9 505.6,76 502.9,75.8 501.1,73.6Z" fill="#febe3c" stroke="#febe3c" stroke-width="0.35"/>
<path d="M505.6,76 507.3,78 504.6,77.9 502.9,75.8Z" fill="#fabb3d" stroke="#fabb3d" stroke-width="0.35"/>
<path d="M507.3,78 509.1,80 506.4,79.9 504.6,77.9Z" fill="#f6ba3c" stroke="#f6ba3c" stroke-width="0.35"/>
<path d="M509.1,80 510.8,81.8 508.1,81.7 506.4,79.9Z" fill="#f2ba38" stroke="#f2ba38" stroke-width="0.35"/>
<path d="M510.8,81.8 512.6,83.5 509.8,83.5 508.1,81.7Z" fill="#eeba34" stroke="#eeba34" stroke-width="0.35"/>
<path d="M512.6,83.5 514.3,85.1 511.6,85.1 509.8,83.5Z" fill="#e9bb30" stroke="#e9bb30" stroke-width="0.35"/>
<path d="M514.3,85.1 516.1,86.5 513.3,86.6 511.6,85.1Z" fill="#e7bb2e" stroke="#e7bb2e" stroke-width="0.35"/>
<path d="M516.1,86.5 517.8,87.9 515.1,88 513.3,86.6Z" fill="#e2bc2b" stroke="#e2bc2b" stroke-width="0.35"/>
<path d="M517.8,87.9 519.6,89.1 516.8,89.2 515.1,88Z" fill="#e0bc2a" stroke="#e0bc2a" stroke-width="0.35"/>
<path d="M519.6,89.1 521.3,90.3 518.6,90.4 516.8,89.2Z" fill="#ddbd29" stroke="#ddbd29" stroke-width="0.35"/>
<path d="M521.3,90.3 523.1,91.3 520.3,91.4 518.6,90.4Z" fill="#d8be28" stroke="#d8be28" stroke-width="0.35"/>
<path d="M523.1,91.3 524.8,92.2 522.1,92.3 520.3,91.4Z" fill="#d5be28" stroke="#d5be28" stroke-width="0.35"/>
<path d="M524.8,92.2 526.5,93 528.3,93.7 525.6,93.9 523.8,93.2 522.1,92.3Z" fill="#d2bf27" stroke="#d2bf27" stroke-width="0.35"/>
<path d="M528.3,93.7 532.7,95.2 529.9,95.4 525.6,93.9Z" fill="#d0c028" stroke="#d0c028" stroke-width="0.35"/>
<path d="M532.7,95.2 537,96.3 534.3,96.5 529.9,95.4Z" fill="#a59a20" stroke="#a59a20" stroke-width="0.35"/>
<path d="M537,96.3 541.4,97.1 538.7,97.3 534.3,96.5Z" fill="#88821b" stroke="#88821b" stroke-width="0.35"/>
<path d="M541.4,97.1 545.8,97.7 543.1,97.9 538.7,97.3Z" fill="#6c6916" stroke="#6c6916" stroke-width="0.35"/>
<path d="M545.8,97.7 550.1,98.1 547.4,98.4 543.1,97.9Z" fill="#5f5c14" stroke="#5f5c14" stroke-width="0.35"/>
<path d="M550.1,98.1 554.5,98.5 551.8,98.8 547.4,98.4Z" fill="#515011" stroke="#515011" stroke-width="0.35"/>
<path d="M554.5,98.5 558.9,98.8 563.3,99.1 567.6,99.4 572,99.7 576.4,99.9 580.7,100.2 585.1,100.5 589.5,100.7 593.8,101 598.2,101.2 602.6,101.5 607,101.8 611.3,102 615.7,102.3 620.1,102.5 624.4,102.8 628.8,103.1 633.2,103.3 637.5,103.6 641.9,103.8 646.3,104.1 650.7,104.4 647.9,104.7 643.6,104.4 639.2,104.1 634.8,103.9 630.5,103.6 626.1,103.4 621.7,103.1 617.3,102.8 613,102.6 608.6,102.3 604.2,102.1 599.9,101.8 595.5,101.5 591.1,101.3 586.8,101 582.4,100.7 578,100.5 573.6,100.2 569.3,100 564.9,99.7 560.5,99.4 556.2,99.1 551.8,98.8Z" fill="#44430f" stroke="#44430f" stroke-width="0.35"/>
<path class="es" d="M475.9,46.8 476.7,46.9 477.6,47.1 478.5,47.3 479.4,47.6 480.2,48 481.1,48.5 482,49 482.8,49.6 483.7,50.2 484.6,51 485.5,51.7 486.3,52.5 487.2,53.4 488.1,54.3 489,55.2 489.8,56.2 490.7,57.2 491.6,58.3 492.5,59.3 493.3,60.4 495.1,62.6 496.8,64.9 498.6,67.2 500.3,69.5 502.1,71.7 503.8,73.9 505.6,76 507.3,78 509.1,80 510.8,81.8 512.6,83.5 514.3,85.1 516.1,86.5 517.8,87.9 519.6,89.1 521.3,90.3 523.1,91.3 524.8,92.2 526.5,93 528.3,93.7 532.7,95.2 537,96.3 541.4,97.1 545.8,97.7 550.1,98.1 554.5,98.5 558.9,98.8 563.3,99.1 567.6,99.4 572,99.7 576.4,99.9 580.7,100.2 585.1,100.5 589.5,100.7 593.8,101 598.2,101.2 602.6,101.5 607,101.8 611.3,102 615.7,102.3 620.1,102.5 624.4,102.8 628.8,103.1 633.2,103.3 637.5,103.6 641.9,103.8 646.3,104.1 650.7,104.4"/>
<path d="M473.1,46 474,46.1 474.9,46.2 472.2,45.8 471.3,45.6 470.4,45.5Z" fill="#55520c" stroke="#55520c" stroke-width="0.35"/>
<path d="M474.9,46.2 475.8,46.5 473,46.1 472.2,45.8Z" fill="#55510c" stroke="#55510c" stroke-width="0.35"/>
<path d="M475.8,46.5 476.6,46.8 473.9,46.4 473,46.1Z" fill="#757011" stroke="#757011" stroke-width="0.35"/>
<path d="M476.6,46.8 477.5,47.2 474.8,46.9 473.9,46.4Z" fill="#b5ad1a" stroke="#b5ad1a" stroke-width="0.35"/>
<path d="M477.5,47.2 478.4,47.7 475.7,47.3 474.8,46.9Z" fill="#e5d822" stroke="#e5d822" stroke-width="0.35"/>
<path d="M478.4,47.7 479.3,48.2 476.5,47.9 475.7,47.3Z" fill="#f5e825" stroke="#f5e825" stroke-width="0.35"/>
<path d="M479.3,48.2 480.1,48.8 481,49.5 478.3,49.2 477.4,48.5 476.5,47.9Z" fill="#f5e725" stroke="#f5e725" stroke-width="0.35"/>
<path d="M481,49.5 481.9,50.2 479.2,50 478.3,49.2Z" fill="#f5e526" stroke="#f5e526" stroke-width="0.35"/>
<path d="M481.9,50.2 482.8,51 483.6,51.8 480.9,51.6 480,50.8 479.2,50Z" fill="#f5e427" stroke="#f5e427" stroke-width="0.35"/>
<path d="M483.6,51.8 484.5,52.7 481.8,52.6 480.9,51.6Z" fill="#f5e227" stroke="#f5e227" stroke-width="0.35"/>
<path d="M484.5,52.7 485.4,53.6 482.7,53.5 481.8,52.6Z" fill="#f6e128" stroke="#f6e128" stroke-width="0.35"/>
<path d="M485.4,53.6 486.2,54.6 483.5,54.5 482.7,53.5Z" fill="#f6df29" stroke="#f6df29" stroke-width="0.35"/>
<path d="M486.2,54.6 487.1,55.6 484.4,55.5 483.5,54.5Z" fill="#f6de29" stroke="#f6de29" stroke-width="0.35"/>
<path d="M487.1,55.6 488,56.6 485.3,56.6 484.4,55.5Z" fill="#f7dc2a" stroke="#f7dc2a" stroke-width="0.35"/>
<path d="M488,56.6 488.9,57.7 486.2,57.7 485.3,56.6Z" fill="#f8da2b" stroke="#f8da2b" stroke-width="0.35"/>
<path d="M488.9,57.7 489.7,58.8 487,58.8 486.2,57.7Z" fill="#f9d72c" stroke="#f9d72c" stroke-width="0.35"/>
<path d="M489.7,58.8 490.6,59.9 487.9,59.9 487,58.8Z" fill="#fad62d" stroke="#fad62d" stroke-width="0.35"/>
<path d="M490.6,59.9 492.4,62.1 489.6,62.2 487.9,59.9Z" fill="#fad42e" stroke="#fad42e" stroke-width="0.35"/>
<path d="M492.4,62.1 494.1,64.5 491.4,64.6 489.6,62.2Z" fill="#fcd12f" stroke="#fcd12f" stroke-width="0.35"/>
<path d="M494.1,64.5 495.9,66.8 493.1,66.9 491.4,64.6Z" fill="#fdcc32" stroke="#fdcc32" stroke-width="0.35"/>
<path d="M495.9,66.8 497.6,69.1 494.9,69.3 493.1,66.9Z" fill="#fec934" stroke="#fec934" stroke-width="0.35"/>
<path d="M497.6,69.1 499.4,71.4 496.6,71.6 494.9,69.3Z" fill="#fec537" stroke="#fec537" stroke-width="0.35"/>
<path d="M499.4,71.4 501.1,73.6 498.4,73.8 496.6,71.6Z" fill="#fec239" stroke="#fec239" stroke-width="0.35"/>
<path d="M501.1,73.6 502.9,75.8 500.1,76 498.4,73.8Z" fill="#febe3c" stroke="#febe3c" stroke-width="0.35"/>
<path d="M502.9,75.8 504.6,77.9 501.9,78.1 500.1,76Z" fill="#fbbc3d" stroke="#fbbc3d" stroke-width="0.35"/>
<path d="M504.6,77.9 506.4,79.9 503.6,80.1 501.9,78.1Z" fill="#f8ba3d" stroke="#f8ba3d" stroke-width="0.35"/>
<path d="M506.4,79.9 508.1,81.7 505.4,81.9 503.6,80.1Z" fill="#f4ba3a" stroke="#f4ba3a" stroke-width="0.35"/>
<path d="M508.1,81.7 509.8,83.5 507.1,83.7 505.4,81.9Z" fill="#f0ba36" stroke="#f0ba36" stroke-width="0.35"/>
<path d="M509.8,83.5 511.6,85.1 508.9,85.3 507.1,83.7Z" fill="#ecba32" stroke="#ecba32" stroke-width="0.35"/>
<path d="M511.6,85.1 513.3,86.6 510.6,86.8 508.9,85.3Z" fill="#e7bb2e" stroke="#e7bb2e" stroke-width="0.35"/>
<path d="M513.3,86.6 515.1,88 512.4,88.2 510.6,86.8Z" fill="#e5bb2c" stroke="#e5bb2c" stroke-width="0.35"/>
<path d="M515.1,88 516.8,89.2 514.1,89.4 512.4,88.2Z" fill="#e0bc2a" stroke="#e0bc2a" stroke-width="0.35"/>
<path d="M516.8,89.2 518.6,90.4 515.9,90.5 514.1,89.4Z" fill="#ddbd29" stroke="#ddbd29" stroke-width="0.35"/>
<path d="M518.6,90.4 520.3,91.4 517.6,91.6 515.9,90.5Z" fill="#dbbd28" stroke="#dbbd28" stroke-width="0.35"/>
<path d="M520.3,91.4 522.1,92.3 519.4,92.5 517.6,91.6Z" fill="#d8be28" stroke="#d8be28" stroke-width="0.35"/>
<path d="M522.1,92.3 523.8,93.2 521.1,93.3 519.4,92.5Z" fill="#d5be28" stroke="#d5be28" stroke-width="0.35"/>
<path d="M523.8,93.2 525.6,93.9 522.9,94 521.1,93.3Z" fill="#d2bf27" stroke="#d2bf27" stroke-width="0.35"/>
<path d="M525.6,93.9 529.9,95.4 527.2,95.5 522.9,94Z" fill="#c2b325" stroke="#c2b325" stroke-width="0.35"/>
<path d="M529.9,95.4 534.3,96.5 531.6,96.6 527.2,95.5Z" fill="#978e1d" stroke="#978e1d" stroke-width="0.35"/>
<path d="M534.3,96.5 538.7,97.3 536,97.5 531.6,96.6Z" fill="#6e6916" stroke="#6e6916" stroke-width="0.35"/>
<path d="M538.7,97.3 543.1,97.9 540.3,98.1 536,97.5Z" fill="#525011" stroke="#525011" stroke-width="0.35"/>
<path d="M543.1,97.9 547.4,98.4 551.8,98.8 556.2,99.1 553.5,99.3 549.1,98.9 544.7,98.5 540.3,98.1Z" fill="#45430e" stroke="#45430e" stroke-width="0.35"/>
<path d="M556.2,99.1 560.5,99.4 564.9,99.7 569.3,100 573.6,100.2 578,100.5 582.4,100.7 586.8,101 591.1,101.3 595.5,101.5 599.9,101.8 604.2,102.1 608.6,102.3 613,102.6 617.3,102.8 621.7,103.1 626.1,103.4 630.5,103.6 634.8,103.9 639.2,104.1 643.6,104.4 647.9,104.7 645.2,104.8 640.9,104.5 636.5,104.3 632.1,104 627.7,103.8 623.4,103.5 619,103.2 614.6,103 610.3,102.7 605.9,102.5 601.5,102.2 597.2,101.9 592.8,101.7 588.4,101.4 584,101.2 579.7,100.9 575.3,100.6 570.9,100.4 566.6,100.1 562.2,99.8 557.8,99.6 553.5,99.3Z" fill="#44430f" stroke="#44430f" stroke-width="0.35"/>
<path class="es" d="M473.1,46 474,46.1 474.9,46.2 475.8,46.5 476.6,46.8 477.5,47.2 478.4,47.7 479.3,48.2 480.1,48.8 481,49.5 481.9,50.2 482.8,51 483.6,51.8 484.5,52.7 485.4,53.6 486.2,54.6 487.1,55.6 488,56.6 488.9,57.7 489.7,58.8 490.6,59.9 492.4,62.1 494.1,64.5 495.9,66.8 497.6,69.1 499.4,71.4 501.1,73.6 502.9,75.8 504.6,77.9 506.4,79.9 508.1,81.7 509.8,83.5 511.6,85.1 513.3,86.6 515.1,88 516.8,89.2 518.6,90.4 520.3,91.4 522.1,92.3 523.8,93.2 525.6,93.9 529.9,95.4 534.3,96.5 538.7,97.3 543.1,97.9 547.4,98.4 551.8,98.8 556.2,99.1 560.5,99.4 564.9,99.7 569.3,100 573.6,100.2 578,100.5 582.4,100.7 586.8,101 591.1,101.3 595.5,101.5 599.9,101.8 604.2,102.1 608.6,102.3 613,102.6 617.3,102.8 621.7,103.1 626.1,103.4 630.5,103.6 634.8,103.9 639.2,104.1 643.6,104.4 647.9,104.7"/>
<path d="M470.4,45.5 471.3,45.6 472.2,45.8 469.5,45.6 468.6,45.4 467.7,45.2Z" fill="#55520b" stroke="#55520b" stroke-width="0.35"/>
<path d="M472.2,45.8 473,46.1 470.3,45.9 469.5,45.6Z" fill="#757010" stroke="#757010" stroke-width="0.35"/>
<path d="M473,46.1 473.9,46.4 471.2,46.3 470.3,45.9Z" fill="#c5bd1c" stroke="#c5bd1c" stroke-width="0.35"/>
<path d="M473.9,46.4 474.8,46.9 472.1,46.8 471.2,46.3Z" fill="#f5eb23" stroke="#f5eb23" stroke-width="0.35"/>
<path d="M474.8,46.9 475.7,47.3 476.5,47.9 473.8,48 472.9,47.4 472.1,46.8Z" fill="#f5ea24" stroke="#f5ea24" stroke-width="0.35"/>
<path d="M476.5,47.9 477.4,48.5 478.3,49.2 475.6,49.5 474.7,48.8 473.8,48Z" fill="#f5e825" stroke="#f5e825" stroke-width="0.35"/>
<path d="M478.3,49.2 479.2,50 476.4,50.4 475.6,49.5Z" fill="#f5e725" stroke="#f5e725" stroke-width="0.35"/>
<path d="M479.2,50 480,50.8 477.3,51.2 476.4,50.4Z" fill="#f5e526" stroke="#f5e526" stroke-width="0.35"/>
<path d="M480,50.8 480.9,51.6 478.2,52.2 477.3,51.2Z" fill="#f5e427" stroke="#f5e427" stroke-width="0.35"/>
<path d="M480.9,51.6 481.8,52.6 479.1,53.2 478.2,52.2Z" fill="#f5e227" stroke="#f5e227" stroke-width="0.35"/>
<path d="M481.8,52.6 482.7,53.5 479.9,54.2 479.1,53.2Z" fill="#f6e128" stroke="#f6e128" stroke-width="0.35"/>
<path d="M482.7,53.5 483.5,54.5 480.8,55.2 479.9,54.2Z" fill="#f6df29" stroke="#f6df29" stroke-width="0.35"/>
<path d="M483.5,54.5 484.4,55.5 481.7,56.3 480.8,55.2Z" fill="#f6de29" stroke="#f6de29" stroke-width="0.35"/>
<path d="M484.4,55.5 485.3,56.6 482.6,57.4 481.7,56.3Z" fill="#f7dc2a" stroke="#f7dc2a" stroke-width="0.35"/>
<path d="M485.3,56.6 486.2,57.7 483.4,58.6 482.6,57.4Z" fill="#f8da2b" stroke="#f8da2b" stroke-width="0.35"/>
<path d="M486.2,57.7 487,58.8 484.3,59.7 483.4,58.6Z" fill="#f8d92c" stroke="#f8d92c" stroke-width="0.35"/>
<path d="M487,58.8 487.9,59.9 485.2,60.9 484.3,59.7Z" fill="#f9d72c" stroke="#f9d72c" stroke-width="0.35"/>
<path d="M487.9,59.9 489.6,62.2 486.9,63.3 485.2,60.9Z" fill="#fad62d" stroke="#fad62d" stroke-width="0.35"/>
<path d="M489.6,62.2 491.4,64.6 488.7,65.6 486.9,63.3Z" fill="#fcd12f" stroke="#fcd12f" stroke-width="0.35"/>
<path d="M491.4,64.6 493.1,66.9 490.4,68 488.7,65.6Z" fill="#fdce31" stroke="#fdce31" stroke-width="0.35"/>
<path d="M493.1,66.9 494.9,69.3 492.2,70.4 490.4,68Z" fill="#fec934" stroke="#fec934" stroke-width="0.35"/>
<path d="M494.9,69.3 496.6,71.6 493.9,72.6 492.2,70.4Z" fill="#fec636" stroke="#fec636" stroke-width="0.35"/>
<path d="M496.6,71.6 498.4,73.8 495.7,74.8 493.9,72.6Z" fill="#fec239" stroke="#fec239" stroke-width="0.35"/>
<path d="M498.4,73.8 500.1,76 497.4,76.9 495.7,74.8Z" fill="#febf3b" stroke="#febf3b" stroke-width="0.35"/>
<path d="M500.1,76 501.9,78.1 499.2,79 497.4,76.9Z" fill="#fbbc3d" stroke="#fbbc3d" stroke-width="0.35"/>
<path d="M501.9,78.1 503.6,80.1 500.9,80.9 499.2,79Z" fill="#f8ba3d" stroke="#f8ba3d" stroke-width="0.35"/>
<path d="M503.6,80.1 505.4,81.9 502.7,82.6 500.9,80.9Z" fill="#f4ba3a" stroke="#f4ba3a" stroke-width="0.35"/>
<path d="M505.4,81.9 507.1,83.7 504.4,84.3 502.7,82.6Z" fill="#f0ba36" stroke="#f0ba36" stroke-width="0.35"/>
<path d="M507.1,83.7 508.9,85.3 506.2,85.8 504.4,84.3Z" fill="#ecba32" stroke="#ecba32" stroke-width="0.35"/>
<path d="M508.9,85.3 510.6,86.8 507.9,87.3 506.2,85.8Z" fill="#e9bb30" stroke="#e9bb30" stroke-width="0.35"/>
<path d="M510.6,86.8 512.4,88.2 509.7,88.6 507.9,87.3Z" fill="#e5bb2c" stroke="#e5bb2c" stroke-width="0.35"/>
<path d="M512.4,88.2 514.1,89.4 511.4,89.7 509.7,88.6Z" fill="#e2bc2b" stroke="#e2bc2b" stroke-width="0.35"/>
<path d="M514.1,89.4 515.9,90.5 513.2,90.8 511.4,89.7Z" fill="#ddbd29" stroke="#ddbd29" stroke-width="0.35"/>
<path d="M515.9,90.5 517.6,91.6 514.9,91.8 513.2,90.8Z" fill="#dbbd28" stroke="#dbbd28" stroke-width="0.35"/>
<path d="M517.6,91.6 519.4,92.5 516.6,92.7 514.9,91.8Z" fill="#d8be28" stroke="#d8be28" stroke-width="0.35"/>
<path d="M519.4,92.5 521.1,93.3 518.4,93.5 516.6,92.7Z" fill="#d5be28" stroke="#d5be28" stroke-width="0.35"/>
<path d="M521.1,93.3 522.9,94 520.1,94.2 518.4,93.5Z" fill="#d2bf27" stroke="#d2bf27" stroke-width="0.35"/>
<path d="M522.9,94 527.2,95.5 524.5,95.6 520.1,94.2Z" fill="#c4b224" stroke="#c4b224" stroke-width="0.35"/>
<path d="M527.2,95.5 531.6,96.6 528.9,96.7 524.5,95.6Z" fill="#7d7518" stroke="#7d7518" stroke-width="0.35"/>
<path d="M531.6,96.6 536,97.5 533.3,97.5 528.9,96.7Z" fill="#535011" stroke="#535011" stroke-width="0.35"/>
<path d="M536,97.5 540.3,98.1 537.6,98.1 533.3,97.5Z" fill="#46430e" stroke="#46430e" stroke-width="0.35"/>
<path d="M540.3,98.1 544.7,98.5 549.1,98.9 553.5,99.3 557.8,99.6 562.2,99.8 566.6,100.1 570.9,100.4 575.3,100.6 579.7,100.9 584,101.2 588.4,101.4 592.8,101.7 597.2,101.9 601.5,102.2 605.9,102.5 610.3,102.7 614.6,103 619,103.2 623.4,103.5 627.7,103.8 632.1,104 636.5,104.3 640.9,104.5 645.2,104.8 642.5,104.8 638.1,104.6 633.8,104.3 629.4,104.1 625,103.8 620.7,103.5 616.3,103.3 611.9,103 607.5,102.8 603.2,102.5 598.8,102.2 594.4,102 590.1,101.7 585.7,101.5 581.3,101.2 577,100.9 572.6,100.7 568.2,100.4 563.8,100.1 559.5,99.9 555.1,99.6 550.7,99.3 546.4,98.9 542,98.6 537.6,98.1Z" fill="#45430e" stroke="#45430e" stroke-width="0.35"/>
<path class="es" d="M470.4,45.5 471.3,45.6 472.2,45.8 473,46.1 473.9,46.4 474.8,46.9 475.7,47.3 476.5,47.9 477.4,48.5 478.3,49.2 479.2,50 480,50.8 480.9,51.6 481.8,52.6 482.7,53.5 483.5,54.5 484.4,55.5 485.3,56.6 486.2,57.7 487,58.8 487.9,59.9 489.6,62.2 491.4,64.6 493.1,66.9 494.9,69.3 496.6,71.6 498.4,73.8 500.1,76 501.9,78.1 503.6,80.1 505.4,81.9 507.1,83.7 508.9,85.3 510.6,86.8 512.4,88.2 514.1,89.4 515.9,90.5 517.6,91.6 519.4,92.5 521.1,93.3 522.9,94 527.2,95.5 531.6,96.6 536,97.5 540.3,98.1 544.7,98.5 549.1,98.9 553.5,99.3 557.8,99.6 562.2,99.8 566.6,100.1 570.9,100.4 575.3,100.6 579.7,100.9 584,101.2 588.4,101.4 592.8,101.7 597.2,101.9 601.5,102.2 605.9,102.5 610.3,102.7 614.6,103 619,103.2 623.4,103.5 627.7,103.8 632.1,104 636.5,104.3 640.9,104.5 645.2,104.8"/>
<path d="M467.7,45.2 468.6,45.4 465.9,45.3 465,45.1Z" fill="#55520b" stroke="#55520b" stroke-width="0.35"/>
<path d="M468.6,45.4 469.5,45.6 466.7,45.6 465.9,45.3Z" fill="#757110" stroke="#757110" stroke-width="0.35"/>
<path d="M469.5,45.6 470.3,45.9 467.6,46 466.7,45.6Z" fill="#d5ce1d" stroke="#d5ce1d" stroke-width="0.35"/>
<path d="M470.3,45.9 471.2,46.3 468.5,46.5 467.6,46Z" fill="#f5ed22" stroke="#f5ed22" stroke-width="0.35"/>
<path d="M471.2,46.3 472.1,46.8 472.9,47.4 470.2,47.8 469.4,47.1 468.5,46.5Z" fill="#f5eb23" stroke="#f5eb23" stroke-width="0.35"/>
<path d="M472.9,47.4 473.8,48 474.7,48.8 472,49.5 471.1,48.6 470.2,47.8Z" fill="#f5ea24" stroke="#f5ea24" stroke-width="0.35"/>
<path d="M474.7,48.8 475.6,49.5 472.9,50.3 472,49.5Z" fill="#f5e825" stroke="#f5e825" stroke-width="0.35"/>
<path d="M475.6,49.5 476.4,50.4 473.7,51.3 472.9,50.3Z" fill="#f5e725" stroke="#f5e725" stroke-width="0.35"/>
<path d="M476.4,50.4 477.3,51.2 474.6,52.3 473.7,51.3Z" fill="#f5e526" stroke="#f5e526" stroke-width="0.35"/>
<path d="M477.3,51.2 478.2,52.2 475.5,53.3 474.6,52.3Z" fill="#f5e427" stroke="#f5e427" stroke-width="0.35"/>
<path d="M478.2,52.2 479.1,53.2 476.3,54.4 475.5,53.3Z" fill="#f5e227" stroke="#f5e227" stroke-width="0.35"/>
<path d="M479.1,53.2 479.9,54.2 477.2,55.5 476.3,54.4Z" fill="#f6e128" stroke="#f6e128" stroke-width="0.35"/>
<path d="M479.9,54.2 480.8,55.2 478.1,56.7 477.2,55.5Z" fill="#f6df29" stroke="#f6df29" stroke-width="0.35"/>
<path d="M480.8,55.2 481.7,56.3 479,57.8 478.1,56.7Z" fill="#f6de29" stroke="#f6de29" stroke-width="0.35"/>
<path d="M481.7,56.3 482.6,57.4 479.8,59 479,57.8Z" fill="#f7dc2a" stroke="#f7dc2a" stroke-width="0.35"/>
<path d="M482.6,57.4 483.4,58.6 480.7,60.2 479.8,59Z" fill="#f8da2b" stroke="#f8da2b" stroke-width="0.35"/>
<path d="M483.4,58.6 484.3,59.7 481.6,61.4 480.7,60.2Z" fill="#f8d92c" stroke="#f8d92c" stroke-width="0.35"/>
<path d="M484.3,59.7 485.2,60.9 482.5,62.6 481.6,61.4Z" fill="#fad62d" stroke="#fad62d" stroke-width="0.35"/>
<path d="M485.2,60.9 486.9,63.3 484.2,65 482.5,62.6Z" fill="#fad42e" stroke="#fad42e" stroke-width="0.35"/>
<path d="M486.9,63.3 488.7,65.6 486,67.4 484.2,65Z" fill="#fccf30" stroke="#fccf30" stroke-width="0.35"/>
<path d="M488.7,65.6 490.4,68 487.7,69.7 486,67.4Z" fill="#fdcc32" stroke="#fdcc32" stroke-width="0.35"/>
<path d="M490.4,68 492.2,70.4 489.5,72 487.7,69.7Z" fill="#fec835" stroke="#fec835" stroke-width="0.35"/>
<path d="M492.2,70.4 493.9,72.6 491.2,74.2 489.5,72Z" fill="#fec537" stroke="#fec537" stroke-width="0.35"/>
<path d="M493.9,72.6 495.7,74.8 493,76.3 491.2,74.2Z" fill="#fec13a" stroke="#fec13a" stroke-width="0.35"/>
<path d="M495.7,74.8 497.4,76.9 494.7,78.3 493,76.3Z" fill="#febe3c" stroke="#febe3c" stroke-width="0.35"/>
<path d="M497.4,76.9 499.2,79 496.5,80.2 494.7,78.3Z" fill="#fbbc3d" stroke="#fbbc3d" stroke-width="0.35"/>
<path d="M499.2,79 500.9,80.9 498.2,81.9 496.5,80.2Z" fill="#f8ba3d" stroke="#f8ba3d" stroke-width="0.35"/>
<path d="M500.9,80.9 502.7,82.6 499.9,83.6 498.2,81.9Z" fill="#f4ba3a" stroke="#f4ba3a" stroke-width="0.35"/>
<path d="M502.7,82.6 504.4,84.3 501.7,85.1 499.9,83.6Z" fill="#f0ba36" stroke="#f0ba36" stroke-width="0.35"/>
<path d="M504.4,84.3 506.2,85.8 503.4,86.5 501.7,85.1Z" fill="#ecba32" stroke="#ecba32" stroke-width="0.35"/>
<path d="M506.2,85.8 507.9,87.3 505.2,87.8 503.4,86.5Z" fill="#e7bb2e" stroke="#e7bb2e" stroke-width="0.35"/>
<path d="M507.9,87.3 509.7,88.6 506.9,89 505.2,87.8Z" fill="#e5bb2c" stroke="#e5bb2c" stroke-width="0.35"/>
<path d="M509.7,88.6 511.4,89.7 508.7,90.1 506.9,89Z" fill="#e2bc2b" stroke="#e2bc2b" stroke-width="0.35"/>
<path d="M511.4,89.7 513.2,90.8 510.4,91.1 508.7,90.1Z" fill="#ddbd29" stroke="#ddbd29" stroke-width="0.35"/>
<path d="M513.2,90.8 514.9,91.8 512.2,92 510.4,91.1Z" fill="#dbbd28" stroke="#dbbd28" stroke-width="0.35"/>
<path d="M514.9,91.8 516.6,92.7 513.9,92.8 512.2,92Z" fill="#d8be28" stroke="#d8be28" stroke-width="0.35"/>
<path d="M516.6,92.7 518.4,93.5 520.1,94.2 517.4,94.2 515.7,93.6 513.9,92.8Z" fill="#d5be28" stroke="#d5be28" stroke-width="0.35"/>
<path d="M520.1,94.2 524.5,95.6 521.8,95.6 517.4,94.2Z" fill="#a9991f" stroke="#a9991f" stroke-width="0.35"/>
<path d="M524.5,95.6 528.9,96.7 526.2,96.6 521.8,95.6Z" fill="#716815" stroke="#716815" stroke-width="0.35"/>
<path d="M528.9,96.7 533.3,97.5 530.5,97.4 526.2,96.6Z" fill="#47430e" stroke="#47430e" stroke-width="0.35"/>
<path d="M533.3,97.5 537.6,98.1 542,98.6 546.4,98.9 543.6,98.9 539.3,98.5 534.9,98 530.5,97.4Z" fill="#46430e" stroke="#46430e" stroke-width="0.35"/>
<path d="M546.4,98.9 550.7,99.3 555.1,99.6 559.5,99.9 563.8,100.1 568.2,100.4 572.6,100.7 577,100.9 581.3,101.2 585.7,101.5 590.1,101.7 594.4,102 598.8,102.2 603.2,102.5 607.5,102.8 611.9,103 616.3,103.3 620.7,103.5 625,103.8 629.4,104.1 633.8,104.3 638.1,104.6 642.5,104.8 639.8,104.8 635.4,104.5 631,104.3 626.7,104 622.3,103.8 617.9,103.5 613.6,103.2 609.2,103 604.8,102.7 600.5,102.5 596.1,102.2 591.7,101.9 587.3,101.7 583,101.4 578.6,101.2 574.2,100.9 569.9,100.6 565.5,100.4 561.1,100.1 556.8,99.8 552.4,99.5 548,99.2 543.6,98.9Z" fill="#45430e" stroke="#45430e" stroke-width="0.35"/>
<path class="es" d="M467.7,45.2 468.6,45.4 469.5,45.6 470.3,45.9 471.2,46.3 472.1,46.8 472.9,47.4 473.8,48 474.7,48.8 475.6,49.5 476.4,50.4 477.3,51.2 478.2,52.2 479.1,53.2 479.9,54.2 480.8,55.2 481.7,56.3 482.6,57.4 483.4,58.6 484.3,59.7 485.2,60.9 486.9,63.3 488.7,65.6 490.4,68 492.2,70.4 493.9,72.6 495.7,74.8 497.4,76.9 499.2,79 500.9,80.9 502.7,82.6 504.4,84.3 506.2,85.8 507.9,87.3 509.7,88.6 511.4,89.7 513.2,90.8 514.9,91.8 516.6,92.7 518.4,93.5 520.1,94.2 524.5,95.6 528.9,96.7 533.3,97.5 537.6,98.1 542,98.6 546.4,98.9 550.7,99.3 555.1,99.6 559.5,99.9 563.8,100.1 568.2,100.4 572.6,100.7 577,100.9 581.3,101.2 585.7,101.5 590.1,101.7 594.4,102 598.8,102.2 603.2,102.5 607.5,102.8 611.9,103 616.3,103.3 620.7,103.5 625,103.8 629.4,104.1 633.8,104.3 638.1,104.6 642.5,104.8"/>
<path d="M465,45.1 465.9,45.3 463.1,45.3 462.3,45Z" fill="#55530b" stroke="#55530b" stroke-width="0.35"/>
<path d="M465.9,45.3 466.7,45.6 464,45.7 463.1,45.3Z" fill="#d5cf1c" stroke="#d5cf1c" stroke-width="0.35"/>
<path d="M466.7,45.6 467.6,46 464.9,46.3 464,45.7Z" fill="#f5ee21" stroke="#f5ee21" stroke-width="0.35"/>
<path d="M467.6,46 468.5,46.5 469.4,47.1 466.6,47.8 465.8,47 464.9,46.3Z" fill="#f5ed22" stroke="#f5ed22" stroke-width="0.35"/>
<path d="M469.4,47.1 470.2,47.8 467.5,48.7 466.6,47.8Z" fill="#f5eb23" stroke="#f5eb23" stroke-width="0.35"/>
<path d="M470.2,47.8 471.1,48.6 472,49.5 469.3,50.6 468.4,49.6 467.5,48.7Z" fill="#f5ea24" stroke="#f5ea24" stroke-width="0.35"/>
<path d="M472,49.5 472.9,50.3 470.1,51.6 469.3,50.6Z" fill="#f5e825" stroke="#f5e825" stroke-width="0.35"/>
<path d="M472.9,50.3 473.7,51.3 471,52.7 470.1,51.6Z" fill="#f5e725" stroke="#f5e725" stroke-width="0.35"/>
<path d="M473.7,51.3 474.6,52.3 471.9,53.8 471,52.7Z" fill="#f5e526" stroke="#f5e526" stroke-width="0.35"/>
<path d="M474.6,52.3 475.5,53.3 472.8,55 471.9,53.8Z" fill="#f5e427" stroke="#f5e427" stroke-width="0.35"/>
<path d="M475.5,53.3 476.3,54.4 473.6,56.2 472.8,55Z" fill="#f5e227" stroke="#f5e227" stroke-width="0.35"/>
<path d="M476.3,54.4 477.2,55.5 474.5,57.4 473.6,56.2Z" fill="#f6df29" stroke="#f6df29" stroke-width="0.35"/>
<path d="M477.2,55.5 478.1,56.7 475.4,58.6 474.5,57.4Z" fill="#f6de29" stroke="#f6de29" stroke-width="0.35"/>
<path d="M478.1,56.7 479,57.8 476.3,59.8 475.4,58.6Z" fill="#f7dc2a" stroke="#f7dc2a" stroke-width="0.35"/>
<path d="M479,57.8 479.8,59 477.1,61 476.3,59.8Z" fill="#f8da2b" stroke="#f8da2b" stroke-width="0.35"/>
<path d="M479.8,59 480.7,60.2 478,62.2 477.1,61Z" fill="#f8d92c" stroke="#f8d92c" stroke-width="0.35"/>
<path d="M480.7,60.2 481.6,61.4 478.9,63.4 478,62.2Z" fill="#fad62d" stroke="#fad62d" stroke-width="0.35"/>
<path d="M481.6,61.4 482.5,62.6 479.8,64.6 478.9,63.4Z" fill="#fad42e" stroke="#fad42e" stroke-width="0.35"/>
<path d="M482.5,62.6 484.2,65 481.5,67 479.8,64.6Z" fill="#fbd32f" stroke="#fbd32f" stroke-width="0.35"/>
<path d="M484.2,65 486,67.4 483.2,69.4 481.5,67Z" fill="#fdce31" stroke="#fdce31" stroke-width="0.35"/>
<path d="M486,67.4 487.7,69.7 485,71.6 483.2,69.4Z" fill="#fdcb33" stroke="#fdcb33" stroke-width="0.35"/>
<path d="M487.7,69.7 489.5,72 486.7,73.8 485,71.6Z" fill="#fec636" stroke="#fec636" stroke-width="0.35"/>
<path d="M489.5,72 491.2,74.2 488.5,75.9 486.7,73.8Z" fill="#fec338" stroke="#fec338" stroke-width="0.35"/>
<path d="M491.2,74.2 493,76.3 490.2,77.8 488.5,75.9Z" fill="#febf3b" stroke="#febf3b" stroke-width="0.35"/>
<path d="M493,76.3 494.7,78.3 492,79.7 490.2,77.8Z" fill="#fdbd3d" stroke="#fdbd3d" stroke-width="0.35"/>
<path d="M494.7,78.3 496.5,80.2 493.7,81.4 492,79.7Z" fill="#fabb3d" stroke="#fabb3d" stroke-width="0.35"/>
<path d="M496.5,80.2 498.2,81.9 495.5,83 493.7,81.4Z" fill="#f6ba3c" stroke="#f6ba3c" stroke-width="0.35"/>
<path d="M498.2,81.9 499.9,83.6 497.2,84.5 495.5,83Z" fill="#f2ba38" stroke="#f2ba38" stroke-width="0.35"/>
<path d="M499.9,83.6 501.7,85.1 499,85.9 497.2,84.5Z" fill="#eeba34" stroke="#eeba34" stroke-width="0.35"/>
<path d="M501.7,85.1 503.4,86.5 500.7,87.2 499,85.9Z" fill="#ecba32" stroke="#ecba32" stroke-width="0.35"/>
<path d="M503.4,86.5 505.2,87.8 502.5,88.4 500.7,87.2Z" fill="#e7bb2e" stroke="#e7bb2e" stroke-width="0.35"/>
<path d="M505.2,87.8 506.9,89 504.2,89.5 502.5,88.4Z" fill="#e5bb2c" stroke="#e5bb2c" stroke-width="0.35"/>
<path d="M506.9,89 508.7,90.1 506,90.4 504.2,89.5Z" fill="#e2bc2b" stroke="#e2bc2b" stroke-width="0.35"/>
<path d="M508.7,90.1 510.4,91.1 512.2,92 509.5,92.2 507.7,91.3 506,90.4Z" fill="#ddbd29" stroke="#ddbd29" stroke-width="0.35"/>
<path d="M512.2,92 513.9,92.8 511.2,92.9 509.5,92.2Z" fill="#dbbd28" stroke="#dbbd28" stroke-width="0.35"/>
<path d="M513.9,92.8 515.7,93.6 513,93.6 511.2,92.9Z" fill="#d8be28" stroke="#d8be28" stroke-width="0.35"/>
<path d="M515.7,93.6 517.4,94.2 514.7,94.2 513,93.6Z" fill="#c7b125" stroke="#c7b125" stroke-width="0.35"/>
<path d="M517.4,94.2 521.8,95.6 519.1,95.5 514.7,94.2Z" fill="#8f801b" stroke="#8f801b" stroke-width="0.35"/>
<path d="M521.8,95.6 526.2,96.6 523.5,96.4 519.1,95.5Z" fill="#564f10" stroke="#564f10" stroke-width="0.35"/>
<path d="M526.2,96.6 530.5,97.4 534.9,98 532.2,97.8 527.8,97.2 523.5,96.4Z" fill="#47430e" stroke="#47430e" stroke-width="0.35"/>
<path d="M534.9,98 539.3,98.5 543.6,98.9 548,99.2 552.4,99.5 556.8,99.8 561.1,100.1 565.5,100.4 569.9,100.6 574.2,100.9 578.6,101.2 583,101.4 587.3,101.7 591.7,101.9 596.1,102.2 600.5,102.5 604.8,102.7 609.2,103 613.6,103.2 617.9,103.5 622.3,103.8 626.7,104 631,104.3 635.4,104.5 639.8,104.8 637.1,104.8 632.7,104.5 628.3,104.2 624,104 619.6,103.7 615.2,103.5 610.9,103.2 606.5,102.9 602.1,102.7 597.7,102.4 593.4,102.2 589,101.9 584.6,101.6 580.3,101.4 575.9,101.1 571.5,100.8 567.2,100.6 562.8,100.3 558.4,100 554,99.7 549.7,99.4 545.3,99.1 540.9,98.8 536.6,98.3 532.2,97.8Z" fill="#46430e" stroke="#46430e" stroke-width="0.35"/>
<path class="es" d="M465,45.1 465.9,45.3 466.7,45.6 467.6,46 468.5,46.5 469.4,47.1 470.2,47.8 471.1,48.6 472,49.5 472.9,50.3 473.7,51.3 474.6,52.3 475.5,53.3 476.3,54.4 477.2,55.5 478.1,56.7 479,57.8 479.8,59 480.7,60.2 481.6,61.4 482.5,62.6 484.2,65 486,67.4 487.7,69.7 489.5,72 491.2,74.2 493,76.3 494.7,78.3 496.5,80.2 498.2,81.9 499.9,83.6 501.7,85.1 503.4,86.5 505.2,87.8 506.9,89 508.7,90.1 510.4,91.1 512.2,92 513.9,92.8 515.7,93.6 517.4,94.2 521.8,95.6 526.2,96.6 530.5,97.4 534.9,98 539.3,98.5 543.6,98.9 548,99.2 552.4,99.5 556.8,99.8 561.1,100.1 565.5,100.4 569.9,100.6 574.2,100.9 578.6,101.2 583,101.4 587.3,101.7 591.7,101.9 596.1,102.2 600.5,102.5 604.8,102.7 609.2,103 613.6,103.2 617.9,103.5 622.3,103.8 626.7,104 631,104.3 635.4,104.5 639.8,104.8"/>
<path d="M462.3,45 463.1,45.3 460.4,45.4 459.6,45Z" fill="#a6a214" stroke="#a6a214" stroke-width="0.35"/>
<path d="M463.1,45.3 464,45.7 461.3,46.1 460.4,45.4Z" fill="#f6f01f" stroke="#f6f01f" stroke-width="0.35"/>
<path d="M464,45.7 464.9,46.3 462.2,46.8 461.3,46.1Z" fill="#f5ee21" stroke="#f5ee21" stroke-width="0.35"/>
<path d="M464.9,46.3 465.8,47 466.6,47.8 463.9,48.7 463,47.7 462.2,46.8Z" fill="#f5ed22" stroke="#f5ed22" stroke-width="0.35"/>
<path d="M466.6,47.8 467.5,48.7 464.8,49.8 463.9,48.7Z" fill="#f5eb23" stroke="#f5eb23" stroke-width="0.35"/>
<path d="M467.5,48.7 468.4,49.6 465.7,50.9 464.8,49.8Z" fill="#f5ea24" stroke="#f5ea24" stroke-width="0.35"/>
<path d="M468.4,49.6 469.3,50.6 466.5,52 465.7,50.9Z" fill="#f5e825" stroke="#f5e825" stroke-width="0.35"/>
<path d="M469.3,50.6 470.1,51.6 467.4,53.2 466.5,52Z" fill="#f5e725" stroke="#f5e725" stroke-width="0.35"/>
<path d="M470.1,51.6 471,52.7 468.3,54.4 467.4,53.2Z" fill="#f5e526" stroke="#f5e526" stroke-width="0.35"/>
<path d="M471,52.7 471.9,53.8 469.2,55.6 468.3,54.4Z" fill="#f5e427" stroke="#f5e427" stroke-width="0.35"/>
<path d="M471.9,53.8 472.8,55 470,56.9 469.2,55.6Z" fill="#f6e128" stroke="#f6e128" stroke-width="0.35"/>
<path d="M472.8,55 473.6,56.2 470.9,58.1 470,56.9Z" fill="#f6df29" stroke="#f6df29" stroke-width="0.35"/>
<path d="M473.6,56.2 474.5,57.4 471.8,59.4 470.9,58.1Z" fill="#f6de29" stroke="#f6de29" stroke-width="0.35"/>
<path d="M474.5,57.4 475.4,58.6 472.7,60.6 471.8,59.4Z" fill="#f7dc2a" stroke="#f7dc2a" stroke-width="0.35"/>
<path d="M475.4,58.6 476.3,59.8 473.5,61.9 472.7,60.6Z" fill="#f8d92c" stroke="#f8d92c" stroke-width="0.35"/>
<path d="M476.3,59.8 477.1,61 474.4,63.1 473.5,61.9Z" fill="#f9d72c" stroke="#f9d72c" stroke-width="0.35"/>
<path d="M477.1,61 478,62.2 475.3,64.3 474.4,63.1Z" fill="#fad62d" stroke="#fad62d" stroke-width="0.35"/>
<path d="M478,62.2 478.9,63.4 476.2,65.5 475.3,64.3Z" fill="#fbd32f" stroke="#fbd32f" stroke-width="0.35"/>
<path d="M478.9,63.4 479.8,64.6 477,66.7 476.2,65.5Z" fill="#fcd12f" stroke="#fcd12f" stroke-width="0.35"/>
<path d="M479.8,64.6 481.5,67 478.8,69.1 477,66.7Z" fill="#fccf30" stroke="#fccf30" stroke-width="0.35"/>
<path d="M481.5,67 483.2,69.4 480.5,71.3 478.8,69.1Z" fill="#fdcb33" stroke="#fdcb33" stroke-width="0.35"/>
<path d="M483.2,69.4 485,71.6 482.3,73.4 480.5,71.3Z" fill="#fec835" stroke="#fec835" stroke-width="0.35"/>
<path d="M485,71.6 486.7,73.8 484,75.5 482.3,73.4Z" fill="#fec338" stroke="#fec338" stroke-width="0.35"/>
<path d="M486.7,73.8 488.5,75.9 485.8,77.4 484,75.5Z" fill="#fec13a" stroke="#fec13a" stroke-width="0.35"/>
<path d="M488.5,75.9 490.2,77.8 487.5,79.2 485.8,77.4Z" fill="#febe3c" stroke="#febe3c" stroke-width="0.35"/>
<path d="M490.2,77.8 492,79.7 489.3,80.9 487.5,79.2Z" fill="#fbbc3d" stroke="#fbbc3d" stroke-width="0.35"/>
<path d="M492,79.7 493.7,81.4 491,82.5 489.3,80.9Z" fill="#f8ba3d" stroke="#f8ba3d" stroke-width="0.35"/>
<path d="M493.7,81.4 495.5,83 492.8,83.9 491,82.5Z" fill="#f4ba3a" stroke="#f4ba3a" stroke-width="0.35"/>
<path d="M495.5,83 497.2,84.5 494.5,85.3 492.8,83.9Z" fill="#f0ba36" stroke="#f0ba36" stroke-width="0.35"/>
<path d="M497.2,84.5 499,85.9 496.3,86.5 494.5,85.3Z" fill="#eeba34" stroke="#eeba34" stroke-width="0.35"/>
<path d="M499,85.9 500.7,87.2 498,87.7 496.3,86.5Z" fill="#e9bb30" stroke="#e9bb30" stroke-width="0.35"/>
<path d="M500.7,87.2 502.5,88.4 499.8,88.8 498,87.7Z" fill="#e7bb2e" stroke="#e7bb2e" stroke-width="0.35"/>
<path d="M502.5,88.4 504.2,89.5 501.5,89.7 499.8,88.8Z" fill="#e5bb2c" stroke="#e5bb2c" stroke-width="0.35"/>
<path d="M504.2,89.5 506,90.4 503.3,90.6 501.5,89.7Z" fill="#e2bc2b" stroke="#e2bc2b" stroke-width="0.35"/>
<path d="M506,90.4 507.7,91.3 505,91.5 503.3,90.6Z" fill="#e0bc2a" stroke="#e0bc2a" stroke-width="0.35"/>
<path d="M507.7,91.3 509.5,92.2 506.7,92.2 505,91.5Z" fill="#ddbd29" stroke="#ddbd29" stroke-width="0.35"/>
<path d="M509.5,92.2 511.2,92.9 508.5,92.9 506.7,92.2Z" fill="#dbbd28" stroke="#dbbd28" stroke-width="0.35"/>
<path d="M511.2,92.9 513,93.6 510.2,93.5 508.5,92.9Z" fill="#c9b125" stroke="#c9b125" stroke-width="0.35"/>
<path d="M513,93.6 514.7,94.2 512,94.1 510.2,93.5Z" fill="#9f8c1d" stroke="#9f8c1d" stroke-width="0.35"/>
<path d="M514.7,94.2 519.1,95.5 516.4,95.3 512,94.1Z" fill="#817318" stroke="#817318" stroke-width="0.35"/>
<path d="M519.1,95.5 523.5,96.4 520.7,96.2 516.4,95.3Z" fill="#49420d" stroke="#49420d" stroke-width="0.35"/>
<path d="M523.5,96.4 527.8,97.2 532.2,97.8 529.5,97.6 525.1,97 520.7,96.2Z" fill="#48430e" stroke="#48430e" stroke-width="0.35"/>
<path d="M532.2,97.8 536.6,98.3 540.9,98.8 545.3,99.1 549.7,99.4 547,99.3 542.6,99 538.2,98.6 533.8,98.2 529.5,97.6Z" fill="#47430e" stroke="#47430e" stroke-width="0.35"/>
<path d="M549.7,99.4 554,99.7 558.4,100 562.8,100.3 567.2,100.6 571.5,100.8 575.9,101.1 580.3,101.4 584.6,101.6 589,101.9 593.4,102.2 597.7,102.4 602.1,102.7 606.5,102.9 610.9,103.2 615.2,103.5 619.6,103.7 624,104 628.3,104.2 632.7,104.5 637.1,104.8 634.4,104.7 630,104.5 625.6,104.2 621.2,103.9 616.9,103.7 612.5,103.4 608.1,103.2 603.8,102.9 599.4,102.6 595,102.4 590.7,102.1 586.3,101.9 581.9,101.6 577.5,101.3 573.2,101.1 568.8,100.8 564.4,100.5 560.1,100.2 555.7,100 551.3,99.7 547,99.3Z" fill="#46430e" stroke="#46430e" stroke-width="0.35"/>
<path class="es" d="M462.3,45 463.1,45.3 464,45.7 464.9,46.3 465.8,47 466.6,47.8 467.5,48.7 468.4,49.6 469.3,50.6 470.1,51.6 471,52.7 471.9,53.8 472.8,55 473.6,56.2 474.5,57.4 475.4,58.6 476.3,59.8 477.1,61 478,62.2 478.9,63.4 479.8,64.6 481.5,67 483.2,69.4 485,71.6 486.7,73.8 488.5,75.9 490.2,77.8 492,79.7 493.7,81.4 495.5,83 497.2,84.5 499,85.9 500.7,87.2 502.5,88.4 504.2,89.5 506,90.4 507.7,91.3 509.5,92.2 511.2,92.9 513,93.6 514.7,94.2 519.1,95.5 523.5,96.4 527.8,97.2 532.2,97.8 536.6,98.3 540.9,98.8 545.3,99.1 549.7,99.4 554,99.7 558.4,100 562.8,100.3 567.2,100.6 571.5,100.8 575.9,101.1 580.3,101.4 584.6,101.6 589,101.9 593.4,102.2 597.7,102.4 602.1,102.7 606.5,102.9 610.9,103.2 615.2,103.5 619.6,103.7 624,104 628.3,104.2 632.7,104.5 637.1,104.8"/>
<path d="M459.6,45 460.4,45.4 461.3,46.1 458.6,46.5 457.7,45.7 456.8,45.1Z" fill="#f6f01f" stroke="#f6f01f" stroke-width="0.35"/>
<path d="M461.3,46.1 462.2,46.8 459.5,47.5 458.6,46.5Z" fill="#f5ee21" stroke="#f5ee21" stroke-width="0.35"/>
<path d="M462.2,46.8 463,47.7 460.3,48.6 459.5,47.5Z" fill="#f5ed22" stroke="#f5ed22" stroke-width="0.35"/>
<path d="M463,47.7 463.9,48.7 461.2,49.8 460.3,48.6Z" fill="#f5eb23" stroke="#f5eb23" stroke-width="0.35"/>
<path d="M463.9,48.7 464.8,49.8 462.1,51 461.2,49.8Z" fill="#f5ea24" stroke="#f5ea24" stroke-width="0.35"/>
<path d="M464.8,49.8 465.7,50.9 463,52.2 462.1,51Z" fill="#f5e825" stroke="#f5e825" stroke-width="0.35"/>
<path d="M465.7,50.9 466.5,52 463.8,53.5 463,52.2Z" fill="#f5e725" stroke="#f5e725" stroke-width="0.35"/>
<path d="M466.5,52 467.4,53.2 464.7,54.8 463.8,53.5Z" fill="#f5e526" stroke="#f5e526" stroke-width="0.35"/>
<path d="M467.4,53.2 468.3,54.4 465.6,56.1 464.7,54.8Z" fill="#f5e427" stroke="#f5e427" stroke-width="0.35"/>
<path d="M468.3,54.4 469.2,55.6 466.5,57.4 465.6,56.1Z" fill="#f6e128" stroke="#f6e128" stroke-width="0.35"/>
<path d="M469.2,55.6 470,56.9 467.3,58.7 466.5,57.4Z" fill="#f6df29" stroke="#f6df29" stroke-width="0.35"/>
<path d="M470,56.9 470.9,58.1 468.2,59.9 467.3,58.7Z" fill="#f6de29" stroke="#f6de29" stroke-width="0.35"/>
<path d="M470.9,58.1 471.8,59.4 469.1,61.2 468.2,59.9Z" fill="#f8da2b" stroke="#f8da2b" stroke-width="0.35"/>
<path d="M471.8,59.4 472.7,60.6 469.9,62.5 469.1,61.2Z" fill="#f8d92c" stroke="#f8d92c" stroke-width="0.35"/>
<path d="M472.7,60.6 473.5,61.9 470.8,63.7 469.9,62.5Z" fill="#f9d72c" stroke="#f9d72c" stroke-width="0.35"/>
<path d="M473.5,61.9 474.4,63.1 471.7,65 470.8,63.7Z" fill="#fad42e" stroke="#fad42e" stroke-width="0.35"/>
<path d="M474.4,63.1 475.3,64.3 472.6,66.2 471.7,65Z" fill="#fbd32f" stroke="#fbd32f" stroke-width="0.35"/>
<path d="M475.3,64.3 476.2,65.5 473.4,67.3 472.6,66.2Z" fill="#fcd12f" stroke="#fcd12f" stroke-width="0.35"/>
<path d="M476.2,65.5 477,66.7 474.3,68.5 473.4,67.3Z" fill="#fdce31" stroke="#fdce31" stroke-width="0.35"/>
<path d="M477,66.7 478.8,69.1 476.1,70.7 474.3,68.5Z" fill="#fdcc32" stroke="#fdcc32" stroke-width="0.35"/>
<path d="M478.8,69.1 480.5,71.3 477.8,72.9 476.1,70.7Z" fill="#fec934" stroke="#fec934" stroke-width="0.35"/>
<path d="M480.5,71.3 482.3,73.4 479.6,74.9 477.8,72.9Z" fill="#fec537" stroke="#fec537" stroke-width="0.35"/>
<path d="M482.3,73.4 484,75.5 481.3,76.8 479.6,74.9Z" fill="#fec239" stroke="#fec239" stroke-width="0.35"/>
<path d="M484,75.5 485.8,77.4 483.1,78.6 481.3,76.8Z" fill="#febf3b" stroke="#febf3b" stroke-width="0.35"/>
<path d="M485.8,77.4 487.5,79.2 484.8,80.2 483.1,78.6Z" fill="#fdbd3d" stroke="#fdbd3d" stroke-width="0.35"/>
<path d="M487.5,79.2 489.3,80.9 486.6,81.8 484.8,80.2Z" fill="#fabb3d" stroke="#fabb3d" stroke-width="0.35"/>
<path d="M489.3,80.9 491,82.5 488.3,83.2 486.6,81.8Z" fill="#f6ba3c" stroke="#f6ba3c" stroke-width="0.35"/>
<path d="M491,82.5 492.8,83.9 490,84.6 488.3,83.2Z" fill="#f2ba38" stroke="#f2ba38" stroke-width="0.35"/>
<path d="M492.8,83.9 494.5,85.3 491.8,85.8 490,84.6Z" fill="#f0ba36" stroke="#f0ba36" stroke-width="0.35"/>
<path d="M494.5,85.3 496.3,86.5 493.5,87 491.8,85.8Z" fill="#ecba32" stroke="#ecba32" stroke-width="0.35"/>
<path d="M496.3,86.5 498,87.7 495.3,88 493.5,87Z" fill="#e9bb30" stroke="#e9bb30" stroke-width="0.35"/>
<path d="M498,87.7 499.8,88.8 497,89 495.3,88Z" fill="#e7bb2e" stroke="#e7bb2e" stroke-width="0.35"/>
<path d="M499.8,88.8 501.5,89.7 498.8,89.9 497,89Z" fill="#e5bb2c" stroke="#e5bb2c" stroke-width="0.35"/>
<path d="M501.5,89.7 503.3,90.6 500.5,90.7 498.8,89.9Z" fill="#e2bc2b" stroke="#e2bc2b" stroke-width="0.35"/>
<path d="M503.3,90.6 505,91.5 502.3,91.5 500.5,90.7Z" fill="#e0bc2a" stroke="#e0bc2a" stroke-width="0.35"/>
<path d="M505,91.5 506.7,92.2 504,92.2 502.3,91.5Z" fill="#ddbd29" stroke="#ddbd29" stroke-width="0.35"/>
<path d="M506.7,92.2 508.5,92.9 505.8,92.8 504,92.2Z" fill="#ccb025" stroke="#ccb025" stroke-width="0.35"/>
<path d="M508.5,92.9 510.2,93.5 507.5,93.4 505.8,92.8Z" fill="#b09820" stroke="#b09820" stroke-width="0.35"/>
<path d="M510.2,93.5 512,94.1 509.3,94 507.5,93.4Z" fill="#91801b" stroke="#91801b" stroke-width="0.35"/>
<path d="M512,94.1 516.4,95.3 513.6,95.1 509.3,94Z" fill="#756715" stroke="#756715" stroke-width="0.35"/>
<path d="M516.4,95.3 520.7,96.2 518,96.1 513.6,95.1Z" fill="#4a420e" stroke="#4a420e" stroke-width="0.35"/>
<path d="M520.7,96.2 525.1,97 522.4,96.9 518,96.1Z" fill="#49420d" stroke="#49420d" stroke-width="0.35"/>
<path d="M525.1,97 529.5,97.6 533.8,98.2 538.2,98.6 535.5,98.5 531.1,98 526.8,97.5 522.4,96.9Z" fill="#48430e" stroke="#48430e" stroke-width="0.35"/>
<path d="M538.2,98.6 542.6,99 547,99.3 551.3,99.7 555.7,100 560.1,100.2 564.4,100.5 568.8,100.8 573.2,101.1 577.5,101.3 581.9,101.6 586.3,101.9 590.7,102.1 595,102.4 599.4,102.6 603.8,102.9 608.1,103.2 612.5,103.4 616.9,103.7 621.2,103.9 625.6,104.2 630,104.5 634.4,104.7 631.6,104.7 627.3,104.5 622.9,104.2 618.5,104 614.2,103.7 609.8,103.4 605.4,103.2 601,102.9 596.7,102.7 592.3,102.4 587.9,102.1 583.6,101.9 579.2,101.6 574.8,101.3 570.5,101.1 566.1,100.8 561.7,100.5 557.3,100.2 553,99.9 548.6,99.6 544.2,99.3 539.9,98.9 535.5,98.5Z" fill="#47430e" stroke="#47430e" stroke-width="0.35"/>
<path class="es" d="M459.6,45 460.4,45.4 461.3,46.1 462.2,46.8 463,47.7 463.9,48.7 464.8,49.8 465.7,50.9 466.5,52 467.4,53.2 468.3,54.4 469.2,55.6 470,56.9 470.9,58.1 471.8,59.4 472.7,60.6 473.5,61.9 474.4,63.1 475.3,64.3 476.2,65.5 477,66.7 478.8,69.1 480.5,71.3 482.3,73.4 484,75.5 485.8,77.4 487.5,79.2 489.3,80.9 491,82.5 492.8,83.9 494.5,85.3 496.3,86.5 498,87.7 499.8,88.8 501.5,89.7 503.3,90.6 505,91.5 506.7,92.2 508.5,92.9 510.2,93.5 512,94.1 516.4,95.3 520.7,96.2 525.1,97 529.5,97.6 533.8,98.2 538.2,98.6 542.6,99 547,99.3 551.3,99.7 555.7,100 560.1,100.2 564.4,100.5 568.8,100.8 573.2,101.1 577.5,101.3 581.9,101.6 586.3,101.9 590.7,102.1 595,102.4 599.4,102.6 603.8,102.9 608.1,103.2 612.5,103.4 616.9,103.7 621.2,103.9 625.6,104.2 630,104.5 634.4,104.7"/>
<path d="M456.8,45.1 457.7,45.7 455,45.9 454.1,45.1Z" fill="#f6f11e" stroke="#f6f11e" stroke-width="0.35"/>
<path d="M457.7,45.7 458.6,46.5 455.9,46.9 455,45.9Z" fill="#f6f01f" stroke="#f6f01f" stroke-width="0.35"/>
<path d="M458.6,46.5 459.5,47.5 456.7,48.1 455.9,46.9Z" fill="#f5ee21" stroke="#f5ee21" stroke-width="0.35"/>
<path d="M459.5,47.5 460.3,48.6 457.6,49.3 456.7,48.1Z" fill="#f5ed22" stroke="#f5ed22" stroke-width="0.35"/>
<path d="M460.3,48.6 461.2,49.8 458.5,50.5 457.6,49.3Z" fill="#f5eb23" stroke="#f5eb23" stroke-width="0.35"/>
<path d="M461.2,49.8 462.1,51 459.4,51.9 458.5,50.5Z" fill="#f5ea24" stroke="#f5ea24" stroke-width="0.35"/>
<path d="M462.1,51 463,52.2 460.2,53.2 459.4,51.9Z" fill="#f5e725" stroke="#f5e725" stroke-width="0.35"/>
<path d="M463,52.2 463.8,53.5 461.1,54.5 460.2,53.2Z" fill="#f5e526" stroke="#f5e526" stroke-width="0.35"/>
<path d="M463.8,53.5 464.7,54.8 462,55.9 461.1,54.5Z" fill="#f5e427" stroke="#f5e427" stroke-width="0.35"/>
<path d="M464.7,54.8 465.6,56.1 462.9,57.2 462,55.9Z" fill="#f6e128" stroke="#f6e128" stroke-width="0.35"/>
<path d="M465.6,56.1 466.5,57.4 463.7,58.5 462.9,57.2Z" fill="#f6df29" stroke="#f6df29" stroke-width="0.35"/>
<path d="M466.5,57.4 467.3,58.7 464.6,59.8 463.7,58.5Z" fill="#f6de29" stroke="#f6de29" stroke-width="0.35"/>
<path d="M467.3,58.7 468.2,59.9 465.5,61.2 464.6,59.8Z" fill="#f8da2b" stroke="#f8da2b" stroke-width="0.35"/>
<path d="M468.2,59.9 469.1,61.2 466.4,62.4 465.5,61.2Z" fill="#f8d92c" stroke="#f8d92c" stroke-width="0.35"/>
<path d="M469.1,61.2 469.9,62.5 467.2,63.7 466.4,62.4Z" fill="#fad62d" stroke="#fad62d" stroke-width="0.35"/>
<path d="M469.9,62.5 470.8,63.7 468.1,64.9 467.2,63.7Z" fill="#fad42e" stroke="#fad42e" stroke-width="0.35"/>
<path d="M470.8,63.7 471.7,65 469,66.1 468.1,64.9Z" fill="#fbd32f" stroke="#fbd32f" stroke-width="0.35"/>
<path d="M471.7,65 472.6,66.2 469.9,67.3 469,66.1Z" fill="#fccf30" stroke="#fccf30" stroke-width="0.35"/>
<path d="M472.6,66.2 473.4,67.3 470.7,68.5 469.9,67.3Z" fill="#fdce31" stroke="#fdce31" stroke-width="0.35"/>
<path d="M473.4,67.3 474.3,68.5 471.6,69.6 470.7,68.5Z" fill="#fdcc32" stroke="#fdcc32" stroke-width="0.35"/>
<path d="M474.3,68.5 476.1,70.7 473.3,71.8 471.6,69.6Z" fill="#fdcb33" stroke="#fdcb33" stroke-width="0.35"/>
<path d="M476.1,70.7 477.8,72.9 475.1,73.8 473.3,71.8Z" fill="#fec636" stroke="#fec636" stroke-width="0.35"/>
<path d="M477.8,72.9 479.6,74.9 476.8,75.8 475.1,73.8Z" fill="#fec338" stroke="#fec338" stroke-width="0.35"/>
<path d="M479.6,74.9 481.3,76.8 478.6,77.6 476.8,75.8Z" fill="#fec13a" stroke="#fec13a" stroke-width="0.35"/>
<path d="M481.3,76.8 483.1,78.6 480.3,79.3 478.6,77.6Z" fill="#febe3c" stroke="#febe3c" stroke-width="0.35"/>
<path d="M483.1,78.6 484.8,80.2 482.1,80.9 480.3,79.3Z" fill="#fbbc3d" stroke="#fbbc3d" stroke-width="0.35"/>
<path d="M484.8,80.2 486.6,81.8 483.8,82.4 482.1,80.9Z" fill="#f8ba3d" stroke="#f8ba3d" stroke-width="0.35"/>
<path d="M486.6,81.8 488.3,83.2 485.6,83.7 483.8,82.4Z" fill="#f6ba3c" stroke="#f6ba3c" stroke-width="0.35"/>
<path d="M488.3,83.2 490,84.6 487.3,85 485.6,83.7Z" fill="#f2ba38" stroke="#f2ba38" stroke-width="0.35"/>
<path d="M490,84.6 491.8,85.8 489.1,86.2 487.3,85Z" fill="#f0ba36" stroke="#f0ba36" stroke-width="0.35"/>
<path d="M491.8,85.8 493.5,87 490.8,87.3 489.1,86.2Z" fill="#ecba32" stroke="#ecba32" stroke-width="0.35"/>
<path d="M493.5,87 495.3,88 492.6,88.3 490.8,87.3Z" fill="#e9bb30" stroke="#e9bb30" stroke-width="0.35"/>
<path d="M495.3,88 497,89 494.3,89.2 492.6,88.3Z" fill="#e7bb2e" stroke="#e7bb2e" stroke-width="0.35"/>
<path d="M497,89 498.8,89.9 496.1,90.1 494.3,89.2Z" fill="#e5bb2c" stroke="#e5bb2c" stroke-width="0.35"/>
<path d="M498.8,89.9 500.5,90.7 497.8,90.9 496.1,90.1Z" fill="#e2bc2b" stroke="#e2bc2b" stroke-width="0.35"/>
<path d="M500.5,90.7 502.3,91.5 504,92.2 501.3,92.3 499.6,91.6 497.8,90.9Z" fill="#e0bc2a" stroke="#e0bc2a" stroke-width="0.35"/>
<path d="M504,92.2 505.8,92.8 503.1,92.9 501.3,92.3Z" fill="#ceb026" stroke="#ceb026" stroke-width="0.35"/>
<path d="M505.8,92.8 507.5,93.4 504.8,93.5 503.1,92.9Z" fill="#bea422" stroke="#bea422" stroke-width="0.35"/>
<path d="M507.5,93.4 509.3,94 506.6,94 504.8,93.5Z" fill="#a28b1d" stroke="#a28b1d" stroke-width="0.35"/>
<path d="M509.3,94 513.6,95.1 510.9,95.1 506.6,94Z" fill="#837318" stroke="#837318" stroke-width="0.35"/>
<path d="M513.6,95.1 518,96.1 515.3,96.1 510.9,95.1Z" fill="#665b13" stroke="#665b13" stroke-width="0.35"/>
<path d="M518,96.1 522.4,96.9 519.7,96.8 515.3,96.1Z" fill="#4a420e" stroke="#4a420e" stroke-width="0.35"/>
<path d="M522.4,96.9 526.8,97.5 531.1,98 528.4,98 524,97.5 519.7,96.8Z" fill="#49420d" stroke="#49420d" stroke-width="0.35"/>
<path d="M531.1,98 535.5,98.5 539.9,98.9 544.2,99.3 548.6,99.6 553,99.9 557.3,100.2 561.7,100.5 566.1,100.8 563.4,100.9 559,100.6 554.6,100.3 550.3,100 545.9,99.7 541.5,99.3 537.2,98.9 532.8,98.5 528.4,98Z" fill="#48430e" stroke="#48430e" stroke-width="0.35"/>
<path d="M566.1,100.8 570.5,101.1 574.8,101.3 579.2,101.6 583.6,101.9 587.9,102.1 592.3,102.4 596.7,102.7 601,102.9 605.4,103.2 609.8,103.4 614.2,103.7 618.5,104 622.9,104.2 627.3,104.5 631.6,104.7 628.9,104.9 624.6,104.6 620.2,104.3 615.8,104.1 611.4,103.8 607.1,103.6 602.7,103.3 598.3,103 594,102.8 589.6,102.5 585.2,102.2 580.9,102 576.5,101.7 572.1,101.4 567.7,101.2 563.4,100.9Z" fill="#47430e" stroke="#47430e" stroke-width="0.35"/>
<path class="es" d="M456.8,45.1 457.7,45.7 458.6,46.5 459.5,47.5 460.3,48.6 461.2,49.8 462.1,51 463,52.2 463.8,53.5 464.7,54.8 465.6,56.1 466.5,57.4 467.3,58.7 468.2,59.9 469.1,61.2 469.9,62.5 470.8,63.7 471.7,65 472.6,66.2 473.4,67.3 474.3,68.5 476.1,70.7 477.8,72.9 479.6,74.9 481.3,76.8 483.1,78.6 484.8,80.2 486.6,81.8 488.3,83.2 490,84.6 491.8,85.8 493.5,87 495.3,88 497,89 498.8,89.9 500.5,90.7 502.3,91.5 504,92.2 505.8,92.8 507.5,93.4 509.3,94 513.6,95.1 518,96.1 522.4,96.9 526.8,97.5 531.1,98 535.5,98.5 539.9,98.9 544.2,99.3 548.6,99.6 553,99.9 557.3,100.2 561.7,100.5 566.1,100.8 570.5,101.1 574.8,101.3 579.2,101.6 583.6,101.9 587.9,102.1 592.3,102.4 596.7,102.7 601,102.9 605.4,103.2 609.8,103.4 614.2,103.7 618.5,104 622.9,104.2 627.3,104.5 631.6,104.7"/>
<path d="M454.1,45.1 455,45.9 452.3,46 451.4,45.2Z" fill="#f6f11e" stroke="#f6f11e" stroke-width="0.35"/>
<path d="M455,45.9 455.9,46.9 453.2,47 452.3,46Z" fill="#f6f01f" stroke="#f6f01f" stroke-width="0.35"/>
<path d="M455.9,46.9 456.7,48.1 454,48.2 453.2,47Z" fill="#f5ee21" stroke="#f5ee21" stroke-width="0.35"/>
<path d="M456.7,48.1 457.6,49.3 454.9,49.5 454,48.2Z" fill="#f5ed22" stroke="#f5ed22" stroke-width="0.35"/>
<path d="M457.6,49.3 458.5,50.5 455.8,50.8 454.9,49.5Z" fill="#f5eb23" stroke="#f5eb23" stroke-width="0.35"/>
<path d="M458.5,50.5 459.4,51.9 456.6,52.1 455.8,50.8Z" fill="#f5e825" stroke="#f5e825" stroke-width="0.35"/>
<path d="M459.4,51.9 460.2,53.2 457.5,53.4 456.6,52.1Z" fill="#f5e725" stroke="#f5e725" stroke-width="0.35"/>
<path d="M460.2,53.2 461.1,54.5 458.4,54.8 457.5,53.4Z" fill="#f5e526" stroke="#f5e526" stroke-width="0.35"/>
<path d="M461.1,54.5 462,55.9 459.3,56.1 458.4,54.8Z" fill="#f5e227" stroke="#f5e227" stroke-width="0.35"/>
<path d="M462,55.9 462.9,57.2 460.1,57.5 459.3,56.1Z" fill="#f6e128" stroke="#f6e128" stroke-width="0.35"/>
<path d="M462.9,57.2 463.7,58.5 461,58.8 460.1,57.5Z" fill="#f6de29" stroke="#f6de29" stroke-width="0.35"/>
<path d="M463.7,58.5 464.6,59.8 461.9,60.2 461,58.8Z" fill="#f7dc2a" stroke="#f7dc2a" stroke-width="0.35"/>
<path d="M464.6,59.8 465.5,61.2 462.8,61.5 461.9,60.2Z" fill="#f8d92c" stroke="#f8d92c" stroke-width="0.35"/>
<path d="M465.5,61.2 466.4,62.4 463.6,62.8 462.8,61.5Z" fill="#f9d72c" stroke="#f9d72c" stroke-width="0.35"/>
<path d="M466.4,62.4 467.2,63.7 464.5,64 463.6,62.8Z" fill="#fad62d" stroke="#fad62d" stroke-width="0.35"/>
<path d="M467.2,63.7 468.1,64.9 465.4,65.3 464.5,64Z" fill="#fbd32f" stroke="#fbd32f" stroke-width="0.35"/>
<path d="M468.1,64.9 469,66.1 466.3,66.5 465.4,65.3Z" fill="#fcd12f" stroke="#fcd12f" stroke-width="0.35"/>
<path d="M469,66.1 469.9,67.3 467.1,67.7 466.3,66.5Z" fill="#fccf30" stroke="#fccf30" stroke-width="0.35"/>
<path d="M469.9,67.3 470.7,68.5 468,68.8 467.1,67.7Z" fill="#fdcc32" stroke="#fdcc32" stroke-width="0.35"/>
<path d="M470.7,68.5 471.6,69.6 468.9,69.9 468,68.8Z" fill="#fdcb33" stroke="#fdcb33" stroke-width="0.35"/>
<path d="M471.6,69.6 473.3,71.8 470.6,72.1 468.9,69.9Z" fill="#fec934" stroke="#fec934" stroke-width="0.35"/>
<path d="M473.3,71.8 475.1,73.8 472.4,74.2 470.6,72.1Z" fill="#fec636" stroke="#fec636" stroke-width="0.35"/>
<path d="M475.1,73.8 476.8,75.8 474.1,76.1 472.4,74.2Z" fill="#fec239" stroke="#fec239" stroke-width="0.35"/>
<path d="M476.8,75.8 478.6,77.6 475.9,77.9 474.1,76.1Z" fill="#febf3b" stroke="#febf3b" stroke-width="0.35"/>
<path d="M478.6,77.6 480.3,79.3 477.6,79.6 475.9,77.9Z" fill="#fdbd3d" stroke="#fdbd3d" stroke-width="0.35"/>
<path d="M480.3,79.3 482.1,80.9 479.4,81.2 477.6,79.6Z" fill="#fbbc3d" stroke="#fbbc3d" stroke-width="0.35"/>
<path d="M482.1,80.9 483.8,82.4 481.1,82.6 479.4,81.2Z" fill="#f8ba3d" stroke="#f8ba3d" stroke-width="0.35"/>
<path d="M483.8,82.4 485.6,83.7 482.9,84 481.1,82.6Z" fill="#f4ba3a" stroke="#f4ba3a" stroke-width="0.35"/>
<path d="M485.6,83.7 487.3,85 484.6,85.3 482.9,84Z" fill="#f2ba38" stroke="#f2ba38" stroke-width="0.35"/>
<path d="M487.3,85 489.1,86.2 486.4,86.4 484.6,85.3Z" fill="#f0ba36" stroke="#f0ba36" stroke-width="0.35"/>
<path d="M489.1,86.2 490.8,87.3 488.1,87.5 486.4,86.4Z" fill="#ecba32" stroke="#ecba32" stroke-width="0.35"/>
<path d="M490.8,87.3 492.6,88.3 489.9,88.5 488.1,87.5Z" fill="#e9bb30" stroke="#e9bb30" stroke-width="0.35"/>
<path d="M492.6,88.3 494.3,89.2 491.6,89.4 489.9,88.5Z" fill="#e7bb2e" stroke="#e7bb2e" stroke-width="0.35"/>
<path d="M494.3,89.2 496.1,90.1 497.8,90.9 495.1,91.1 493.4,90.3 491.6,89.4Z" fill="#e5bb2c" stroke="#e5bb2c" stroke-width="0.35"/>
<path d="M497.8,90.9 499.6,91.6 496.9,91.8 495.1,91.1Z" fill="#e2bc2b" stroke="#e2bc2b" stroke-width="0.35"/>
<path d="M499.6,91.6 501.3,92.3 498.6,92.5 496.9,91.8Z" fill="#e0bc2a" stroke="#e0bc2a" stroke-width="0.35"/>
<path d="M501.3,92.3 503.1,92.9 504.8,93.5 502.1,93.7 500.3,93.1 498.6,92.5Z" fill="#ddbd29" stroke="#ddbd29" stroke-width="0.35"/>
<path d="M504.8,93.5 506.6,94 503.8,94.2 502.1,93.7Z" fill="#ccb025" stroke="#ccb025" stroke-width="0.35"/>
<path d="M506.6,94 510.9,95.1 508.2,95.3 503.8,94.2Z" fill="#b09820" stroke="#b09820" stroke-width="0.35"/>
<path d="M510.9,95.1 515.3,96.1 512.6,96.3 508.2,95.3Z" fill="#91801b" stroke="#91801b" stroke-width="0.35"/>
<path d="M515.3,96.1 519.7,96.8 517,97 512.6,96.3Z" fill="#817318" stroke="#817318" stroke-width="0.35"/>
<path d="M519.7,96.8 524,97.5 521.3,97.7 517,97Z" fill="#746715" stroke="#746715" stroke-width="0.35"/>
<path d="M524,97.5 528.4,98 525.7,98.3 521.3,97.7Z" fill="#645b12" stroke="#645b12" stroke-width="0.35"/>
<path d="M528.4,98 532.8,98.5 537.2,98.9 534.4,99.2 530.1,98.7 525.7,98.3Z" fill="#574f10" stroke="#574f10" stroke-width="0.35"/>
<path d="M537.2,98.9 541.5,99.3 545.9,99.7 550.3,100 554.6,100.3 559,100.6 563.4,100.9 567.7,101.2 572.1,101.4 576.5,101.7 580.9,102 585.2,102.2 589.6,102.5 594,102.8 598.3,103 602.7,103.3 607.1,103.6 611.4,103.8 615.8,104.1 620.2,104.3 624.6,104.6 628.9,104.9 626.2,105.1 621.8,104.8 617.5,104.6 613.1,104.3 608.7,104.1 604.4,103.8 600,103.5 595.6,103.3 591.2,103 586.9,102.8 582.5,102.5 578.1,102.2 573.8,102 569.4,101.7 565,101.4 560.7,101.1 556.3,100.8 551.9,100.5 547.5,100.2 543.2,99.9 538.8,99.6 534.4,99.2Z" fill="#48430e" stroke="#48430e" stroke-width="0.35"/>
<path class="es" d="M454.1,45.1 455,45.9 455.9,46.9 456.7,48.1 457.6,49.3 458.5,50.5 459.4,51.9 460.2,53.2 461.1,54.5 462,55.9 462.9,57.2 463.7,58.5 464.6,59.8 465.5,61.2 466.4,62.4 467.2,63.7 468.1,64.9 469,66.1 469.9,67.3 470.7,68.5 471.6,69.6 473.3,71.8 475.1,73.8 476.8,75.8 478.6,77.6 480.3,79.3 482.1,80.9 483.8,82.4 485.6,83.7 487.3,85 489.1,86.2 490.8,87.3 492.6,88.3 494.3,89.2 496.1,90.1 497.8,90.9 499.6,91.6 501.3,92.3 503.1,92.9 504.8,93.5 506.6,94 510.9,95.1 515.3,96.1 519.7,96.8 524,97.5 528.4,98 532.8,98.5 537.2,98.9 541.5,99.3 545.9,99.7 550.3,100 554.6,100.3 559,100.6 563.4,100.9 567.7,101.2 572.1,101.4 576.5,101.7 580.9,102 585.2,102.2 589.6,102.5 594,102.8 598.3,103 602.7,103.3 607.1,103.6 611.4,103.8 615.8,104.1 620.2,104.3 624.6,104.6 628.9,104.9"/>
<path d="M451.4,45.2 452.3,46 449.6,46.1 448.7,45.3Z" fill="#f7f31d" stroke="#f7f31d" stroke-width="0.35"/>
<path d="M452.3,46 453.2,47 450.4,47.1 449.6,46.1Z" fill="#f6f11e" stroke="#f6f11e" stroke-width="0.35"/>
<path d="M453.2,47 454,48.2 451.3,48.3 450.4,47.1Z" fill="#f6f01f" stroke="#f6f01f" stroke-width="0.35"/>
<path d="M454,48.2 454.9,49.5 452.2,49.6 451.3,48.3Z" fill="#f5ed22" stroke="#f5ed22" stroke-width="0.35"/>
<path d="M454.9,49.5 455.8,50.8 453.1,50.9 452.2,49.6Z" fill="#f5eb23" stroke="#f5eb23" stroke-width="0.35"/>
<path d="M455.8,50.8 456.6,52.1 453.9,52.2 453.1,50.9Z" fill="#f5ea24" stroke="#f5ea24" stroke-width="0.35"/>
<path d="M456.6,52.1 457.5,53.4 454.8,53.5 453.9,52.2Z" fill="#f5e725" stroke="#f5e725" stroke-width="0.35"/>
<path d="M457.5,53.4 458.4,54.8 455.7,54.9 454.8,53.5Z" fill="#f5e526" stroke="#f5e526" stroke-width="0.35"/>
<path d="M458.4,54.8 459.3,56.1 456.6,56.3 455.7,54.9Z" fill="#f5e227" stroke="#f5e227" stroke-width="0.35"/>
<path d="M459.3,56.1 460.1,57.5 457.4,57.6 456.6,56.3Z" fill="#f6e128" stroke="#f6e128" stroke-width="0.35"/>
<path d="M460.1,57.5 461,58.8 458.3,59 457.4,57.6Z" fill="#f6de29" stroke="#f6de29" stroke-width="0.35"/>
<path d="M461,58.8 461.9,60.2 459.2,60.3 458.3,59Z" fill="#f7dc2a" stroke="#f7dc2a" stroke-width="0.35"/>
<path d="M461.9,60.2 462.8,61.5 460,61.6 459.2,60.3Z" fill="#f8da2b" stroke="#f8da2b" stroke-width="0.35"/>
<path d="M462.8,61.5 463.6,62.8 460.9,62.9 460,61.6Z" fill="#f9d72c" stroke="#f9d72c" stroke-width="0.35"/>
<path d="M463.6,62.8 464.5,64 461.8,64.2 460.9,62.9Z" fill="#fad62d" stroke="#fad62d" stroke-width="0.35"/>
<path d="M464.5,64 465.4,65.3 462.7,65.4 461.8,64.2Z" fill="#fbd32f" stroke="#fbd32f" stroke-width="0.35"/>
<path d="M465.4,65.3 466.3,66.5 463.5,66.6 462.7,65.4Z" fill="#fcd12f" stroke="#fcd12f" stroke-width="0.35"/>
<path d="M466.3,66.5 467.1,67.7 464.4,67.8 463.5,66.6Z" fill="#fccf30" stroke="#fccf30" stroke-width="0.35"/>
<path d="M467.1,67.7 468,68.8 465.3,69 464.4,67.8Z" fill="#fdce31" stroke="#fdce31" stroke-width="0.35"/>
<path d="M468,68.8 468.9,69.9 466.2,70.1 465.3,69Z" fill="#fdcb33" stroke="#fdcb33" stroke-width="0.35"/>
<path d="M468.9,69.9 470.6,72.1 467.9,72.3 466.2,70.1Z" fill="#fec934" stroke="#fec934" stroke-width="0.35"/>
<path d="M470.6,72.1 472.4,74.2 469.7,74.3 467.9,72.3Z" fill="#fec636" stroke="#fec636" stroke-width="0.35"/>
<path d="M472.4,74.2 474.1,76.1 471.4,76.3 469.7,74.3Z" fill="#fec338" stroke="#fec338" stroke-width="0.35"/>
<path d="M474.1,76.1 475.9,77.9 473.2,78.1 471.4,76.3Z" fill="#fec13a" stroke="#fec13a" stroke-width="0.35"/>
<path d="M475.9,77.9 477.6,79.6 474.9,79.8 473.2,78.1Z" fill="#febe3c" stroke="#febe3c" stroke-width="0.35"/>
<path d="M477.6,79.6 479.4,81.2 476.7,81.4 474.9,79.8Z" fill="#fbbc3d" stroke="#fbbc3d" stroke-width="0.35"/>
<path d="M479.4,81.2 481.1,82.6 478.4,82.8 476.7,81.4Z" fill="#f8ba3d" stroke="#f8ba3d" stroke-width="0.35"/>
<path d="M481.1,82.6 482.9,84 480.2,84.2 478.4,82.8Z" fill="#f6ba3c" stroke="#f6ba3c" stroke-width="0.35"/>
<path d="M482.9,84 484.6,85.3 481.9,85.5 480.2,84.2Z" fill="#f2ba38" stroke="#f2ba38" stroke-width="0.35"/>
<path d="M484.6,85.3 486.4,86.4 483.6,86.7 481.9,85.5Z" fill="#f0ba36" stroke="#f0ba36" stroke-width="0.35"/>
<path d="M486.4,86.4 488.1,87.5 485.4,87.7 483.6,86.7Z" fill="#eeba34" stroke="#eeba34" stroke-width="0.35"/>
<path d="M488.1,87.5 489.9,88.5 487.1,88.7 485.4,87.7Z" fill="#ecba32" stroke="#ecba32" stroke-width="0.35"/>
<path d="M489.9,88.5 491.6,89.4 488.9,89.7 487.1,88.7Z" fill="#e9bb30" stroke="#e9bb30" stroke-width="0.35"/>
<path d="M491.6,89.4 493.4,90.3 490.6,90.5 488.9,89.7Z" fill="#e7bb2e" stroke="#e7bb2e" stroke-width="0.35"/>
<path d="M493.4,90.3 495.1,91.1 492.4,91.3 490.6,90.5Z" fill="#e5bb2c" stroke="#e5bb2c" stroke-width="0.35"/>
<path d="M495.1,91.1 496.9,91.8 494.1,92.1 492.4,91.3Z" fill="#e2bc2b" stroke="#e2bc2b" stroke-width="0.35"/>
<path d="M496.9,91.8 498.6,92.5 500.3,93.1 497.6,93.3 495.9,92.7 494.1,92.1Z" fill="#e0bc2a" stroke="#e0bc2a" stroke-width="0.35"/>
<path d="M500.3,93.1 502.1,93.7 503.8,94.2 501.1,94.4 499.4,93.9 497.6,93.3Z" fill="#ddbd29" stroke="#ddbd29" stroke-width="0.35"/>
<path d="M503.8,94.2 508.2,95.3 505.5,95.6 501.1,94.4Z" fill="#bea422" stroke="#bea422" stroke-width="0.35"/>
<path d="M508.2,95.3 512.6,96.3 509.9,96.5 505.5,95.6Z" fill="#9f8c1d" stroke="#9f8c1d" stroke-width="0.35"/>
<path d="M512.6,96.3 517,97 514.2,97.3 509.9,96.5Z" fill="#8f801b" stroke="#8f801b" stroke-width="0.35"/>
<path d="M517,97 521.3,97.7 518.6,98 514.2,97.3Z" fill="#817318" stroke="#817318" stroke-width="0.35"/>
<path d="M521.3,97.7 525.7,98.3 523,98.5 518.6,98Z" fill="#726815" stroke="#726815" stroke-width="0.35"/>
<path d="M525.7,98.3 530.1,98.7 527.3,99 523,98.5Z" fill="#645b12" stroke="#645b12" stroke-width="0.35"/>
<path d="M530.1,98.7 534.4,99.2 538.8,99.6 536.1,99.8 531.7,99.4 527.3,99Z" fill="#574f10" stroke="#574f10" stroke-width="0.35"/>
<path d="M538.8,99.6 543.2,99.9 540.5,100.2 536.1,99.8Z" fill="#564f10" stroke="#564f10" stroke-width="0.35"/>
<path d="M543.2,99.9 547.5,100.2 551.9,100.5 556.3,100.8 560.7,101.1 565,101.4 569.4,101.7 573.8,102 578.1,102.2 582.5,102.5 586.9,102.8 591.2,103 595.6,103.3 600,103.5 604.4,103.8 608.7,104.1 613.1,104.3 617.5,104.6 621.8,104.8 626.2,105.1 623.5,105.4 619.1,105.1 614.7,104.9 610.4,104.6 606,104.3 601.6,104.1 597.3,103.8 592.9,103.5 588.5,103.3 584.2,103 579.8,102.8 575.4,102.5 571,102.2 566.7,102 562.3,101.7 557.9,101.4 553.6,101.1 549.2,100.8 544.8,100.5 540.5,100.2Z" fill="#48430e" stroke="#48430e" stroke-width="0.35"/>
<path class="es" d="M451.4,45.2 452.3,46 453.2,47 454,48.2 454.9,49.5 455.8,50.8 456.6,52.1 457.5,53.4 458.4,54.8 459.3,56.1 460.1,57.5 461,58.8 461.9,60.2 462.8,61.5 463.6,62.8 464.5,64 465.4,65.3 466.3,66.5 467.1,67.7 468,68.8 468.9,69.9 470.6,72.1 472.4,74.2 474.1,76.1 475.9,77.9 477.6,79.6 479.4,81.2 481.1,82.6 482.9,84 484.6,85.3 486.4,86.4 488.1,87.5 489.9,88.5 491.6,89.4 493.4,90.3 495.1,91.1 496.9,91.8 498.6,92.5 500.3,93.1 502.1,93.7 503.8,94.2 508.2,95.3 512.6,96.3 517,97 521.3,97.7 525.7,98.3 530.1,98.7 534.4,99.2 538.8,99.6 543.2,99.9 547.5,100.2 551.9,100.5 556.3,100.8 560.7,101.1 565,101.4 569.4,101.7 573.8,102 578.1,102.2 582.5,102.5 586.9,102.8 591.2,103 595.6,103.3 600,103.5 604.4,103.8 608.7,104.1 613.1,104.3 617.5,104.6 621.8,104.8 626.2,105.1"/>
<path d="M448.7,45.3 449.6,46.1 446.8,46.1 446,45.4Z" fill="#f7f31d" stroke="#f7f31d" stroke-width="0.35"/>
<path d="M449.6,46.1 450.4,47.1 447.7,47.2 446.8,46.1Z" fill="#f6f11e" stroke="#f6f11e" stroke-width="0.35"/>
<path d="M450.4,47.1 451.3,48.3 448.6,48.4 447.7,47.2Z" fill="#f6f01f" stroke="#f6f01f" stroke-width="0.35"/>
<path d="M451.3,48.3 452.2,49.6 449.5,49.6 448.6,48.4Z" fill="#f5ee21" stroke="#f5ee21" stroke-width="0.35"/>
<path d="M452.2,49.6 453.1,50.9 450.3,50.9 449.5,49.6Z" fill="#f5ed22" stroke="#f5ed22" stroke-width="0.35"/>
<path d="M453.1,50.9 453.9,52.2 451.2,52.3 450.3,50.9Z" fill="#f5ea24" stroke="#f5ea24" stroke-width="0.35"/>
<path d="M453.9,52.2 454.8,53.5 452.1,53.6 451.2,52.3Z" fill="#f5e825" stroke="#f5e825" stroke-width="0.35"/>
<path d="M454.8,53.5 455.7,54.9 453,55 452.1,53.6Z" fill="#f5e526" stroke="#f5e526" stroke-width="0.35"/>
<path d="M455.7,54.9 456.6,56.3 453.8,56.4 453,55Z" fill="#f5e427" stroke="#f5e427" stroke-width="0.35"/>
<path d="M456.6,56.3 457.4,57.6 454.7,57.7 453.8,56.4Z" fill="#f6e128" stroke="#f6e128" stroke-width="0.35"/>
<path d="M457.4,57.6 458.3,59 455.6,59.1 454.7,57.7Z" fill="#f6df29" stroke="#f6df29" stroke-width="0.35"/>
<path d="M458.3,59 459.2,60.3 456.5,60.4 455.6,59.1Z" fill="#f7dc2a" stroke="#f7dc2a" stroke-width="0.35"/>
<path d="M459.2,60.3 460,61.6 457.3,61.7 456.5,60.4Z" fill="#f8da2b" stroke="#f8da2b" stroke-width="0.35"/>
<path d="M460,61.6 460.9,62.9 458.2,63 457.3,61.7Z" fill="#f8d92c" stroke="#f8d92c" stroke-width="0.35"/>
<path d="M460.9,62.9 461.8,64.2 459.1,64.3 458.2,63Z" fill="#fad62d" stroke="#fad62d" stroke-width="0.35"/>
<path d="M461.8,64.2 462.7,65.4 460,65.5 459.1,64.3Z" fill="#fad42e" stroke="#fad42e" stroke-width="0.35"/>
<path d="M462.7,65.4 463.5,66.6 460.8,66.8 460,65.5Z" fill="#fcd12f" stroke="#fcd12f" stroke-width="0.35"/>
<path d="M463.5,66.6 464.4,67.8 461.7,68 460.8,66.8Z" fill="#fccf30" stroke="#fccf30" stroke-width="0.35"/>
<path d="M464.4,67.8 465.3,69 462.6,69.1 461.7,68Z" fill="#fdce31" stroke="#fdce31" stroke-width="0.35"/>
<path d="M465.3,69 466.2,70.1 463.4,70.3 462.6,69.1Z" fill="#fdcc32" stroke="#fdcc32" stroke-width="0.35"/>
<path d="M466.2,70.1 467.9,72.3 465.2,72.5 463.4,70.3Z" fill="#fec934" stroke="#fec934" stroke-width="0.35"/>
<path d="M467.9,72.3 469.7,74.3 466.9,74.5 465.2,72.5Z" fill="#fec636" stroke="#fec636" stroke-width="0.35"/>
<path d="M469.7,74.3 471.4,76.3 468.7,76.5 466.9,74.5Z" fill="#fec338" stroke="#fec338" stroke-width="0.35"/>
<path d="M471.4,76.3 473.2,78.1 470.4,78.3 468.7,76.5Z" fill="#fec13a" stroke="#fec13a" stroke-width="0.35"/>
<path d="M473.2,78.1 474.9,79.8 472.2,80 470.4,78.3Z" fill="#febe3c" stroke="#febe3c" stroke-width="0.35"/>
<path d="M474.9,79.8 476.7,81.4 473.9,81.6 472.2,80Z" fill="#fbbc3d" stroke="#fbbc3d" stroke-width="0.35"/>
<path d="M476.7,81.4 478.4,82.8 475.7,83.1 473.9,81.6Z" fill="#f8ba3d" stroke="#f8ba3d" stroke-width="0.35"/>
<path d="M478.4,82.8 480.2,84.2 477.4,84.4 475.7,83.1Z" fill="#f6ba3c" stroke="#f6ba3c" stroke-width="0.35"/>
<path d="M480.2,84.2 481.9,85.5 479.2,85.7 477.4,84.4Z" fill="#f4ba3a" stroke="#f4ba3a" stroke-width="0.35"/>
<path d="M481.9,85.5 483.6,86.7 480.9,86.9 479.2,85.7Z" fill="#f0ba36" stroke="#f0ba36" stroke-width="0.35"/>
<path d="M483.6,86.7 485.4,87.7 482.7,88 480.9,86.9Z" fill="#eeba34" stroke="#eeba34" stroke-width="0.35"/>
<path d="M485.4,87.7 487.1,88.7 484.4,89 482.7,88Z" fill="#ecba32" stroke="#ecba32" stroke-width="0.35"/>
<path d="M487.1,88.7 488.9,89.7 486.2,89.9 484.4,89Z" fill="#e9bb30" stroke="#e9bb30" stroke-width="0.35"/>
<path d="M488.9,89.7 490.6,90.5 487.9,90.8 486.2,89.9Z" fill="#e7bb2e" stroke="#e7bb2e" stroke-width="0.35"/>
<path d="M490.6,90.5 492.4,91.3 489.7,91.6 487.9,90.8Z" fill="#e5bb2c" stroke="#e5bb2c" stroke-width="0.35"/>
<path d="M492.4,91.3 494.1,92.1 495.9,92.7 493.2,93 491.4,92.3 489.7,91.6Z" fill="#e2bc2b" stroke="#e2bc2b" stroke-width="0.35"/>
<path d="M495.9,92.7 497.6,93.3 494.9,93.6 493.2,93Z" fill="#e0bc2a" stroke="#e0bc2a" stroke-width="0.35"/>
<path d="M497.6,93.3 499.4,93.9 501.1,94.4 498.4,94.7 496.7,94.2 494.9,93.6Z" fill="#ddbd29" stroke="#ddbd29" stroke-width="0.35"/>
<path d="M501.1,94.4 505.5,95.6 502.8,95.9 498.4,94.7Z" fill="#bea422" stroke="#bea422" stroke-width="0.35"/>
<path d="M505.5,95.6 509.9,96.5 507.1,96.8 502.8,95.9Z" fill="#9f8c1d" stroke="#9f8c1d" stroke-width="0.35"/>
<path d="M509.9,96.5 514.2,97.3 511.5,97.6 507.1,96.8Z" fill="#91801b" stroke="#91801b" stroke-width="0.35"/>
<path d="M514.2,97.3 518.6,98 515.9,98.2 511.5,97.6Z" fill="#817318" stroke="#817318" stroke-width="0.35"/>
<path d="M518.6,98 523,98.5 520.3,98.8 515.9,98.2Z" fill="#746715" stroke="#746715" stroke-width="0.35"/>
<path d="M523,98.5 527.3,99 524.6,99.3 520.3,98.8Z" fill="#645b12" stroke="#645b12" stroke-width="0.35"/>
<path d="M527.3,99 531.7,99.4 536.1,99.8 540.5,100.2 537.7,100.5 533.4,100.1 529,99.7 524.6,99.3Z" fill="#574f10" stroke="#574f10" stroke-width="0.35"/>
<path d="M540.5,100.2 544.8,100.5 549.2,100.8 546.5,101.1 542.1,100.8 537.7,100.5Z" fill="#49420d" stroke="#49420d" stroke-width="0.35"/>
<path d="M549.2,100.8 553.6,101.1 557.9,101.4 562.3,101.7 566.7,102 571,102.2 575.4,102.5 579.8,102.8 584.2,103 588.5,103.3 592.9,103.5 597.3,103.8 601.6,104.1 606,104.3 610.4,104.6 614.7,104.9 619.1,105.1 623.5,105.4 620.8,105.6 616.4,105.4 612,105.1 607.7,104.9 603.3,104.6 598.9,104.3 594.5,104.1 590.2,103.8 585.8,103.6 581.4,103.3 577.1,103 572.7,102.8 568.3,102.5 564,102.2 559.6,102 555.2,101.7 550.8,101.4 546.5,101.1Z" fill="#48430e" stroke="#48430e" stroke-width="0.35"/>
<path class="es" d="M448.7,45.3 449.6,46.1 450.4,47.1 451.3,48.3 452.2,49.6 453.1,50.9 453.9,52.2 454.8,53.5 455.7,54.9 456.6,56.3 457.4,57.6 458.3,59 459.2,60.3 460,61.6 460.9,62.9 461.8,64.2 462.7,65.4 463.5,66.6 464.4,67.8 465.3,69 466.2,70.1 467.9,72.3 469.7,74.3 471.4,76.3 473.2,78.1 474.9,79.8 476.7,81.4 478.4,82.8 480.2,84.2 481.9,85.5 483.6,86.7 485.4,87.7 487.1,88.7 488.9,89.7 490.6,90.5 492.4,91.3 494.1,92.1 495.9,92.7 497.6,93.3 499.4,93.9 501.1,94.4 505.5,95.6 509.9,96.5 514.2,97.3 518.6,98 523,98.5 527.3,99 531.7,99.4 536.1,99.8 540.5,100.2 544.8,100.5 549.2,100.8 553.6,101.1 557.9,101.4 562.3,101.7 566.7,102 571,102.2 575.4,102.5 579.8,102.8 584.2,103 588.5,103.3 592.9,103.5 597.3,103.8 601.6,104.1 606,104.3 610.4,104.6 614.7,104.9 619.1,105.1 623.5,105.4"/>
<path d="M446,45.4 446.8,46.1 444.1,46.2 443.3,45.4Z" fill="#f7f41c" stroke="#f7f41c" stroke-width="0.35"/>
<path d="M446.8,46.1 447.7,47.2 445,47.3 444.1,46.2Z" fill="#f7f31d" stroke="#f7f31d" stroke-width="0.35"/>
<path d="M447.7,47.2 448.6,48.4 445.9,48.5 445,47.3Z" fill="#f6f11e" stroke="#f6f11e" stroke-width="0.35"/>
<path d="M448.6,48.4 449.5,49.6 446.7,49.7 445.9,48.5Z" fill="#f5ee21" stroke="#f5ee21" stroke-width="0.35"/>
<path d="M449.5,49.6 450.3,50.9 447.6,51 446.7,49.7Z" fill="#f5ed22" stroke="#f5ed22" stroke-width="0.35"/>
<path d="M450.3,50.9 451.2,52.3 448.5,52.4 447.6,51Z" fill="#f5eb23" stroke="#f5eb23" stroke-width="0.35"/>
<path d="M451.2,52.3 452.1,53.6 449.4,53.7 448.5,52.4Z" fill="#f5e825" stroke="#f5e825" stroke-width="0.35"/>
<path d="M452.1,53.6 453,55 450.2,55.1 449.4,53.7Z" fill="#f5e725" stroke="#f5e725" stroke-width="0.35"/>
<path d="M453,55 453.8,56.4 451.1,56.5 450.2,55.1Z" fill="#f5e427" stroke="#f5e427" stroke-width="0.35"/>
<path d="M453.8,56.4 454.7,57.7 452,57.8 451.1,56.5Z" fill="#f5e227" stroke="#f5e227" stroke-width="0.35"/>
<path d="M454.7,57.7 455.6,59.1 452.9,59.2 452,57.8Z" fill="#f6df29" stroke="#f6df29" stroke-width="0.35"/>
<path d="M455.6,59.1 456.5,60.4 453.7,60.5 452.9,59.2Z" fill="#f6de29" stroke="#f6de29" stroke-width="0.35"/>
<path d="M456.5,60.4 457.3,61.7 454.6,61.9 453.7,60.5Z" fill="#f8da2b" stroke="#f8da2b" stroke-width="0.35"/>
<path d="M457.3,61.7 458.2,63 455.5,63.2 454.6,61.9Z" fill="#f8d92c" stroke="#f8d92c" stroke-width="0.35"/>
<path d="M458.2,63 459.1,64.3 456.4,64.4 455.5,63.2Z" fill="#f9d72c" stroke="#f9d72c" stroke-width="0.35"/>
<path d="M459.1,64.3 460,65.5 457.2,65.7 456.4,64.4Z" fill="#fad42e" stroke="#fad42e" stroke-width="0.35"/>
<path d="M460,65.5 460.8,66.8 458.1,66.9 457.2,65.7Z" fill="#fbd32f" stroke="#fbd32f" stroke-width="0.35"/>
<path d="M460.8,66.8 461.7,68 459,68.1 458.1,66.9Z" fill="#fccf30" stroke="#fccf30" stroke-width="0.35"/>
<path d="M461.7,68 462.6,69.1 459.9,69.3 459,68.1Z" fill="#fdce31" stroke="#fdce31" stroke-width="0.35"/>
<path d="M462.6,69.1 463.4,70.3 460.7,70.4 459.9,69.3Z" fill="#fdcc32" stroke="#fdcc32" stroke-width="0.35"/>
<path d="M463.4,70.3 465.2,72.5 462.5,72.6 460.7,70.4Z" fill="#fdcb33" stroke="#fdcb33" stroke-width="0.35"/>
<path d="M465.2,72.5 466.9,74.5 464.2,74.7 462.5,72.6Z" fill="#fec636" stroke="#fec636" stroke-width="0.35"/>
<path d="M466.9,74.5 468.7,76.5 466,76.6 464.2,74.7Z" fill="#fec338" stroke="#fec338" stroke-width="0.35"/>
<path d="M468.7,76.5 470.4,78.3 467.7,78.5 466,76.6Z" fill="#fec13a" stroke="#fec13a" stroke-width="0.35"/>
<path d="M470.4,78.3 472.2,80 469.5,80.2 467.7,78.5Z" fill="#febe3c" stroke="#febe3c" stroke-width="0.35"/>
<path d="M472.2,80 473.9,81.6 471.2,81.8 469.5,80.2Z" fill="#fbbc3d" stroke="#fbbc3d" stroke-width="0.35"/>
<path d="M473.9,81.6 475.7,83.1 473,83.3 471.2,81.8Z" fill="#fabb3d" stroke="#fabb3d" stroke-width="0.35"/>
<path d="M475.7,83.1 477.4,84.4 474.7,84.6 473,83.3Z" fill="#f6ba3c" stroke="#f6ba3c" stroke-width="0.35"/>
<path d="M477.4,84.4 479.2,85.7 476.5,85.9 474.7,84.6Z" fill="#f4ba3a" stroke="#f4ba3a" stroke-width="0.35"/>
<path d="M479.2,85.7 480.9,86.9 478.2,87.1 476.5,85.9Z" fill="#f0ba36" stroke="#f0ba36" stroke-width="0.35"/>
<path d="M480.9,86.9 482.7,88 480,88.2 478.2,87.1Z" fill="#eeba34" stroke="#eeba34" stroke-width="0.35"/>
<path d="M482.7,88 484.4,89 481.7,89.2 480,88.2Z" fill="#ecba32" stroke="#ecba32" stroke-width="0.35"/>
<path d="M484.4,89 486.2,89.9 483.5,90.2 481.7,89.2Z" fill="#e9bb30" stroke="#e9bb30" stroke-width="0.35"/>
<path d="M486.2,89.9 487.9,90.8 485.2,91 483.5,90.2Z" fill="#e7bb2e" stroke="#e7bb2e" stroke-width="0.35"/>
<path d="M487.9,90.8 489.7,91.6 491.4,92.3 488.7,92.6 487,91.8 485.2,91Z" fill="#e5bb2c" stroke="#e5bb2c" stroke-width="0.35"/>
<path d="M491.4,92.3 493.2,93 490.4,93.2 488.7,92.6Z" fill="#e2bc2b" stroke="#e2bc2b" stroke-width="0.35"/>
<path d="M493.2,93 494.9,93.6 496.7,94.2 493.9,94.4 492.2,93.9 490.4,93.2Z" fill="#e0bc2a" stroke="#e0bc2a" stroke-width="0.35"/>
<path d="M496.7,94.2 498.4,94.7 495.7,95 493.9,94.4Z" fill="#ddbd29" stroke="#ddbd29" stroke-width="0.35"/>
<path d="M498.4,94.7 502.8,95.9 500.1,96.1 495.7,95Z" fill="#c0a423" stroke="#c0a423" stroke-width="0.35"/>
<path d="M502.8,95.9 507.1,96.8 504.4,97.1 500.1,96.1Z" fill="#b09820" stroke="#b09820" stroke-width="0.35"/>
<path d="M507.1,96.8 511.5,97.6 508.8,97.9 504.4,97.1Z" fill="#91801b" stroke="#91801b" stroke-width="0.35"/>
<path d="M511.5,97.6 515.9,98.2 513.2,98.5 508.8,97.9Z" fill="#817318" stroke="#817318" stroke-width="0.35"/>
<path d="M515.9,98.2 520.3,98.8 517.5,99.1 513.2,98.5Z" fill="#746715" stroke="#746715" stroke-width="0.35"/>
<path d="M520.3,98.8 524.6,99.3 521.9,99.6 517.5,99.1Z" fill="#665b13" stroke="#665b13" stroke-width="0.35"/>
<path d="M524.6,99.3 529,99.7 526.3,100 521.9,99.6Z" fill="#645b12" stroke="#645b12" stroke-width="0.35"/>
<path d="M529,99.7 533.4,100.1 537.7,100.5 542.1,100.8 539.4,101.1 535,100.7 530.7,100.4 526.3,100Z" fill="#574f10" stroke="#574f10" stroke-width="0.35"/>
<path d="M542.1,100.8 546.5,101.1 550.8,101.4 555.2,101.7 559.6,102 564,102.2 568.3,102.5 572.7,102.8 577.1,103 581.4,103.3 585.8,103.6 590.2,103.8 594.5,104.1 598.9,104.3 603.3,104.6 607.7,104.9 612,105.1 616.4,105.4 620.8,105.6 618.1,105.9 613.7,105.7 609.3,105.4 604.9,105.2 600.6,104.9 596.2,104.6 591.8,104.4 587.5,104.1 583.1,103.8 578.7,103.6 574.4,103.3 570,103.1 565.6,102.8 561.2,102.5 556.9,102.2 552.5,102 548.1,101.7 543.8,101.4 539.4,101.1Z" fill="#49420d" stroke="#49420d" stroke-width="0.35"/>
<path class="es" d="M446,45.4 446.8,46.1 447.7,47.2 448.6,48.4 449.5,49.6 450.3,50.9 451.2,52.3 452.1,53.6 453,55 453.8,56.4 454.7,57.7 455.6,59.1 456.5,60.4 457.3,61.7 458.2,63 459.1,64.3 460,65.5 460.8,66.8 461.7,68 462.6,69.1 463.4,70.3 465.2,72.5 466.9,74.5 468.7,76.5 470.4,78.3 472.2,80 473.9,81.6 475.7,83.1 477.4,84.4 479.2,85.7 480.9,86.9 482.7,88 484.4,89 486.2,89.9 487.9,90.8 489.7,91.6 491.4,92.3 493.2,93 494.9,93.6 496.7,94.2 498.4,94.7 502.8,95.9 507.1,96.8 511.5,97.6 515.9,98.2 520.3,98.8 524.6,99.3 529,99.7 533.4,100.1 537.7,100.5 542.1,100.8 546.5,101.1 550.8,101.4 555.2,101.7 559.6,102 564,102.2 568.3,102.5 572.7,102.8 577.1,103 581.4,103.3 585.8,103.6 590.2,103.8 594.5,104.1 598.9,104.3 603.3,104.6 607.7,104.9 612,105.1 616.4,105.4 620.8,105.6"/>
<path d="M443.3,45.4 444.1,46.2 441.4,46.3 440.5,45.5Z" fill="#f7f41c" stroke="#f7f41c" stroke-width="0.35"/>
<path d="M444.1,46.2 445,47.3 442.3,47.4 441.4,46.3Z" fill="#f7f31d" stroke="#f7f31d" stroke-width="0.35"/>
<path d="M445,47.3 445.9,48.5 443.2,48.6 442.3,47.4Z" fill="#f6f11e" stroke="#f6f11e" stroke-width="0.35"/>
<path d="M445.9,48.5 446.7,49.7 444,49.8 443.2,48.6Z" fill="#f6f01f" stroke="#f6f01f" stroke-width="0.35"/>
<path d="M446.7,49.7 447.6,51 444.9,51.1 444,49.8Z" fill="#f5ed22" stroke="#f5ed22" stroke-width="0.35"/>
<path d="M447.6,51 448.5,52.4 445.8,52.5 444.9,51.1Z" fill="#f5eb23" stroke="#f5eb23" stroke-width="0.35"/>
<path d="M448.5,52.4 449.4,53.7 446.7,53.8 445.8,52.5Z" fill="#f5ea24" stroke="#f5ea24" stroke-width="0.35"/>
<path d="M449.4,53.7 450.2,55.1 447.5,55.2 446.7,53.8Z" fill="#f5e725" stroke="#f5e725" stroke-width="0.35"/>
<path d="M450.2,55.1 451.1,56.5 448.4,56.6 447.5,55.2Z" fill="#f5e526" stroke="#f5e526" stroke-width="0.35"/>
<path d="M451.1,56.5 452,57.8 449.3,57.9 448.4,56.6Z" fill="#f5e227" stroke="#f5e227" stroke-width="0.35"/>
<path d="M452,57.8 452.9,59.2 450.1,59.3 449.3,57.9Z" fill="#f6e128" stroke="#f6e128" stroke-width="0.35"/>
<path d="M452.9,59.2 453.7,60.5 451,60.6 450.1,59.3Z" fill="#f6de29" stroke="#f6de29" stroke-width="0.35"/>
<path d="M453.7,60.5 454.6,61.9 451.9,62 451,60.6Z" fill="#f7dc2a" stroke="#f7dc2a" stroke-width="0.35"/>
<path d="M454.6,61.9 455.5,63.2 452.8,63.3 451.9,62Z" fill="#f8d92c" stroke="#f8d92c" stroke-width="0.35"/>
<path d="M455.5,63.2 456.4,64.4 453.6,64.6 452.8,63.3Z" fill="#f9d72c" stroke="#f9d72c" stroke-width="0.35"/>
<path d="M456.4,64.4 457.2,65.7 454.5,65.8 453.6,64.6Z" fill="#fad62d" stroke="#fad62d" stroke-width="0.35"/>
<path d="M457.2,65.7 458.1,66.9 455.4,67 454.5,65.8Z" fill="#fbd32f" stroke="#fbd32f" stroke-width="0.35"/>
<path d="M458.1,66.9 459,68.1 456.3,68.2 455.4,67Z" fill="#fcd12f" stroke="#fcd12f" stroke-width="0.35"/>
<path d="M459,68.1 459.9,69.3 457.1,69.4 456.3,68.2Z" fill="#fccf30" stroke="#fccf30" stroke-width="0.35"/>
<path d="M459.9,69.3 460.7,70.4 458,70.6 457.1,69.4Z" fill="#fdcc32" stroke="#fdcc32" stroke-width="0.35"/>
<path d="M460.7,70.4 462.5,72.6 459.8,72.8 458,70.6Z" fill="#fdcb33" stroke="#fdcb33" stroke-width="0.35"/>
<path d="M462.5,72.6 464.2,74.7 461.5,74.9 459.8,72.8Z" fill="#fec835" stroke="#fec835" stroke-width="0.35"/>
<path d="M464.2,74.7 466,76.6 463.3,76.8 461.5,74.9Z" fill="#fec537" stroke="#fec537" stroke-width="0.35"/>
<path d="M466,76.6 467.7,78.5 465,78.7 463.3,76.8Z" fill="#fec13a" stroke="#fec13a" stroke-width="0.35"/>
<path d="M467.7,78.5 469.5,80.2 466.8,80.4 465,78.7Z" fill="#febf3b" stroke="#febf3b" stroke-width="0.35"/>
<path d="M469.5,80.2 471.2,81.8 468.5,82 466.8,80.4Z" fill="#fdbd3d" stroke="#fdbd3d" stroke-width="0.35"/>
<path d="M471.2,81.8 473,83.3 470.3,83.5 468.5,82Z" fill="#fabb3d" stroke="#fabb3d" stroke-width="0.35"/>
<path d="M473,83.3 474.7,84.6 472,84.9 470.3,83.5Z" fill="#f8ba3d" stroke="#f8ba3d" stroke-width="0.35"/>
<path d="M474.7,84.6 476.5,85.9 473.7,86.2 472,84.9Z" fill="#f4ba3a" stroke="#f4ba3a" stroke-width="0.35"/>
<path d="M476.5,85.9 478.2,87.1 475.5,87.3 473.7,86.2Z" fill="#f2ba38" stroke="#f2ba38" stroke-width="0.35"/>
<path d="M478.2,87.1 480,88.2 477.2,88.4 475.5,87.3Z" fill="#f0ba36" stroke="#f0ba36" stroke-width="0.35"/>
<path d="M480,88.2 481.7,89.2 479,89.5 477.2,88.4Z" fill="#ecba32" stroke="#ecba32" stroke-width="0.35"/>
<path d="M481.7,89.2 483.5,90.2 480.7,90.4 479,89.5Z" fill="#e9bb30" stroke="#e9bb30" stroke-width="0.35"/>
<path d="M483.5,90.2 485.2,91 487,91.8 484.2,92.1 482.5,91.3 480.7,90.4Z" fill="#e7bb2e" stroke="#e7bb2e" stroke-width="0.35"/>
<path d="M487,91.8 488.7,92.6 486,92.8 484.2,92.1Z" fill="#e5bb2c" stroke="#e5bb2c" stroke-width="0.35"/>
<path d="M488.7,92.6 490.4,93.2 487.7,93.5 486,92.8Z" fill="#e2bc2b" stroke="#e2bc2b" stroke-width="0.35"/>
<path d="M490.4,93.2 492.2,93.9 493.9,94.4 491.2,94.7 489.5,94.1 487.7,93.5Z" fill="#e0bc2a" stroke="#e0bc2a" stroke-width="0.35"/>
<path d="M493.9,94.4 495.7,95 493,95.2 491.2,94.7Z" fill="#ddbd29" stroke="#ddbd29" stroke-width="0.35"/>
<path d="M495.7,95 500.1,96.1 497.3,96.4 493,95.2Z" fill="#c0a423" stroke="#c0a423" stroke-width="0.35"/>
<path d="M500.1,96.1 504.4,97.1 501.7,97.4 497.3,96.4Z" fill="#b09820" stroke="#b09820" stroke-width="0.35"/>
<path d="M504.4,97.1 508.8,97.9 506.1,98.1 501.7,97.4Z" fill="#91801b" stroke="#91801b" stroke-width="0.35"/>
<path d="M508.8,97.9 513.2,98.5 510.5,98.8 506.1,98.1Z" fill="#837318" stroke="#837318" stroke-width="0.35"/>
<path d="M513.2,98.5 517.5,99.1 514.8,99.4 510.5,98.8Z" fill="#746715" stroke="#746715" stroke-width="0.35"/>
<path d="M517.5,99.1 521.9,99.6 519.2,99.9 514.8,99.4Z" fill="#665b13" stroke="#665b13" stroke-width="0.35"/>
<path d="M521.9,99.6 526.3,100 523.6,100.3 519.2,99.9Z" fill="#645b12" stroke="#645b12" stroke-width="0.35"/>
<path d="M526.3,100 530.7,100.4 535,100.7 539.4,101.1 543.8,101.4 541,101.7 536.7,101.4 532.3,101 527.9,100.7 523.6,100.3Z" fill="#574f10" stroke="#574f10" stroke-width="0.35"/>
<path d="M543.8,101.4 548.1,101.7 552.5,102 556.9,102.2 561.2,102.5 565.6,102.8 570,103.1 574.4,103.3 578.7,103.6 583.1,103.8 587.5,104.1 591.8,104.4 596.2,104.6 600.6,104.9 604.9,105.2 609.3,105.4 613.7,105.7 618.1,105.9 615.3,106.2 611,106 606.6,105.7 602.2,105.4 597.9,105.2 593.5,104.9 589.1,104.7 584.7,104.4 580.4,104.1 576,103.9 571.6,103.6 567.3,103.3 562.9,103.1 558.5,102.8 554.2,102.5 549.8,102.3 545.4,102 541,101.7Z" fill="#49420d" stroke="#49420d" stroke-width="0.35"/>
<path class="es" d="M443.3,45.4 444.1,46.2 445,47.3 445.9,48.5 446.7,49.7 447.6,51 448.5,52.4 449.4,53.7 450.2,55.1 451.1,56.5 452,57.8 452.9,59.2 453.7,60.5 454.6,61.9 455.5,63.2 456.4,64.4 457.2,65.7 458.1,66.9 459,68.1 459.9,69.3 460.7,70.4 462.5,72.6 464.2,74.7 466,76.6 467.7,78.5 469.5,80.2 471.2,81.8 473,83.3 474.7,84.6 476.5,85.9 478.2,87.1 480,88.2 481.7,89.2 483.5,90.2 485.2,91 487,91.8 488.7,92.6 490.4,93.2 492.2,93.9 493.9,94.4 495.7,95 500.1,96.1 504.4,97.1 508.8,97.9 513.2,98.5 517.5,99.1 521.9,99.6 526.3,100 530.7,100.4 535,100.7 539.4,101.1 543.8,101.4 548.1,101.7 552.5,102 556.9,102.2 561.2,102.5 565.6,102.8 570,103.1 574.4,103.3 578.7,103.6 583.1,103.8 587.5,104.1 591.8,104.4 596.2,104.6 600.6,104.9 604.9,105.2 609.3,105.4 613.7,105.7 618.1,105.9"/>
<path d="M440.5,45.5 441.4,46.3 442.3,47.4 439.6,47.5 438.7,46.4 437.8,45.6Z" fill="#f7f41c" stroke="#f7f41c" stroke-width="0.35"/>
<path d="M442.3,47.4 443.2,48.6 440.4,48.6 439.6,47.5Z" fill="#f6f11e" stroke="#f6f11e" stroke-width="0.35"/>
<path d="M443.2,48.6 444,49.8 441.3,49.9 440.4,48.6Z" fill="#f6f01f" stroke="#f6f01f" stroke-width="0.35"/>
<path d="M444,49.8 444.9,51.1 442.2,51.2 441.3,49.9Z" fill="#f5ee21" stroke="#f5ee21" stroke-width="0.35"/>
<path d="M444.9,51.1 445.8,52.5 443.1,52.5 442.2,51.2Z" fill="#f5eb23" stroke="#f5eb23" stroke-width="0.35"/>
<path d="M445.8,52.5 446.7,53.8 443.9,53.9 443.1,52.5Z" fill="#f5ea24" stroke="#f5ea24" stroke-width="0.35"/>
<path d="M446.7,53.8 447.5,55.2 444.8,55.3 443.9,53.9Z" fill="#f5e725" stroke="#f5e725" stroke-width="0.35"/>
<path d="M447.5,55.2 448.4,56.6 445.7,56.7 444.8,55.3Z" fill="#f5e526" stroke="#f5e526" stroke-width="0.35"/>
<path d="M448.4,56.6 449.3,57.9 446.6,58 445.7,56.7Z" fill="#f5e427" stroke="#f5e427" stroke-width="0.35"/>
<path d="M449.3,57.9 450.1,59.3 447.4,59.4 446.6,58Z" fill="#f6e128" stroke="#f6e128" stroke-width="0.35"/>
<path d="M450.1,59.3 451,60.6 448.3,60.7 447.4,59.4Z" fill="#f6df29" stroke="#f6df29" stroke-width="0.35"/>
<path d="M451,60.6 451.9,62 449.2,62.1 448.3,60.7Z" fill="#f7dc2a" stroke="#f7dc2a" stroke-width="0.35"/>
<path d="M451.9,62 452.8,63.3 450.1,63.4 449.2,62.1Z" fill="#f8da2b" stroke="#f8da2b" stroke-width="0.35"/>
<path d="M452.8,63.3 453.6,64.6 450.9,64.7 450.1,63.4Z" fill="#f9d72c" stroke="#f9d72c" stroke-width="0.35"/>
<path d="M453.6,64.6 454.5,65.8 451.8,65.9 450.9,64.7Z" fill="#fad62d" stroke="#fad62d" stroke-width="0.35"/>
<path d="M454.5,65.8 455.4,67 452.7,67.2 451.8,65.9Z" fill="#fad42e" stroke="#fad42e" stroke-width="0.35"/>
<path d="M455.4,67 456.3,68.2 453.6,68.4 452.7,67.2Z" fill="#fcd12f" stroke="#fcd12f" stroke-width="0.35"/>
<path d="M456.3,68.2 457.1,69.4 454.4,69.6 453.6,68.4Z" fill="#fccf30" stroke="#fccf30" stroke-width="0.35"/>
<path d="M457.1,69.4 458,70.6 455.3,70.7 454.4,69.6Z" fill="#fdce31" stroke="#fdce31" stroke-width="0.35"/>
<path d="M458,70.6 459.8,72.8 457,72.9 455.3,70.7Z" fill="#fdcb33" stroke="#fdcb33" stroke-width="0.35"/>
<path d="M459.8,72.8 461.5,74.9 458.8,75 457,72.9Z" fill="#fec835" stroke="#fec835" stroke-width="0.35"/>
<path d="M461.5,74.9 463.3,76.8 460.5,77 458.8,75Z" fill="#fec537" stroke="#fec537" stroke-width="0.35"/>
<path d="M463.3,76.8 465,78.7 462.3,78.8 460.5,77Z" fill="#fec239" stroke="#fec239" stroke-width="0.35"/>
<path d="M465,78.7 466.8,80.4 464,80.6 462.3,78.8Z" fill="#febf3b" stroke="#febf3b" stroke-width="0.35"/>
<path d="M466.8,80.4 468.5,82 465.8,82.2 464,80.6Z" fill="#fdbd3d" stroke="#fdbd3d" stroke-width="0.35"/>
<path d="M468.5,82 470.3,83.5 467.5,83.7 465.8,82.2Z" fill="#fabb3d" stroke="#fabb3d" stroke-width="0.35"/>
<path d="M470.3,83.5 472,84.9 469.3,85.1 467.5,83.7Z" fill="#f8ba3d" stroke="#f8ba3d" stroke-width="0.35"/>
<path d="M472,84.9 473.7,86.2 471,86.4 469.3,85.1Z" fill="#f4ba3a" stroke="#f4ba3a" stroke-width="0.35"/>
<path d="M473.7,86.2 475.5,87.3 472.8,87.6 471,86.4Z" fill="#f2ba38" stroke="#f2ba38" stroke-width="0.35"/>
<path d="M475.5,87.3 477.2,88.4 474.5,88.7 472.8,87.6Z" fill="#f0ba36" stroke="#f0ba36" stroke-width="0.35"/>
<path d="M477.2,88.4 479,89.5 476.3,89.7 474.5,88.7Z" fill="#eeba34" stroke="#eeba34" stroke-width="0.35"/>
<path d="M479,89.5 480.7,90.4 478,90.7 476.3,89.7Z" fill="#ecba32" stroke="#ecba32" stroke-width="0.35"/>
<path d="M480.7,90.4 482.5,91.3 479.8,91.5 478,90.7Z" fill="#e9bb30" stroke="#e9bb30" stroke-width="0.35"/>
<path d="M482.5,91.3 484.2,92.1 481.5,92.3 479.8,91.5Z" fill="#e7bb2e" stroke="#e7bb2e" stroke-width="0.35"/>
<path d="M484.2,92.1 486,92.8 483.3,93.1 481.5,92.3Z" fill="#e5bb2c" stroke="#e5bb2c" stroke-width="0.35"/>
<path d="M486,92.8 487.7,93.5 489.5,94.1 486.8,94.4 485,93.8 483.3,93.1Z" fill="#e2bc2b" stroke="#e2bc2b" stroke-width="0.35"/>
<path d="M489.5,94.1 491.2,94.7 493,95.2 490.3,95.5 488.5,95 486.8,94.4Z" fill="#e0bc2a" stroke="#e0bc2a" stroke-width="0.35"/>
<path d="M493,95.2 497.3,96.4 494.6,96.7 490.3,95.5Z" fill="#ceb026" stroke="#ceb026" stroke-width="0.35"/>
<path d="M497.3,96.4 501.7,97.4 499,97.6 494.6,96.7Z" fill="#b09820" stroke="#b09820" stroke-width="0.35"/>
<path d="M501.7,97.4 506.1,98.1 503.4,98.4 499,97.6Z" fill="#91801b" stroke="#91801b" stroke-width="0.35"/>
<path d="M506.1,98.1 510.5,98.8 507.7,99.1 503.4,98.4Z" fill="#837318" stroke="#837318" stroke-width="0.35"/>
<path d="M510.5,98.8 514.8,99.4 512.1,99.7 507.7,99.1Z" fill="#746715" stroke="#746715" stroke-width="0.35"/>
<path d="M514.8,99.4 519.2,99.9 523.6,100.3 520.8,100.6 516.5,100.2 512.1,99.7Z" fill="#665b13" stroke="#665b13" stroke-width="0.35"/>
<path d="M523.6,100.3 527.9,100.7 532.3,101 536.7,101.4 541,101.7 545.4,102 542.7,102.3 538.3,102 534,101.7 529.6,101.3 525.2,101 520.8,100.6Z" fill="#574f10" stroke="#574f10" stroke-width="0.35"/>
<path d="M545.4,102 549.8,102.3 554.2,102.5 558.5,102.8 562.9,103.1 567.3,103.3 571.6,103.6 576,103.9 580.4,104.1 584.7,104.4 589.1,104.7 593.5,104.9 597.9,105.2 602.2,105.4 606.6,105.7 611,106 615.3,106.2 612.6,106.5 608.2,106.3 603.9,106 599.5,105.7 595.1,105.5 590.8,105.2 586.4,105 582,104.7 577.7,104.4 573.3,104.2 568.9,103.9 564.5,103.6 560.2,103.4 555.8,103.1 551.4,102.8 547.1,102.6 542.7,102.3Z" fill="#49420d" stroke="#49420d" stroke-width="0.35"/>
<path class="es" d="M440.5,45.5 441.4,46.3 442.3,47.4 443.2,48.6 444,49.8 444.9,51.1 445.8,52.5 446.7,53.8 447.5,55.2 448.4,56.6 449.3,57.9 450.1,59.3 451,60.6 451.9,62 452.8,63.3 453.6,64.6 454.5,65.8 455.4,67 456.3,68.2 457.1,69.4 458,70.6 459.8,72.8 461.5,74.9 463.3,76.8 465,78.7 466.8,80.4 468.5,82 470.3,83.5 472,84.9 473.7,86.2 475.5,87.3 477.2,88.4 479,89.5 480.7,90.4 482.5,91.3 484.2,92.1 486,92.8 487.7,93.5 489.5,94.1 491.2,94.7 493,95.2 497.3,96.4 501.7,97.4 506.1,98.1 510.5,98.8 514.8,99.4 519.2,99.9 523.6,100.3 527.9,100.7 532.3,101 536.7,101.4 541,101.7 545.4,102 549.8,102.3 554.2,102.5 558.5,102.8 562.9,103.1 567.3,103.3 571.6,103.6 576,103.9 580.4,104.1 584.7,104.4 589.1,104.7 593.5,104.9 597.9,105.2 602.2,105.4 606.6,105.7 611,106 615.3,106.2"/>
<path d="M437.8,45.6 438.7,46.4 436,46.5 435.1,45.8Z" fill="#f7f61a" stroke="#f7f61a" stroke-width="0.35"/>
<path d="M438.7,46.4 439.6,47.5 436.9,47.6 436,46.5Z" fill="#f7f41c" stroke="#f7f41c" stroke-width="0.35"/>
<path d="M439.6,47.5 440.4,48.6 437.7,48.7 436.9,47.6Z" fill="#f7f31d" stroke="#f7f31d" stroke-width="0.35"/>
<path d="M440.4,48.6 441.3,49.9 438.6,50 437.7,48.7Z" fill="#f6f11e" stroke="#f6f11e" stroke-width="0.35"/>
<path d="M441.3,49.9 442.2,51.2 439.5,51.3 438.6,50Z" fill="#f5ee21" stroke="#f5ee21" stroke-width="0.35"/>
<path d="M442.2,51.2 443.1,52.5 440.3,52.6 439.5,51.3Z" fill="#f5ed22" stroke="#f5ed22" stroke-width="0.35"/>
<path d="M443.1,52.5 443.9,53.9 441.2,54 440.3,52.6Z" fill="#f5ea24" stroke="#f5ea24" stroke-width="0.35"/>
<path d="M443.9,53.9 444.8,55.3 442.1,55.4 441.2,54Z" fill="#f5e825" stroke="#f5e825" stroke-width="0.35"/>
<path d="M444.8,55.3 445.7,56.7 443,56.7 442.1,55.4Z" fill="#f5e526" stroke="#f5e526" stroke-width="0.35"/>
<path d="M445.7,56.7 446.6,58 443.8,58.1 443,56.7Z" fill="#f5e427" stroke="#f5e427" stroke-width="0.35"/>
<path d="M446.6,58 447.4,59.4 444.7,59.5 443.8,58.1Z" fill="#f6e128" stroke="#f6e128" stroke-width="0.35"/>
<path d="M447.4,59.4 448.3,60.7 445.6,60.8 444.7,59.5Z" fill="#f6df29" stroke="#f6df29" stroke-width="0.35"/>
<path d="M448.3,60.7 449.2,62.1 446.5,62.1 445.6,60.8Z" fill="#f6de29" stroke="#f6de29" stroke-width="0.35"/>
<path d="M449.2,62.1 450.1,63.4 447.3,63.5 446.5,62.1Z" fill="#f8da2b" stroke="#f8da2b" stroke-width="0.35"/>
<path d="M450.1,63.4 450.9,64.7 448.2,64.7 447.3,63.5Z" fill="#f8d92c" stroke="#f8d92c" stroke-width="0.35"/>
<path d="M450.9,64.7 451.8,65.9 449.1,66 448.2,64.7Z" fill="#fad62d" stroke="#fad62d" stroke-width="0.35"/>
<path d="M451.8,65.9 452.7,67.2 450,67.3 449.1,66Z" fill="#fad42e" stroke="#fad42e" stroke-width="0.35"/>
<path d="M452.7,67.2 453.6,68.4 450.8,68.5 450,67.3Z" fill="#fbd32f" stroke="#fbd32f" stroke-width="0.35"/>
<path d="M453.6,68.4 454.4,69.6 451.7,69.7 450.8,68.5Z" fill="#fccf30" stroke="#fccf30" stroke-width="0.35"/>
<path d="M454.4,69.6 455.3,70.7 452.6,70.8 451.7,69.7Z" fill="#fdce31" stroke="#fdce31" stroke-width="0.35"/>
<path d="M455.3,70.7 457,72.9 454.3,73 452.6,70.8Z" fill="#fdcc32" stroke="#fdcc32" stroke-width="0.35"/>
<path d="M457,72.9 458.8,75 456.1,75.1 454.3,73Z" fill="#fec835" stroke="#fec835" stroke-width="0.35"/>
<path d="M458.8,75 460.5,77 457.8,77.1 456.1,75.1Z" fill="#fec537" stroke="#fec537" stroke-width="0.35"/>
<path d="M460.5,77 462.3,78.8 459.6,79 457.8,77.1Z" fill="#fec239" stroke="#fec239" stroke-width="0.35"/>
<path d="M462.3,78.8 464,80.6 461.3,80.7 459.6,79Z" fill="#febf3b" stroke="#febf3b" stroke-width="0.35"/>
<path d="M464,80.6 465.8,82.2 463.1,82.4 461.3,80.7Z" fill="#fdbd3d" stroke="#fdbd3d" stroke-width="0.35"/>
<path d="M465.8,82.2 467.5,83.7 464.8,83.9 463.1,82.4Z" fill="#fbbc3d" stroke="#fbbc3d" stroke-width="0.35"/>
<path d="M467.5,83.7 469.3,85.1 466.6,85.3 464.8,83.9Z" fill="#f8ba3d" stroke="#f8ba3d" stroke-width="0.35"/>
<path d="M469.3,85.1 471,86.4 468.3,86.6 466.6,85.3Z" fill="#f6ba3c" stroke="#f6ba3c" stroke-width="0.35"/>
<path d="M471,86.4 472.8,87.6 470.1,87.8 468.3,86.6Z" fill="#f2ba38" stroke="#f2ba38" stroke-width="0.35"/>
<path d="M472.8,87.6 474.5,88.7 471.8,88.9 470.1,87.8Z" fill="#f0ba36" stroke="#f0ba36" stroke-width="0.35"/>
<path d="M474.5,88.7 476.3,89.7 473.6,89.9 471.8,88.9Z" fill="#eeba34" stroke="#eeba34" stroke-width="0.35"/>
<path d="M476.3,89.7 478,90.7 475.3,90.9 473.6,89.9Z" fill="#ecba32" stroke="#ecba32" stroke-width="0.35"/>
<path d="M478,90.7 479.8,91.5 477.1,91.8 475.3,90.9Z" fill="#e9bb30" stroke="#e9bb30" stroke-width="0.35"/>
<path d="M479.8,91.5 481.5,92.3 478.8,92.6 477.1,91.8Z" fill="#e7bb2e" stroke="#e7bb2e" stroke-width="0.35"/>
<path d="M481.5,92.3 483.3,93.1 485,93.8 482.3,94 480.6,93.3 478.8,92.6Z" fill="#e5bb2c" stroke="#e5bb2c" stroke-width="0.35"/>
<path d="M485,93.8 486.8,94.4 484,94.7 482.3,94Z" fill="#e2bc2b" stroke="#e2bc2b" stroke-width="0.35"/>
<path d="M486.8,94.4 488.5,95 490.3,95.5 487.5,95.8 485.8,95.3 484,94.7Z" fill="#e0bc2a" stroke="#e0bc2a" stroke-width="0.35"/>
<path d="M490.3,95.5 494.6,96.7 491.9,97 487.5,95.8Z" fill="#ceb026" stroke="#ceb026" stroke-width="0.35"/>
<path d="M494.6,96.7 499,97.6 496.3,97.9 491.9,97Z" fill="#b09820" stroke="#b09820" stroke-width="0.35"/>
<path d="M499,97.6 503.4,98.4 500.7,98.7 496.3,97.9Z" fill="#937f1b" stroke="#937f1b" stroke-width="0.35"/>
<path d="M503.4,98.4 507.7,99.1 505,99.4 500.7,98.7Z" fill="#837318" stroke="#837318" stroke-width="0.35"/>
<path d="M507.7,99.1 512.1,99.7 516.5,100.2 513.8,100.5 509.4,100 505,99.4Z" fill="#746715" stroke="#746715" stroke-width="0.35"/>
<path d="M516.5,100.2 520.8,100.6 525.2,101 522.5,101.3 518.1,100.9 513.8,100.5Z" fill="#665b13" stroke="#665b13" stroke-width="0.35"/>
<path d="M525.2,101 529.6,101.3 526.9,101.6 522.5,101.3Z" fill="#584e10" stroke="#584e10" stroke-width="0.35"/>
<path d="M529.6,101.3 534,101.7 538.3,102 542.7,102.3 547.1,102.6 551.4,102.8 548.7,103.1 544.4,102.9 540,102.6 535.6,102.3 531.2,102 526.9,101.6Z" fill="#574f10" stroke="#574f10" stroke-width="0.35"/>
<path d="M551.4,102.8 555.8,103.1 560.2,103.4 564.5,103.6 568.9,103.9 573.3,104.2 577.7,104.4 582,104.7 586.4,105 590.8,105.2 595.1,105.5 599.5,105.7 603.9,106 608.2,106.3 612.6,106.5 609.9,106.8 605.5,106.6 601.2,106.3 596.8,106.1 592.4,105.8 588.1,105.5 583.7,105.3 579.3,105 574.9,104.7 570.6,104.5 566.2,104.2 561.8,104 557.5,103.7 553.1,103.4 548.7,103.1Z" fill="#49420d" stroke="#49420d" stroke-width="0.35"/>
<path class="es" d="M437.8,45.6 438.7,46.4 439.6,47.5 440.4,48.6 441.3,49.9 442.2,51.2 443.1,52.5 443.9,53.9 444.8,55.3 445.7,56.7 446.6,58 447.4,59.4 448.3,60.7 449.2,62.1 450.1,63.4 450.9,64.7 451.8,65.9 452.7,67.2 453.6,68.4 454.4,69.6 455.3,70.7 457,72.9 458.8,75 460.5,77 462.3,78.8 464,80.6 465.8,82.2 467.5,83.7 469.3,85.1 471,86.4 472.8,87.6 474.5,88.7 476.3,89.7 478,90.7 479.8,91.5 481.5,92.3 483.3,93.1 485,93.8 486.8,94.4 488.5,95 490.3,95.5 494.6,96.7 499,97.6 503.4,98.4 507.7,99.1 512.1,99.7 516.5,100.2 520.8,100.6 525.2,101 529.6,101.3 534,101.7 538.3,102 542.7,102.3 547.1,102.6 551.4,102.8 555.8,103.1 560.2,103.4 564.5,103.6 568.9,103.9 573.3,104.2 577.7,104.4 582,104.7 586.4,105 590.8,105.2 595.1,105.5 599.5,105.7 603.9,106 608.2,106.3 612.6,106.5"/>
<path d="M435.1,45.8 436,46.5 433.3,46.6 432.4,45.9Z" fill="#f7f61a" stroke="#f7f61a" stroke-width="0.35"/>
<path d="M436,46.5 436.9,47.6 434.1,47.7 433.3,46.6Z" fill="#f7f41c" stroke="#f7f41c" stroke-width="0.35"/>
<path d="M436.9,47.6 437.7,48.7 435,48.8 434.1,47.7Z" fill="#f7f31d" stroke="#f7f31d" stroke-width="0.35"/>
<path d="M437.7,48.7 438.6,50 435.9,50.1 435,48.8Z" fill="#f6f11e" stroke="#f6f11e" stroke-width="0.35"/>
<path d="M438.6,50 439.5,51.3 436.8,51.4 435.9,50.1Z" fill="#f6f01f" stroke="#f6f01f" stroke-width="0.35"/>
<path d="M439.5,51.3 440.3,52.6 437.6,52.7 436.8,51.4Z" fill="#f5ed22" stroke="#f5ed22" stroke-width="0.35"/>
<path d="M440.3,52.6 441.2,54 438.5,54 437.6,52.7Z" fill="#f5eb23" stroke="#f5eb23" stroke-width="0.35"/>
<path d="M441.2,54 442.1,55.4 439.4,55.4 438.5,54Z" fill="#f5e825" stroke="#f5e825" stroke-width="0.35"/>
<path d="M442.1,55.4 443,56.7 440.3,56.8 439.4,55.4Z" fill="#f5e725" stroke="#f5e725" stroke-width="0.35"/>
<path d="M443,56.7 443.8,58.1 441.1,58.1 440.3,56.8Z" fill="#f5e427" stroke="#f5e427" stroke-width="0.35"/>
<path d="M443.8,58.1 444.7,59.5 442,59.5 441.1,58.1Z" fill="#f5e227" stroke="#f5e227" stroke-width="0.35"/>
<path d="M444.7,59.5 445.6,60.8 442.9,60.9 442,59.5Z" fill="#f6df29" stroke="#f6df29" stroke-width="0.35"/>
<path d="M445.6,60.8 446.5,62.1 443.7,62.2 442.9,60.9Z" fill="#f6de29" stroke="#f6de29" stroke-width="0.35"/>
<path d="M446.5,62.1 447.3,63.5 444.6,63.5 443.7,62.2Z" fill="#f7dc2a" stroke="#f7dc2a" stroke-width="0.35"/>
<path d="M447.3,63.5 448.2,64.7 445.5,64.8 444.6,63.5Z" fill="#f8d92c" stroke="#f8d92c" stroke-width="0.35"/>
<path d="M448.2,64.7 449.1,66 446.4,66.1 445.5,64.8Z" fill="#f9d72c" stroke="#f9d72c" stroke-width="0.35"/>
<path d="M449.1,66 450,67.3 447.2,67.3 446.4,66.1Z" fill="#fad42e" stroke="#fad42e" stroke-width="0.35"/>
<path d="M450,67.3 450.8,68.5 448.1,68.5 447.2,67.3Z" fill="#fbd32f" stroke="#fbd32f" stroke-width="0.35"/>
<path d="M450.8,68.5 451.7,69.7 449,69.7 448.1,68.5Z" fill="#fcd12f" stroke="#fcd12f" stroke-width="0.35"/>
<path d="M451.7,69.7 452.6,70.8 449.9,70.9 449,69.7Z" fill="#fdce31" stroke="#fdce31" stroke-width="0.35"/>
<path d="M452.6,70.8 454.3,73 451.6,73.1 449.9,70.9Z" fill="#fdcc32" stroke="#fdcc32" stroke-width="0.35"/>
<path d="M454.3,73 456.1,75.1 453.4,75.3 451.6,73.1Z" fill="#fec934" stroke="#fec934" stroke-width="0.35"/>
<path d="M456.1,75.1 457.8,77.1 455.1,77.2 453.4,75.3Z" fill="#fec636" stroke="#fec636" stroke-width="0.35"/>
<path d="M457.8,77.1 459.6,79 456.9,79.1 455.1,77.2Z" fill="#fec338" stroke="#fec338" stroke-width="0.35"/>
<path d="M459.6,79 461.3,80.7 458.6,80.9 456.9,79.1Z" fill="#fec13a" stroke="#fec13a" stroke-width="0.35"/>
<path d="M461.3,80.7 463.1,82.4 460.4,82.5 458.6,80.9Z" fill="#febe3c" stroke="#febe3c" stroke-width="0.35"/>
<path d="M463.1,82.4 464.8,83.9 462.1,84 460.4,82.5Z" fill="#fbbc3d" stroke="#fbbc3d" stroke-width="0.35"/>
<path d="M464.8,83.9 466.6,85.3 463.8,85.5 462.1,84Z" fill="#f8ba3d" stroke="#f8ba3d" stroke-width="0.35"/>
<path d="M466.6,85.3 468.3,86.6 465.6,86.8 463.8,85.5Z" fill="#f6ba3c" stroke="#f6ba3c" stroke-width="0.35"/>
<path d="M468.3,86.6 470.1,87.8 467.3,88 465.6,86.8Z" fill="#f4ba3a" stroke="#f4ba3a" stroke-width="0.35"/>
<path d="M470.1,87.8 471.8,88.9 469.1,89.1 467.3,88Z" fill="#f0ba36" stroke="#f0ba36" stroke-width="0.35"/>
<path d="M471.8,88.9 473.6,89.9 470.8,90.2 469.1,89.1Z" fill="#eeba34" stroke="#eeba34" stroke-width="0.35"/>
<path d="M473.6,89.9 475.3,90.9 472.6,91.1 470.8,90.2Z" fill="#ecba32" stroke="#ecba32" stroke-width="0.35"/>
<path d="M475.3,90.9 477.1,91.8 474.3,92 472.6,91.1Z" fill="#e9bb30" stroke="#e9bb30" stroke-width="0.35"/>
<path d="M477.1,91.8 478.8,92.6 480.6,93.3 477.8,93.6 476.1,92.9 474.3,92Z" fill="#e7bb2e" stroke="#e7bb2e" stroke-width="0.35"/>
<path d="M480.6,93.3 482.3,94 479.6,94.3 477.8,93.6Z" fill="#e5bb2c" stroke="#e5bb2c" stroke-width="0.35"/>
<path d="M482.3,94 484,94.7 485.8,95.3 483.1,95.5 481.3,95 479.6,94.3Z" fill="#e2bc2b" stroke="#e2bc2b" stroke-width="0.35"/>
<path d="M485.8,95.3 487.5,95.8 484.8,96.1 483.1,95.5Z" fill="#e0bc2a" stroke="#e0bc2a" stroke-width="0.35"/>
<path d="M487.5,95.8 491.9,97 489.2,97.3 484.8,96.1Z" fill="#d1af27" stroke="#d1af27" stroke-width="0.35"/>
<path d="M491.9,97 496.3,97.9 493.6,98.2 489.2,97.3Z" fill="#b19821" stroke="#b19821" stroke-width="0.35"/>
<path d="M496.3,97.9 500.7,98.7 497.9,99 493.6,98.2Z" fill="#a28b1d" stroke="#a28b1d" stroke-width="0.35"/>
<path d="M500.7,98.7 505,99.4 509.4,100 506.7,100.3 502.3,99.7 497.9,99Z" fill="#837318" stroke="#837318" stroke-width="0.35"/>
<path d="M509.4,100 513.8,100.5 511,100.8 506.7,100.3Z" fill="#746715" stroke="#746715" stroke-width="0.35"/>
<path d="M513.8,100.5 518.1,100.9 522.5,101.3 519.8,101.6 515.4,101.2 511,100.8Z" fill="#665b13" stroke="#665b13" stroke-width="0.35"/>
<path d="M522.5,101.3 526.9,101.6 531.2,102 535.6,102.3 532.9,102.6 528.5,102.3 524.2,102 519.8,101.6Z" fill="#584e10" stroke="#584e10" stroke-width="0.35"/>
<path d="M535.6,102.3 540,102.6 544.4,102.9 548.7,103.1 553.1,103.4 557.5,103.7 561.8,104 566.2,104.2 570.6,104.5 574.9,104.7 579.3,105 576.6,105.3 572.2,105.1 567.9,104.8 563.5,104.5 559.1,104.3 554.7,104 550.4,103.7 546,103.5 541.6,103.2 537.3,102.9 532.9,102.6Z" fill="#574f10" stroke="#574f10" stroke-width="0.35"/>
<path d="M579.3,105 583.7,105.3 588.1,105.5 592.4,105.8 596.8,106.1 601.2,106.3 605.5,106.6 609.9,106.8 607.2,107.2 602.8,106.9 598.4,106.6 594.1,106.4 589.7,106.1 585.3,105.8 581,105.6 576.6,105.3Z" fill="#49420d" stroke="#49420d" stroke-width="0.35"/>
<path class="es" d="M435.1,45.8 436,46.5 436.9,47.6 437.7,48.7 438.6,50 439.5,51.3 440.3,52.6 441.2,54 442.1,55.4 443,56.7 443.8,58.1 444.7,59.5 445.6,60.8 446.5,62.1 447.3,63.5 448.2,64.7 449.1,66 450,67.3 450.8,68.5 451.7,69.7 452.6,70.8 454.3,73 456.1,75.1 457.8,77.1 459.6,79 461.3,80.7 463.1,82.4 464.8,83.9 466.6,85.3 468.3,86.6 470.1,87.8 471.8,88.9 473.6,89.9 475.3,90.9 477.1,91.8 478.8,92.6 480.6,93.3 482.3,94 484,94.7 485.8,95.3 487.5,95.8 491.9,97 496.3,97.9 500.7,98.7 505,99.4 509.4,100 513.8,100.5 518.1,100.9 522.5,101.3 526.9,101.6 531.2,102 535.6,102.3 540,102.6 544.4,102.9 548.7,103.1 553.1,103.4 557.5,103.7 561.8,104 566.2,104.2 570.6,104.5 574.9,104.7 579.3,105 583.7,105.3 588.1,105.5 592.4,105.8 596.8,106.1 601.2,106.3 605.5,106.6 609.9,106.8"/>
<path d="M432.4,45.9 433.3,46.6 430.5,46.7 429.7,46Z" fill="#f8f719" stroke="#f8f719" stroke-width="0.35"/>
<path d="M433.3,46.6 434.1,47.7 431.4,47.8 430.5,46.7Z" fill="#f7f61a" stroke="#f7f61a" stroke-width="0.35"/>
<path d="M434.1,47.7 435,48.8 432.3,48.9 431.4,47.8Z" fill="#f7f41c" stroke="#f7f41c" stroke-width="0.35"/>
<path d="M435,48.8 435.9,50.1 433.2,50.1 432.3,48.9Z" fill="#f6f11e" stroke="#f6f11e" stroke-width="0.35"/>
<path d="M435.9,50.1 436.8,51.4 434,51.4 433.2,50.1Z" fill="#f6f01f" stroke="#f6f01f" stroke-width="0.35"/>
<path d="M436.8,51.4 437.6,52.7 434.9,52.7 434,51.4Z" fill="#f5ee21" stroke="#f5ee21" stroke-width="0.35"/>
<path d="M437.6,52.7 438.5,54 435.8,54.1 434.9,52.7Z" fill="#f5eb23" stroke="#f5eb23" stroke-width="0.35"/>
<path d="M438.5,54 439.4,55.4 436.7,55.4 435.8,54.1Z" fill="#f5ea24" stroke="#f5ea24" stroke-width="0.35"/>
<path d="M439.4,55.4 440.3,56.8 437.5,56.8 436.7,55.4Z" fill="#f5e725" stroke="#f5e725" stroke-width="0.35"/>
<path d="M440.3,56.8 441.1,58.1 438.4,58.2 437.5,56.8Z" fill="#f5e526" stroke="#f5e526" stroke-width="0.35"/>
<path d="M441.1,58.1 442,59.5 439.3,59.5 438.4,58.2Z" fill="#f5e227" stroke="#f5e227" stroke-width="0.35"/>
<path d="M442,59.5 442.9,60.9 440.2,60.9 439.3,59.5Z" fill="#f6e128" stroke="#f6e128" stroke-width="0.35"/>
<path d="M442.9,60.9 443.7,62.2 441,62.2 440.2,60.9Z" fill="#f6de29" stroke="#f6de29" stroke-width="0.35"/>
<path d="M443.7,62.2 444.6,63.5 441.9,63.5 441,62.2Z" fill="#f7dc2a" stroke="#f7dc2a" stroke-width="0.35"/>
<path d="M444.6,63.5 445.5,64.8 442.8,64.8 441.9,63.5Z" fill="#f8da2b" stroke="#f8da2b" stroke-width="0.35"/>
<path d="M445.5,64.8 446.4,66.1 443.7,66.1 442.8,64.8Z" fill="#f9d72c" stroke="#f9d72c" stroke-width="0.35"/>
<path d="M446.4,66.1 447.2,67.3 444.5,67.4 443.7,66.1Z" fill="#fad62d" stroke="#fad62d" stroke-width="0.35"/>
<path d="M447.2,67.3 448.1,68.5 445.4,68.6 444.5,67.4Z" fill="#fad42e" stroke="#fad42e" stroke-width="0.35"/>
<path d="M448.1,68.5 449,69.7 446.3,69.8 445.4,68.6Z" fill="#fcd12f" stroke="#fcd12f" stroke-width="0.35"/>
<path d="M449,69.7 449.9,70.9 447.1,71 446.3,69.8Z" fill="#fccf30" stroke="#fccf30" stroke-width="0.35"/>
<path d="M449.9,70.9 451.6,73.1 448.9,73.2 447.1,71Z" fill="#fdce31" stroke="#fdce31" stroke-width="0.35"/>
<path d="M451.6,73.1 453.4,75.3 450.6,75.3 448.9,73.2Z" fill="#fec934" stroke="#fec934" stroke-width="0.35"/>
<path d="M453.4,75.3 455.1,77.2 452.4,77.3 450.6,75.3Z" fill="#fec636" stroke="#fec636" stroke-width="0.35"/>
<path d="M455.1,77.2 456.9,79.1 454.1,79.2 452.4,77.3Z" fill="#fec338" stroke="#fec338" stroke-width="0.35"/>
<path d="M456.9,79.1 458.6,80.9 455.9,81 454.1,79.2Z" fill="#fec13a" stroke="#fec13a" stroke-width="0.35"/>
<path d="M458.6,80.9 460.4,82.5 457.6,82.7 455.9,81Z" fill="#febe3c" stroke="#febe3c" stroke-width="0.35"/>
<path d="M460.4,82.5 462.1,84 459.4,84.2 457.6,82.7Z" fill="#fbbc3d" stroke="#fbbc3d" stroke-width="0.35"/>
<path d="M462.1,84 463.8,85.5 461.1,85.6 459.4,84.2Z" fill="#fabb3d" stroke="#fabb3d" stroke-width="0.35"/>
<path d="M463.8,85.5 465.6,86.8 462.9,87 461.1,85.6Z" fill="#f6ba3c" stroke="#f6ba3c" stroke-width="0.35"/>
<path d="M465.6,86.8 467.3,88 464.6,88.2 462.9,87Z" fill="#f4ba3a" stroke="#f4ba3a" stroke-width="0.35"/>
<path d="M467.3,88 469.1,89.1 466.4,89.3 464.6,88.2Z" fill="#f2ba38" stroke="#f2ba38" stroke-width="0.35"/>
<path d="M469.1,89.1 470.8,90.2 468.1,90.4 466.4,89.3Z" fill="#f0ba36" stroke="#f0ba36" stroke-width="0.35"/>
<path d="M470.8,90.2 472.6,91.1 469.9,91.4 468.1,90.4Z" fill="#ecba32" stroke="#ecba32" stroke-width="0.35"/>
<path d="M472.6,91.1 474.3,92 476.1,92.9 473.4,93.1 471.6,92.3 469.9,91.4Z" fill="#e9bb30" stroke="#e9bb30" stroke-width="0.35"/>
<path d="M476.1,92.9 477.8,93.6 475.1,93.9 473.4,93.1Z" fill="#e7bb2e" stroke="#e7bb2e" stroke-width="0.35"/>
<path d="M477.8,93.6 479.6,94.3 476.9,94.6 475.1,93.9Z" fill="#e5bb2c" stroke="#e5bb2c" stroke-width="0.35"/>
<path d="M479.6,94.3 481.3,95 483.1,95.5 480.4,95.8 478.6,95.2 476.9,94.6Z" fill="#e2bc2b" stroke="#e2bc2b" stroke-width="0.35"/>
<path d="M483.1,95.5 484.8,96.1 482.1,96.4 480.4,95.8Z" fill="#e0bc2a" stroke="#e0bc2a" stroke-width="0.35"/>
<path d="M484.8,96.1 489.2,97.3 486.5,97.6 482.1,96.4Z" fill="#d1af27" stroke="#d1af27" stroke-width="0.35"/>
<path d="M489.2,97.3 493.6,98.2 490.8,98.6 486.5,97.6Z" fill="#b19821" stroke="#b19821" stroke-width="0.35"/>
<path d="M493.6,98.2 497.9,99 495.2,99.4 490.8,98.6Z" fill="#a28b1d" stroke="#a28b1d" stroke-width="0.35"/>
<path d="M497.9,99 502.3,99.7 499.6,100 495.2,99.4Z" fill="#91801b" stroke="#91801b" stroke-width="0.35"/>
<path d="M502.3,99.7 506.7,100.3 504,100.6 499.6,100Z" fill="#837318" stroke="#837318" stroke-width="0.35"/>
<path d="M506.7,100.3 511,100.8 508.3,101.1 504,100.6Z" fill="#746715" stroke="#746715" stroke-width="0.35"/>
<path d="M511,100.8 515.4,101.2 519.8,101.6 524.2,102 521.4,102.3 517.1,101.9 512.7,101.5 508.3,101.1Z" fill="#665b13" stroke="#665b13" stroke-width="0.35"/>
<path d="M524.2,102 528.5,102.3 532.9,102.6 537.3,102.9 541.6,103.2 546,103.5 550.4,103.7 554.7,104 559.1,104.3 563.5,104.5 567.9,104.8 572.2,105.1 576.6,105.3 581,105.6 585.3,105.8 589.7,106.1 594.1,106.4 598.4,106.6 602.8,106.9 607.2,107.2 604.5,107.5 600.1,107.2 595.7,107 591.4,106.7 587,106.4 582.6,106.2 578.2,105.9 573.9,105.7 569.5,105.4 565.1,105.1 560.8,104.9 556.4,104.6 552,104.3 547.7,104.1 543.3,103.8 538.9,103.5 534.5,103.2 530.2,102.9 525.8,102.6 521.4,102.3Z" fill="#584e10" stroke="#584e10" stroke-width="0.35"/>
<path class="es" d="M432.4,45.9 433.3,46.6 434.1,47.7 435,48.8 435.9,50.1 436.8,51.4 437.6,52.7 438.5,54 439.4,55.4 440.3,56.8 441.1,58.1 442,59.5 442.9,60.9 443.7,62.2 444.6,63.5 445.5,64.8 446.4,66.1 447.2,67.3 448.1,68.5 449,69.7 449.9,70.9 451.6,73.1 453.4,75.3 455.1,77.2 456.9,79.1 458.6,80.9 460.4,82.5 462.1,84 463.8,85.5 465.6,86.8 467.3,88 469.1,89.1 470.8,90.2 472.6,91.1 474.3,92 476.1,92.9 477.8,93.6 479.6,94.3 481.3,95 483.1,95.5 484.8,96.1 489.2,97.3 493.6,98.2 497.9,99 502.3,99.7 506.7,100.3 511,100.8 515.4,101.2 519.8,101.6 524.2,102 528.5,102.3 532.9,102.6 537.3,102.9 541.6,103.2 546,103.5 550.4,103.7 554.7,104 559.1,104.3 563.5,104.5 567.9,104.8 572.2,105.1 576.6,105.3 581,105.6 585.3,105.8 589.7,106.1 594.1,106.4 598.4,106.6 602.8,106.9 607.2,107.2"/>
<path d="M429.7,46 430.5,46.7 427.8,46.9 427,46.2Z" fill="#f8f719" stroke="#f8f719" stroke-width="0.35"/>
<path d="M430.5,46.7 431.4,47.8 428.7,47.9 427.8,46.9Z" fill="#f7f61a" stroke="#f7f61a" stroke-width="0.35"/>
<path d="M431.4,47.8 432.3,48.9 429.6,49 428.7,47.9Z" fill="#f7f41c" stroke="#f7f41c" stroke-width="0.35"/>
<path d="M432.3,48.9 433.2,50.1 430.4,50.2 429.6,49Z" fill="#f7f31d" stroke="#f7f31d" stroke-width="0.35"/>
<path d="M433.2,50.1 434,51.4 431.3,51.5 430.4,50.2Z" fill="#f6f11e" stroke="#f6f11e" stroke-width="0.35"/>
<path d="M434,51.4 434.9,52.7 432.2,52.8 431.3,51.5Z" fill="#f5ee21" stroke="#f5ee21" stroke-width="0.35"/>
<path d="M434.9,52.7 435.8,54.1 433.1,54.1 432.2,52.8Z" fill="#f5ed22" stroke="#f5ed22" stroke-width="0.35"/>
<path d="M435.8,54.1 436.7,55.4 433.9,55.5 433.1,54.1Z" fill="#f5ea24" stroke="#f5ea24" stroke-width="0.35"/>
<path d="M436.7,55.4 437.5,56.8 434.8,56.8 433.9,55.5Z" fill="#f5e825" stroke="#f5e825" stroke-width="0.35"/>
<path d="M437.5,56.8 438.4,58.2 435.7,58.2 434.8,56.8Z" fill="#f5e526" stroke="#f5e526" stroke-width="0.35"/>
<path d="M438.4,58.2 439.3,59.5 436.6,59.5 435.7,58.2Z" fill="#f5e427" stroke="#f5e427" stroke-width="0.35"/>
<path d="M439.3,59.5 440.2,60.9 437.4,60.9 436.6,59.5Z" fill="#f6e128" stroke="#f6e128" stroke-width="0.35"/>
<path d="M440.2,60.9 441,62.2 438.3,62.2 437.4,60.9Z" fill="#f6df29" stroke="#f6df29" stroke-width="0.35"/>
<path d="M441,62.2 441.9,63.5 439.2,63.5 438.3,62.2Z" fill="#f6de29" stroke="#f6de29" stroke-width="0.35"/>
<path d="M441.9,63.5 442.8,64.8 440.1,64.8 439.2,63.5Z" fill="#f8da2b" stroke="#f8da2b" stroke-width="0.35"/>
<path d="M442.8,64.8 443.7,66.1 440.9,66.1 440.1,64.8Z" fill="#f8d92c" stroke="#f8d92c" stroke-width="0.35"/>
<path d="M443.7,66.1 444.5,67.4 441.8,67.4 440.9,66.1Z" fill="#fad62d" stroke="#fad62d" stroke-width="0.35"/>
<path d="M444.5,67.4 445.4,68.6 442.7,68.6 441.8,67.4Z" fill="#fad42e" stroke="#fad42e" stroke-width="0.35"/>
<path d="M445.4,68.6 446.3,69.8 443.6,69.8 442.7,68.6Z" fill="#fbd32f" stroke="#fbd32f" stroke-width="0.35"/>
<path d="M446.3,69.8 447.1,71 444.4,71 443.6,69.8Z" fill="#fccf30" stroke="#fccf30" stroke-width="0.35"/>
<path d="M447.1,71 448.9,73.2 446.2,73.2 444.4,71Z" fill="#fdce31" stroke="#fdce31" stroke-width="0.35"/>
<path d="M448.9,73.2 450.6,75.3 447.9,75.4 446.2,73.2Z" fill="#fdcb33" stroke="#fdcb33" stroke-width="0.35"/>
<path d="M450.6,75.3 452.4,77.3 449.7,77.4 447.9,75.4Z" fill="#fec636" stroke="#fec636" stroke-width="0.35"/>
<path d="M452.4,77.3 454.1,79.2 451.4,79.3 449.7,77.4Z" fill="#fec338" stroke="#fec338" stroke-width="0.35"/>
<path d="M454.1,79.2 455.9,81 453.2,81.1 451.4,79.3Z" fill="#fec13a" stroke="#fec13a" stroke-width="0.35"/>
<path d="M455.9,81 457.6,82.7 454.9,82.8 453.2,81.1Z" fill="#febe3c" stroke="#febe3c" stroke-width="0.35"/>
<path d="M457.6,82.7 459.4,84.2 456.7,84.3 454.9,82.8Z" fill="#fdbd3d" stroke="#fdbd3d" stroke-width="0.35"/>
<path d="M459.4,84.2 461.1,85.6 458.4,85.8 456.7,84.3Z" fill="#fabb3d" stroke="#fabb3d" stroke-width="0.35"/>
<path d="M461.1,85.6 462.9,87 460.2,87.1 458.4,85.8Z" fill="#f8ba3d" stroke="#f8ba3d" stroke-width="0.35"/>
<path d="M462.9,87 464.6,88.2 461.9,88.4 460.2,87.1Z" fill="#f4ba3a" stroke="#f4ba3a" stroke-width="0.35"/>
<path d="M464.6,88.2 466.4,89.3 463.7,89.6 461.9,88.4Z" fill="#f2ba38" stroke="#f2ba38" stroke-width="0.35"/>
<path d="M466.4,89.3 468.1,90.4 465.4,90.6 463.7,89.6Z" fill="#f0ba36" stroke="#f0ba36" stroke-width="0.35"/>
<path d="M468.1,90.4 469.9,91.4 467.2,91.6 465.4,90.6Z" fill="#eeba34" stroke="#eeba34" stroke-width="0.35"/>
<path d="M469.9,91.4 471.6,92.3 468.9,92.5 467.2,91.6Z" fill="#ecba32" stroke="#ecba32" stroke-width="0.35"/>
<path d="M471.6,92.3 473.4,93.1 470.7,93.4 468.9,92.5Z" fill="#e9bb30" stroke="#e9bb30" stroke-width="0.35"/>
<path d="M473.4,93.1 475.1,93.9 472.4,94.1 470.7,93.4Z" fill="#e7bb2e" stroke="#e7bb2e" stroke-width="0.35"/>
<path d="M475.1,93.9 476.9,94.6 478.6,95.2 475.9,95.5 474.1,94.9 472.4,94.1Z" fill="#e5bb2c" stroke="#e5bb2c" stroke-width="0.35"/>
<path d="M478.6,95.2 480.4,95.8 477.6,96.1 475.9,95.5Z" fill="#e2bc2b" stroke="#e2bc2b" stroke-width="0.35"/>
<path d="M480.4,95.8 482.1,96.4 479.4,96.7 477.6,96.1Z" fill="#e0bc2a" stroke="#e0bc2a" stroke-width="0.35"/>
<path d="M482.1,96.4 486.5,97.6 483.8,97.9 479.4,96.7Z" fill="#d1af27" stroke="#d1af27" stroke-width="0.35"/>
<path d="M486.5,97.6 490.8,98.6 488.1,98.9 483.8,97.9Z" fill="#b19821" stroke="#b19821" stroke-width="0.35"/>
<path d="M490.8,98.6 495.2,99.4 492.5,99.7 488.1,98.9Z" fill="#a28b1d" stroke="#a28b1d" stroke-width="0.35"/>
<path d="M495.2,99.4 499.6,100 496.9,100.4 492.5,99.7Z" fill="#91801b" stroke="#91801b" stroke-width="0.35"/>
<path d="M499.6,100 504,100.6 501.2,101 496.9,100.4Z" fill="#837318" stroke="#837318" stroke-width="0.35"/>
<path d="M504,100.6 508.3,101.1 505.6,101.5 501.2,101Z" fill="#756715" stroke="#756715" stroke-width="0.35"/>
<path d="M508.3,101.1 512.7,101.5 510,101.9 505.6,101.5Z" fill="#746715" stroke="#746715" stroke-width="0.35"/>
<path d="M512.7,101.5 517.1,101.9 521.4,102.3 525.8,102.6 523.1,103 518.7,102.6 514.4,102.3 510,101.9Z" fill="#665b13" stroke="#665b13" stroke-width="0.35"/>
<path d="M525.8,102.6 530.2,102.9 534.5,103.2 538.9,103.5 543.3,103.8 547.7,104.1 552,104.3 556.4,104.6 560.8,104.9 565.1,105.1 569.5,105.4 573.9,105.7 578.2,105.9 582.6,106.2 587,106.4 591.4,106.7 595.7,107 600.1,107.2 604.5,107.5 601.8,107.8 597.4,107.6 593,107.3 588.6,107 584.3,106.8 579.9,106.5 575.5,106.3 571.2,106 566.8,105.7 562.4,105.5 558.1,105.2 553.7,104.9 549.3,104.7 544.9,104.4 540.6,104.1 536.2,103.9 531.8,103.6 527.5,103.3 523.1,103Z" fill="#584e10" stroke="#584e10" stroke-width="0.35"/>
<path class="es" d="M429.7,46 430.5,46.7 431.4,47.8 432.3,48.9 433.2,50.1 434,51.4 434.9,52.7 435.8,54.1 436.7,55.4 437.5,56.8 438.4,58.2 439.3,59.5 440.2,60.9 441,62.2 441.9,63.5 442.8,64.8 443.7,66.1 444.5,67.4 445.4,68.6 446.3,69.8 447.1,71 448.9,73.2 450.6,75.3 452.4,77.3 454.1,79.2 455.9,81 457.6,82.7 459.4,84.2 461.1,85.6 462.9,87 464.6,88.2 466.4,89.3 468.1,90.4 469.9,91.4 471.6,92.3 473.4,93.1 475.1,93.9 476.9,94.6 478.6,95.2 480.4,95.8 482.1,96.4 486.5,97.6 490.8,98.6 495.2,99.4 499.6,100 504,100.6 508.3,101.1 512.7,101.5 517.1,101.9 521.4,102.3 525.8,102.6 530.2,102.9 534.5,103.2 538.9,103.5 543.3,103.8 547.7,104.1 552,104.3 556.4,104.6 560.8,104.9 565.1,105.1 569.5,105.4 573.9,105.7 578.2,105.9 582.6,106.2 587,106.4 591.4,106.7 595.7,107 600.1,107.2 604.5,107.5"/>
<path d="M427,46.2 427.8,46.9 428.7,47.9 426,48 425.1,47 424.2,46.3Z" fill="#f8f719" stroke="#f8f719" stroke-width="0.35"/>
<path d="M428.7,47.9 429.6,49 426.9,49.1 426,48Z" fill="#f7f61a" stroke="#f7f61a" stroke-width="0.35"/>
<path d="M429.6,49 430.4,50.2 427.7,50.3 426.9,49.1Z" fill="#f7f31d" stroke="#f7f31d" stroke-width="0.35"/>
<path d="M430.4,50.2 431.3,51.5 428.6,51.5 427.7,50.3Z" fill="#f6f11e" stroke="#f6f11e" stroke-width="0.35"/>
<path d="M431.3,51.5 432.2,52.8 429.5,52.8 428.6,51.5Z" fill="#f6f01f" stroke="#f6f01f" stroke-width="0.35"/>
<path d="M432.2,52.8 433.1,54.1 430.4,54.1 429.5,52.8Z" fill="#f5ed22" stroke="#f5ed22" stroke-width="0.35"/>
<path d="M433.1,54.1 433.9,55.5 431.2,55.5 430.4,54.1Z" fill="#f5eb23" stroke="#f5eb23" stroke-width="0.35"/>
<path d="M433.9,55.5 434.8,56.8 432.1,56.8 431.2,55.5Z" fill="#f5e825" stroke="#f5e825" stroke-width="0.35"/>
<path d="M434.8,56.8 435.7,58.2 433,58.2 432.1,56.8Z" fill="#f5e725" stroke="#f5e725" stroke-width="0.35"/>
<path d="M435.7,58.2 436.6,59.5 433.8,59.5 433,58.2Z" fill="#f5e427" stroke="#f5e427" stroke-width="0.35"/>
<path d="M436.6,59.5 437.4,60.9 434.7,60.8 433.8,59.5Z" fill="#f5e227" stroke="#f5e227" stroke-width="0.35"/>
<path d="M437.4,60.9 438.3,62.2 435.6,62.2 434.7,60.8Z" fill="#f6e128" stroke="#f6e128" stroke-width="0.35"/>
<path d="M438.3,62.2 439.2,63.5 436.5,63.5 435.6,62.2Z" fill="#f6de29" stroke="#f6de29" stroke-width="0.35"/>
<path d="M439.2,63.5 440.1,64.8 437.3,64.8 436.5,63.5Z" fill="#f7dc2a" stroke="#f7dc2a" stroke-width="0.35"/>
<path d="M440.1,64.8 440.9,66.1 438.2,66.1 437.3,64.8Z" fill="#f8d92c" stroke="#f8d92c" stroke-width="0.35"/>
<path d="M440.9,66.1 441.8,67.4 439.1,67.3 438.2,66.1Z" fill="#f9d72c" stroke="#f9d72c" stroke-width="0.35"/>
<path d="M441.8,67.4 442.7,68.6 440,68.6 439.1,67.3Z" fill="#fad62d" stroke="#fad62d" stroke-width="0.35"/>
<path d="M442.7,68.6 443.6,69.8 440.8,69.8 440,68.6Z" fill="#fbd32f" stroke="#fbd32f" stroke-width="0.35"/>
<path d="M443.6,69.8 444.4,71 441.7,71 440.8,69.8Z" fill="#fcd12f" stroke="#fcd12f" stroke-width="0.35"/>
<path d="M444.4,71 446.2,73.2 443.5,73.2 441.7,71Z" fill="#fccf30" stroke="#fccf30" stroke-width="0.35"/>
<path d="M446.2,73.2 447.9,75.4 445.2,75.4 443.5,73.2Z" fill="#fdcb33" stroke="#fdcb33" stroke-width="0.35"/>
<path d="M447.9,75.4 449.7,77.4 447,77.4 445.2,75.4Z" fill="#fec835" stroke="#fec835" stroke-width="0.35"/>
<path d="M449.7,77.4 451.4,79.3 448.7,79.4 447,77.4Z" fill="#fec537" stroke="#fec537" stroke-width="0.35"/>
<path d="M451.4,79.3 453.2,81.1 450.5,81.2 448.7,79.4Z" fill="#fec239" stroke="#fec239" stroke-width="0.35"/>
<path d="M453.2,81.1 454.9,82.8 452.2,82.9 450.5,81.2Z" fill="#febf3b" stroke="#febf3b" stroke-width="0.35"/>
<path d="M454.9,82.8 456.7,84.3 454,84.5 452.2,82.9Z" fill="#fdbd3d" stroke="#fdbd3d" stroke-width="0.35"/>
<path d="M456.7,84.3 458.4,85.8 455.7,85.9 454,84.5Z" fill="#fabb3d" stroke="#fabb3d" stroke-width="0.35"/>
<path d="M458.4,85.8 460.2,87.1 457.4,87.3 455.7,85.9Z" fill="#f8ba3d" stroke="#f8ba3d" stroke-width="0.35"/>
<path d="M460.2,87.1 461.9,88.4 459.2,88.6 457.4,87.3Z" fill="#f6ba3c" stroke="#f6ba3c" stroke-width="0.35"/>
<path d="M461.9,88.4 463.7,89.6 460.9,89.7 459.2,88.6Z" fill="#f2ba38" stroke="#f2ba38" stroke-width="0.35"/>
<path d="M463.7,89.6 465.4,90.6 462.7,90.8 460.9,89.7Z" fill="#f0ba36" stroke="#f0ba36" stroke-width="0.35"/>
<path d="M465.4,90.6 467.2,91.6 464.4,91.8 462.7,90.8Z" fill="#eeba34" stroke="#eeba34" stroke-width="0.35"/>
<path d="M467.2,91.6 468.9,92.5 466.2,92.8 464.4,91.8Z" fill="#ecba32" stroke="#ecba32" stroke-width="0.35"/>
<path d="M468.9,92.5 470.7,93.4 467.9,93.6 466.2,92.8Z" fill="#e9bb30" stroke="#e9bb30" stroke-width="0.35"/>
<path d="M470.7,93.4 472.4,94.1 474.1,94.9 471.4,95.1 469.7,94.4 467.9,93.6Z" fill="#e7bb2e" stroke="#e7bb2e" stroke-width="0.35"/>
<path d="M474.1,94.9 475.9,95.5 473.2,95.8 471.4,95.1Z" fill="#e5bb2c" stroke="#e5bb2c" stroke-width="0.35"/>
<path d="M475.9,95.5 477.6,96.1 479.4,96.7 476.7,97 474.9,96.4 473.2,95.8Z" fill="#e2bc2b" stroke="#e2bc2b" stroke-width="0.35"/>
<path d="M479.4,96.7 483.8,97.9 481,98.2 476.7,97Z" fill="#d1af27" stroke="#d1af27" stroke-width="0.35"/>
<path d="M483.8,97.9 488.1,98.9 485.4,99.2 481,98.2Z" fill="#c0a423" stroke="#c0a423" stroke-width="0.35"/>
<path d="M488.1,98.9 492.5,99.7 489.8,100 485.4,99.2Z" fill="#a28b1d" stroke="#a28b1d" stroke-width="0.35"/>
<path d="M492.5,99.7 496.9,100.4 494.2,100.7 489.8,100Z" fill="#937f1b" stroke="#937f1b" stroke-width="0.35"/>
<path d="M496.9,100.4 501.2,101 498.5,101.3 494.2,100.7Z" fill="#837318" stroke="#837318" stroke-width="0.35"/>
<path d="M501.2,101 505.6,101.5 510,101.9 507.3,102.2 502.9,101.8 498.5,101.3Z" fill="#756715" stroke="#756715" stroke-width="0.35"/>
<path d="M510,101.9 514.4,102.3 518.7,102.6 523.1,103 527.5,103.3 524.7,103.6 520.4,103.3 516,103 511.6,102.6 507.3,102.2Z" fill="#665b13" stroke="#665b13" stroke-width="0.35"/>
<path d="M527.5,103.3 531.8,103.6 536.2,103.9 540.6,104.1 544.9,104.4 549.3,104.7 553.7,104.9 558.1,105.2 562.4,105.5 566.8,105.7 571.2,106 575.5,106.3 579.9,106.5 584.3,106.8 588.6,107 593,107.3 597.4,107.6 601.8,107.8 599,108.2 594.7,107.9 590.3,107.6 585.9,107.4 581.6,107.1 577.2,106.9 572.8,106.6 568.4,106.3 564.1,106.1 559.7,105.8 555.3,105.6 551,105.3 546.6,105 542.2,104.8 537.9,104.5 533.5,104.2 529.1,103.9 524.7,103.6Z" fill="#584e10" stroke="#584e10" stroke-width="0.35"/>
<path class="es" d="M427,46.2 427.8,46.9 428.7,47.9 429.6,49 430.4,50.2 431.3,51.5 432.2,52.8 433.1,54.1 433.9,55.5 434.8,56.8 435.7,58.2 436.6,59.5 437.4,60.9 438.3,62.2 439.2,63.5 440.1,64.8 440.9,66.1 441.8,67.4 442.7,68.6 443.6,69.8 444.4,71 446.2,73.2 447.9,75.4 449.7,77.4 451.4,79.3 453.2,81.1 454.9,82.8 456.7,84.3 458.4,85.8 460.2,87.1 461.9,88.4 463.7,89.6 465.4,90.6 467.2,91.6 468.9,92.5 470.7,93.4 472.4,94.1 474.1,94.9 475.9,95.5 477.6,96.1 479.4,96.7 483.8,97.9 488.1,98.9 492.5,99.7 496.9,100.4 501.2,101 505.6,101.5 510,101.9 514.4,102.3 518.7,102.6 523.1,103 527.5,103.3 531.8,103.6 536.2,103.9 540.6,104.1 544.9,104.4 549.3,104.7 553.7,104.9 558.1,105.2 562.4,105.5 566.8,105.7 571.2,106 575.5,106.3 579.9,106.5 584.3,106.8 588.6,107 593,107.3 597.4,107.6 601.8,107.8"/>
<path d="M424.2,46.3 425.1,47 422.4,47.2 421.5,46.5Z" fill="#f8f917" stroke="#f8f917" stroke-width="0.35"/>
<path d="M425.1,47 426,48 423.3,48.1 422.4,47.2Z" fill="#f8f719" stroke="#f8f719" stroke-width="0.35"/>
<path d="M426,48 426.9,49.1 424.1,49.2 423.3,48.1Z" fill="#f7f61a" stroke="#f7f61a" stroke-width="0.35"/>
<path d="M426.9,49.1 427.7,50.3 425,50.3 424.1,49.2Z" fill="#f7f41c" stroke="#f7f41c" stroke-width="0.35"/>
<path d="M427.7,50.3 428.6,51.5 425.9,51.5 425,50.3Z" fill="#f7f31d" stroke="#f7f31d" stroke-width="0.35"/>
<path d="M428.6,51.5 429.5,52.8 426.8,52.8 425.9,51.5Z" fill="#f6f01f" stroke="#f6f01f" stroke-width="0.35"/>
<path d="M429.5,52.8 430.4,54.1 427.6,54.1 426.8,52.8Z" fill="#f5ee21" stroke="#f5ee21" stroke-width="0.35"/>
<path d="M430.4,54.1 431.2,55.5 428.5,55.4 427.6,54.1Z" fill="#f5eb23" stroke="#f5eb23" stroke-width="0.35"/>
<path d="M431.2,55.5 432.1,56.8 429.4,56.8 428.5,55.4Z" fill="#f5ea24" stroke="#f5ea24" stroke-width="0.35"/>
<path d="M432.1,56.8 433,58.2 430.3,58.1 429.4,56.8Z" fill="#f5e725" stroke="#f5e725" stroke-width="0.35"/>
<path d="M433,58.2 433.8,59.5 431.1,59.4 430.3,58.1Z" fill="#f5e526" stroke="#f5e526" stroke-width="0.35"/>
<path d="M433.8,59.5 434.7,60.8 432,60.8 431.1,59.4Z" fill="#f5e427" stroke="#f5e427" stroke-width="0.35"/>
<path d="M434.7,60.8 435.6,62.2 432.9,62.1 432,60.8Z" fill="#f6e128" stroke="#f6e128" stroke-width="0.35"/>
<path d="M435.6,62.2 436.5,63.5 433.8,63.4 432.9,62.1Z" fill="#f6df29" stroke="#f6df29" stroke-width="0.35"/>
<path d="M436.5,63.5 437.3,64.8 434.6,64.7 433.8,63.4Z" fill="#f7dc2a" stroke="#f7dc2a" stroke-width="0.35"/>
<path d="M437.3,64.8 438.2,66.1 435.5,66 434.6,64.7Z" fill="#f8da2b" stroke="#f8da2b" stroke-width="0.35"/>
<path d="M438.2,66.1 439.1,67.3 436.4,67.3 435.5,66Z" fill="#f9d72c" stroke="#f9d72c" stroke-width="0.35"/>
<path d="M439.1,67.3 440,68.6 437.2,68.5 436.4,67.3Z" fill="#fad62d" stroke="#fad62d" stroke-width="0.35"/>
<path d="M440,68.6 440.8,69.8 438.1,69.7 437.2,68.5Z" fill="#fad42e" stroke="#fad42e" stroke-width="0.35"/>
<path d="M440.8,69.8 441.7,71 439,70.9 438.1,69.7Z" fill="#fcd12f" stroke="#fcd12f" stroke-width="0.35"/>
<path d="M441.7,71 443.5,73.2 440.7,73.2 439,70.9Z" fill="#fccf30" stroke="#fccf30" stroke-width="0.35"/>
<path d="M443.5,73.2 445.2,75.4 442.5,75.4 440.7,73.2Z" fill="#fdcc32" stroke="#fdcc32" stroke-width="0.35"/>
<path d="M445.2,75.4 447,77.4 444.2,77.4 442.5,75.4Z" fill="#fec835" stroke="#fec835" stroke-width="0.35"/>
<path d="M447,77.4 448.7,79.4 446,79.4 444.2,77.4Z" fill="#fec537" stroke="#fec537" stroke-width="0.35"/>
<path d="M448.7,79.4 450.5,81.2 447.7,81.2 446,79.4Z" fill="#fec239" stroke="#fec239" stroke-width="0.35"/>
<path d="M450.5,81.2 452.2,82.9 449.5,82.9 447.7,81.2Z" fill="#febf3b" stroke="#febf3b" stroke-width="0.35"/>
<path d="M452.2,82.9 454,84.5 451.2,84.5 449.5,82.9Z" fill="#febe3c" stroke="#febe3c" stroke-width="0.35"/>
<path d="M454,84.5 455.7,85.9 453,86 451.2,84.5Z" fill="#fbbc3d" stroke="#fbbc3d" stroke-width="0.35"/>
<path d="M455.7,85.9 457.4,87.3 454.7,87.4 453,86Z" fill="#f8ba3d" stroke="#f8ba3d" stroke-width="0.35"/>
<path d="M457.4,87.3 459.2,88.6 456.5,88.7 454.7,87.4Z" fill="#f6ba3c" stroke="#f6ba3c" stroke-width="0.35"/>
<path d="M459.2,88.6 460.9,89.7 458.2,89.9 456.5,88.7Z" fill="#f4ba3a" stroke="#f4ba3a" stroke-width="0.35"/>
<path d="M460.9,89.7 462.7,90.8 460,91 458.2,89.9Z" fill="#f0ba36" stroke="#f0ba36" stroke-width="0.35"/>
<path d="M462.7,90.8 464.4,91.8 461.7,92 460,91Z" fill="#eeba34" stroke="#eeba34" stroke-width="0.35"/>
<path d="M464.4,91.8 466.2,92.8 463.5,93 461.7,92Z" fill="#ecba32" stroke="#ecba32" stroke-width="0.35"/>
<path d="M466.2,92.8 467.9,93.6 469.7,94.4 467,94.7 465.2,93.9 463.5,93Z" fill="#e9bb30" stroke="#e9bb30" stroke-width="0.35"/>
<path d="M469.7,94.4 471.4,95.1 468.7,95.4 467,94.7Z" fill="#e7bb2e" stroke="#e7bb2e" stroke-width="0.35"/>
<path d="M471.4,95.1 473.2,95.8 470.5,96.1 468.7,95.4Z" fill="#e5bb2c" stroke="#e5bb2c" stroke-width="0.35"/>
<path d="M473.2,95.8 474.9,96.4 476.7,97 474,97.3 472.2,96.7 470.5,96.1Z" fill="#e2bc2b" stroke="#e2bc2b" stroke-width="0.35"/>
<path d="M476.7,97 481,98.2 478.3,98.5 474,97.3Z" fill="#e0bc2a" stroke="#e0bc2a" stroke-width="0.35"/>
<path d="M481,98.2 485.4,99.2 482.7,99.5 478.3,98.5Z" fill="#c0a423" stroke="#c0a423" stroke-width="0.35"/>
<path d="M485.4,99.2 489.8,100 487.1,100.4 482.7,99.5Z" fill="#a28b1d" stroke="#a28b1d" stroke-width="0.35"/>
<path d="M489.8,100 494.2,100.7 491.4,101.1 487.1,100.4Z" fill="#937f1b" stroke="#937f1b" stroke-width="0.35"/>
<path d="M494.2,100.7 498.5,101.3 502.9,101.8 500.2,102.2 495.8,101.7 491.4,101.1Z" fill="#837318" stroke="#837318" stroke-width="0.35"/>
<path d="M502.9,101.8 507.3,102.2 504.5,102.6 500.2,102.2Z" fill="#756715" stroke="#756715" stroke-width="0.35"/>
<path d="M507.3,102.2 511.6,102.6 508.9,103 504.5,102.6Z" fill="#746715" stroke="#746715" stroke-width="0.35"/>
<path d="M511.6,102.6 516,103 520.4,103.3 524.7,103.6 529.1,103.9 533.5,104.2 530.8,104.6 526.4,104.3 522,104 517.7,103.7 513.3,103.4 508.9,103Z" fill="#665b13" stroke="#665b13" stroke-width="0.35"/>
<path d="M533.5,104.2 537.9,104.5 542.2,104.8 546.6,105 551,105.3 555.3,105.6 559.7,105.8 564.1,106.1 568.4,106.3 572.8,106.6 577.2,106.9 581.6,107.1 585.9,107.4 590.3,107.6 594.7,107.9 599,108.2 596.3,108.5 591.9,108.3 587.6,108 583.2,107.7 578.8,107.5 574.5,107.2 570.1,107 565.7,106.7 561.4,106.4 557,106.2 552.6,105.9 548.2,105.7 543.9,105.4 539.5,105.1 535.1,104.8 530.8,104.6Z" fill="#584e10" stroke="#584e10" stroke-width="0.35"/>
<path class="es" d="M424.2,46.3 425.1,47 426,48 426.9,49.1 427.7,50.3 428.6,51.5 429.5,52.8 430.4,54.1 431.2,55.5 432.1,56.8 433,58.2 433.8,59.5 434.7,60.8 435.6,62.2 436.5,63.5 437.3,64.8 438.2,66.1 439.1,67.3 440,68.6 440.8,69.8 441.7,71 443.5,73.2 445.2,75.4 447,77.4 448.7,79.4 450.5,81.2 452.2,82.9 454,84.5 455.7,85.9 457.4,87.3 459.2,88.6 460.9,89.7 462.7,90.8 464.4,91.8 466.2,92.8 467.9,93.6 469.7,94.4 471.4,95.1 473.2,95.8 474.9,96.4 476.7,97 481,98.2 485.4,99.2 489.8,100 494.2,100.7 498.5,101.3 502.9,101.8 507.3,102.2 511.6,102.6 516,103 520.4,103.3 524.7,103.6 529.1,103.9 533.5,104.2 537.9,104.5 542.2,104.8 546.6,105 551,105.3 555.3,105.6 559.7,105.8 564.1,106.1 568.4,106.3 572.8,106.6 577.2,106.9 581.6,107.1 585.9,107.4 590.3,107.6 594.7,107.9 599,108.2"/>
<path d="M421.5,46.5 422.4,47.2 419.7,47.3 418.8,46.7Z" fill="#f8f917" stroke="#f8f917" stroke-width="0.35"/>
<path d="M422.4,47.2 423.3,48.1 420.5,48.2 419.7,47.3Z" fill="#f8f719" stroke="#f8f719" stroke-width="0.35"/>
<path d="M423.3,48.1 424.1,49.2 421.4,49.2 420.5,48.2Z" fill="#f7f61a" stroke="#f7f61a" stroke-width="0.35"/>
<path d="M424.1,49.2 425,50.3 422.3,50.4 421.4,49.2Z" fill="#f7f41c" stroke="#f7f41c" stroke-width="0.35"/>
<path d="M425,50.3 425.9,51.5 423.2,51.6 422.3,50.4Z" fill="#f7f31d" stroke="#f7f31d" stroke-width="0.35"/>
<path d="M425.9,51.5 426.8,52.8 424,52.8 423.2,51.6Z" fill="#f6f11e" stroke="#f6f11e" stroke-width="0.35"/>
<path d="M426.8,52.8 427.6,54.1 424.9,54.1 424,52.8Z" fill="#f5ee21" stroke="#f5ee21" stroke-width="0.35"/>
<path d="M427.6,54.1 428.5,55.4 425.8,55.4 424.9,54.1Z" fill="#f5ed22" stroke="#f5ed22" stroke-width="0.35"/>
<path d="M428.5,55.4 429.4,56.8 426.7,56.7 425.8,55.4Z" fill="#f5ea24" stroke="#f5ea24" stroke-width="0.35"/>
<path d="M429.4,56.8 430.3,58.1 427.5,58 426.7,56.7Z" fill="#f5e825" stroke="#f5e825" stroke-width="0.35"/>
<path d="M430.3,58.1 431.1,59.4 428.4,59.3 427.5,58Z" fill="#f5e725" stroke="#f5e725" stroke-width="0.35"/>
<path d="M431.1,59.4 432,60.8 429.3,60.7 428.4,59.3Z" fill="#f5e427" stroke="#f5e427" stroke-width="0.35"/>
<path d="M432,60.8 432.9,62.1 430.2,62 429.3,60.7Z" fill="#f5e227" stroke="#f5e227" stroke-width="0.35"/>
<path d="M432.9,62.1 433.8,63.4 431,63.3 430.2,62Z" fill="#f6df29" stroke="#f6df29" stroke-width="0.35"/>
<path d="M433.8,63.4 434.6,64.7 431.9,64.6 431,63.3Z" fill="#f6de29" stroke="#f6de29" stroke-width="0.35"/>
<path d="M434.6,64.7 435.5,66 432.8,65.9 431.9,64.6Z" fill="#f8da2b" stroke="#f8da2b" stroke-width="0.35"/>
<path d="M435.5,66 436.4,67.3 433.7,67.1 432.8,65.9Z" fill="#f8d92c" stroke="#f8d92c" stroke-width="0.35"/>
<path d="M436.4,67.3 437.2,68.5 434.5,68.4 433.7,67.1Z" fill="#f9d72c" stroke="#f9d72c" stroke-width="0.35"/>
<path d="M437.2,68.5 438.1,69.7 435.4,69.6 434.5,68.4Z" fill="#fad42e" stroke="#fad42e" stroke-width="0.35"/>
<path d="M438.1,69.7 439,70.9 436.3,70.8 435.4,69.6Z" fill="#fbd32f" stroke="#fbd32f" stroke-width="0.35"/>
<path d="M439,70.9 440.7,73.2 438,73.1 436.3,70.8Z" fill="#fcd12f" stroke="#fcd12f" stroke-width="0.35"/>
<path d="M440.7,73.2 442.5,75.4 439.8,75.3 438,73.1Z" fill="#fdcc32" stroke="#fdcc32" stroke-width="0.35"/>
<path d="M442.5,75.4 444.2,77.4 441.5,77.4 439.8,75.3Z" fill="#fec934" stroke="#fec934" stroke-width="0.35"/>
<path d="M444.2,77.4 446,79.4 443.3,79.4 441.5,77.4Z" fill="#fec636" stroke="#fec636" stroke-width="0.35"/>
<path d="M446,79.4 447.7,81.2 445,81.2 443.3,79.4Z" fill="#fec338" stroke="#fec338" stroke-width="0.35"/>
<path d="M447.7,81.2 449.5,82.9 446.8,83 445,81.2Z" fill="#fec13a" stroke="#fec13a" stroke-width="0.35"/>
<path d="M449.5,82.9 451.2,84.5 448.5,84.6 446.8,83Z" fill="#febe3c" stroke="#febe3c" stroke-width="0.35"/>
<path d="M451.2,84.5 453,86 450.3,86.1 448.5,84.6Z" fill="#fbbc3d" stroke="#fbbc3d" stroke-width="0.35"/>
<path d="M453,86 454.7,87.4 452,87.5 450.3,86.1Z" fill="#fabb3d" stroke="#fabb3d" stroke-width="0.35"/>
<path d="M454.7,87.4 456.5,88.7 453.8,88.8 452,87.5Z" fill="#f6ba3c" stroke="#f6ba3c" stroke-width="0.35"/>
<path d="M456.5,88.7 458.2,89.9 455.5,90.1 453.8,88.8Z" fill="#f4ba3a" stroke="#f4ba3a" stroke-width="0.35"/>
<path d="M458.2,89.9 460,91 457.3,91.2 455.5,90.1Z" fill="#f2ba38" stroke="#f2ba38" stroke-width="0.35"/>
<path d="M460,91 461.7,92 459,92.2 457.3,91.2Z" fill="#f0ba36" stroke="#f0ba36" stroke-width="0.35"/>
<path d="M461.7,92 463.5,93 460.8,93.2 459,92.2Z" fill="#eeba34" stroke="#eeba34" stroke-width="0.35"/>
<path d="M463.5,93 465.2,93.9 462.5,94.1 460.8,93.2Z" fill="#ecba32" stroke="#ecba32" stroke-width="0.35"/>
<path d="M465.2,93.9 467,94.7 464.2,94.9 462.5,94.1Z" fill="#e9bb30" stroke="#e9bb30" stroke-width="0.35"/>
<path d="M467,94.7 468.7,95.4 466,95.7 464.2,94.9Z" fill="#e7bb2e" stroke="#e7bb2e" stroke-width="0.35"/>
<path d="M468.7,95.4 470.5,96.1 472.2,96.7 469.5,97 467.7,96.4 466,95.7Z" fill="#e5bb2c" stroke="#e5bb2c" stroke-width="0.35"/>
<path d="M472.2,96.7 474,97.3 478.3,98.5 475.6,98.9 471.2,97.6 469.5,97Z" fill="#e2bc2b" stroke="#e2bc2b" stroke-width="0.35"/>
<path d="M478.3,98.5 482.7,99.5 480,99.9 475.6,98.9Z" fill="#c0a423" stroke="#c0a423" stroke-width="0.35"/>
<path d="M482.7,99.5 487.1,100.4 484.4,100.7 480,99.9Z" fill="#b19821" stroke="#b19821" stroke-width="0.35"/>
<path d="M487.1,100.4 491.4,101.1 488.7,101.4 484.4,100.7Z" fill="#a28b1d" stroke="#a28b1d" stroke-width="0.35"/>
<path d="M491.4,101.1 495.8,101.7 493.1,102 488.7,101.4Z" fill="#91801b" stroke="#91801b" stroke-width="0.35"/>
<path d="M495.8,101.7 500.2,102.2 497.5,102.5 493.1,102Z" fill="#837318" stroke="#837318" stroke-width="0.35"/>
<path d="M500.2,102.2 504.5,102.6 508.9,103 506.2,103.4 501.8,103 497.5,102.5Z" fill="#756715" stroke="#756715" stroke-width="0.35"/>
<path d="M508.9,103 513.3,103.4 517.7,103.7 522,104 526.4,104.3 530.8,104.6 535.1,104.8 539.5,105.1 543.9,105.4 548.2,105.7 545.5,106 541.2,105.8 536.8,105.5 532.4,105.2 528.1,104.9 523.7,104.7 519.3,104.4 514.9,104.1 510.6,103.7 506.2,103.4Z" fill="#665b13" stroke="#665b13" stroke-width="0.35"/>
<path d="M548.2,105.7 552.6,105.9 557,106.2 561.4,106.4 565.7,106.7 570.1,107 574.5,107.2 578.8,107.5 583.2,107.7 587.6,108 591.9,108.3 596.3,108.5 593.6,108.9 589.2,108.6 584.9,108.4 580.5,108.1 576.1,107.9 571.8,107.6 567.4,107.3 563,107.1 558.6,106.8 554.3,106.6 549.9,106.3 545.5,106Z" fill="#584e10" stroke="#584e10" stroke-width="0.35"/>
<path class="es" d="M421.5,46.5 422.4,47.2 423.3,48.1 424.1,49.2 425,50.3 425.9,51.5 426.8,52.8 427.6,54.1 428.5,55.4 429.4,56.8 430.3,58.1 431.1,59.4 432,60.8 432.9,62.1 433.8,63.4 434.6,64.7 435.5,66 436.4,67.3 437.2,68.5 438.1,69.7 439,70.9 440.7,73.2 442.5,75.4 444.2,77.4 446,79.4 447.7,81.2 449.5,82.9 451.2,84.5 453,86 454.7,87.4 456.5,88.7 458.2,89.9 460,91 461.7,92 463.5,93 465.2,93.9 467,94.7 468.7,95.4 470.5,96.1 472.2,96.7 474,97.3 478.3,98.5 482.7,99.5 487.1,100.4 491.4,101.1 495.8,101.7 500.2,102.2 504.5,102.6 508.9,103 513.3,103.4 517.7,103.7 522,104 526.4,104.3 530.8,104.6 535.1,104.8 539.5,105.1 543.9,105.4 548.2,105.7 552.6,105.9 557,106.2 561.4,106.4 565.7,106.7 570.1,107 574.5,107.2 578.8,107.5 583.2,107.7 587.6,108 591.9,108.3 596.3,108.5"/>
<path d="M418.8,46.7 419.7,47.3 420.5,48.2 417.8,48.4 417,47.5 416.1,47Z" fill="#f8f917" stroke="#f8f917" stroke-width="0.35"/>
<path d="M420.5,48.2 421.4,49.2 418.7,49.3 417.8,48.4Z" fill="#f8f719" stroke="#f8f719" stroke-width="0.35"/>
<path d="M421.4,49.2 422.3,50.4 419.6,50.4 418.7,49.3Z" fill="#f7f61a" stroke="#f7f61a" stroke-width="0.35"/>
<path d="M422.3,50.4 423.2,51.6 420.5,51.6 419.6,50.4Z" fill="#f7f31d" stroke="#f7f31d" stroke-width="0.35"/>
<path d="M423.2,51.6 424,52.8 421.3,52.8 420.5,51.6Z" fill="#f6f11e" stroke="#f6f11e" stroke-width="0.35"/>
<path d="M424,52.8 424.9,54.1 422.2,54 421.3,52.8Z" fill="#f6f01f" stroke="#f6f01f" stroke-width="0.35"/>
<path d="M424.9,54.1 425.8,55.4 423.1,55.3 422.2,54Z" fill="#f5ed22" stroke="#f5ed22" stroke-width="0.35"/>
<path d="M425.8,55.4 426.7,56.7 424,56.6 423.1,55.3Z" fill="#f5eb23" stroke="#f5eb23" stroke-width="0.35"/>
<path d="M426.7,56.7 427.5,58 424.8,57.9 424,56.6Z" fill="#f5ea24" stroke="#f5ea24" stroke-width="0.35"/>
<path d="M427.5,58 428.4,59.3 425.7,59.2 424.8,57.9Z" fill="#f5e725" stroke="#f5e725" stroke-width="0.35"/>
<path d="M428.4,59.3 429.3,60.7 426.6,60.5 425.7,59.2Z" fill="#f5e526" stroke="#f5e526" stroke-width="0.35"/>
<path d="M429.3,60.7 430.2,62 427.4,61.8 426.6,60.5Z" fill="#f5e227" stroke="#f5e227" stroke-width="0.35"/>
<path d="M430.2,62 431,63.3 428.3,63.1 427.4,61.8Z" fill="#f6e128" stroke="#f6e128" stroke-width="0.35"/>
<path d="M431,63.3 431.9,64.6 429.2,64.4 428.3,63.1Z" fill="#f6df29" stroke="#f6df29" stroke-width="0.35"/>
<path d="M431.9,64.6 432.8,65.9 430.1,65.7 429.2,64.4Z" fill="#f7dc2a" stroke="#f7dc2a" stroke-width="0.35"/>
<path d="M432.8,65.9 433.7,67.1 430.9,67 430.1,65.7Z" fill="#f8da2b" stroke="#f8da2b" stroke-width="0.35"/>
<path d="M433.7,67.1 434.5,68.4 431.8,68.2 430.9,67Z" fill="#f9d72c" stroke="#f9d72c" stroke-width="0.35"/>
<path d="M434.5,68.4 435.4,69.6 432.7,69.4 431.8,68.2Z" fill="#fad62d" stroke="#fad62d" stroke-width="0.35"/>
<path d="M435.4,69.6 436.3,70.8 433.6,70.6 432.7,69.4Z" fill="#fad42e" stroke="#fad42e" stroke-width="0.35"/>
<path d="M436.3,70.8 438,73.1 435.3,72.9 433.6,70.6Z" fill="#fcd12f" stroke="#fcd12f" stroke-width="0.35"/>
<path d="M438,73.1 439.8,75.3 437.1,75.2 435.3,72.9Z" fill="#fdce31" stroke="#fdce31" stroke-width="0.35"/>
<path d="M439.8,75.3 441.5,77.4 438.8,77.3 437.1,75.2Z" fill="#fdcb33" stroke="#fdcb33" stroke-width="0.35"/>
<path d="M441.5,77.4 443.3,79.4 440.6,79.3 438.8,77.3Z" fill="#fec636" stroke="#fec636" stroke-width="0.35"/>
<path d="M443.3,79.4 445,81.2 442.3,81.2 440.6,79.3Z" fill="#fec338" stroke="#fec338" stroke-width="0.35"/>
<path d="M445,81.2 446.8,83 444.1,82.9 442.3,81.2Z" fill="#fec13a" stroke="#fec13a" stroke-width="0.35"/>
<path d="M446.8,83 448.5,84.6 445.8,84.6 444.1,82.9Z" fill="#febf3b" stroke="#febf3b" stroke-width="0.35"/>
<path d="M448.5,84.6 450.3,86.1 447.5,86.2 445.8,84.6Z" fill="#fdbd3d" stroke="#fdbd3d" stroke-width="0.35"/>
<path d="M450.3,86.1 452,87.5 449.3,87.6 447.5,86.2Z" fill="#fabb3d" stroke="#fabb3d" stroke-width="0.35"/>
<path d="M452,87.5 453.8,88.8 451,88.9 449.3,87.6Z" fill="#f8ba3d" stroke="#f8ba3d" stroke-width="0.35"/>
<path d="M453.8,88.8 455.5,90.1 452.8,90.2 451,88.9Z" fill="#f4ba3a" stroke="#f4ba3a" stroke-width="0.35"/>
<path d="M455.5,90.1 457.3,91.2 454.5,91.4 452.8,90.2Z" fill="#f2ba38" stroke="#f2ba38" stroke-width="0.35"/>
<path d="M457.3,91.2 459,92.2 456.3,92.4 454.5,91.4Z" fill="#f0ba36" stroke="#f0ba36" stroke-width="0.35"/>
<path d="M459,92.2 460.8,93.2 458,93.4 456.3,92.4Z" fill="#eeba34" stroke="#eeba34" stroke-width="0.35"/>
<path d="M460.8,93.2 462.5,94.1 459.8,94.3 458,93.4Z" fill="#ecba32" stroke="#ecba32" stroke-width="0.35"/>
<path d="M462.5,94.1 464.2,94.9 461.5,95.2 459.8,94.3Z" fill="#e9bb30" stroke="#e9bb30" stroke-width="0.35"/>
<path d="M464.2,94.9 466,95.7 467.7,96.4 465,96.6 463.3,95.9 461.5,95.2Z" fill="#e7bb2e" stroke="#e7bb2e" stroke-width="0.35"/>
<path d="M467.7,96.4 469.5,97 466.8,97.3 465,96.6Z" fill="#e5bb2c" stroke="#e5bb2c" stroke-width="0.35"/>
<path d="M469.5,97 471.2,97.6 475.6,98.9 472.9,99.2 468.5,97.9 466.8,97.3Z" fill="#e2bc2b" stroke="#e2bc2b" stroke-width="0.35"/>
<path d="M475.6,98.9 480,99.9 477.3,100.2 472.9,99.2Z" fill="#c2a324" stroke="#c2a324" stroke-width="0.35"/>
<path d="M480,99.9 484.4,100.7 481.6,101.1 477.3,100.2Z" fill="#b19821" stroke="#b19821" stroke-width="0.35"/>
<path d="M484.4,100.7 488.7,101.4 486,101.8 481.6,101.1Z" fill="#a28b1d" stroke="#a28b1d" stroke-width="0.35"/>
<path d="M488.7,101.4 493.1,102 490.4,102.4 486,101.8Z" fill="#937f1b" stroke="#937f1b" stroke-width="0.35"/>
<path d="M493.1,102 497.5,102.5 494.7,102.9 490.4,102.4Z" fill="#837318" stroke="#837318" stroke-width="0.35"/>
<path d="M497.5,102.5 501.8,103 506.2,103.4 510.6,103.7 507.9,104.1 503.5,103.8 499.1,103.4 494.7,102.9Z" fill="#756715" stroke="#756715" stroke-width="0.35"/>
<path d="M510.6,103.7 514.9,104.1 519.3,104.4 523.7,104.7 528.1,104.9 532.4,105.2 536.8,105.5 541.2,105.8 545.5,106 549.9,106.3 554.3,106.6 558.6,106.8 563,107.1 567.4,107.3 571.8,107.6 576.1,107.9 580.5,108.1 584.9,108.4 589.2,108.6 593.6,108.9 590.9,109.3 586.5,109 582.1,108.8 577.8,108.5 573.4,108.3 569,108 564.7,107.7 560.3,107.5 555.9,107.2 551.6,106.9 547.2,106.7 542.8,106.4 538.4,106.2 534.1,105.9 529.7,105.6 525.3,105.3 521,105.1 516.6,104.8 512.2,104.4 507.9,104.1Z" fill="#665b13" stroke="#665b13" stroke-width="0.35"/>
<path class="es" d="M418.8,46.7 419.7,47.3 420.5,48.2 421.4,49.2 422.3,50.4 423.2,51.6 424,52.8 424.9,54.1 425.8,55.4 426.7,56.7 427.5,58 428.4,59.3 429.3,60.7 430.2,62 431,63.3 431.9,64.6 432.8,65.9 433.7,67.1 434.5,68.4 435.4,69.6 436.3,70.8 438,73.1 439.8,75.3 441.5,77.4 443.3,79.4 445,81.2 446.8,83 448.5,84.6 450.3,86.1 452,87.5 453.8,88.8 455.5,90.1 457.3,91.2 459,92.2 460.8,93.2 462.5,94.1 464.2,94.9 466,95.7 467.7,96.4 469.5,97 471.2,97.6 475.6,98.9 480,99.9 484.4,100.7 488.7,101.4 493.1,102 497.5,102.5 501.8,103 506.2,103.4 510.6,103.7 514.9,104.1 519.3,104.4 523.7,104.7 528.1,104.9 532.4,105.2 536.8,105.5 541.2,105.8 545.5,106 549.9,106.3 554.3,106.6 558.6,106.8 563,107.1 567.4,107.3 571.8,107.6 576.1,107.9 580.5,108.1 584.9,108.4 589.2,108.6 593.6,108.9"/>
<path d="M416.1,47 417,47.5 414.2,47.7 413.4,47.2Z" fill="#f9fa15" stroke="#f9fa15" stroke-width="0.35"/>
<path d="M417,47.5 417.8,48.4 415.1,48.5 414.2,47.7Z" fill="#f8f917" stroke="#f8f917" stroke-width="0.35"/>
<path d="M417.8,48.4 418.7,49.3 416,49.4 415.1,48.5Z" fill="#f8f719" stroke="#f8f719" stroke-width="0.35"/>
<path d="M418.7,49.3 419.6,50.4 416.9,50.5 416,49.4Z" fill="#f7f61a" stroke="#f7f61a" stroke-width="0.35"/>
<path d="M419.6,50.4 420.5,51.6 417.7,51.6 416.9,50.5Z" fill="#f7f41c" stroke="#f7f41c" stroke-width="0.35"/>
<path d="M420.5,51.6 421.3,52.8 418.6,52.7 417.7,51.6Z" fill="#f7f31d" stroke="#f7f31d" stroke-width="0.35"/>
<path d="M421.3,52.8 422.2,54 419.5,53.9 418.6,52.7Z" fill="#f6f01f" stroke="#f6f01f" stroke-width="0.35"/>
<path d="M422.2,54 423.1,55.3 420.4,55.2 419.5,53.9Z" fill="#f5ee21" stroke="#f5ee21" stroke-width="0.35"/>
<path d="M423.1,55.3 424,56.6 421.2,56.5 420.4,55.2Z" fill="#f5ed22" stroke="#f5ed22" stroke-width="0.35"/>
<path d="M424,56.6 424.8,57.9 422.1,57.7 421.2,56.5Z" fill="#f5ea24" stroke="#f5ea24" stroke-width="0.35"/>
<path d="M424.8,57.9 425.7,59.2 423,59 422.1,57.7Z" fill="#f5e825" stroke="#f5e825" stroke-width="0.35"/>
<path d="M425.7,59.2 426.6,60.5 423.9,60.3 423,59Z" fill="#f5e526" stroke="#f5e526" stroke-width="0.35"/>
<path d="M426.6,60.5 427.4,61.8 424.7,61.6 423.9,60.3Z" fill="#f5e427" stroke="#f5e427" stroke-width="0.35"/>
<path d="M427.4,61.8 428.3,63.1 425.6,62.9 424.7,61.6Z" fill="#f5e227" stroke="#f5e227" stroke-width="0.35"/>
<path d="M428.3,63.1 429.2,64.4 426.5,64.2 425.6,62.9Z" fill="#f6df29" stroke="#f6df29" stroke-width="0.35"/>
<path d="M429.2,64.4 430.1,65.7 427.4,65.5 426.5,64.2Z" fill="#f6de29" stroke="#f6de29" stroke-width="0.35"/>
<path d="M430.1,65.7 430.9,67 428.2,66.7 427.4,65.5Z" fill="#f8da2b" stroke="#f8da2b" stroke-width="0.35"/>
<path d="M430.9,67 431.8,68.2 429.1,68 428.2,66.7Z" fill="#f8d92c" stroke="#f8d92c" stroke-width="0.35"/>
<path d="M431.8,68.2 432.7,69.4 430,69.2 429.1,68Z" fill="#f9d72c" stroke="#f9d72c" stroke-width="0.35"/>
<path d="M432.7,69.4 433.6,70.6 430.8,70.4 430,69.2Z" fill="#fad42e" stroke="#fad42e" stroke-width="0.35"/>
<path d="M433.6,70.6 435.3,72.9 432.6,72.7 430.8,70.4Z" fill="#fbd32f" stroke="#fbd32f" stroke-width="0.35"/>
<path d="M435.3,72.9 437.1,75.2 434.3,75 432.6,72.7Z" fill="#fccf30" stroke="#fccf30" stroke-width="0.35"/>
<path d="M437.1,75.2 438.8,77.3 436.1,77.1 434.3,75Z" fill="#fdcb33" stroke="#fdcb33" stroke-width="0.35"/>
<path d="M438.8,77.3 440.6,79.3 437.8,79.1 436.1,77.1Z" fill="#fec835" stroke="#fec835" stroke-width="0.35"/>
<path d="M440.6,79.3 442.3,81.2 439.6,81.1 437.8,79.1Z" fill="#fec537" stroke="#fec537" stroke-width="0.35"/>
<path d="M442.3,81.2 444.1,82.9 441.3,82.9 439.6,81.1Z" fill="#fec239" stroke="#fec239" stroke-width="0.35"/>
<path d="M444.1,82.9 445.8,84.6 443.1,84.6 441.3,82.9Z" fill="#febf3b" stroke="#febf3b" stroke-width="0.35"/>
<path d="M445.8,84.6 447.5,86.2 444.8,86.2 443.1,84.6Z" fill="#fdbd3d" stroke="#fdbd3d" stroke-width="0.35"/>
<path d="M447.5,86.2 449.3,87.6 446.6,87.6 444.8,86.2Z" fill="#fbbc3d" stroke="#fbbc3d" stroke-width="0.35"/>
<path d="M449.3,87.6 451,88.9 448.3,89 446.6,87.6Z" fill="#f8ba3d" stroke="#f8ba3d" stroke-width="0.35"/>
<path d="M451,88.9 452.8,90.2 450.1,90.3 448.3,89Z" fill="#f6ba3c" stroke="#f6ba3c" stroke-width="0.35"/>
<path d="M452.8,90.2 454.5,91.4 451.8,91.5 450.1,90.3Z" fill="#f2ba38" stroke="#f2ba38" stroke-width="0.35"/>
<path d="M454.5,91.4 456.3,92.4 453.6,92.6 451.8,91.5Z" fill="#f0ba36" stroke="#f0ba36" stroke-width="0.35"/>
<path d="M456.3,92.4 458,93.4 455.3,93.6 453.6,92.6Z" fill="#eeba34" stroke="#eeba34" stroke-width="0.35"/>
<path d="M458,93.4 459.8,94.3 457.1,94.5 455.3,93.6Z" fill="#ecba32" stroke="#ecba32" stroke-width="0.35"/>
<path d="M459.8,94.3 461.5,95.2 463.3,95.9 460.6,96.2 458.8,95.4 457.1,94.5Z" fill="#e9bb30" stroke="#e9bb30" stroke-width="0.35"/>
<path d="M463.3,95.9 465,96.6 462.3,96.9 460.6,96.2Z" fill="#e7bb2e" stroke="#e7bb2e" stroke-width="0.35"/>
<path d="M465,96.6 466.8,97.3 464.1,97.6 462.3,96.9Z" fill="#e5bb2c" stroke="#e5bb2c" stroke-width="0.35"/>
<path d="M466.8,97.3 468.5,97.9 472.9,99.2 470.2,99.5 465.8,98.2 464.1,97.6Z" fill="#e2bc2b" stroke="#e2bc2b" stroke-width="0.35"/>
<path d="M472.9,99.2 477.3,100.2 474.5,100.6 470.2,99.5Z" fill="#d1af27" stroke="#d1af27" stroke-width="0.35"/>
<path d="M477.3,100.2 481.6,101.1 478.9,101.5 474.5,100.6Z" fill="#b19821" stroke="#b19821" stroke-width="0.35"/>
<path d="M481.6,101.1 486,101.8 483.3,102.2 478.9,101.5Z" fill="#a28b1d" stroke="#a28b1d" stroke-width="0.35"/>
<path d="M486,101.8 490.4,102.4 487.7,102.8 483.3,102.2Z" fill="#937f1b" stroke="#937f1b" stroke-width="0.35"/>
<path d="M490.4,102.4 494.7,102.9 499.1,103.4 496.4,103.8 492,103.3 487.7,102.8Z" fill="#837318" stroke="#837318" stroke-width="0.35"/>
<path d="M499.1,103.4 503.5,103.8 507.9,104.1 512.2,104.4 509.5,104.9 505.1,104.5 500.8,104.2 496.4,103.8Z" fill="#756715" stroke="#756715" stroke-width="0.35"/>
<path d="M512.2,104.4 516.6,104.8 521,105.1 525.3,105.3 529.7,105.6 534.1,105.9 538.4,106.2 542.8,106.4 547.2,106.7 551.6,106.9 555.9,107.2 560.3,107.5 564.7,107.7 569,108 573.4,108.3 577.8,108.5 582.1,108.8 586.5,109 590.9,109.3 588.2,109.7 583.8,109.4 579.4,109.2 575.1,108.9 570.7,108.7 566.3,108.4 561.9,108.1 557.6,107.9 553.2,107.6 548.8,107.3 544.5,107.1 540.1,106.8 535.7,106.6 531.4,106.3 527,106 522.6,105.7 518.2,105.5 513.9,105.2 509.5,104.9Z" fill="#665b13" stroke="#665b13" stroke-width="0.35"/>
<path class="es" d="M416.1,47 417,47.5 417.8,48.4 418.7,49.3 419.6,50.4 420.5,51.6 421.3,52.8 422.2,54 423.1,55.3 424,56.6 424.8,57.9 425.7,59.2 426.6,60.5 427.4,61.8 428.3,63.1 429.2,64.4 430.1,65.7 430.9,67 431.8,68.2 432.7,69.4 433.6,70.6 435.3,72.9 437.1,75.2 438.8,77.3 440.6,79.3 442.3,81.2 444.1,82.9 445.8,84.6 447.5,86.2 449.3,87.6 451,88.9 452.8,90.2 454.5,91.4 456.3,92.4 458,93.4 459.8,94.3 461.5,95.2 463.3,95.9 465,96.6 466.8,97.3 468.5,97.9 472.9,99.2 477.3,100.2 481.6,101.1 486,101.8 490.4,102.4 494.7,102.9 499.1,103.4 503.5,103.8 507.9,104.1 512.2,104.4 516.6,104.8 521,105.1 525.3,105.3 529.7,105.6 534.1,105.9 538.4,106.2 542.8,106.4 547.2,106.7 551.6,106.9 555.9,107.2 560.3,107.5 564.7,107.7 569,108 573.4,108.3 577.8,108.5 582.1,108.8 586.5,109 590.9,109.3"/>
<path d="M413.4,47.2 414.2,47.7 411.5,48 410.7,47.5Z" fill="#f9fa15" stroke="#f9fa15" stroke-width="0.35"/>
<path d="M414.2,47.7 415.1,48.5 412.4,48.7 411.5,48Z" fill="#f8f917" stroke="#f8f917" stroke-width="0.35"/>
<path d="M415.1,48.5 416,49.4 413.3,49.6 412.4,48.7Z" fill="#f8f719" stroke="#f8f719" stroke-width="0.35"/>
<path d="M416,49.4 416.9,50.5 414.1,50.5 413.3,49.6Z" fill="#f7f61a" stroke="#f7f61a" stroke-width="0.35"/>
<path d="M416.9,50.5 417.7,51.6 415,51.6 414.1,50.5Z" fill="#f7f41c" stroke="#f7f41c" stroke-width="0.35"/>
<path d="M417.7,51.6 418.6,52.7 415.9,52.7 415,51.6Z" fill="#f7f31d" stroke="#f7f31d" stroke-width="0.35"/>
<path d="M418.6,52.7 419.5,53.9 416.8,53.9 415.9,52.7Z" fill="#f6f11e" stroke="#f6f11e" stroke-width="0.35"/>
<path d="M419.5,53.9 420.4,55.2 417.6,55.1 416.8,53.9Z" fill="#f6f01f" stroke="#f6f01f" stroke-width="0.35"/>
<path d="M420.4,55.2 421.2,56.5 418.5,56.3 417.6,55.1Z" fill="#f5ed22" stroke="#f5ed22" stroke-width="0.35"/>
<path d="M421.2,56.5 422.1,57.7 419.4,57.6 418.5,56.3Z" fill="#f5eb23" stroke="#f5eb23" stroke-width="0.35"/>
<path d="M422.1,57.7 423,59 420.3,58.8 419.4,57.6Z" fill="#f5ea24" stroke="#f5ea24" stroke-width="0.35"/>
<path d="M423,59 423.9,60.3 421.1,60.1 420.3,58.8Z" fill="#f5e725" stroke="#f5e725" stroke-width="0.35"/>
<path d="M423.9,60.3 424.7,61.6 422,61.4 421.1,60.1Z" fill="#f5e526" stroke="#f5e526" stroke-width="0.35"/>
<path d="M424.7,61.6 425.6,62.9 422.9,62.6 422,61.4Z" fill="#f5e227" stroke="#f5e227" stroke-width="0.35"/>
<path d="M425.6,62.9 426.5,64.2 423.8,63.9 422.9,62.6Z" fill="#f6e128" stroke="#f6e128" stroke-width="0.35"/>
<path d="M426.5,64.2 427.4,65.5 424.6,65.2 423.8,63.9Z" fill="#f6df29" stroke="#f6df29" stroke-width="0.35"/>
<path d="M427.4,65.5 428.2,66.7 425.5,66.4 424.6,65.2Z" fill="#f7dc2a" stroke="#f7dc2a" stroke-width="0.35"/>
<path d="M428.2,66.7 429.1,68 426.4,67.7 425.5,66.4Z" fill="#f8da2b" stroke="#f8da2b" stroke-width="0.35"/>
<path d="M429.1,68 430,69.2 427.3,68.9 426.4,67.7Z" fill="#f8d92c" stroke="#f8d92c" stroke-width="0.35"/>
<path d="M430,69.2 430.8,70.4 428.1,70.1 427.3,68.9Z" fill="#fad62d" stroke="#fad62d" stroke-width="0.35"/>
<path d="M430.8,70.4 432.6,72.7 429.9,72.5 428.1,70.1Z" fill="#fad42e" stroke="#fad42e" stroke-width="0.35"/>
<path d="M432.6,72.7 434.3,75 431.6,74.7 429.9,72.5Z" fill="#fccf30" stroke="#fccf30" stroke-width="0.35"/>
<path d="M434.3,75 436.1,77.1 433.4,76.9 431.6,74.7Z" fill="#fdcc32" stroke="#fdcc32" stroke-width="0.35"/>
<path d="M436.1,77.1 437.8,79.1 435.1,79 433.4,76.9Z" fill="#fec934" stroke="#fec934" stroke-width="0.35"/>
<path d="M437.8,79.1 439.6,81.1 436.9,80.9 435.1,79Z" fill="#fec636" stroke="#fec636" stroke-width="0.35"/>
<path d="M439.6,81.1 441.3,82.9 438.6,82.7 436.9,80.9Z" fill="#fec338" stroke="#fec338" stroke-width="0.35"/>
<path d="M441.3,82.9 443.1,84.6 440.4,84.5 438.6,82.7Z" fill="#fec13a" stroke="#fec13a" stroke-width="0.35"/>
<path d="M443.1,84.6 444.8,86.2 442.1,86.1 440.4,84.5Z" fill="#febe3c" stroke="#febe3c" stroke-width="0.35"/>
<path d="M444.8,86.2 446.6,87.6 443.9,87.6 442.1,86.1Z" fill="#fbbc3d" stroke="#fbbc3d" stroke-width="0.35"/>
<path d="M446.6,87.6 448.3,89 445.6,89 443.9,87.6Z" fill="#fabb3d" stroke="#fabb3d" stroke-width="0.35"/>
<path d="M448.3,89 450.1,90.3 447.4,90.3 445.6,89Z" fill="#f6ba3c" stroke="#f6ba3c" stroke-width="0.35"/>
<path d="M450.1,90.3 451.8,91.5 449.1,91.6 447.4,90.3Z" fill="#f4ba3a" stroke="#f4ba3a" stroke-width="0.35"/>
<path d="M451.8,91.5 453.6,92.6 450.9,92.7 449.1,91.6Z" fill="#f2ba38" stroke="#f2ba38" stroke-width="0.35"/>
<path d="M453.6,92.6 455.3,93.6 452.6,93.7 450.9,92.7Z" fill="#f0ba36" stroke="#f0ba36" stroke-width="0.35"/>
<path d="M455.3,93.6 457.1,94.5 454.4,94.7 452.6,93.7Z" fill="#eeba34" stroke="#eeba34" stroke-width="0.35"/>
<path d="M457.1,94.5 458.8,95.4 456.1,95.6 454.4,94.7Z" fill="#ecba32" stroke="#ecba32" stroke-width="0.35"/>
<path d="M458.8,95.4 460.6,96.2 457.8,96.4 456.1,95.6Z" fill="#e9bb30" stroke="#e9bb30" stroke-width="0.35"/>
<path d="M460.6,96.2 462.3,96.9 459.6,97.2 457.8,96.4Z" fill="#e7bb2e" stroke="#e7bb2e" stroke-width="0.35"/>
<path d="M462.3,96.9 464.1,97.6 465.8,98.2 463.1,98.5 461.3,97.9 459.6,97.2Z" fill="#e5bb2c" stroke="#e5bb2c" stroke-width="0.35"/>
<path d="M465.8,98.2 470.2,99.5 467.5,99.9 463.1,98.5Z" fill="#e2bc2b" stroke="#e2bc2b" stroke-width="0.35"/>
<path d="M470.2,99.5 474.5,100.6 471.8,101 467.5,99.9Z" fill="#d1af27" stroke="#d1af27" stroke-width="0.35"/>
<path d="M474.5,100.6 478.9,101.5 476.2,101.9 471.8,101Z" fill="#b19821" stroke="#b19821" stroke-width="0.35"/>
<path d="M478.9,101.5 483.3,102.2 480.6,102.6 476.2,101.9Z" fill="#a28b1d" stroke="#a28b1d" stroke-width="0.35"/>
<path d="M483.3,102.2 487.7,102.8 484.9,103.2 480.6,102.6Z" fill="#937f1b" stroke="#937f1b" stroke-width="0.35"/>
<path d="M487.7,102.8 492,103.3 489.3,103.7 484.9,103.2Z" fill="#91801b" stroke="#91801b" stroke-width="0.35"/>
<path d="M492,103.3 496.4,103.8 500.8,104.2 498.1,104.6 493.7,104.2 489.3,103.7Z" fill="#837318" stroke="#837318" stroke-width="0.35"/>
<path d="M500.8,104.2 505.1,104.5 509.5,104.9 513.9,105.2 511.2,105.6 506.8,105.3 502.4,104.9 498.1,104.6Z" fill="#756715" stroke="#756715" stroke-width="0.35"/>
<path d="M513.9,105.2 518.2,105.5 515.5,105.9 511.2,105.6Z" fill="#746715" stroke="#746715" stroke-width="0.35"/>
<path d="M518.2,105.5 522.6,105.7 527,106 531.4,106.3 535.7,106.6 540.1,106.8 544.5,107.1 548.8,107.3 553.2,107.6 557.6,107.9 561.9,108.1 566.3,108.4 570.7,108.7 575.1,108.9 579.4,109.2 583.8,109.4 588.2,109.7 585.5,110.1 581.1,109.8 576.7,109.6 572.3,109.3 568,109.1 563.6,108.8 559.2,108.5 554.9,108.3 550.5,108 546.1,107.8 541.8,107.5 537.4,107.2 533,107 528.6,106.7 524.3,106.4 519.9,106.2 515.5,105.9Z" fill="#665b13" stroke="#665b13" stroke-width="0.35"/>
<path class="es" d="M413.4,47.2 414.2,47.7 415.1,48.5 416,49.4 416.9,50.5 417.7,51.6 418.6,52.7 419.5,53.9 420.4,55.2 421.2,56.5 422.1,57.7 423,59 423.9,60.3 424.7,61.6 425.6,62.9 426.5,64.2 427.4,65.5 428.2,66.7 429.1,68 430,69.2 430.8,70.4 432.6,72.7 434.3,75 436.1,77.1 437.8,79.1 439.6,81.1 441.3,82.9 443.1,84.6 444.8,86.2 446.6,87.6 448.3,89 450.1,90.3 451.8,91.5 453.6,92.6 455.3,93.6 457.1,94.5 458.8,95.4 460.6,96.2 462.3,96.9 464.1,97.6 465.8,98.2 470.2,99.5 474.5,100.6 478.9,101.5 483.3,102.2 487.7,102.8 492,103.3 496.4,103.8 500.8,104.2 505.1,104.5 509.5,104.9 513.9,105.2 518.2,105.5 522.6,105.7 527,106 531.4,106.3 535.7,106.6 540.1,106.8 544.5,107.1 548.8,107.3 553.2,107.6 557.6,107.9 561.9,108.1 566.3,108.4 570.7,108.7 575.1,108.9 579.4,109.2 583.8,109.4 588.2,109.7"/>
<path d="M410.7,47.5 411.5,48 412.4,48.7 409.7,48.9 408.8,48.2 407.9,47.8Z" fill="#f9fa15" stroke="#f9fa15" stroke-width="0.35"/>
<path d="M412.4,48.7 413.3,49.6 410.6,49.7 409.7,48.9Z" fill="#f8f917" stroke="#f8f917" stroke-width="0.35"/>
<path d="M413.3,49.6 414.1,50.5 411.4,50.6 410.6,49.7Z" fill="#f8f719" stroke="#f8f719" stroke-width="0.35"/>
<path d="M414.1,50.5 415,51.6 412.3,51.6 411.4,50.6Z" fill="#f7f61a" stroke="#f7f61a" stroke-width="0.35"/>
<path d="M415,51.6 415.9,52.7 413.2,52.7 412.3,51.6Z" fill="#f7f41c" stroke="#f7f41c" stroke-width="0.35"/>
<path d="M415.9,52.7 416.8,53.9 414.1,53.8 413.2,52.7Z" fill="#f7f31d" stroke="#f7f31d" stroke-width="0.35"/>
<path d="M416.8,53.9 417.6,55.1 414.9,54.9 414.1,53.8Z" fill="#f6f01f" stroke="#f6f01f" stroke-width="0.35"/>
<path d="M417.6,55.1 418.5,56.3 415.8,56.1 414.9,54.9Z" fill="#f5ee21" stroke="#f5ee21" stroke-width="0.35"/>
<path d="M418.5,56.3 419.4,57.6 416.7,57.3 415.8,56.1Z" fill="#f5ed22" stroke="#f5ed22" stroke-width="0.35"/>
<path d="M419.4,57.6 420.3,58.8 417.5,58.6 416.7,57.3Z" fill="#f5ea24" stroke="#f5ea24" stroke-width="0.35"/>
<path d="M420.3,58.8 421.1,60.1 418.4,59.8 417.5,58.6Z" fill="#f5e825" stroke="#f5e825" stroke-width="0.35"/>
<path d="M421.1,60.1 422,61.4 419.3,61.1 418.4,59.8Z" fill="#f5e725" stroke="#f5e725" stroke-width="0.35"/>
<path d="M422,61.4 422.9,62.6 420.2,62.3 419.3,61.1Z" fill="#f5e427" stroke="#f5e427" stroke-width="0.35"/>
<path d="M422.9,62.6 423.8,63.9 421,63.6 420.2,62.3Z" fill="#f5e227" stroke="#f5e227" stroke-width="0.35"/>
<path d="M423.8,63.9 424.6,65.2 421.9,64.9 421,63.6Z" fill="#f6df29" stroke="#f6df29" stroke-width="0.35"/>
<path d="M424.6,65.2 425.5,66.4 422.8,66.1 421.9,64.9Z" fill="#f6de29" stroke="#f6de29" stroke-width="0.35"/>
<path d="M425.5,66.4 426.4,67.7 423.7,67.3 422.8,66.1Z" fill="#f7dc2a" stroke="#f7dc2a" stroke-width="0.35"/>
<path d="M426.4,67.7 427.3,68.9 424.5,68.6 423.7,67.3Z" fill="#f8d92c" stroke="#f8d92c" stroke-width="0.35"/>
<path d="M427.3,68.9 428.1,70.1 425.4,69.8 424.5,68.6Z" fill="#f9d72c" stroke="#f9d72c" stroke-width="0.35"/>
<path d="M428.1,70.1 429.9,72.5 427.2,72.1 425.4,69.8Z" fill="#fad62d" stroke="#fad62d" stroke-width="0.35"/>
<path d="M429.9,72.5 431.6,74.7 428.9,74.4 427.2,72.1Z" fill="#fcd12f" stroke="#fcd12f" stroke-width="0.35"/>
<path d="M431.6,74.7 433.4,76.9 430.7,76.6 428.9,74.4Z" fill="#fdce31" stroke="#fdce31" stroke-width="0.35"/>
<path d="M433.4,76.9 435.1,79 432.4,78.7 430.7,76.6Z" fill="#fdcb33" stroke="#fdcb33" stroke-width="0.35"/>
<path d="M435.1,79 436.9,80.9 434.2,80.7 432.4,78.7Z" fill="#fec636" stroke="#fec636" stroke-width="0.35"/>
<path d="M436.9,80.9 438.6,82.7 435.9,82.6 434.2,80.7Z" fill="#fec338" stroke="#fec338" stroke-width="0.35"/>
<path d="M438.6,82.7 440.4,84.5 437.6,84.3 435.9,82.6Z" fill="#fec13a" stroke="#fec13a" stroke-width="0.35"/>
<path d="M440.4,84.5 442.1,86.1 439.4,86 437.6,84.3Z" fill="#febf3b" stroke="#febf3b" stroke-width="0.35"/>
<path d="M442.1,86.1 443.9,87.6 441.1,87.6 439.4,86Z" fill="#fdbd3d" stroke="#fdbd3d" stroke-width="0.35"/>
<path d="M443.9,87.6 445.6,89 442.9,89 441.1,87.6Z" fill="#fabb3d" stroke="#fabb3d" stroke-width="0.35"/>
<path d="M445.6,89 447.4,90.3 444.6,90.4 442.9,89Z" fill="#f8ba3d" stroke="#f8ba3d" stroke-width="0.35"/>
<path d="M447.4,90.3 449.1,91.6 446.4,91.6 444.6,90.4Z" fill="#f4ba3a" stroke="#f4ba3a" stroke-width="0.35"/>
<path d="M449.1,91.6 450.9,92.7 448.1,92.8 446.4,91.6Z" fill="#f2ba38" stroke="#f2ba38" stroke-width="0.35"/>
<path d="M450.9,92.7 452.6,93.7 449.9,93.9 448.1,92.8Z" fill="#f0ba36" stroke="#f0ba36" stroke-width="0.35"/>
<path d="M452.6,93.7 454.4,94.7 451.6,94.9 449.9,93.9Z" fill="#eeba34" stroke="#eeba34" stroke-width="0.35"/>
<path d="M454.4,94.7 456.1,95.6 453.4,95.8 451.6,94.9Z" fill="#ecba32" stroke="#ecba32" stroke-width="0.35"/>
<path d="M456.1,95.6 457.8,96.4 455.1,96.6 453.4,95.8Z" fill="#e9bb30" stroke="#e9bb30" stroke-width="0.35"/>
<path d="M457.8,96.4 459.6,97.2 461.3,97.9 458.6,98.1 456.9,97.4 455.1,96.6Z" fill="#e7bb2e" stroke="#e7bb2e" stroke-width="0.35"/>
<path d="M461.3,97.9 463.1,98.5 460.4,98.8 458.6,98.1Z" fill="#e5bb2c" stroke="#e5bb2c" stroke-width="0.35"/>
<path d="M463.1,98.5 467.5,99.9 464.7,100.2 460.4,98.8Z" fill="#e2bc2b" stroke="#e2bc2b" stroke-width="0.35"/>
<path d="M467.5,99.9 471.8,101 469.1,101.3 464.7,100.2Z" fill="#d1af27" stroke="#d1af27" stroke-width="0.35"/>
<path d="M471.8,101 476.2,101.9 473.5,102.3 469.1,101.3Z" fill="#c0a423" stroke="#c0a423" stroke-width="0.35"/>
<path d="M476.2,101.9 480.6,102.6 477.9,103 473.5,102.3Z" fill="#b09820" stroke="#b09820" stroke-width="0.35"/>
<path d="M480.6,102.6 484.9,103.2 482.2,103.6 477.9,103Z" fill="#a28b1d" stroke="#a28b1d" stroke-width="0.35"/>
<path d="M484.9,103.2 489.3,103.7 486.6,104.2 482.2,103.6Z" fill="#91801b" stroke="#91801b" stroke-width="0.35"/>
<path d="M489.3,103.7 493.7,104.2 498.1,104.6 495.3,105 491,104.6 486.6,104.2Z" fill="#837318" stroke="#837318" stroke-width="0.35"/>
<path d="M498.1,104.6 502.4,104.9 506.8,105.3 511.2,105.6 515.5,105.9 519.9,106.2 517.2,106.6 512.8,106.3 508.4,106 504.1,105.7 499.7,105.4 495.3,105Z" fill="#756715" stroke="#756715" stroke-width="0.35"/>
<path d="M519.9,106.2 524.3,106.4 528.6,106.7 525.9,107.1 521.6,106.9 517.2,106.6Z" fill="#746715" stroke="#746715" stroke-width="0.35"/>
<path d="M528.6,106.7 533,107 537.4,107.2 541.8,107.5 546.1,107.8 550.5,108 554.9,108.3 559.2,108.5 563.6,108.8 568,109.1 572.3,109.3 576.7,109.6 581.1,109.8 585.5,110.1 582.7,110.5 578.4,110.3 574,110 569.6,109.8 565.3,109.5 560.9,109.2 556.5,109 552.1,108.7 547.8,108.5 543.4,108.2 539,107.9 534.7,107.7 530.3,107.4 525.9,107.1Z" fill="#665b13" stroke="#665b13" stroke-width="0.35"/>
<path class="es" d="M410.7,47.5 411.5,48 412.4,48.7 413.3,49.6 414.1,50.5 415,51.6 415.9,52.7 416.8,53.9 417.6,55.1 418.5,56.3 419.4,57.6 420.3,58.8 421.1,60.1 422,61.4 422.9,62.6 423.8,63.9 424.6,65.2 425.5,66.4 426.4,67.7 427.3,68.9 428.1,70.1 429.9,72.5 431.6,74.7 433.4,76.9 435.1,79 436.9,80.9 438.6,82.7 440.4,84.5 442.1,86.1 443.9,87.6 445.6,89 447.4,90.3 449.1,91.6 450.9,92.7 452.6,93.7 454.4,94.7 456.1,95.6 457.8,96.4 459.6,97.2 461.3,97.9 463.1,98.5 467.5,99.9 471.8,101 476.2,101.9 480.6,102.6 484.9,103.2 489.3,103.7 493.7,104.2 498.1,104.6 502.4,104.9 506.8,105.3 511.2,105.6 515.5,105.9 519.9,106.2 524.3,106.4 528.6,106.7 533,107 537.4,107.2 541.8,107.5 546.1,107.8 550.5,108 554.9,108.3 559.2,108.5 563.6,108.8 568,109.1 572.3,109.3 576.7,109.6 581.1,109.8 585.5,110.1"/>
<path d="M407.9,47.8 408.8,48.2 409.7,48.9 407,49.1 406.1,48.5 405.2,48.1Z" fill="#f9fa15" stroke="#f9fa15" stroke-width="0.35"/>
<path d="M409.7,48.9 410.6,49.7 407.8,49.8 407,49.1Z" fill="#f8f917" stroke="#f8f917" stroke-width="0.35"/>
<path d="M410.6,49.7 411.4,50.6 408.7,50.7 407.8,49.8Z" fill="#f8f719" stroke="#f8f719" stroke-width="0.35"/>
<path d="M411.4,50.6 412.3,51.6 409.6,51.6 408.7,50.7Z" fill="#f7f61a" stroke="#f7f61a" stroke-width="0.35"/>
<path d="M412.3,51.6 413.2,52.7 410.5,52.6 409.6,51.6Z" fill="#f7f41c" stroke="#f7f41c" stroke-width="0.35"/>
<path d="M413.2,52.7 414.1,53.8 411.3,53.7 410.5,52.6Z" fill="#f7f31d" stroke="#f7f31d" stroke-width="0.35"/>
<path d="M414.1,53.8 414.9,54.9 412.2,54.8 411.3,53.7Z" fill="#f6f11e" stroke="#f6f11e" stroke-width="0.35"/>
<path d="M414.9,54.9 415.8,56.1 413.1,55.9 412.2,54.8Z" fill="#f6f01f" stroke="#f6f01f" stroke-width="0.35"/>
<path d="M415.8,56.1 416.7,57.3 414,57.1 413.1,55.9Z" fill="#f5ed22" stroke="#f5ed22" stroke-width="0.35"/>
<path d="M416.7,57.3 417.5,58.6 414.8,58.3 414,57.1Z" fill="#f5eb23" stroke="#f5eb23" stroke-width="0.35"/>
<path d="M417.5,58.6 418.4,59.8 415.7,59.5 414.8,58.3Z" fill="#f5ea24" stroke="#f5ea24" stroke-width="0.35"/>
<path d="M418.4,59.8 419.3,61.1 416.6,60.8 415.7,59.5Z" fill="#f5e725" stroke="#f5e725" stroke-width="0.35"/>
<path d="M419.3,61.1 420.2,62.3 417.5,62 416.6,60.8Z" fill="#f5e526" stroke="#f5e526" stroke-width="0.35"/>
<path d="M420.2,62.3 421,63.6 418.3,63.2 417.5,62Z" fill="#f5e427" stroke="#f5e427" stroke-width="0.35"/>
<path d="M421,63.6 421.9,64.9 419.2,64.5 418.3,63.2Z" fill="#f6e128" stroke="#f6e128" stroke-width="0.35"/>
<path d="M421.9,64.9 422.8,66.1 420.1,65.7 419.2,64.5Z" fill="#f6df29" stroke="#f6df29" stroke-width="0.35"/>
<path d="M422.8,66.1 423.7,67.3 420.9,66.9 420.1,65.7Z" fill="#f6de29" stroke="#f6de29" stroke-width="0.35"/>
<path d="M423.7,67.3 424.5,68.6 421.8,68.1 420.9,66.9Z" fill="#f8da2b" stroke="#f8da2b" stroke-width="0.35"/>
<path d="M424.5,68.6 425.4,69.8 422.7,69.4 421.8,68.1Z" fill="#f8d92c" stroke="#f8d92c" stroke-width="0.35"/>
<path d="M425.4,69.8 427.2,72.1 424.4,71.7 422.7,69.4Z" fill="#f9d72c" stroke="#f9d72c" stroke-width="0.35"/>
<path d="M427.2,72.1 428.9,74.4 426.2,74 424.4,71.7Z" fill="#fbd32f" stroke="#fbd32f" stroke-width="0.35"/>
<path d="M428.9,74.4 430.7,76.6 427.9,76.2 426.2,74Z" fill="#fccf30" stroke="#fccf30" stroke-width="0.35"/>
<path d="M430.7,76.6 432.4,78.7 429.7,78.4 427.9,76.2Z" fill="#fdcb33" stroke="#fdcb33" stroke-width="0.35"/>
<path d="M432.4,78.7 434.2,80.7 431.4,80.4 429.7,78.4Z" fill="#fec835" stroke="#fec835" stroke-width="0.35"/>
<path d="M434.2,80.7 435.9,82.6 433.2,82.3 431.4,80.4Z" fill="#fec537" stroke="#fec537" stroke-width="0.35"/>
<path d="M435.9,82.6 437.6,84.3 434.9,84.1 433.2,82.3Z" fill="#fec239" stroke="#fec239" stroke-width="0.35"/>
<path d="M437.6,84.3 439.4,86 436.7,85.8 434.9,84.1Z" fill="#febf3b" stroke="#febf3b" stroke-width="0.35"/>
<path d="M439.4,86 441.1,87.6 438.4,87.4 436.7,85.8Z" fill="#fdbd3d" stroke="#fdbd3d" stroke-width="0.35"/>
<path d="M441.1,87.6 442.9,89 440.2,88.9 438.4,87.4Z" fill="#fbbc3d" stroke="#fbbc3d" stroke-width="0.35"/>
<path d="M442.9,89 444.6,90.4 441.9,90.3 440.2,88.9Z" fill="#f8ba3d" stroke="#f8ba3d" stroke-width="0.35"/>
<path d="M444.6,90.4 446.4,91.6 443.7,91.6 441.9,90.3Z" fill="#f6ba3c" stroke="#f6ba3c" stroke-width="0.35"/>
<path d="M446.4,91.6 448.1,92.8 445.4,92.8 443.7,91.6Z" fill="#f4ba3a" stroke="#f4ba3a" stroke-width="0.35"/>
<path d="M448.1,92.8 449.9,93.9 447.2,94 445.4,92.8Z" fill="#f0ba36" stroke="#f0ba36" stroke-width="0.35"/>
<path d="M449.9,93.9 451.6,94.9 448.9,95 447.2,94Z" fill="#eeba34" stroke="#eeba34" stroke-width="0.35"/>
<path d="M451.6,94.9 453.4,95.8 450.7,96 448.9,95Z" fill="#ecba32" stroke="#ecba32" stroke-width="0.35"/>
<path d="M453.4,95.8 455.1,96.6 456.9,97.4 454.2,97.6 452.4,96.8 450.7,96Z" fill="#e9bb30" stroke="#e9bb30" stroke-width="0.35"/>
<path d="M456.9,97.4 458.6,98.1 455.9,98.4 454.2,97.6Z" fill="#e7bb2e" stroke="#e7bb2e" stroke-width="0.35"/>
<path d="M458.6,98.1 460.4,98.8 457.7,99.1 455.9,98.4Z" fill="#e5bb2c" stroke="#e5bb2c" stroke-width="0.35"/>
<path d="M460.4,98.8 464.7,100.2 462,100.5 457.7,99.1Z" fill="#e2bc2b" stroke="#e2bc2b" stroke-width="0.35"/>
<path d="M464.7,100.2 469.1,101.3 466.4,101.7 462,100.5Z" fill="#d1af27" stroke="#d1af27" stroke-width="0.35"/>
<path d="M469.1,101.3 473.5,102.3 470.8,102.7 466.4,101.7Z" fill="#c0a423" stroke="#c0a423" stroke-width="0.35"/>
<path d="M473.5,102.3 477.9,103 475.1,103.4 470.8,102.7Z" fill="#b09820" stroke="#b09820" stroke-width="0.35"/>
<path d="M477.9,103 482.2,103.6 479.5,104.1 475.1,103.4Z" fill="#a28b1d" stroke="#a28b1d" stroke-width="0.35"/>
<path d="M482.2,103.6 486.6,104.2 491,104.6 488.2,105.1 483.9,104.6 479.5,104.1Z" fill="#91801b" stroke="#91801b" stroke-width="0.35"/>
<path d="M491,104.6 495.3,105 499.7,105.4 497,105.8 492.6,105.5 488.2,105.1Z" fill="#837318" stroke="#837318" stroke-width="0.35"/>
<path d="M499.7,105.4 504.1,105.7 508.4,106 512.8,106.3 517.2,106.6 521.6,106.9 525.9,107.1 523.2,107.6 518.8,107.3 514.5,107 510.1,106.8 505.7,106.5 501.4,106.2 497,105.8Z" fill="#756715" stroke="#756715" stroke-width="0.35"/>
<path d="M525.9,107.1 530.3,107.4 534.7,107.7 539,107.9 543.4,108.2 547.8,108.5 552.1,108.7 556.5,109 560.9,109.2 565.3,109.5 569.6,109.8 574,110 578.4,110.3 582.7,110.5 580,111 575.6,110.7 571.3,110.5 566.9,110.2 562.5,109.9 558.2,109.7 553.8,109.4 549.4,109.2 545.1,108.9 540.7,108.6 536.3,108.4 531.9,108.1 527.6,107.9 523.2,107.6Z" fill="#746715" stroke="#746715" stroke-width="0.35"/>
<path class="es" d="M407.9,47.8 408.8,48.2 409.7,48.9 410.6,49.7 411.4,50.6 412.3,51.6 413.2,52.7 414.1,53.8 414.9,54.9 415.8,56.1 416.7,57.3 417.5,58.6 418.4,59.8 419.3,61.1 420.2,62.3 421,63.6 421.9,64.9 422.8,66.1 423.7,67.3 424.5,68.6 425.4,69.8 427.2,72.1 428.9,74.4 430.7,76.6 432.4,78.7 434.2,80.7 435.9,82.6 437.6,84.3 439.4,86 441.1,87.6 442.9,89 444.6,90.4 446.4,91.6 448.1,92.8 449.9,93.9 451.6,94.9 453.4,95.8 455.1,96.6 456.9,97.4 458.6,98.1 460.4,98.8 464.7,100.2 469.1,101.3 473.5,102.3 477.9,103 482.2,103.6 486.6,104.2 491,104.6 495.3,105 499.7,105.4 504.1,105.7 508.4,106 512.8,106.3 517.2,106.6 521.6,106.9 525.9,107.1 530.3,107.4 534.7,107.7 539,107.9 543.4,108.2 547.8,108.5 552.1,108.7 556.5,109 560.9,109.2 565.3,109.5 569.6,109.8 574,110 578.4,110.3 582.7,110.5"/>
<path d="M405.2,48.1 406.1,48.5 407,49.1 404.2,49.3 403.4,48.8 402.5,48.5Z" fill="#f9fa15" stroke="#f9fa15" stroke-width="0.35"/>
<path d="M407,49.1 407.8,49.8 408.7,50.7 406,50.8 405.1,50 404.2,49.3Z" fill="#f8f917" stroke="#f8f917" stroke-width="0.35"/>
<path d="M408.7,50.7 409.6,51.6 406.9,51.7 406,50.8Z" fill="#f8f719" stroke="#f8f719" stroke-width="0.35"/>
<path d="M409.6,51.6 410.5,52.6 407.7,52.6 406.9,51.7Z" fill="#f7f61a" stroke="#f7f61a" stroke-width="0.35"/>
<path d="M410.5,52.6 411.3,53.7 408.6,53.6 407.7,52.6Z" fill="#f7f41c" stroke="#f7f41c" stroke-width="0.35"/>
<path d="M411.3,53.7 412.2,54.8 409.5,54.7 408.6,53.6Z" fill="#f7f31d" stroke="#f7f31d" stroke-width="0.35"/>
<path d="M412.2,54.8 413.1,55.9 410.4,55.8 409.5,54.7Z" fill="#f6f01f" stroke="#f6f01f" stroke-width="0.35"/>
<path d="M413.1,55.9 414,57.1 411.2,56.9 410.4,55.8Z" fill="#f5ee21" stroke="#f5ee21" stroke-width="0.35"/>
<path d="M414,57.1 414.8,58.3 412.1,58 411.2,56.9Z" fill="#f5ed22" stroke="#f5ed22" stroke-width="0.35"/>
<path d="M414.8,58.3 415.7,59.5 413,59.2 412.1,58Z" fill="#f5eb23" stroke="#f5eb23" stroke-width="0.35"/>
<path d="M415.7,59.5 416.6,60.8 413.9,60.4 413,59.2Z" fill="#f5e825" stroke="#f5e825" stroke-width="0.35"/>
<path d="M416.6,60.8 417.5,62 414.7,61.6 413.9,60.4Z" fill="#f5e725" stroke="#f5e725" stroke-width="0.35"/>
<path d="M417.5,62 418.3,63.2 415.6,62.8 414.7,61.6Z" fill="#f5e526" stroke="#f5e526" stroke-width="0.35"/>
<path d="M418.3,63.2 419.2,64.5 416.5,64 415.6,62.8Z" fill="#f5e227" stroke="#f5e227" stroke-width="0.35"/>
<path d="M419.2,64.5 420.1,65.7 417.4,65.3 416.5,64Z" fill="#f6e128" stroke="#f6e128" stroke-width="0.35"/>
<path d="M420.1,65.7 420.9,66.9 418.2,66.5 417.4,65.3Z" fill="#f6df29" stroke="#f6df29" stroke-width="0.35"/>
<path d="M420.9,66.9 421.8,68.1 419.1,67.7 418.2,66.5Z" fill="#f7dc2a" stroke="#f7dc2a" stroke-width="0.35"/>
<path d="M421.8,68.1 422.7,69.4 420,68.9 419.1,67.7Z" fill="#f8da2b" stroke="#f8da2b" stroke-width="0.35"/>
<path d="M422.7,69.4 424.4,71.7 421.7,71.2 420,68.9Z" fill="#f8d92c" stroke="#f8d92c" stroke-width="0.35"/>
<path d="M424.4,71.7 426.2,74 423.5,73.6 421.7,71.2Z" fill="#fad42e" stroke="#fad42e" stroke-width="0.35"/>
<path d="M426.2,74 427.9,76.2 425.2,75.8 423.5,73.6Z" fill="#fcd12f" stroke="#fcd12f" stroke-width="0.35"/>
<path d="M427.9,76.2 429.7,78.4 427,77.9 425.2,75.8Z" fill="#fdcc32" stroke="#fdcc32" stroke-width="0.35"/>
<path d="M429.7,78.4 431.4,80.4 428.7,80 427,77.9Z" fill="#fec934" stroke="#fec934" stroke-width="0.35"/>
<path d="M431.4,80.4 433.2,82.3 430.5,82 428.7,80Z" fill="#fec636" stroke="#fec636" stroke-width="0.35"/>
<path d="M433.2,82.3 434.9,84.1 432.2,83.8 430.5,82Z" fill="#fec338" stroke="#fec338" stroke-width="0.35"/>
<path d="M434.9,84.1 436.7,85.8 434,85.6 432.2,83.8Z" fill="#fec13a" stroke="#fec13a" stroke-width="0.35"/>
<path d="M436.7,85.8 438.4,87.4 435.7,87.2 434,85.6Z" fill="#febe3c" stroke="#febe3c" stroke-width="0.35"/>
<path d="M438.4,87.4 440.2,88.9 437.5,88.8 435.7,87.2Z" fill="#fbbc3d" stroke="#fbbc3d" stroke-width="0.35"/>
<path d="M440.2,88.9 441.9,90.3 439.2,90.2 437.5,88.8Z" fill="#fabb3d" stroke="#fabb3d" stroke-width="0.35"/>
<path d="M441.9,90.3 443.7,91.6 441,91.6 439.2,90.2Z" fill="#f6ba3c" stroke="#f6ba3c" stroke-width="0.35"/>
<path d="M443.7,91.6 445.4,92.8 442.7,92.8 441,91.6Z" fill="#f4ba3a" stroke="#f4ba3a" stroke-width="0.35"/>
<path d="M445.4,92.8 447.2,94 444.5,94 442.7,92.8Z" fill="#f2ba38" stroke="#f2ba38" stroke-width="0.35"/>
<path d="M447.2,94 448.9,95 446.2,95.1 444.5,94Z" fill="#f0ba36" stroke="#f0ba36" stroke-width="0.35"/>
<path d="M448.9,95 450.7,96 447.9,96.1 446.2,95.1Z" fill="#eeba34" stroke="#eeba34" stroke-width="0.35"/>
<path d="M450.7,96 452.4,96.8 449.7,97 447.9,96.1Z" fill="#ecba32" stroke="#ecba32" stroke-width="0.35"/>
<path d="M452.4,96.8 454.2,97.6 451.4,97.9 449.7,97Z" fill="#e9bb30" stroke="#e9bb30" stroke-width="0.35"/>
<path d="M454.2,97.6 455.9,98.4 453.2,98.6 451.4,97.9Z" fill="#e7bb2e" stroke="#e7bb2e" stroke-width="0.35"/>
<path d="M455.9,98.4 457.7,99.1 462,100.5 459.3,100.9 454.9,99.3 453.2,98.6Z" fill="#e5bb2c" stroke="#e5bb2c" stroke-width="0.35"/>
<path d="M462,100.5 466.4,101.7 463.7,102.1 459.3,100.9Z" fill="#e0bc2a" stroke="#e0bc2a" stroke-width="0.35"/>
<path d="M466.4,101.7 470.8,102.7 468.1,103.1 463.7,102.1Z" fill="#c0a423" stroke="#c0a423" stroke-width="0.35"/>
<path d="M470.8,102.7 475.1,103.4 472.4,103.9 468.1,103.1Z" fill="#b19821" stroke="#b19821" stroke-width="0.35"/>
<path d="M475.1,103.4 479.5,104.1 476.8,104.5 472.4,103.9Z" fill="#a28b1d" stroke="#a28b1d" stroke-width="0.35"/>
<path d="M479.5,104.1 483.9,104.6 481.2,105.1 476.8,104.5Z" fill="#937f1b" stroke="#937f1b" stroke-width="0.35"/>
<path d="M483.9,104.6 488.2,105.1 485.5,105.5 481.2,105.1Z" fill="#91801b" stroke="#91801b" stroke-width="0.35"/>
<path d="M488.2,105.1 492.6,105.5 497,105.8 501.4,106.2 498.6,106.6 494.3,106.3 489.9,105.9 485.5,105.5Z" fill="#837318" stroke="#837318" stroke-width="0.35"/>
<path d="M501.4,106.2 505.7,106.5 510.1,106.8 514.5,107 518.8,107.3 523.2,107.6 527.6,107.9 531.9,108.1 536.3,108.4 540.7,108.6 538,109.1 533.6,108.8 529.2,108.6 524.9,108.3 520.5,108.1 516.1,107.8 511.8,107.5 507.4,107.2 503,106.9 498.6,106.6Z" fill="#756715" stroke="#756715" stroke-width="0.35"/>
<path d="M540.7,108.6 545.1,108.9 549.4,109.2 553.8,109.4 558.2,109.7 562.5,109.9 566.9,110.2 571.3,110.5 575.6,110.7 580,111 577.3,111.5 572.9,111.2 568.6,110.9 564.2,110.7 559.8,110.4 555.4,110.2 551.1,109.9 546.7,109.6 542.3,109.4 538,109.1Z" fill="#746715" stroke="#746715" stroke-width="0.35"/>
<path class="es" d="M405.2,48.1 406.1,48.5 407,49.1 407.8,49.8 408.7,50.7 409.6,51.6 410.5,52.6 411.3,53.7 412.2,54.8 413.1,55.9 414,57.1 414.8,58.3 415.7,59.5 416.6,60.8 417.5,62 418.3,63.2 419.2,64.5 420.1,65.7 420.9,66.9 421.8,68.1 422.7,69.4 424.4,71.7 426.2,74 427.9,76.2 429.7,78.4 431.4,80.4 433.2,82.3 434.9,84.1 436.7,85.8 438.4,87.4 440.2,88.9 441.9,90.3 443.7,91.6 445.4,92.8 447.2,94 448.9,95 450.7,96 452.4,96.8 454.2,97.6 455.9,98.4 457.7,99.1 462,100.5 466.4,101.7 470.8,102.7 475.1,103.4 479.5,104.1 483.9,104.6 488.2,105.1 492.6,105.5 497,105.8 501.4,106.2 505.7,106.5 510.1,106.8 514.5,107 518.8,107.3 523.2,107.6 527.6,107.9 531.9,108.1 536.3,108.4 540.7,108.6 545.1,108.9 549.4,109.2 553.8,109.4 558.2,109.7 562.5,109.9 566.9,110.2 571.3,110.5 575.6,110.7 580,111"/>
<path class="es" d="M402.5,48.5 403.4,48.8 404.2,49.3 405.1,50 406,50.8 406.9,51.7 407.7,52.6 408.6,53.6 409.5,54.7 410.4,55.8 411.2,56.9 412.1,58 413,59.2 413.9,60.4 414.7,61.6 415.6,62.8 416.5,64 417.4,65.3 418.2,66.5 419.1,67.7 420,68.9 421.7,71.2 423.5,73.6 425.2,75.8 427,77.9 428.7,80 430.5,82 432.2,83.8 434,85.6 435.7,87.2 437.5,88.8 439.2,90.2 441,91.6 442.7,92.8 444.5,94 446.2,95.1 447.9,96.1 449.7,97 451.4,97.9 453.2,98.6 454.9,99.3 459.3,100.9 463.7,102.1 468.1,103.1 472.4,103.9 476.8,104.5 481.2,105.1 485.5,105.5 489.9,105.9 494.3,106.3 498.6,106.6 503,106.9 507.4,107.2 511.8,107.5 516.1,107.8 520.5,108.1 524.9,108.3 529.2,108.6 533.6,108.8 538,109.1 542.3,109.4 546.7,109.6 551.1,109.9 555.4,110.2 559.8,110.4 564.2,110.7 568.6,110.9 572.9,111.2 577.3,111.5"/>
<path class="e" d="M601.2,199.7C609,201.5 620,203.4 630,204.4S640,205.4 646,205.8"/>
<rect x="401.70" y="46.38" width="8.6" height="8.6" fill="#0000ff"/>
<rect x="424.42" y="75.29" width="8.6" height="8.6" fill="#0000ff"/>
<rect x="482.10" y="101.02" width="8.6" height="8.6" fill="#0000ff"/>
<circle cx="502.50" cy="153.30" r="3.05" fill="#ff0000"/>
<circle cx="525.23" cy="147.32" r="3.05" fill="#ff0000"/>
<circle cx="582.91" cy="144.54" r="3.05" fill="#ff0000"/>
<path d="M402.50,276.60L402.50,37.65" stroke="#404040" stroke-width="1" fill="none"/>
<path d="M402.50,276.60L577.30,287.00" stroke="#404040" stroke-width="1" fill="none"/>
<path d="M577.30,287.00L677.50,269.60" stroke="#404040" stroke-width="1" fill="none"/>
<path d="M402.50,276.60h-6" stroke="#404040" stroke-width="1"/>
<text x="394.00" y="282.10" class="t" text-anchor="end">0</text>
<path d="M402.50,196.95h-6" stroke="#404040" stroke-width="1"/>
<text x="394.00" y="202.45" class="t" text-anchor="end">50</text>
<path d="M402.50,117.30h-6" stroke="#404040" stroke-width="1"/>
<text x="394.00" y="122.80" class="t" text-anchor="end">100</text>
<path d="M402.50,37.65h-6" stroke="#404040" stroke-width="1"/>
<text x="394.00" y="43.15" class="t" text-anchor="end">150</text>
<path d="M402.50,276.60v6" stroke="#404040" stroke-width="1"/>
<text x="402.80" y="299.60" class="t" text-anchor="end">0</text>
<path d="M489.90,281.80v6" stroke="#404040" stroke-width="1"/>
<text x="490.20" y="304.80" class="t" text-anchor="end">500</text>
<path d="M577.30,287.00v6" stroke="#404040" stroke-width="1"/>
<text x="577.60" y="310.00" class="t" text-anchor="end">1000</text>
<path d="M577.30,287.00v6" stroke="#404040" stroke-width="1"/>
<text x="577.80" y="300.00" class="t">0.2</text>
<path d="M627.40,278.30v6" stroke="#404040" stroke-width="1"/>
<text x="627.90" y="291.30" class="t">0.1</text>
<path d="M677.50,269.60v6" stroke="#404040" stroke-width="1"/>
<text x="678.00" y="282.60" class="t">0</text>
<text x="465" y="320" class="t" text-anchor="middle">AMPK</text>
<text x="657" y="317.9" class="t" text-anchor="middle">V_IR</text>
<text transform="translate(367.6,157.2) rotate(-90)" class="al" text-anchor="middle">pmTORC1 + pmTORC2</text>
<text x="356.5" y="14.2" class="lab">B</text>
</svg>
</body></html>
